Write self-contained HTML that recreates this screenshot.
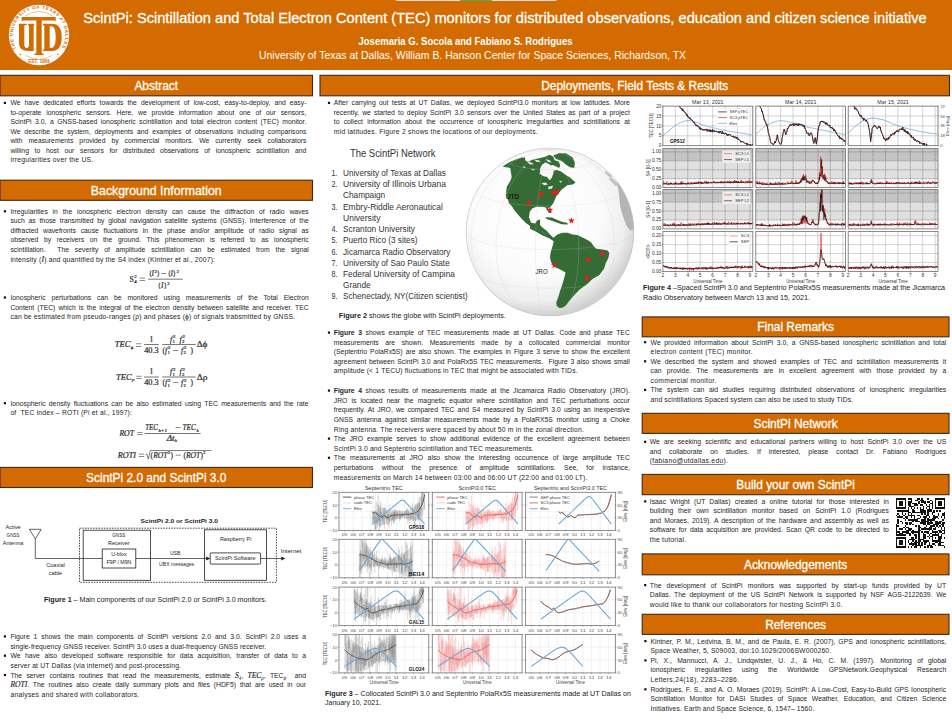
<!DOCTYPE html>
<html><head><meta charset="utf-8"><title>ScintPi poster</title>
<style>
html,body{margin:0;padding:0;background:#fff;width:952px;height:720px;overflow:hidden}
svg{display:block;font-family:"Liberation Sans",sans-serif}
text{fill:#222}
</style></head><body>
<svg width="952" height="720" viewBox="0 0 952 720">
<rect x="0" y="0" width="952" height="70" fill="#D46B00"/>
<rect x="396" y="0" width="160.5" height="1" fill="#d9d9d9"/>
<rect x="460" y="0" width="32" height="1" fill="#4caf50"/>
<g>
<circle cx="39" cy="35" r="30.2" fill="#fff"/>
<path id="arcTop" d="M 16.6 48.6 A 26.2 26.2 0 1 1 61.4 48.6" fill="none"/>
<text font-size="4.6" font-weight="bold" style="fill:#D46B00"><textPath href="#arcTop" textLength="109" lengthAdjust="spacing">THE UNIVERSITY OF TEXAS AT DALLAS</textPath></text>
<text x="39" y="62.6" font-size="5.0" font-weight="bold" text-anchor="middle" textLength="21.5" lengthAdjust="spacingAndGlyphs" style="fill:#D46B00">EST. 1969</text>
<circle cx="20.3" cy="54.6" r="0.75" fill="#D46B00"/><circle cx="57.7" cy="54.2" r="0.75" fill="#D46B00"/>
<path d="M 25.5 15.8 A 23.5 23.5 0 0 1 52.5 15.8" fill="none" stroke="#D46B00" stroke-width="0.45"/>
<path d="M 25.8 55.4 A 23.5 23.5 0 0 0 52.2 55.4" fill="none" stroke="#D46B00" stroke-width="0.45"/>
<path d="M18.7 23.7 H26.7 V25.3 H24.3 V44 Q24.3 48 26.8 48 Q29 48 29 44 V25.3 H28 V23.7 H34.3 V25.3 H33.7 V51 H28.5 Q19 51 19 43 V25.3 H18.7 Z" fill="#D46B00"/>
<path d="M43 23.7 H52 Q61.7 23.7 61.7 37.3 Q61.7 51 52 51 H43 V49.4 H44.3 V25.3 H43 Z M49.7 26.3 V48 H51.5 Q55.7 48 55.7 37.3 Q55.7 26.3 51.5 26.3 Z" fill="#D46B00" fill-rule="evenodd"/>
<path d="M21.7 17 H55.7 V21.5 Q54.8 20.6 53.6 20.6 H41.7 V52.8 Q41.7 53.8 43.6 53.8 V55 H34.4 V53.8 Q36.3 53.8 36.3 52.8 V20.6 H23.8 Q22.6 20.6 21.7 21.5 Z" fill="#D46B00"/>
</g>
<text x="83.20" y="22.70" font-size="15.2" textLength="843.50" lengthAdjust="spacingAndGlyphs" style="fill:#fff" stroke="#fff" stroke-width="0.3" xml:space="preserve">ScintPi: Scintillation and Total Electron Content (TEC) monitors for distributed observations, education and citizen science initiative</text>
<text x="358.50" y="44.60" font-size="10.2" textLength="214.00" lengthAdjust="spacingAndGlyphs" style="fill:#fff" xml:space="preserve"><tspan font-weight="bold">Josemaria G. Socola and Fabiano S. Rodrigues</tspan></text>
<text x="259.00" y="59.00" font-size="10.4" textLength="427.00" lengthAdjust="spacingAndGlyphs" style="fill:#fff" xml:space="preserve">University of Texas at Dallas, William B. Hanson Center for Space Sciences, Richardson, TX</text>
<rect x="0.0" y="75.3" width="312.50" height="20.50" fill="#D46B00" stroke="#3b2a1c" stroke-width="1.1"/>
<text x="156.25" y="90.15" font-size="12.8" textLength="43.67" lengthAdjust="spacingAndGlyphs" style="fill:#fff" text-anchor="middle" stroke="#fff" stroke-width="0.32" xml:space="preserve">Abstract</text>
<rect x="320" y="75.3" width="629.50" height="20.50" fill="#D46B00" stroke="#3b2a1c" stroke-width="1.1"/>
<text x="634.75" y="90.15" font-size="12.8" textLength="187.05" lengthAdjust="spacingAndGlyphs" style="fill:#fff" text-anchor="middle" stroke="#fff" stroke-width="0.32" xml:space="preserve">Deployments, Field Tests &amp; Results</text>
<rect x="0.0" y="180.2" width="312.50" height="20.10" fill="#D46B00" stroke="#3b2a1c" stroke-width="1.1"/>
<text x="156.25" y="194.85" font-size="12.8" textLength="130.83" lengthAdjust="spacingAndGlyphs" style="fill:#fff" text-anchor="middle" stroke="#fff" stroke-width="0.32" xml:space="preserve">Background Information</text>
<rect x="0.0" y="467.4" width="312.50" height="20.10" fill="#D46B00" stroke="#3b2a1c" stroke-width="1.1"/>
<text x="156.25" y="482.05" font-size="12.8" textLength="140.31" lengthAdjust="spacingAndGlyphs" style="fill:#fff" text-anchor="middle" stroke="#fff" stroke-width="0.32" xml:space="preserve">ScintPi 2.0 and ScintPi 3.0</text>
<rect x="642.2" y="316.9" width="306.80" height="19.90" fill="#D46B00" stroke="#3b2a1c" stroke-width="1.1"/>
<text x="795.60" y="331.45" font-size="12.8" textLength="76.75" lengthAdjust="spacingAndGlyphs" style="fill:#fff" text-anchor="middle" stroke="#fff" stroke-width="0.32" xml:space="preserve">Final Remarks</text>
<rect x="642.2" y="413.3" width="306.80" height="20.10" fill="#D46B00" stroke="#3b2a1c" stroke-width="1.1"/>
<text x="795.60" y="427.95" font-size="12.8" textLength="84.03" lengthAdjust="spacingAndGlyphs" style="fill:#fff" text-anchor="middle" stroke="#fff" stroke-width="0.32" xml:space="preserve">ScintPi Network</text>
<rect x="642.2" y="474.4" width="306.80" height="20.30" fill="#D46B00" stroke="#3b2a1c" stroke-width="1.1"/>
<text x="795.60" y="489.15" font-size="12.8" textLength="118.46" lengthAdjust="spacingAndGlyphs" style="fill:#fff" text-anchor="middle" stroke="#fff" stroke-width="0.32" xml:space="preserve">Build your own ScintPi</text>
<rect x="642.2" y="553.9" width="306.80" height="20.90" fill="#D46B00" stroke="#3b2a1c" stroke-width="1.1"/>
<text x="795.60" y="568.95" font-size="12.8" textLength="103.24" lengthAdjust="spacingAndGlyphs" style="fill:#fff" text-anchor="middle" stroke="#fff" stroke-width="0.32" xml:space="preserve">Acknowledgements</text>
<rect x="642.2" y="614.3" width="306.80" height="20.10" fill="#D46B00" stroke="#3b2a1c" stroke-width="1.1"/>
<text x="795.60" y="628.95" font-size="12.8" textLength="60.89" lengthAdjust="spacingAndGlyphs" style="fill:#fff" text-anchor="middle" stroke="#fff" stroke-width="0.32" xml:space="preserve">References</text>
<text x="10.40" y="105.40" font-size="6.8" textLength="296.00" lengthAdjust="spacing" style="fill:#262626" word-spacing="2.136" xml:space="preserve">We have dedicated efforts towards the development of low-cost, easy-to-deploy, and easy-</text>
<text x="10.40" y="114.87" font-size="6.8" textLength="296.00" lengthAdjust="spacing" style="fill:#262626" word-spacing="2.995" xml:space="preserve">to-operate ionospheric sensors. Here, we provide information about one of our sensors,</text>
<text x="10.40" y="124.34" font-size="6.8" textLength="296.00" lengthAdjust="spacing" style="fill:#262626" word-spacing="1.621" xml:space="preserve">ScintPi 3.0, a GNSS-based ionospheric scintillation and total electron content (TEC) monitor.</text>
<text x="10.40" y="133.81" font-size="6.8" textLength="296.00" lengthAdjust="spacing" style="fill:#262626" word-spacing="1.985" xml:space="preserve">We describe the system, deployments and examples of observations including comparisons</text>
<text x="10.40" y="143.28" font-size="6.8" textLength="296.00" lengthAdjust="spacing" style="fill:#262626" word-spacing="4.057" xml:space="preserve">with measurements provided by commercial monitors. We currently seek collaborators</text>
<text x="10.40" y="152.75" font-size="6.8" textLength="296.00" lengthAdjust="spacing" style="fill:#262626" word-spacing="3.785" xml:space="preserve">willing to host our sensors for distributed observations of ionospheric scintillation and</text>
<text x="10.40" y="162.22" font-size="6.8" textLength="82.85" lengthAdjust="spacing" style="fill:#262626" xml:space="preserve">irregularities over the US.</text>
<rect x="3.80" y="101.80" width="2.2" height="2.2" fill="#111"/>
<text x="10.40" y="213.80" font-size="6.8" textLength="298.30" lengthAdjust="spacing" style="fill:#262626" word-spacing="2.916" xml:space="preserve">Irregularities in the ionospheric electron density can cause the diffraction of radio waves</text>
<text x="10.40" y="223.34" font-size="6.8" textLength="298.30" lengthAdjust="spacing" style="fill:#262626" word-spacing="1.867" xml:space="preserve">such as those transmitted by global navigation satellite systems (GNSS). Interference of the</text>
<text x="10.40" y="232.88" font-size="6.8" textLength="298.30" lengthAdjust="spacing" style="fill:#262626" word-spacing="2.883" xml:space="preserve">diffracted wavefronts cause fluctuations in the phase and/or amplitude of radio signal as</text>
<text x="10.40" y="242.42" font-size="6.8" textLength="298.30" lengthAdjust="spacing" style="fill:#262626" word-spacing="3.671" xml:space="preserve">observed by receivers on the ground. This phenomenon is referred to as ionospheric</text>
<text x="10.40" y="251.96" font-size="6.8" textLength="298.30" lengthAdjust="spacing" style="fill:#262626" word-spacing="4.019" xml:space="preserve">scintillation.  The severity of amplitude scintillation can be estimated from the signal</text>
<text x="10.40" y="261.50" font-size="6.8" textLength="204.60" lengthAdjust="spacing" style="fill:#262626" xml:space="preserve">intensity (<tspan font-family="Liberation Serif" font-style="italic" font-size="7.62" stroke="currentColor" stroke-width="0.12">I</tspan>) and quantified by the S4 index (Kintner et al., 2007):</text>
<rect x="3.80" y="210.20" width="2.2" height="2.2" fill="#111"/>
<text x="10.40" y="300.00" font-size="6.8" textLength="298.30" lengthAdjust="spacing" style="fill:#262626" word-spacing="4.028" xml:space="preserve">Ionospheric perturbations can be monitored using measurements of the Total Electron</text>
<text x="10.40" y="309.60" font-size="6.8" textLength="298.30" lengthAdjust="spacing" style="fill:#262626" word-spacing="1.123" xml:space="preserve">Content (TEC) which is the integral of the electron density between satellite and receiver. TEC</text>
<text x="10.40" y="319.20" font-size="6.8" textLength="284.60" lengthAdjust="spacing" style="fill:#262626" xml:space="preserve">can be estimated from pseudo-ranges (ρ) and phases (ϕ) of signals trabsmitted by GNSS.</text>
<rect x="3.80" y="296.40" width="2.2" height="2.2" fill="#111"/>
<text x="10.40" y="405.70" font-size="6.8" textLength="298.10" lengthAdjust="spacing" style="fill:#262626" word-spacing="1.387" xml:space="preserve">Ionospheric density fluctuations can be also estimated using TEC measurements and the rate</text>
<text x="10.40" y="415.10" font-size="6.8" textLength="121.55" lengthAdjust="spacing" style="fill:#262626" xml:space="preserve">of  TEC index – ROTI (Pi et al., 1997):</text>
<rect x="3.80" y="402.10" width="2.2" height="2.2" fill="#111"/>
<text x="10.40" y="638.90" font-size="6.8" textLength="295.70" lengthAdjust="spacing" style="fill:#262626" word-spacing="2.050" xml:space="preserve">Figure 1 shows the main components of ScintPi versions 2.0 and 3.0. ScintPi 2.0 uses a</text>
<text x="10.40" y="648.50" font-size="6.8" textLength="255.80" lengthAdjust="spacing" style="fill:#262626" xml:space="preserve">single-frequency GNSS receiver. ScintPi 3.0 uses a dual-frequency GNSS receiver.</text>
<text x="10.40" y="658.20" font-size="6.8" textLength="295.70" lengthAdjust="spacing" style="fill:#262626" word-spacing="2.723" xml:space="preserve">We have also developed software responsible for data acquisition, transfer of data to a</text>
<text x="10.40" y="667.80" font-size="6.8" textLength="170.60" lengthAdjust="spacing" style="fill:#262626" xml:space="preserve">server at UT Dallas (via internet) and post-processing.</text>
<text x="10.40" y="677.50" font-size="6.8" textLength="295.70" lengthAdjust="spacing" style="fill:#262626" word-spacing="2.497" xml:space="preserve">The server contains routines that read the measurements, estimate <tspan font-family="Liberation Serif" font-style="italic" font-size="7.62" stroke="currentColor" stroke-width="0.12">S</tspan><tspan font-family="Liberation Serif" font-style="italic" font-size="5.10" baseline-shift="-1.6">4</tspan>, <tspan font-family="Liberation Serif" font-style="italic" font-size="7.62" stroke="currentColor" stroke-width="0.12">TEC</tspan><tspan font-family="Liberation Serif" font-style="italic" font-size="5.10" baseline-shift="-1.6">ρ</tspan>, TEC<tspan font-family="Liberation Serif" font-style="italic" font-size="5.10" baseline-shift="-1.6">ϕ</tspan>  and</text>
<text x="10.40" y="687.10" font-size="6.8" textLength="295.70" lengthAdjust="spacing" style="fill:#262626" word-spacing="2.010" xml:space="preserve"><tspan font-family="Liberation Serif" font-style="italic" font-size="7.62" stroke="currentColor" stroke-width="0.12">ROTI</tspan>. The routines also create daily summary plots and files (HDF5) that are used in our</text>
<text x="10.40" y="696.80" font-size="6.8" textLength="128.99" lengthAdjust="spacing" style="fill:#262626" xml:space="preserve">analyses and shared with collaborators.</text>
<rect x="3.80" y="635.30" width="2.2" height="2.2" fill="#111"/>
<rect x="3.80" y="654.60" width="2.2" height="2.2" fill="#111"/>
<rect x="3.80" y="673.90" width="2.2" height="2.2" fill="#111"/>
<text x="44.00" y="602.40" font-size="7.4" textLength="222.80" lengthAdjust="spacingAndGlyphs" style="fill:#222" xml:space="preserve"><tspan font-weight="bold">Figure 1</tspan> – Main components of our ScintPi 2.0 or ScintPi 3.0 monitors.</text>
<text x="333.80" y="105.40" font-size="6.8" textLength="296.00" lengthAdjust="spacing" style="fill:#262626" word-spacing="1.446" xml:space="preserve">After carrying out tests at UT Dallas, we deployed ScintPi3.0 monitors at low latitudes. More</text>
<text x="333.80" y="114.80" font-size="6.8" textLength="296.00" lengthAdjust="spacing" style="fill:#262626" word-spacing="1.288" xml:space="preserve">recently, we started to deploy ScintPi 3.0 sensors over the United States as part of a project</text>
<text x="333.80" y="124.30" font-size="6.8" textLength="296.00" lengthAdjust="spacing" style="fill:#262626" word-spacing="2.308" xml:space="preserve">to collect information about the occurrence of ionospheric irregularities and scintillations at</text>
<text x="333.80" y="133.70" font-size="6.8" textLength="203.92" lengthAdjust="spacing" style="fill:#262626" xml:space="preserve">mid latitudes. Figure 2 shows the locations of our deployments.</text>
<rect x="327.90" y="101.80" width="2.2" height="2.2" fill="#111"/>
<text x="338.80" y="318.20" font-size="6.9" textLength="167.00" lengthAdjust="spacingAndGlyphs" style="fill:#222" xml:space="preserve"><tspan font-weight="bold">Figure 2</tspan> shows the globe with ScintPi deployments.</text>
<text x="333.80" y="335.10" font-size="6.8" textLength="296.00" lengthAdjust="spacing" style="fill:#262626" word-spacing="1.707" xml:space="preserve"><tspan font-weight="bold">Figure 3</tspan> shows example of TEC measurements made at UT Dallas. Code and phase TEC</text>
<text x="333.80" y="344.67" font-size="6.8" textLength="296.00" lengthAdjust="spacing" style="fill:#262626" word-spacing="4.629" xml:space="preserve">measurements are shown. Measurements made by a collocated commercial monitor</text>
<text x="333.80" y="354.24" font-size="6.8" textLength="296.00" lengthAdjust="spacing" style="fill:#262626" word-spacing="1.175" xml:space="preserve">(Septentrio PolaRx5S) are also shown. The examples in Figure 3 serve to show the excellent</text>
<text x="333.80" y="363.81" font-size="6.8" textLength="296.00" lengthAdjust="spacing" style="fill:#262626" word-spacing="0.771" xml:space="preserve">agreement between ScintPi 3.0 and PolaRx5S TEC measurements.  Figure 3 also shows small</text>
<text x="333.80" y="373.38" font-size="6.8" textLength="243.80" lengthAdjust="spacing" style="fill:#262626" xml:space="preserve">amplitude (&lt; 1 TECU) fluctuations in TEC that might be associated with TIDs.</text>
<rect x="327.90" y="331.50" width="2.2" height="2.2" fill="#111"/>
<text x="333.80" y="393.10" font-size="6.8" textLength="296.00" lengthAdjust="spacing" style="fill:#262626" word-spacing="1.742" xml:space="preserve"><tspan font-weight="bold">Figure 4</tspan> shows results of measurements made at the Jicamarca Radio Observatory (JRO).</text>
<text x="333.80" y="402.70" font-size="6.8" textLength="296.00" lengthAdjust="spacing" style="fill:#262626" word-spacing="2.189" xml:space="preserve">JRO is located near the magnetic equator where scintillation and TEC perturbations occur</text>
<text x="333.80" y="412.30" font-size="6.8" textLength="296.00" lengthAdjust="spacing" style="fill:#262626" word-spacing="1.210" xml:space="preserve">frequently. At JRO, we compared TEC and S4 measured by ScintPi 3.0 using an inexpensive</text>
<text x="333.80" y="421.90" font-size="6.8" textLength="296.00" lengthAdjust="spacing" style="fill:#262626" word-spacing="1.769" xml:space="preserve">GNSS antenna against similar measurements made by a PolaRX5S monitor using a Choke</text>
<text x="333.80" y="431.50" font-size="6.8" textLength="250.00" lengthAdjust="spacing" style="fill:#262626" xml:space="preserve">Ring antenna. The receivers were spaced by about 50 m in the zonal direction.</text>
<text x="333.80" y="441.10" font-size="6.8" textLength="296.00" lengthAdjust="spacing" style="fill:#262626" word-spacing="2.020" xml:space="preserve">The JRO example serves to show additional evidence of the excellent agreement between</text>
<text x="333.80" y="450.70" font-size="6.8" textLength="199.80" lengthAdjust="spacing" style="fill:#262626" xml:space="preserve">ScintPi 3.0 and Septentrio scintillation and TEC measurements.</text>
<text x="333.80" y="460.30" font-size="6.8" textLength="296.00" lengthAdjust="spacing" style="fill:#262626" word-spacing="2.568" xml:space="preserve">The measurements at JRO also show the interesting occurrence of large amplitude TEC</text>
<text x="333.80" y="469.90" font-size="6.8" textLength="296.00" lengthAdjust="spacing" style="fill:#262626" word-spacing="6.389" xml:space="preserve">perturbations without the presence of amplitude scintillations. See, for instance,</text>
<rect x="327.90" y="389.50" width="2.2" height="2.2" fill="#111"/>
<rect x="327.90" y="437.50" width="2.2" height="2.2" fill="#111"/>
<rect x="327.90" y="456.70" width="2.2" height="2.2" fill="#111"/>
<text x="333.80" y="479.50" font-size="6.8" textLength="253.50" lengthAdjust="spacing" style="fill:#262626" xml:space="preserve">measurements on March 14 between 03:00 and 06:00 UT (22:00 and 01:00 LT).</text>
<text x="325.00" y="695.60" font-size="7.6" textLength="306.00" lengthAdjust="spacingAndGlyphs" style="fill:#222" xml:space="preserve"><tspan font-weight="bold">Figure 3</tspan> – Collocated ScintPi 3.0 and Septentrio PolaRx5S measurements made at UT Dallas on</text>
<text x="325.00" y="704.80" font-size="7.6" textLength="56.00" lengthAdjust="spacingAndGlyphs" style="fill:#222" xml:space="preserve">January 10, 2021.</text>
<text x="643.00" y="290.40" font-size="7.4" textLength="302.00" lengthAdjust="spacingAndGlyphs" style="fill:#222" xml:space="preserve"><tspan font-weight="bold">Figure 4</tspan> –Spaced ScintPi 3.0 and Septentrio PolaRx5S measurements made at the Jicamarca</text>
<text x="643.00" y="299.80" font-size="7.4" textLength="167.00" lengthAdjust="spacingAndGlyphs" style="fill:#222" xml:space="preserve">Radio Observatory between March 13 and 15, 2021.</text>
<text x="650.60" y="344.70" font-size="6.8" textLength="295.60" lengthAdjust="spacing" style="fill:#262626" word-spacing="1.767" xml:space="preserve">We provided information about ScintPi 3.0, a GNSS-based ionospheric scintillation and total</text>
<text x="650.60" y="354.20" font-size="6.8" textLength="102.03" lengthAdjust="spacing" style="fill:#262626" xml:space="preserve">electron content (TEC) monitor.</text>
<text x="650.60" y="363.80" font-size="6.8" textLength="295.60" lengthAdjust="spacing" style="fill:#262626" word-spacing="2.199" xml:space="preserve">We described the system and showed examples of TEC and scintillation measurements it</text>
<text x="650.60" y="373.30" font-size="6.8" textLength="295.60" lengthAdjust="spacing" style="fill:#262626" word-spacing="3.415" xml:space="preserve">can provide. The measurements are in excellent agreement with those provided by a</text>
<text x="650.60" y="382.90" font-size="6.8" textLength="65.70" lengthAdjust="spacing" style="fill:#262626" xml:space="preserve">commercial monitor.</text>
<text x="650.60" y="392.40" font-size="6.8" textLength="295.60" lengthAdjust="spacing" style="fill:#262626" word-spacing="2.802" xml:space="preserve">The system can aid studies requiring distributed observations of ionospheric irregularities</text>
<text x="650.60" y="401.60" font-size="6.8" textLength="202.60" lengthAdjust="spacing" style="fill:#262626" xml:space="preserve">and scintillations Spaced system can also be used to study TIDs.</text>
<rect x="644.00" y="341.10" width="2.2" height="2.2" fill="#111"/>
<rect x="644.00" y="360.20" width="2.2" height="2.2" fill="#111"/>
<rect x="644.00" y="388.80" width="2.2" height="2.2" fill="#111"/>
<text x="649.80" y="444.30" font-size="6.8" textLength="296.40" lengthAdjust="spacing" style="fill:#262626" word-spacing="2.121" xml:space="preserve">We are seeking scientific and educational partners willing to host ScintPi 3.0 over the US</text>
<text x="649.80" y="453.90" font-size="6.8" textLength="296.40" lengthAdjust="spacing" style="fill:#262626" word-spacing="6.016" xml:space="preserve">and collaborate on studies. If interested, please contact Dr. Fabiano Rodrigues</text>
<text x="649.80" y="463.30" font-size="6.8" textLength="78.08" lengthAdjust="spacing" style="fill:#262626" xml:space="preserve">(fabiano@utdallas.edu).</text>
<rect x="644.10" y="440.70" width="2.2" height="2.2" fill="#111"/>
<rect x="652.5" y="464.3" width="71" height="0.6" fill="#444"/>
<text x="649.80" y="503.90" font-size="6.8" textLength="239.00" lengthAdjust="spacing" style="fill:#262626" word-spacing="2.304" xml:space="preserve">Isaac Wright (UT Dallas) created a online tutorial for those interested in</text>
<text x="649.80" y="513.30" font-size="6.8" textLength="239.00" lengthAdjust="spacing" style="fill:#262626" word-spacing="2.996" xml:space="preserve">building their own scintillation monitor based on ScintPi 1.0 (Rodrigues</text>
<text x="649.80" y="522.80" font-size="6.8" textLength="239.00" lengthAdjust="spacing" style="fill:#262626" word-spacing="1.239" xml:space="preserve">and Moraes, 2019). A description of the hardware and assembly as well as</text>
<text x="649.80" y="532.20" font-size="6.8" textLength="239.00" lengthAdjust="spacing" style="fill:#262626" word-spacing="1.333" xml:space="preserve">software for data acquisition are provided. Scan QR code to be directed to</text>
<text x="649.80" y="542.00" font-size="6.8" textLength="36.33" lengthAdjust="spacing" style="fill:#262626" xml:space="preserve">the tutorial.</text>
<rect x="644.10" y="500.30" width="2.2" height="2.2" fill="#111"/>
<text x="649.80" y="587.60" font-size="6.8" textLength="296.40" lengthAdjust="spacing" style="fill:#262626" word-spacing="3.220" xml:space="preserve">The development of ScintPi monitors was supported by start-up funds provided by UT</text>
<text x="649.80" y="597.20" font-size="6.8" textLength="296.40" lengthAdjust="spacing" style="fill:#262626" word-spacing="1.771" xml:space="preserve">Dallas. The deployment of the US ScintPi Network is supported by NSF AGS-2122639. We</text>
<text x="649.80" y="606.80" font-size="6.8" textLength="192.67" lengthAdjust="spacing" style="fill:#262626" xml:space="preserve">would like to thank our collaborators for hosting ScintPi 3.0.</text>
<rect x="644.10" y="584.00" width="2.2" height="2.2" fill="#111"/>
<text x="650.40" y="643.60" font-size="6.8" textLength="295.80" lengthAdjust="spacing" style="fill:#262626" word-spacing="1.057" xml:space="preserve">Kintner, P. M., Ledvina, B. M., and de Paula, E. R. (2007), GPS and ionospheric scintillations,</text>
<text x="650.40" y="653.10" font-size="6.8" textLength="180.80" lengthAdjust="spacing" style="fill:#262626" xml:space="preserve">Space Weather, 5, S09003, doi:10.1029/2006SW000260.</text>
<text x="650.40" y="662.90" font-size="6.8" textLength="295.80" lengthAdjust="spacing" style="fill:#262626" word-spacing="3.369" xml:space="preserve">Pi, X., Mannucci, A. J., Lindqwister, U. J., &amp; Ho, C. M. (1997). Monitoring of global</text>
<text x="650.40" y="672.40" font-size="6.8" textLength="295.80" lengthAdjust="spacing" style="fill:#262626" word-spacing="7.938" xml:space="preserve">ionospheric irregularities using the Worldwide GPSNetwork.Geophysical Research</text>
<text x="650.40" y="682.20" font-size="6.8" textLength="88.59" lengthAdjust="spacing" style="fill:#262626" xml:space="preserve">Letters,24(18), 2283–2286.</text>
<text x="650.40" y="691.80" font-size="6.8" textLength="295.80" lengthAdjust="spacing" style="fill:#262626" word-spacing="0.659" xml:space="preserve">Rodrigues, F. S., and A. O. Moraes (2019). ScintPi: A Low-Cost, Easy-to-Build GPS Ionospheric</text>
<text x="650.40" y="701.40" font-size="6.8" textLength="295.80" lengthAdjust="spacing" style="fill:#262626" word-spacing="2.816" xml:space="preserve">Scintillation Monitor for DASI Studies of Space Weather, Education, and Citizen Science</text>
<text x="650.40" y="710.90" font-size="6.8" textLength="163.90" lengthAdjust="spacing" style="fill:#262626" xml:space="preserve">Initiatives. Earth and Space Science, 6, 1547– 1560.</text>
<rect x="644.30" y="640.00" width="2.2" height="2.2" fill="#111"/>
<rect x="644.30" y="659.30" width="2.2" height="2.2" fill="#111"/>
<rect x="644.30" y="688.20" width="2.2" height="2.2" fill="#111"/>
<text x="129.60" y="281.80" font-size="7.8" font-family="Liberation Serif" style="fill:#2a2a2a" stroke="#2a2a2a" stroke-width="0.2" xml:space="preserve">S</text>
<text x="134.20" y="283.30" font-size="5.0" font-family="Liberation Serif" style="fill:#2a2a2a" stroke="#2a2a2a" stroke-width="0.2" xml:space="preserve">4</text>
<text x="134.20" y="277.90" font-size="5.0" font-family="Liberation Serif" style="fill:#2a2a2a" stroke="#2a2a2a" stroke-width="0.2" xml:space="preserve">2</text>
<rect x="139.60" y="277.78" width="5.40" height="0.55" fill="#2a2a2a"/><rect x="139.60" y="280.28" width="5.40" height="0.55" fill="#2a2a2a"/>
<rect x="148.00" y="278.78" width="34.80" height="0.65" fill="#2a2a2a"/>
<text x="148.60" y="275.90" font-size="7.4" font-family="Liberation Serif" style="fill:#2a2a2a" stroke="#2a2a2a" stroke-width="0.2" xml:space="preserve">⟨</text>
<text x="151.40" y="275.90" font-size="7.4" font-family="Liberation Serif" font-style="italic" style="fill:#2a2a2a" stroke="#2a2a2a" stroke-width="0.2" xml:space="preserve">I</text>
<text x="154.40" y="272.90" font-size="5.0" font-family="Liberation Serif" style="fill:#2a2a2a" stroke="#2a2a2a" stroke-width="0.2" xml:space="preserve">2</text>
<text x="156.60" y="275.90" font-size="7.4" font-family="Liberation Serif" style="fill:#2a2a2a" stroke="#2a2a2a" stroke-width="0.2" xml:space="preserve">⟩</text>
<rect x="161.20" y="273.23" width="4.80" height="0.55" fill="#2a2a2a"/>
<text x="167.60" y="275.90" font-size="7.4" font-family="Liberation Serif" style="fill:#2a2a2a" stroke="#2a2a2a" stroke-width="0.2" xml:space="preserve">⟨</text>
<text x="170.40" y="275.90" font-size="7.4" font-family="Liberation Serif" font-style="italic" style="fill:#2a2a2a" stroke="#2a2a2a" stroke-width="0.2" xml:space="preserve">I</text>
<text x="173.20" y="275.90" font-size="7.4" font-family="Liberation Serif" style="fill:#2a2a2a" stroke="#2a2a2a" stroke-width="0.2" xml:space="preserve">⟩</text>
<text x="176.60" y="272.90" font-size="5.0" font-family="Liberation Serif" style="fill:#2a2a2a" stroke="#2a2a2a" stroke-width="0.2" xml:space="preserve">2</text>
<text x="158.20" y="287.60" font-size="7.4" font-family="Liberation Serif" style="fill:#2a2a2a" stroke="#2a2a2a" stroke-width="0.2" xml:space="preserve">⟨</text>
<text x="161.00" y="287.60" font-size="7.4" font-family="Liberation Serif" font-style="italic" style="fill:#2a2a2a" stroke="#2a2a2a" stroke-width="0.2" xml:space="preserve">I</text>
<text x="163.80" y="287.60" font-size="7.4" font-family="Liberation Serif" style="fill:#2a2a2a" stroke="#2a2a2a" stroke-width="0.2" xml:space="preserve">⟩</text>
<text x="167.20" y="284.60" font-size="5.0" font-family="Liberation Serif" style="fill:#2a2a2a" stroke="#2a2a2a" stroke-width="0.2" xml:space="preserve">2</text>
<text x="114.70" y="347.30" font-size="7.6" font-family="Liberation Serif" font-style="italic" textLength="15.80" lengthAdjust="spacingAndGlyphs" style="fill:#2a2a2a" stroke="#2a2a2a" stroke-width="0.2" xml:space="preserve">TEC</text>
<text x="130.70" y="349.10" font-size="5.0" font-family="Liberation Serif" font-style="italic" style="fill:#2a2a2a" stroke="#2a2a2a" stroke-width="0.2" xml:space="preserve">ϕ</text>
<rect x="135.90" y="343.58" width="5.40" height="0.55" fill="#2a2a2a"/><rect x="135.90" y="346.08" width="5.40" height="0.55" fill="#2a2a2a"/>
<rect x="144.10" y="344.38" width="14.70" height="0.65" fill="#2a2a2a"/>
<text x="151.50" y="341.70" font-size="7.6" font-family="Liberation Serif" text-anchor="middle" style="fill:#2a2a2a" stroke="#2a2a2a" stroke-width="0.2" xml:space="preserve">1</text>
<text x="151.50" y="353.00" font-size="7.6" font-family="Liberation Serif" text-anchor="middle" textLength="14.60" lengthAdjust="spacingAndGlyphs" style="fill:#2a2a2a" stroke="#2a2a2a" stroke-width="0.2" xml:space="preserve">40.3</text>
<rect x="162.20" y="344.38" width="33.40" height="0.65" fill="#2a2a2a"/>
<text x="170.00" y="341.60" font-size="8.0" font-family="Liberation Serif" font-style="italic" style="fill:#2a2a2a" stroke="#2a2a2a" stroke-width="0.2" xml:space="preserve">f</text><text x="172.90" y="338.20" font-size="4.8" font-family="Liberation Serif" style="fill:#2a2a2a" stroke="#2a2a2a" stroke-width="0.2" xml:space="preserve">2</text><text x="172.50" y="343.30" font-size="4.8" font-family="Liberation Serif" style="fill:#2a2a2a" stroke="#2a2a2a" stroke-width="0.2" xml:space="preserve">1</text>
<text x="179.50" y="341.60" font-size="8.0" font-family="Liberation Serif" font-style="italic" style="fill:#2a2a2a" stroke="#2a2a2a" stroke-width="0.2" xml:space="preserve">f</text><text x="182.40" y="338.20" font-size="4.8" font-family="Liberation Serif" style="fill:#2a2a2a" stroke="#2a2a2a" stroke-width="0.2" xml:space="preserve">2</text><text x="182.00" y="343.30" font-size="4.8" font-family="Liberation Serif" style="fill:#2a2a2a" stroke="#2a2a2a" stroke-width="0.2" xml:space="preserve">2</text>
<text x="162.40" y="352.70" font-size="7.4" font-family="Liberation Serif" style="fill:#2a2a2a" stroke="#2a2a2a" stroke-width="0.2" xml:space="preserve">(</text>
<text x="165.00" y="352.70" font-size="8.0" font-family="Liberation Serif" font-style="italic" style="fill:#2a2a2a" stroke="#2a2a2a" stroke-width="0.2" xml:space="preserve">f</text><text x="167.90" y="349.30" font-size="4.8" font-family="Liberation Serif" style="fill:#2a2a2a" stroke="#2a2a2a" stroke-width="0.2" xml:space="preserve">2</text><text x="167.50" y="354.40" font-size="4.8" font-family="Liberation Serif" style="fill:#2a2a2a" stroke="#2a2a2a" stroke-width="0.2" xml:space="preserve">1</text>
<rect x="173.20" y="350.03" width="5.20" height="0.55" fill="#2a2a2a"/>
<text x="181.00" y="352.70" font-size="8.0" font-family="Liberation Serif" font-style="italic" style="fill:#2a2a2a" stroke="#2a2a2a" stroke-width="0.2" xml:space="preserve">f</text><text x="183.90" y="349.30" font-size="4.8" font-family="Liberation Serif" style="fill:#2a2a2a" stroke="#2a2a2a" stroke-width="0.2" xml:space="preserve">2</text><text x="183.50" y="354.40" font-size="4.8" font-family="Liberation Serif" style="fill:#2a2a2a" stroke="#2a2a2a" stroke-width="0.2" xml:space="preserve">2</text>
<text x="190.40" y="352.70" font-size="7.4" font-family="Liberation Serif" style="fill:#2a2a2a" stroke="#2a2a2a" stroke-width="0.2" xml:space="preserve">)</text>
<text x="196.70" y="347.30" font-size="7.6" font-family="Liberation Serif" textLength="10.80" lengthAdjust="spacingAndGlyphs" style="fill:#2a2a2a" stroke="#2a2a2a" stroke-width="0.2" xml:space="preserve">Δϕ</text>
<text x="116.00" y="379.60" font-size="7.6" font-family="Liberation Serif" font-style="italic" textLength="15.80" lengthAdjust="spacingAndGlyphs" style="fill:#2a2a2a" stroke="#2a2a2a" stroke-width="0.2" xml:space="preserve">TEC</text>
<text x="132.00" y="381.40" font-size="5.0" font-family="Liberation Serif" font-style="italic" style="fill:#2a2a2a" stroke="#2a2a2a" stroke-width="0.2" xml:space="preserve">ρ</text>
<rect x="136.16" y="375.88" width="5.40" height="0.55" fill="#2a2a2a"/><rect x="136.16" y="378.38" width="5.40" height="0.55" fill="#2a2a2a"/>
<rect x="144.10" y="376.68" width="14.70" height="0.65" fill="#2a2a2a"/>
<text x="151.50" y="374.00" font-size="7.6" font-family="Liberation Serif" text-anchor="middle" style="fill:#2a2a2a" stroke="#2a2a2a" stroke-width="0.2" xml:space="preserve">1</text>
<text x="151.50" y="385.30" font-size="7.6" font-family="Liberation Serif" text-anchor="middle" textLength="14.60" lengthAdjust="spacingAndGlyphs" style="fill:#2a2a2a" stroke="#2a2a2a" stroke-width="0.2" xml:space="preserve">40.3</text>
<rect x="162.20" y="376.68" width="33.40" height="0.65" fill="#2a2a2a"/>
<text x="170.00" y="373.90" font-size="8.0" font-family="Liberation Serif" font-style="italic" style="fill:#2a2a2a" stroke="#2a2a2a" stroke-width="0.2" xml:space="preserve">f</text><text x="172.90" y="370.50" font-size="4.8" font-family="Liberation Serif" style="fill:#2a2a2a" stroke="#2a2a2a" stroke-width="0.2" xml:space="preserve">2</text><text x="172.50" y="375.60" font-size="4.8" font-family="Liberation Serif" style="fill:#2a2a2a" stroke="#2a2a2a" stroke-width="0.2" xml:space="preserve">1</text>
<text x="179.50" y="373.90" font-size="8.0" font-family="Liberation Serif" font-style="italic" style="fill:#2a2a2a" stroke="#2a2a2a" stroke-width="0.2" xml:space="preserve">f</text><text x="182.40" y="370.50" font-size="4.8" font-family="Liberation Serif" style="fill:#2a2a2a" stroke="#2a2a2a" stroke-width="0.2" xml:space="preserve">2</text><text x="182.00" y="375.60" font-size="4.8" font-family="Liberation Serif" style="fill:#2a2a2a" stroke="#2a2a2a" stroke-width="0.2" xml:space="preserve">2</text>
<text x="162.40" y="385.00" font-size="7.4" font-family="Liberation Serif" style="fill:#2a2a2a" stroke="#2a2a2a" stroke-width="0.2" xml:space="preserve">(</text>
<text x="165.00" y="385.00" font-size="8.0" font-family="Liberation Serif" font-style="italic" style="fill:#2a2a2a" stroke="#2a2a2a" stroke-width="0.2" xml:space="preserve">f</text><text x="167.90" y="381.60" font-size="4.8" font-family="Liberation Serif" style="fill:#2a2a2a" stroke="#2a2a2a" stroke-width="0.2" xml:space="preserve">2</text><text x="167.50" y="386.70" font-size="4.8" font-family="Liberation Serif" style="fill:#2a2a2a" stroke="#2a2a2a" stroke-width="0.2" xml:space="preserve">1</text>
<rect x="173.20" y="382.33" width="5.20" height="0.55" fill="#2a2a2a"/>
<text x="181.00" y="385.00" font-size="8.0" font-family="Liberation Serif" font-style="italic" style="fill:#2a2a2a" stroke="#2a2a2a" stroke-width="0.2" xml:space="preserve">f</text><text x="183.90" y="381.60" font-size="4.8" font-family="Liberation Serif" style="fill:#2a2a2a" stroke="#2a2a2a" stroke-width="0.2" xml:space="preserve">2</text><text x="183.50" y="386.70" font-size="4.8" font-family="Liberation Serif" style="fill:#2a2a2a" stroke="#2a2a2a" stroke-width="0.2" xml:space="preserve">2</text>
<text x="190.40" y="385.00" font-size="7.4" font-family="Liberation Serif" style="fill:#2a2a2a" stroke="#2a2a2a" stroke-width="0.2" xml:space="preserve">)</text>
<text x="196.70" y="379.60" font-size="7.6" font-family="Liberation Serif" textLength="10.80" lengthAdjust="spacingAndGlyphs" style="fill:#2a2a2a" stroke="#2a2a2a" stroke-width="0.2" xml:space="preserve">Δρ</text>
<text x="119.40" y="435.70" font-size="7.8" font-family="Liberation Serif" font-style="italic" textLength="14.60" lengthAdjust="spacingAndGlyphs" style="fill:#2a2a2a" stroke="#2a2a2a" stroke-width="0.2" xml:space="preserve">ROT</text>
<rect x="137.20" y="431.98" width="5.40" height="0.55" fill="#2a2a2a"/><rect x="137.20" y="434.48" width="5.40" height="0.55" fill="#2a2a2a"/>
<rect x="144.70" y="433.28" width="55.90" height="0.65" fill="#2a2a2a"/>
<text x="145.30" y="429.80" font-size="7.6" font-family="Liberation Serif" font-style="italic" textLength="12.60" lengthAdjust="spacingAndGlyphs" style="fill:#2a2a2a" stroke="#2a2a2a" stroke-width="0.2" xml:space="preserve">TEC</text>
<text x="158.40" y="431.60" font-size="5.0" font-family="Liberation Serif" font-style="italic" textLength="8.80" lengthAdjust="spacingAndGlyphs" style="fill:#2a2a2a" stroke="#2a2a2a" stroke-width="0.2" xml:space="preserve">k+1</text>
<rect x="175.60" y="427.03" width="5.00" height="0.55" fill="#2a2a2a"/>
<text x="182.50" y="429.80" font-size="7.6" font-family="Liberation Serif" font-style="italic" textLength="13.20" lengthAdjust="spacingAndGlyphs" style="fill:#2a2a2a" stroke="#2a2a2a" stroke-width="0.2" xml:space="preserve">TEC</text>
<text x="196.40" y="431.60" font-size="5.0" font-family="Liberation Serif" font-style="italic" style="fill:#2a2a2a" stroke="#2a2a2a" stroke-width="0.2" xml:space="preserve">k</text>
<text x="166.70" y="440.60" font-size="7.4" font-family="Liberation Serif" font-style="italic" textLength="8.00" lengthAdjust="spacingAndGlyphs" style="fill:#2a2a2a" stroke="#2a2a2a" stroke-width="0.2" xml:space="preserve">Δt</text>
<text x="174.80" y="442.20" font-size="5.0" font-family="Liberation Serif" font-style="italic" style="fill:#2a2a2a" stroke="#2a2a2a" stroke-width="0.2" xml:space="preserve">k</text>
<text x="117.80" y="457.50" font-size="7.8" font-family="Liberation Serif" font-style="italic" textLength="18.10" lengthAdjust="spacingAndGlyphs" style="fill:#2a2a2a" stroke="#2a2a2a" stroke-width="0.2" xml:space="preserve">ROTI</text>
<rect x="138.80" y="453.78" width="5.40" height="0.55" fill="#2a2a2a"/><rect x="138.80" y="456.28" width="5.40" height="0.55" fill="#2a2a2a"/>
<path d="M145.6 454.6 L146.8 454.1 L148.3 459.0 L150.4 450.5 L211.5 450.5" fill="none" stroke="#2a2a2a" stroke-width="0.6"/>
<text x="150.60" y="457.50" font-size="7.4" font-family="Liberation Serif" style="fill:#2a2a2a" stroke="#2a2a2a" stroke-width="0.2" xml:space="preserve">(</text>
<text x="153.20" y="457.50" font-size="7.6" font-family="Liberation Serif" font-style="italic" textLength="14.20" lengthAdjust="spacingAndGlyphs" style="fill:#2a2a2a" stroke="#2a2a2a" stroke-width="0.2" xml:space="preserve">ROT</text>
<text x="167.80" y="454.40" font-size="5.0" font-family="Liberation Serif" style="fill:#2a2a2a" stroke="#2a2a2a" stroke-width="0.2" xml:space="preserve">2</text>
<text x="170.60" y="457.50" font-size="7.4" font-family="Liberation Serif" style="fill:#2a2a2a" stroke="#2a2a2a" stroke-width="0.2" xml:space="preserve">)</text>
<rect x="175.60" y="454.83" width="5.20" height="0.55" fill="#2a2a2a"/>
<text x="183.40" y="457.50" font-size="7.4" font-family="Liberation Serif" style="fill:#2a2a2a" stroke="#2a2a2a" stroke-width="0.2" xml:space="preserve">(</text>
<text x="186.00" y="457.50" font-size="7.6" font-family="Liberation Serif" font-style="italic" textLength="14.20" lengthAdjust="spacingAndGlyphs" style="fill:#2a2a2a" stroke="#2a2a2a" stroke-width="0.2" xml:space="preserve">ROT</text>
<text x="200.40" y="457.50" font-size="7.4" font-family="Liberation Serif" style="fill:#2a2a2a" stroke="#2a2a2a" stroke-width="0.2" xml:space="preserve">)</text>
<text x="203.00" y="454.20" font-size="5.0" font-family="Liberation Serif" style="fill:#2a2a2a" stroke="#2a2a2a" stroke-width="0.2" xml:space="preserve">2</text>
<rect x="79.5" y="528.2" width="196.9" height="54.1" stroke="#222" fill="none" stroke-width="0.8" stroke-dasharray="1.6,1.1"/>
<rect x="83.2" y="530.2" width="67.2" height="50.1" stroke="#222" fill="none" stroke-width="0.8"/>
<rect x="102.2" y="549" width="33.6" height="19" stroke="#222" fill="none" stroke-width="0.8"/>
<rect x="204.6" y="529.8" width="61.9" height="50.5" stroke="#222" fill="none" stroke-width="0.8"/>
<rect x="210.2" y="552.9" width="50.4" height="11.2" rx="0.5" stroke="#222" fill="none" stroke-width="0.8"/>
<path d="M29.4 529.3 H41.2 L35.3 538.9 Z" stroke="#222" fill="none" stroke-width="0.7"/>
<path d="M35.3 538.9 V558.5 H102.2" stroke="#222" fill="none" stroke-width="0.7"/>
<path d="M135.8 558.5 H207.5" stroke="#222" fill="none" stroke-width="0.7"/>
<path d="M210.2 558.5 L206.2 556.6 L206.2 560.4 Z" fill="#222"/>
<path d="M260.6 558.5 H282" stroke="#222" fill="none" stroke-width="0.7"/>
<path d="M285.3 558.5 L281.3 556.6 L281.3 560.4 Z" fill="#222"/>
<text x="179.30" y="522.80" font-size="6.0" textLength="77.50" lengthAdjust="spacingAndGlyphs" style="fill:#1e1e1e" text-anchor="middle" xml:space="preserve"><tspan font-weight="bold">ScintPi 2.0 or ScintPi 3.0</tspan></text>
<text x="13.10" y="528.80" font-size="5.6" textLength="15.00" lengthAdjust="spacingAndGlyphs" style="fill:#1e1e1e" text-anchor="middle" xml:space="preserve">Active</text>
<text x="13.10" y="536.60" font-size="5.6" textLength="13.00" lengthAdjust="spacingAndGlyphs" style="fill:#1e1e1e" text-anchor="middle" xml:space="preserve">GNSS</text>
<text x="13.10" y="544.50" font-size="5.6" textLength="20.50" lengthAdjust="spacingAndGlyphs" style="fill:#1e1e1e" text-anchor="middle" xml:space="preserve">Antenna</text>
<text x="55.50" y="566.80" font-size="5.6" textLength="18.50" lengthAdjust="spacingAndGlyphs" style="fill:#1e1e1e" text-anchor="middle" xml:space="preserve">Coaxial</text>
<text x="55.50" y="574.70" font-size="5.6" textLength="13.50" lengthAdjust="spacingAndGlyphs" style="fill:#1e1e1e" text-anchor="middle" xml:space="preserve">cable</text>
<text x="118.80" y="536.60" font-size="5.6" textLength="13.00" lengthAdjust="spacingAndGlyphs" style="fill:#1e1e1e" text-anchor="middle" xml:space="preserve">GNSS</text>
<text x="118.80" y="544.50" font-size="5.6" textLength="21.50" lengthAdjust="spacingAndGlyphs" style="fill:#1e1e1e" text-anchor="middle" xml:space="preserve">Receiver</text>
<text x="118.90" y="556.20" font-size="5.6" textLength="15.50" lengthAdjust="spacingAndGlyphs" style="fill:#1e1e1e" text-anchor="middle" xml:space="preserve">U-blox</text>
<text x="118.90" y="564.10" font-size="5.6" textLength="25.00" lengthAdjust="spacingAndGlyphs" style="fill:#1e1e1e" text-anchor="middle" xml:space="preserve">F9P / M9N</text>
<text x="175.20" y="555.40" font-size="5.6" textLength="10.50" lengthAdjust="spacingAndGlyphs" style="fill:#1e1e1e" text-anchor="middle" xml:space="preserve">USB</text>
<text x="176.60" y="565.50" font-size="5.6" textLength="35.00" lengthAdjust="spacingAndGlyphs" style="fill:#1e1e1e" text-anchor="middle" xml:space="preserve">UBX messages</text>
<text x="235.70" y="540.60" font-size="5.6" textLength="31.50" lengthAdjust="spacingAndGlyphs" style="fill:#1e1e1e" text-anchor="middle" xml:space="preserve">Raspberry Pi</text>
<text x="235.30" y="560.40" font-size="5.6" textLength="40.50" lengthAdjust="spacingAndGlyphs" style="fill:#1e1e1e" text-anchor="middle" xml:space="preserve">ScintPi Software</text>
<text x="280.80" y="552.90" font-size="5.6" textLength="20.50" lengthAdjust="spacingAndGlyphs" style="fill:#1e1e1e" text-anchor="start" xml:space="preserve">Internet</text>
<defs><radialGradient id="gl" cx="0.42" cy="0.38" r="0.62"><stop offset="0" stop-color="#ffffff"/><stop offset="0.62" stop-color="#fbfbfb"/><stop offset="0.86" stop-color="#eeeeee"/><stop offset="1" stop-color="#d2d2d2"/></radialGradient><clipPath id="gclip"><circle cx="550" cy="232" r="84"/></clipPath></defs>
<circle cx="550" cy="232" r="84" fill="url(#gl)"/>
<g clip-path="url(#gclip)">
<polygon points="616.2,183.7 618.1,187.5 619.4,197.5 620,206 622.5,215 626.2,225 630,230.5 640,228 640,180 622,178" fill="#b4b4b4"/>
<polygon points="596,167 600,170 602,172 598,168" fill="#c0c0c0"/>
<polygon points="604.5,172.5 610,177.5 612,176 606,171" fill="#c0c0c0"/>
<polygon points="608.8,178.7 615.6,186 618,184 611,177" fill="#c0c0c0"/>
<polygon points="502.6,166.5 506.8,163.8 510.3,161.7 515.8,159.6 521.4,157.5 524.9,157.5 525.6,161.0 528.3,161.7 531.8,160.0 535.3,158.9 539.4,158.2 545.0,156.8 549.9,154.7 553.3,156.8 554.7,160.3 558.9,161.7 560.3,165.8 558.9,167.9 554.7,165.8 551.9,165.1 549.2,167.2 545.7,167.9 540.8,170.7 539.4,173.5 543.6,176.2 547.8,176.9 550.6,179.0 551.9,174.9 553.3,170.7 556.8,170.0 561.0,171.4 565.8,174.9 570.0,177.6 575.6,182.5 572.8,184.6 567.2,185.3 564.4,187.4 561.7,189.4 558.9,192.9 556.1,196.4 554.7,199.9 553.3,203.3 550.6,206.8 547.8,208.2 549.9,210.3 551.2,213.1 549.2,213.1 547.1,210.3 545.7,207.5 542.2,206.8 536.7,206.8 532.5,208.2 529.7,211.7 529.0,217.2 531.1,222.8 535.3,223.5 536.7,220.7 540.1,219.3 540.1,225.3 543.3,228.3 546.7,230.8 549.7,234.2 553.3,237.8 557.2,241.5 555.3,242.8 551.4,239.4 547.8,236.1 543.9,232.5 539.4,230.0 534.2,227.8 529.7,225.8 525.6,222.8 521.4,218.6 517.9,214.4 514.4,210.3 511.7,206.1 508.9,203.3 507.5,197.8 506.1,192.2 506.8,186.7 510.3,181.1 511.7,176.9 511.0,172.8 510.3,167.9 506.1,167.2" fill="#356b35"/>
<polygon points="540.1,168.6 542.2,164.4 545.7,162.4 548.5,163.8 551.2,165.8 553.3,169.3 553.6,172.8 551.9,177.6 549.9,180.3 547.8,178.3 546.4,174.9 542.9,173.5 540.1,172.1" fill="#f6f6f6"/>
<polygon points="526.9,161.4 531.1,162.5 533.9,164.2 530.0,164.4" fill="#f4f4f4"/>
<polygon points="534.2,159.4 539.2,160.6 540.6,162.2 536.4,161.7" fill="#f4f4f4"/>
<polygon points="546.1,158.9 549.9,160.6 551.7,162.5 547.8,161.7" fill="#f4f4f4"/>
<polygon points="554.0,166.1 557.2,167.5 558.9,168.6 555.8,168.3" fill="#f4f4f4"/>
<polygon points="522.8,165.8 525.6,167.2 524.4,168.3" fill="#f4f4f4"/>
<polygon points="531.1,168.6 535.3,169.7 532.8,170.6" fill="#f4f4f4"/>
<polygon points="541.5,183.2 545.7,182.5 547.8,184.6 544.3,185.3" fill="#f4f4f4"/>
<polygon points="548.1,186.7 553.1,185.8 551.9,188.6 548.6,189.2" fill="#f4f4f4"/>
<polygon points="558.9,181.4 561.9,180.8 561.0,182.8" fill="#f4f4f4"/>
<polygon points="553.3,155.4 558.9,153.3 565.8,153.3 572.8,157.5 574.9,163.1 574.2,167.9 570.0,167.2 565.8,164.4 561.7,161.0 556.1,158.9" fill="#356b35"/>
<polygon points="545.0,217.2 551.9,217.5 557.5,220.0 562.4,222.1 567.2,222.8 567.9,224.4 561.7,224.2 557.5,222.8 552.6,221.1 547.1,219.3" fill="#356b35"/>
<polygon points="553.8,237.5 557.5,234.4 562.5,232.8 567.5,232.8 572.5,234.4 577.5,235.0 582.5,237.5 587.5,240.0 591.2,242.5 593.8,246.2 596.2,248.8 602.5,249.4 607.5,250.6 609.4,253.1 608.1,258.8 606.0,262.5 604.0,268.8 599.4,275.0 592.5,279.0 587.5,283.8 582.5,287.5 579.4,289.8 574.6,294.8 570.0,300.0 565.8,305.4 562.5,307.8 559.4,308.1 556.9,306.2 556.2,302.5 558.1,297.5 560.0,291.2 562.5,283.8 564.4,277.5 565.6,272.5 561.2,270.0 556.9,268.1 553.8,266.2 551.2,262.5 550.0,257.5 550.6,252.5 552.5,246.2 553.8,241.2" fill="#356b35"/>
<polygon points="530.0,225.6 535.0,227.5 540.0,230.0 543.8,232.5 547.5,235.0 551.9,236.9 553.8,238.1 551.9,239.8 547.5,237.5 542.5,235.6 537.5,232.5 532.5,230.0 530.0,228.8" fill="#356b35"/>
</g>
<path d="M487.7,175.6 L490.7,172.5 L493.9,169.6 L497.2,166.8 L500.7,164.2 L504.3,161.9 L508.0,159.7 L511.9,157.7 L515.8,155.9 L519.9,154.4 L524.0,153.0 L528.2,151.9 L532.5,151.1 L536.8,150.4 L541.2,150.0 L545.6,149.8 L550.0,149.8M506.4,303.8 L502.9,301.5 L499.6,299.1 L496.5,296.4 L493.4,293.6 L490.6,290.6 L487.9,287.4 L485.4,284.1 L483.1,280.6 L481.0,277.0 L479.0,273.3 L477.3,269.5 L475.7,265.5 L474.4,261.4 L473.3,257.3 L472.4,253.1 L471.8,248.8 L471.3,244.5 L471.1,240.2 L471.1,235.8 L471.3,231.4 L471.8,227.0 L472.4,222.6 L473.3,218.3 L474.4,214.0 L475.7,209.7 L477.3,205.6 L479.0,201.4 L481.0,197.4 L483.1,193.5 L485.4,189.7 L487.9,186.0 L490.6,182.4 L493.4,179.0 L496.5,175.7 L499.6,172.6 L502.9,169.6 L506.4,166.8 L509.9,164.2 L513.6,161.8 L517.4,159.6 L521.3,157.7 L525.2,155.9 L529.2,154.3 L533.3,153.0 L537.4,151.8 L541.6,150.9 L545.8,150.3 L550.0,149.8M533.0,314.2 L530.3,313.4 L527.7,312.3 L525.1,311.1 L522.6,309.6 L520.2,307.9 L517.8,305.9 L515.5,303.8 L513.4,301.4 L511.3,298.9 L509.4,296.2 L507.5,293.3 L505.8,290.2 L504.2,286.9 L502.8,283.5 L501.4,280.0 L500.3,276.3 L499.2,272.5 L498.3,268.5 L497.5,264.5 L496.9,260.4 L496.5,256.2 L496.2,251.9 L496.0,247.6 L496.0,243.2 L496.2,238.8 L496.5,234.4 L496.9,229.9 L497.5,225.5 L498.3,221.1 L499.2,216.7 L500.3,212.4 L501.4,208.1 L502.8,203.9 L504.2,199.8 L505.8,195.7 L507.5,191.8 L509.4,188.0 L511.3,184.3 L513.4,180.7 L515.5,177.3 L517.8,174.0 L520.2,170.9 L522.6,168.0 L525.1,165.3 L527.7,162.7 L530.3,160.3 L533.0,158.2 L535.8,156.3 L538.6,154.5 L541.4,153.0 L544.3,151.7 L547.1,150.7 L550.0,149.8M546.9,315.9 L546.2,315.8 L545.4,315.4 L544.7,314.8 L544.0,313.9 L543.3,312.8 L542.6,311.5 L541.9,310.0 L541.3,308.2 L540.7,306.2 L540.1,304.0 L539.5,301.6 L539.0,299.0 L538.5,296.3 L538.1,293.3 L537.6,290.2 L537.2,286.9 L536.9,283.4 L536.6,279.8 L536.3,276.1 L536.0,272.2 L535.8,268.2 L535.7,264.1 L535.5,260.0 L535.5,255.7 L535.4,251.4 L535.4,247.0 L535.5,242.6 L535.5,238.1 L535.7,233.7 L535.8,229.2 L536.0,224.7 L536.3,220.3 L536.6,215.9 L536.9,211.5 L537.2,207.2 L537.6,203.0 L538.1,198.8 L538.5,194.8 L539.0,190.8 L539.5,187.0 L540.1,183.3 L540.7,179.7 L541.3,176.3 L541.9,173.0 L542.6,169.9 L543.3,167.0 L544.0,164.3 L544.7,161.7 L545.4,159.4 L546.2,157.3 L546.9,155.3 L547.7,153.6 L548.4,152.1 L549.2,150.9 L550.0,149.8M557.6,315.6 L559.0,315.2 L560.5,314.5 L561.9,313.6 L563.2,312.5 L564.6,311.1 L565.9,309.5 L567.1,307.7 L568.3,305.7 L569.5,303.5 L570.6,301.1 L571.6,298.5 L572.6,295.6 L573.5,292.7 L574.4,289.5 L575.1,286.2 L575.8,282.7 L576.5,279.1 L577.0,275.3 L577.5,271.4 L577.9,267.4 L578.2,263.4 L578.5,259.2 L578.6,254.9 L578.7,250.6 L578.7,246.2 L578.6,241.8 L578.5,237.4 L578.2,232.9 L577.9,228.4 L577.5,224.0 L577.0,219.6 L576.5,215.2 L575.8,210.8 L575.1,206.5 L574.4,202.3 L573.5,198.2 L572.6,194.2 L571.6,190.2 L570.6,186.4 L569.5,182.8 L568.3,179.2 L567.1,175.8 L565.9,172.6 L564.6,169.5 L563.2,166.7 L561.9,164.0 L560.5,161.5 L559.0,159.1 L557.6,157.0 L556.1,155.2 L554.6,153.5 L553.1,152.0 L551.5,150.8 L550.0,149.8M570.2,313.5 L573.4,312.6 L576.6,311.5 L579.7,310.1 L582.7,308.5 L585.6,306.7 L588.4,304.6 L591.1,302.4 L593.6,300.0 L596.1,297.4 L598.4,294.6 L600.6,291.6 L602.7,288.4 L604.5,285.1 L606.3,281.6 L607.9,278.0 L609.3,274.3 L610.5,270.4 L611.6,266.5 L612.5,262.4 L613.2,258.3 L613.8,254.0 L614.1,249.7 L614.3,245.4 L614.3,241.0 L614.1,236.6 L613.8,232.2 L613.2,227.8 L612.5,223.4 L611.6,219.0 L610.5,214.7 L609.3,210.4 L607.9,206.2 L606.3,202.0 L604.5,197.9 L602.7,194.0 L600.6,190.1 L598.4,186.3 L596.1,182.7 L593.6,179.2 L591.1,175.9 L588.4,172.7 L585.6,169.7 L582.7,166.9 L579.7,164.3 L576.6,161.8 L573.4,159.6 L570.2,157.5 L566.9,155.7 L563.6,154.1 L560.2,152.7 L556.8,151.5 L553.4,150.5 L550.0,149.8M615.1,285.1 L617.7,281.7 L620.1,278.2 L622.4,274.5 L624.4,270.7 L626.2,266.7 L627.8,262.7 L629.2,258.6 L630.4,254.4 L631.3,250.2 L632.0,245.9 L632.5,241.6 L632.7,237.2 L632.7,232.8 L632.5,228.5 L632.0,224.1 L631.3,219.8 L630.4,215.4 L629.2,211.2 L627.8,207.0 L626.2,202.8 L624.4,198.8 L622.4,194.8 L620.1,191.0 L617.7,187.3 L615.1,183.6 L612.3,180.2 L609.3,176.9 L606.1,173.7 L602.8,170.7 L599.3,167.9 L595.7,165.2 L592.0,162.8 L588.1,160.5 L584.2,158.4 L580.1,156.6 L576.0,154.9 L571.8,153.5 L567.5,152.3 L563.2,151.4 L558.8,150.6 L554.4,150.1 L550.0,149.8M590.1,158.2 L586.4,156.3 L582.6,154.7 L578.7,153.3 L574.8,152.1 L570.8,151.2 L566.7,150.4 L562.6,149.9 L558.4,149.7 L554.2,149.6 L550.0,149.8M564.2,149.2 L561.4,148.9 L558.6,148.8 L555.7,148.9 L552.9,149.2 L550.0,149.8M552.3,148.1 L551.6,148.5 L550.8,149.0 L550.0,149.8M543.9,148.2 L545.4,148.3 L546.9,148.6 L548.5,149.1 L550.0,149.8M533.1,149.8 L536.4,149.3 L539.8,149.1 L543.2,149.1 L546.6,149.4 L550.0,149.8M511.4,306.6 L512.3,307.0 L513.4,307.4 L514.5,307.8 L515.8,308.2 L517.1,308.6 L518.5,308.9 L520.0,309.3 L521.6,309.6 L523.3,309.9 L525.0,310.2 L526.9,310.4 L528.7,310.7 L530.7,310.9 L532.7,311.1 L534.7,311.3 L536.8,311.4 L538.9,311.6 L541.1,311.7 L543.3,311.8 L545.5,311.8 L547.7,311.9 L549.9,311.9 L552.1,311.9 L554.3,311.8 L556.5,311.8 L558.7,311.7 L560.8,311.6 L563.0,311.5 L565.1,311.3 L567.1,311.1 L569.1,310.9 L571.1,310.7 L572.9,310.5 L574.8,310.2 L576.5,309.9 L578.2,309.6 L579.8,309.3 L581.3,309.0 L582.8,308.6 L584.1,308.3 L585.3,307.9 L586.5,307.5 L587.5,307.1 L588.5,306.7M478.0,275.2 L478.6,276.0 L479.5,276.8 L480.5,277.6 L481.8,278.3 L483.2,279.1 L484.8,279.8 L486.6,280.5 L488.5,281.2 L490.7,281.8 L493.0,282.5 L495.5,283.1 L498.1,283.7 L500.8,284.2 L503.7,284.8 L506.8,285.2 L509.9,285.7 L513.2,286.1 L516.5,286.5 L520.0,286.9 L523.5,287.2 L527.1,287.4 L530.8,287.7 L534.5,287.9 L538.3,288.0 L542.1,288.1 L545.9,288.2 L549.8,288.2 L553.6,288.2 L557.5,288.1 L561.3,288.0 L565.0,287.9 L568.8,287.7 L572.5,287.5 L576.1,287.2 L579.6,286.9 L583.1,286.6 L586.5,286.2 L589.7,285.8 L592.9,285.3 L595.9,284.8 L598.9,284.3 L601.6,283.7 L604.3,283.2 L606.7,282.5 L609.1,281.9 L611.2,281.3 L613.2,280.6 L615.0,279.9 L616.7,279.1 L618.1,278.4 L619.4,277.6 L620.4,276.9 L621.3,276.1 L621.9,275.3M466.1,232.6 L466.3,233.6 L466.8,234.5 L467.6,235.4 L468.6,236.3 L469.8,237.2 L471.2,238.0 L472.8,238.9 L474.7,239.7 L476.8,240.6 L479.0,241.3 L481.5,242.1 L484.2,242.8 L487.0,243.6 L490.0,244.2 L493.2,244.9 L496.6,245.5 L500.1,246.0 L503.7,246.6 L507.5,247.1 L511.3,247.5 L515.3,247.9 L519.4,248.3 L523.6,248.6 L527.8,248.8 L532.1,249.1 L536.5,249.2 L540.9,249.4 L545.3,249.4 L549.8,249.5 L554.2,249.4 L558.6,249.4 L563.0,249.3 L567.4,249.1 L571.7,248.9 L575.9,248.6 L580.1,248.3 L584.2,248.0 L588.2,247.6 L592.1,247.1 L595.9,246.6 L599.5,246.1 L603.0,245.5 L606.4,244.9 L609.6,244.3 L612.7,243.6 L615.5,242.9 L618.2,242.2 L620.7,241.4 L623.0,240.6 L625.1,239.8 L627.0,239.0 L628.6,238.1 L630.1,237.3 L631.3,236.4 L632.3,235.5 L633.1,234.6 L633.6,233.7 L633.9,232.7M477.8,189.1 L477.4,189.9 L477.3,190.7 L477.3,191.5 L477.5,192.3 L478.0,193.1 L478.6,193.8 L479.5,194.6 L480.5,195.4 L481.8,196.2 L483.2,196.9 L484.8,197.6 L486.6,198.3 L488.5,199.0 L490.7,199.7 L493.0,200.3 L495.5,200.9 L498.1,201.5 L500.8,202.1 L503.7,202.6 L506.8,203.1 L509.9,203.5 L513.2,204.0 L516.5,204.3 L520.0,204.7 L523.5,205.0 L527.1,205.3 L530.8,205.5 L534.5,205.7 L538.3,205.8 L542.1,206.0 L545.9,206.0 L549.8,206.0 L553.6,206.0 L557.5,206.0 L561.3,205.9 L565.0,205.7 L568.8,205.5 L572.5,205.3 L576.1,205.0 L579.6,204.7 L583.1,204.4 L586.5,204.0 L589.7,203.6 L592.9,203.1 L595.9,202.6 L598.9,202.1 L601.6,201.6 L604.3,201.0 L606.7,200.4 L609.1,199.7 L611.2,199.1 L613.2,198.4 L615.0,197.7 L616.7,197.0 L618.1,196.2 L619.4,195.5 L620.4,194.7 L621.3,193.9 L621.9,193.2 L622.4,192.4 L622.7,191.6 L622.7,190.8 L622.6,190.0 L622.3,189.2M508.6,159.3 L508.3,159.8 L508.1,160.2 L508.0,160.7 L508.0,161.2 L508.2,161.6 L508.4,162.1 L508.8,162.5 L509.3,163.0 L509.9,163.4 L510.6,163.9 L511.4,164.3 L512.3,164.7 L513.4,165.1 L514.5,165.5 L515.8,165.9 L517.1,166.3 L518.5,166.6 L520.0,167.0 L521.6,167.3 L523.3,167.6 L525.0,167.9 L526.9,168.1 L528.7,168.4 L530.7,168.6 L532.7,168.8 L534.7,169.0 L536.8,169.1 L538.9,169.3 L541.1,169.4 L543.3,169.5 L545.5,169.5 L547.7,169.6 L549.9,169.6 L552.1,169.6 L554.3,169.5 L556.5,169.5 L558.7,169.4 L560.8,169.3 L563.0,169.1 L565.1,169.0 L567.1,168.8 L569.1,168.6 L571.1,168.4 L572.9,168.2 L574.8,167.9 L576.5,167.6 L578.2,167.3 L579.8,167.0 L581.3,166.7 L582.8,166.3 L584.1,165.9 L585.3,165.6 L586.5,165.2 L587.5,164.8 L588.5,164.3 L589.3,163.9 L590.0,163.5 L590.7,163.0 L591.2,162.6 L591.5,162.1 L591.8,161.7 L592.0,161.2 L592.0,160.8 L591.9,160.3 L591.7,159.8 L591.4,159.4 L591.0,158.9 L590.4,158.5 L589.8,158.0M510.3,158.0 L509.6,158.4 L509.1,158.9 L508.6,159.3" fill="none" stroke="#cccccc" stroke-opacity="0.55" stroke-width="0.4" clip-path="url(#gclip)"/>
<circle cx="550" cy="232" r="83.8" fill="none" stroke="#bdbdbd" stroke-width="0.6"/>
<polygon points="529.00,199.10 529.86,201.41 532.33,201.52 530.40,203.05 531.06,205.43 529.00,204.07 526.94,205.43 527.60,203.05 525.67,201.52 528.14,201.41" fill="#f21b1b"/>
<polygon points="540.80,190.80 541.66,193.11 544.13,193.22 542.20,194.75 542.86,197.13 540.80,195.77 538.74,197.13 539.40,194.75 537.47,193.22 539.94,193.11" fill="#f21b1b"/>
<polygon points="553.30,189.40 554.16,191.71 556.63,191.82 554.70,193.35 555.36,195.73 553.30,194.37 551.24,195.73 551.90,193.35 549.97,191.82 552.44,191.71" fill="#f21b1b"/>
<polygon points="556.80,188.40 557.66,190.71 560.13,190.82 558.20,192.35 558.86,194.73 556.80,193.37 554.74,194.73 555.40,192.35 553.47,190.82 555.94,190.71" fill="#f21b1b"/>
<polygon points="549.90,206.50 550.76,208.81 553.23,208.92 551.30,210.45 551.96,212.83 549.90,211.47 547.84,212.83 548.50,210.45 546.57,208.92 549.04,208.81" fill="#f21b1b"/>
<polygon points="571.40,217.20 572.26,219.51 574.73,219.62 572.80,221.15 573.46,223.53 571.40,222.17 569.34,223.53 570.00,221.15 568.07,219.62 570.54,219.51" fill="#f21b1b"/>
<polygon points="554.40,261.75 555.26,264.06 557.73,264.17 555.80,265.70 556.46,268.08 554.40,266.72 552.34,268.08 553.00,265.70 551.07,264.17 553.54,264.06" fill="#f21b1b"/>
<polygon points="602.50,250.00 603.36,252.31 605.83,252.42 603.90,253.95 604.56,256.33 602.50,254.97 600.44,256.33 601.10,253.95 599.17,252.42 601.64,252.31" fill="#f21b1b"/>
<polygon points="588.50,255.90 589.36,258.21 591.83,258.32 589.90,259.85 590.56,262.23 588.50,260.87 586.44,262.23 587.10,259.85 585.17,258.32 587.64,258.21" fill="#f21b1b"/>
<polygon points="587.25,274.60 588.11,276.91 590.58,277.02 588.65,278.55 589.31,280.93 587.25,279.57 585.19,280.93 585.85,278.55 583.92,277.02 586.39,276.91" fill="#f21b1b"/>
<text x="505.80" y="199.20" font-size="6.4" textLength="13.50" lengthAdjust="spacingAndGlyphs" style="fill:#1a1a1a" xml:space="preserve"><tspan font-weight="bold">UTD</tspan></text>
<text x="535.60" y="273.70" font-size="6.8" textLength="12.00" lengthAdjust="spacingAndGlyphs" style="fill:#222" xml:space="preserve">JRO</text>
<text x="349.90" y="157.20" font-size="10.6" textLength="85.70" lengthAdjust="spacingAndGlyphs" style="fill:#333333" xml:space="preserve">The ScintPi Network</text>
<text x="331.60" y="176.00" font-size="8.4" textLength="6.00" lengthAdjust="spacingAndGlyphs" style="fill:#333333" xml:space="preserve">1.</text>
<text x="343.00" y="176.00" font-size="8.4" textLength="102.90" lengthAdjust="spacingAndGlyphs" style="fill:#333333" xml:space="preserve">University of Texas at Dallas</text>
<text x="331.60" y="187.20" font-size="8.4" textLength="6.00" lengthAdjust="spacingAndGlyphs" style="fill:#333333" xml:space="preserve">2.</text>
<text x="343.00" y="187.20" font-size="8.4" textLength="102.90" lengthAdjust="spacingAndGlyphs" style="fill:#333333" xml:space="preserve">University of Illinois Urbana</text>
<text x="343.00" y="198.40" font-size="8.4" textLength="42.20" lengthAdjust="spacingAndGlyphs" style="fill:#333333" xml:space="preserve">Champaign</text>
<text x="331.60" y="209.60" font-size="8.4" textLength="6.00" lengthAdjust="spacingAndGlyphs" style="fill:#333333" xml:space="preserve">3.</text>
<text x="343.00" y="209.60" font-size="8.4" textLength="99.80" lengthAdjust="spacingAndGlyphs" style="fill:#333333" xml:space="preserve">Embry-Riddle Aeronautical</text>
<text x="343.00" y="220.80" font-size="8.4" textLength="37.40" lengthAdjust="spacingAndGlyphs" style="fill:#333333" xml:space="preserve">University</text>
<text x="331.60" y="232.10" font-size="8.4" textLength="6.00" lengthAdjust="spacingAndGlyphs" style="fill:#333333" xml:space="preserve">4.</text>
<text x="343.00" y="232.10" font-size="8.4" textLength="72.00" lengthAdjust="spacingAndGlyphs" style="fill:#333333" xml:space="preserve">Scranton University</text>
<text x="331.60" y="243.30" font-size="8.4" textLength="6.00" lengthAdjust="spacingAndGlyphs" style="fill:#333333" xml:space="preserve">5.</text>
<text x="343.00" y="243.30" font-size="8.4" textLength="74.50" lengthAdjust="spacingAndGlyphs" style="fill:#333333" xml:space="preserve">Puerto Rico (3 sites)</text>
<text x="331.60" y="254.50" font-size="8.4" textLength="6.00" lengthAdjust="spacingAndGlyphs" style="fill:#333333" xml:space="preserve">6.</text>
<text x="343.00" y="254.50" font-size="8.4" textLength="107.40" lengthAdjust="spacingAndGlyphs" style="fill:#333333" xml:space="preserve">Jicamarca Radio Observatory</text>
<text x="331.60" y="265.70" font-size="8.4" textLength="6.00" lengthAdjust="spacingAndGlyphs" style="fill:#333333" xml:space="preserve">7.</text>
<text x="343.00" y="265.70" font-size="8.4" textLength="106.70" lengthAdjust="spacingAndGlyphs" style="fill:#333333" xml:space="preserve">University of Sao Paulo State</text>
<text x="331.60" y="276.90" font-size="8.4" textLength="6.00" lengthAdjust="spacingAndGlyphs" style="fill:#333333" xml:space="preserve">8.</text>
<text x="343.00" y="276.90" font-size="8.4" textLength="111.90" lengthAdjust="spacingAndGlyphs" style="fill:#333333" xml:space="preserve">Federal University of Campina</text>
<text x="343.00" y="288.10" font-size="8.4" textLength="27.70" lengthAdjust="spacingAndGlyphs" style="fill:#333333" xml:space="preserve">Grande</text>
<text x="331.60" y="299.30" font-size="8.4" textLength="6.00" lengthAdjust="spacingAndGlyphs" style="fill:#333333" xml:space="preserve">9.</text>
<text x="343.00" y="299.30" font-size="8.4" textLength="124.70" lengthAdjust="spacingAndGlyphs" style="fill:#333333" xml:space="preserve">Schenectady, NY(Citizen scientist)</text>
<text x="383.88" y="489.70" font-size="5.6" textLength="38.00" lengthAdjust="spacingAndGlyphs" style="fill:#333" text-anchor="middle" xml:space="preserve">Septentrio TEC</text>
<text x="383.88" y="684.00" font-size="4.8" textLength="29.00" lengthAdjust="spacingAndGlyphs" style="fill:#444" text-anchor="middle" xml:space="preserve">Universal Time</text>
<text x="477.17" y="489.70" font-size="5.6" textLength="37.50" lengthAdjust="spacingAndGlyphs" style="fill:#333" text-anchor="middle" xml:space="preserve">ScintPi3.0 TEC</text>
<text x="477.17" y="684.00" font-size="4.8" textLength="29.00" lengthAdjust="spacingAndGlyphs" style="fill:#444" text-anchor="middle" xml:space="preserve">Universal Time</text>
<text x="570.48" y="489.70" font-size="5.6" textLength="73.00" lengthAdjust="spacingAndGlyphs" style="fill:#333" text-anchor="middle" xml:space="preserve">Septentrio and ScintPi3.0 TEC</text>
<text x="570.48" y="684.00" font-size="4.8" textLength="29.00" lengthAdjust="spacingAndGlyphs" style="fill:#444" text-anchor="middle" xml:space="preserve">Universal Time</text>
<text x="327.40" y="511.35" font-size="4.5" textLength="23.00" lengthAdjust="spacingAndGlyphs" style="fill:#444" text-anchor="middle" transform="rotate(-90 327.40 511.35)" xml:space="preserve">TEC [TECU]</text>
<text x="626.80" y="511.35" font-size="4.5" textLength="21.00" lengthAdjust="spacingAndGlyphs" style="fill:#444" text-anchor="middle" transform="rotate(-90 626.80 511.35)" xml:space="preserve">Elev [deg]</text>
<clipPath id="c1"><rect x="339.00" y="492.30" width="89.75" height="38.10"/></clipPath>
<rect x="339.0" y="492.3" width="89.75" height="38.10" fill="#fff"/>
<path d="M344.60 492.30V530.40M353.21 492.30V530.40M361.83 492.30V530.40M370.44 492.30V530.40M379.05 492.30V530.40M387.66 492.30V530.40M396.28 492.30V530.40M404.89 492.30V530.40M413.50 492.30V530.40M422.12 492.30V530.40M339.00 517.70H428.75M339.00 505.00H428.75" stroke="#c8c8c8" stroke-width="0.4" stroke-dasharray="1.2,0.9" fill="none"/>
<path d="M372.2 498.3 373.0 500.0 373.9 500.9 374.7 501.0 375.6 500.5 376.5 502.0 377.3 503.6 378.2 504.7 379.1 505.7 379.9 506.6 380.8 507.4 381.6 508.0 382.5 508.0 383.4 507.7 384.2 507.7 385.1 508.3 385.9 509.3 386.8 510.0 387.7 510.7 388.5 510.9 389.4 510.5 390.2 509.8 391.1 509.6 392.0 509.7 392.8 509.8 393.7 509.9 394.6 510.1 395.4 510.3 396.3 510.4 397.1 510.6 398.0 510.7 398.9 510.8 399.7 511.0 400.6 511.1 401.4 511.1 402.3 511.1 403.2 511.1 404.0 510.9 404.9 510.7 405.8 510.5 406.6 510.1 407.5 509.8 408.3 509.4 409.2 509.0 410.1 508.6 410.9 508.2 411.8 507.7 412.6 507.2 413.5 506.6 414.4 506.0 415.2 505.2 416.1 504.4 416.9 503.4 417.8 502.3 418.7 501.0 419.5 499.4 420.4 497.5 421.3 495.3 422.1 492.7 423.0 489.4 423.8 485.9 424.7 481.8 424.7 507.9 423.8 510.8 423.0 513.3 422.1 515.6 421.3 517.2 420.4 518.4 419.5 519.3 418.7 520.0 417.8 520.4 416.9 520.6 416.1 520.6 415.2 520.7 414.4 520.6 413.5 520.4 412.6 520.2 411.8 520.0 410.9 519.7 410.1 519.5 409.2 519.3 408.3 519.1 407.5 518.9 406.6 518.7 405.8 518.5 404.9 518.3 404.0 518.2 403.2 518.2 402.3 518.2 401.4 518.2 400.6 518.4 399.7 518.5 398.9 518.7 398.0 518.9 397.1 519.1 396.3 519.4 395.4 519.7 394.6 519.9 393.7 520.2 392.8 520.5 392.0 520.9 391.1 521.3 390.2 522.1 389.4 523.2 388.5 524.2 387.7 524.6 386.8 524.5 385.9 524.3 385.1 524.0 384.2 523.9 383.4 524.6 382.5 525.5 381.6 526.1 380.8 526.3 379.9 526.1 379.1 525.9 378.2 525.6 377.3 525.1 376.5 524.3 375.6 523.5 374.7 524.8 373.9 525.5 373.0 525.3 372.2 524.4Z" fill="#777" fill-opacity="0.22" clip-path="url(#c1)"/>
<path d="M372.2 511.3 372.3 508.6 372.5 514.8 372.7 521.3 372.9 517.1 373.0 522.7 373.2 512.2 373.4 499.6 373.5 517.9 373.7 519.3 373.9 508.4 374.1 509.8 374.2 512.2 374.4 522.2 374.6 513.4 374.7 506.3 374.9 540.6 375.1 516.7 375.3 529.9 375.4 524.0 375.6 528.9 375.8 514.2 376.0 523.8 376.1 510.1 376.3 511.4 376.5 514.8 376.6 535.8 376.8 524.2 377.0 514.4 377.2 512.0 377.3 527.6 377.5 518.6 377.7 523.0 377.8 521.7 378.0 495.4 378.2 521.9 378.4 515.6 378.5 508.2 378.7 520.3 378.9 516.6 379.1 514.9 379.2 515.4 379.4 537.5 379.6 515.5 379.7 505.6 379.9 528.4 380.1 509.8 380.3 515.7 380.4 521.6 380.6 501.6 380.8 511.1 380.9 525.9 381.1 516.4 381.3 512.8 381.5 518.4 381.6 512.1 381.8 517.5 382.0 512.2 382.2 506.7 382.3 521.6 382.5 515.3 382.7 519.8 382.8 515.6 383.0 524.5 383.2 520.2 383.4 517.4 383.5 510.0 383.7 508.3 383.9 524.6 384.0 521.0 384.2 506.5 384.4 528.7 384.6 518.8 384.7 517.3 384.9 508.1 385.1 511.8 385.3 518.3 385.4 518.7 385.6 518.1 385.8 507.4 385.9 519.4 386.1 518.7 386.3 514.9 386.5 517.8 386.6 518.3 386.8 523.7 387.0 517.4 387.1 520.0 387.3 510.9 387.5 513.9 387.7 517.8 387.8 514.0 388.0 519.6 388.2 512.0 388.4 517.7 388.5 514.5 388.7 524.3 388.9 515.5 389.0 526.0 389.2 527.5 389.4 518.4 389.6 521.2 389.7 515.7 389.9 505.1 390.1 520.2 390.2 519.0 390.4 514.8 390.6 513.3 390.8 516.4 390.9 516.4 391.1 512.1 391.3 513.0 391.5 525.8 391.6 515.7 391.8 514.9 392.0 520.0 392.1 514.1 392.3 519.0 392.5 511.0 392.7 514.3 392.8 514.8 393.0 520.7 393.2 515.6 393.3 523.5 393.5 519.8 393.7 511.8 393.9 523.7 394.0 511.6 394.2 522.0 394.4 508.4 394.6 518.3 394.7 512.0 394.9 514.5 395.1 520.9 395.2 510.2 395.4 509.5 395.6 515.2 395.8 515.9 395.9 515.5 396.1 518.5 396.3 511.0 396.5 516.8 396.6 515.1 396.8 517.6 397.0 517.0 397.1 519.2 397.3 510.6 397.5 515.4 397.7 511.6 397.8 514.8 398.0 517.1 398.2 515.9 398.3 516.6 398.5 514.8 398.7 516.0 398.9 515.7 399.0 519.1 399.2 517.3 399.4 509.7 399.6 516.8 399.7 521.8 399.9 513.7 400.1 510.5 400.2 519.0 400.4 515.3 400.6 516.6 400.8 519.8 400.9 512.6 401.1 514.8 401.3 514.5 401.4 516.8 401.6 513.4 401.8 516.2 402.0 515.1 402.1 517.8 402.3 518.1 402.5 510.9 402.7 516.1 402.8 513.8 403.0 514.7 403.2 515.9 403.3 516.1 403.5 512.8 403.7 515.5 403.9 515.0 404.0 514.4 404.2 511.1 404.4 512.5 404.5 513.4 404.7 516.2 404.9 518.7 405.1 511.6 405.2 511.5 405.4 514.9 405.6 512.8 405.8 512.0 405.9 511.8 406.1 511.4 406.3 515.9 406.4 509.3 406.6 518.6 406.8 511.4 407.0 510.6 407.1 511.3 407.3 507.6 407.5 509.0 407.6 523.6 407.8 520.6 408.0 511.2 408.2 518.1 408.3 514.3 408.5 511.0 408.7 520.7 408.9 522.6 409.0 513.1 409.2 514.0 409.4 515.2 409.5 514.0 409.7 517.8 409.9 520.6 410.1 514.8 410.2 523.5 410.4 521.4 410.6 511.7 410.7 514.3 410.9 512.1 411.1 518.6 411.3 517.0 411.4 518.7 411.6 518.2 411.8 512.9 412.0 517.7 412.1 512.0 412.3 512.0 412.5 503.3 412.6 520.9 412.8 509.0 413.0 514.1 413.2 513.7 413.3 521.5 413.5 516.1 413.7 509.3 413.8 513.9 414.0 512.9 414.2 515.0 414.4 506.5 414.5 513.3 414.7 542.1 414.9 517.3 415.1 525.0 415.2 533.0 415.4 520.1 415.6 504.4 415.7 512.4 415.9 520.2 416.1 518.6 416.3 505.0 416.4 511.2 416.6 511.9 416.8 512.4 416.9 511.7 417.1 506.3 417.3 507.9 417.5 510.1 417.6 518.9 417.8 503.2 418.0 516.2 418.2 503.0 418.3 520.4 418.5 511.7 418.7 510.6 418.8 520.5 419.0 496.7 419.2 498.4 419.4 517.7 419.5 503.2 419.7 506.0 419.9 530.0 420.1 506.5 420.2 508.7 420.4 507.2 420.6 516.7 420.7 509.6 420.9 508.5 421.1 496.3 421.3 503.3 421.4 506.0 421.6 491.9 421.8 510.1 421.9 508.1 422.1 520.8 422.3 489.1 422.5 494.1 422.6 483.6 422.8 495.6 423.0 500.3 423.2 498.7 423.3 502.7 423.5 501.6 423.7 498.5 423.8 483.3 424.0 492.1 424.2 497.6 424.4 502.2 424.5 510.0 424.7 478.1" stroke="#4a4a4a" stroke-width="0.35" stroke-opacity="0.35" fill="none" stroke-linejoin="round" clip-path="url(#c1)"/>
<path d="M372.2 511.5 372.6 512.1 373.0 512.7 373.5 513.1 373.9 513.4 374.3 513.3 374.7 512.9 375.2 512.3 375.6 512.0 376.0 512.4 376.5 513.1 376.9 514.1 377.3 514.4 377.8 514.7 378.2 515.1 378.6 515.4 379.1 515.7 379.5 516.1 379.9 516.3 380.3 516.6 380.8 516.9 381.2 517.0 381.6 517.0 382.1 516.8 382.5 516.7 382.9 516.4 383.4 516.1 383.8 515.8 384.2 515.8 384.7 515.8 385.1 516.2 385.5 516.5 385.9 516.8 386.4 517.0 386.8 517.2 387.2 517.6 387.7 517.7 388.1 517.7 388.5 517.6 389.0 517.4 389.4 516.8 389.8 516.4 390.2 515.9 390.7 515.6 391.1 515.3 391.5 515.4 392.0 515.2 392.4 515.3 392.8 515.2 393.3 515.1 393.7 515.1 394.1 515.0 394.6 515.0 395.0 515.1 395.4 515.0 395.8 515.0 396.3 514.8 396.7 514.9 397.1 514.9 397.6 514.7 398.0 514.6 398.4 514.6 398.9 514.8 399.3 514.7 399.7 514.6 400.2 514.7 400.6 514.8 401.0 514.7 401.4 514.7 401.9 514.7 402.3 514.8 402.7 514.7 403.2 514.6 403.6 514.7 404.0 514.6 404.5 514.5 404.9 514.5 405.3 514.5 405.8 514.4 406.2 514.5 406.6 514.4 407.0 514.4 407.5 514.2 407.9 514.3 408.3 514.3 408.8 514.2 409.2 514.2 409.6 514.1 410.1 514.2 410.5 514.1 410.9 514.0 411.4 513.7 411.8 513.8 412.2 513.8 412.6 513.6 413.1 513.4 413.5 513.5 413.9 513.4 414.4 513.2 414.8 513.1 415.2 512.9 415.7 512.8 416.1 512.4 416.5 512.1 416.9 511.9 417.4 511.6 417.8 511.5 418.2 510.9 418.7 510.5 419.1 509.9 419.5 509.3 420.0 508.7 420.4 508.0 420.8 507.1 421.3 506.3 421.7 505.3 422.1 504.2 422.5 502.8 423.0 501.6 423.4 499.8 423.8 498.3 424.3 496.6 424.7 494.7" stroke="#333" stroke-width="0.75" fill="none" stroke-linejoin="round" clip-path="url(#c1)"/>
<path d="M372.2 524.1 373.0 523.3 373.9 522.6 374.7 521.9 375.6 521.2 376.5 520.5 377.3 519.8 378.2 519.1 379.1 518.4 379.9 517.7 380.8 516.9 381.6 516.2 382.5 515.5 383.4 514.8 384.2 514.1 385.1 513.4 385.9 512.7 386.8 512.0 387.7 511.3 388.5 510.5 389.4 509.8 390.2 509.1 391.1 508.4 392.0 507.7 392.8 507.0 393.7 506.3 394.6 505.6 395.4 504.9 396.3 504.1 397.1 503.4 398.0 502.7 398.9 502.1 399.7 501.4 400.6 500.8 401.4 500.4 402.3 500.2 403.2 500.3 404.0 500.8 404.9 501.5 405.8 502.4 406.6 503.3 407.5 504.3 408.3 505.2 409.2 506.2 410.1 507.2 410.9 508.2 411.8 509.2 412.6 510.2 413.5 511.2 414.4 512.2 415.2 513.2 416.1 514.2 416.9 515.1 417.8 516.1 418.7 517.1 419.5 518.1 420.4 519.1 421.3 520.1 422.1 521.1 423.0 522.1 423.8 523.1 424.7 524.1" stroke="#6aaad9" stroke-width="1.1" fill="none" stroke-linejoin="round" clip-path="url(#c1)"/>
<rect x="339.0" y="492.3" width="89.75" height="38.10" fill="none" stroke="#7a7a7a" stroke-width="0.85"/>
<path d="M344.60 530.40v1.2M353.21 530.40v1.2M361.83 530.40v1.2M370.44 530.40v1.2M379.05 530.40v1.2M387.66 530.40v1.2M396.28 530.40v1.2M404.89 530.40v1.2M413.50 530.40v1.2M422.12 530.40v1.2M339.00 530.40h-1.2M428.75 530.40h1.2M339.00 517.70h-1.2M428.75 517.70h1.2M339.00 505.00h-1.2M428.75 505.00h1.2M339.00 492.30h-1.2M428.75 492.30h1.2" stroke="#555" stroke-width="0.45" fill="none"/>
<text x="344.60" y="536.40" font-size="4.4" textLength="5.60" lengthAdjust="spacingAndGlyphs" style="fill:#555" text-anchor="middle" xml:space="preserve">05</text>
<text x="353.21" y="536.40" font-size="4.4" textLength="5.60" lengthAdjust="spacingAndGlyphs" style="fill:#555" text-anchor="middle" xml:space="preserve">06</text>
<text x="361.83" y="536.40" font-size="4.4" textLength="5.60" lengthAdjust="spacingAndGlyphs" style="fill:#555" text-anchor="middle" xml:space="preserve">07</text>
<text x="370.44" y="536.40" font-size="4.4" textLength="5.60" lengthAdjust="spacingAndGlyphs" style="fill:#555" text-anchor="middle" xml:space="preserve">08</text>
<text x="379.05" y="536.40" font-size="4.4" textLength="5.60" lengthAdjust="spacingAndGlyphs" style="fill:#555" text-anchor="middle" xml:space="preserve">09</text>
<text x="387.66" y="536.40" font-size="4.4" textLength="5.60" lengthAdjust="spacingAndGlyphs" style="fill:#555" text-anchor="middle" xml:space="preserve">10</text>
<text x="396.28" y="536.40" font-size="4.4" textLength="5.60" lengthAdjust="spacingAndGlyphs" style="fill:#555" text-anchor="middle" xml:space="preserve">11</text>
<text x="404.89" y="536.40" font-size="4.4" textLength="5.60" lengthAdjust="spacingAndGlyphs" style="fill:#555" text-anchor="middle" xml:space="preserve">12</text>
<text x="413.50" y="536.40" font-size="4.4" textLength="5.60" lengthAdjust="spacingAndGlyphs" style="fill:#555" text-anchor="middle" xml:space="preserve">13</text>
<text x="422.12" y="536.40" font-size="4.4" textLength="5.60" lengthAdjust="spacingAndGlyphs" style="fill:#555" text-anchor="middle" xml:space="preserve">14</text>
<text x="337.20" y="493.80" font-size="4.4" style="fill:#555" text-anchor="end" xml:space="preserve">20</text>
<text x="337.20" y="506.50" font-size="4.4" style="fill:#555" text-anchor="end" xml:space="preserve">10</text>
<text x="337.20" y="519.20" font-size="4.4" style="fill:#555" text-anchor="end" xml:space="preserve">0</text>
<text x="337.20" y="531.90" font-size="4.4" style="fill:#555" text-anchor="end" xml:space="preserve">−10</text>
<text x="424.30" y="528.80" font-size="4.8" textLength="15.50" lengthAdjust="spacingAndGlyphs" style="fill:#111" text-anchor="end" xml:space="preserve"><tspan font-weight="bold">GPS18</tspan></text>
<rect x="340.80" y="493.30" width="34.70" height="18" rx="0.8" fill="#fff" fill-opacity="0.85" stroke="#e0e0e0" stroke-width="0.4"/>
<path d="M342.90 497.10h8.4" stroke="#333" stroke-width="0.8"/>
<text x="354.00" y="498.60" font-size="4.4" textLength="20.18" lengthAdjust="spacingAndGlyphs" style="fill:#333" text-anchor="start" xml:space="preserve">phase TEC</text>
<path d="M342.90 502.90h8.4" stroke="#ddd" stroke-width="0.8"/>
<text x="354.00" y="504.40" font-size="4.4" textLength="17.92" lengthAdjust="spacingAndGlyphs" style="fill:#333" text-anchor="start" xml:space="preserve">code TEC</text>
<path d="M342.90 508.70h8.4" stroke="#6aaad9" stroke-width="0.9"/>
<text x="354.00" y="510.20" font-size="4.4" textLength="7.87" lengthAdjust="spacingAndGlyphs" style="fill:#333" text-anchor="start" xml:space="preserve">Elev</text>
<clipPath id="c2"><rect x="432.30" y="492.30" width="89.75" height="38.10"/></clipPath>
<rect x="432.3" y="492.3" width="89.75" height="38.10" fill="#fff"/>
<path d="M437.90 492.30V530.40M446.51 492.30V530.40M455.13 492.30V530.40M463.74 492.30V530.40M472.35 492.30V530.40M480.96 492.30V530.40M489.58 492.30V530.40M498.19 492.30V530.40M506.80 492.30V530.40M515.42 492.30V530.40M432.30 517.70H522.05M432.30 505.00H522.05" stroke="#c8c8c8" stroke-width="0.4" stroke-dasharray="1.2,0.9" fill="none"/>
<path d="M465.5 498.3 466.3 500.0 467.2 500.9 468.0 501.0 468.9 500.5 469.8 502.0 470.6 503.6 471.5 504.7 472.4 505.7 473.2 506.6 474.1 507.4 474.9 508.0 475.8 508.0 476.7 507.7 477.5 507.7 478.4 508.3 479.2 509.3 480.1 510.0 481.0 510.7 481.8 510.9 482.7 510.5 483.5 509.8 484.4 509.6 485.3 509.7 486.1 509.8 487.0 509.9 487.9 510.1 488.7 510.3 489.6 510.4 490.4 510.6 491.3 510.7 492.2 510.8 493.0 511.0 493.9 511.1 494.7 511.1 495.6 511.1 496.5 511.1 497.3 510.9 498.2 510.7 499.1 510.5 499.9 510.1 500.8 509.8 501.6 509.4 502.5 509.0 503.4 508.6 504.2 508.2 505.1 507.7 505.9 507.2 506.8 506.6 507.7 506.0 508.5 505.2 509.4 504.4 510.2 503.4 511.1 502.3 512.0 501.0 512.8 499.4 513.7 497.5 514.6 495.3 515.4 492.7 516.3 489.4 517.1 485.9 518.0 481.8 518.0 507.9 517.1 510.8 516.3 513.3 515.4 515.6 514.6 517.2 513.7 518.4 512.8 519.3 512.0 520.0 511.1 520.4 510.2 520.6 509.4 520.6 508.5 520.7 507.7 520.6 506.8 520.4 505.9 520.2 505.1 520.0 504.2 519.7 503.4 519.5 502.5 519.3 501.6 519.1 500.8 518.9 499.9 518.7 499.1 518.5 498.2 518.3 497.3 518.2 496.5 518.2 495.6 518.2 494.7 518.2 493.9 518.4 493.0 518.5 492.2 518.7 491.3 518.9 490.4 519.1 489.6 519.4 488.7 519.7 487.9 519.9 487.0 520.2 486.1 520.5 485.3 520.9 484.4 521.3 483.5 522.1 482.7 523.2 481.8 524.2 481.0 524.6 480.1 524.5 479.2 524.3 478.4 524.0 477.5 523.9 476.7 524.6 475.8 525.5 474.9 526.1 474.1 526.3 473.2 526.1 472.4 525.9 471.5 525.6 470.6 525.1 469.8 524.3 468.9 523.5 468.0 524.8 467.2 525.5 466.3 525.3 465.5 524.4Z" fill="#f08080" fill-opacity="0.18" clip-path="url(#c2)"/>
<path d="M465.5 511.3 465.6 508.6 465.8 514.8 466.0 521.3 466.2 517.1 466.3 522.7 466.5 512.2 466.7 499.6 466.8 517.9 467.0 519.3 467.2 508.4 467.4 509.8 467.5 512.2 467.7 522.2 467.9 513.4 468.0 506.3 468.2 540.6 468.4 516.7 468.6 529.9 468.7 524.0 468.9 528.9 469.1 514.2 469.3 523.8 469.4 510.1 469.6 511.4 469.8 514.8 469.9 535.8 470.1 524.2 470.3 514.4 470.5 512.0 470.6 527.6 470.8 518.6 471.0 523.0 471.1 521.7 471.3 495.4 471.5 521.9 471.7 515.6 471.8 508.2 472.0 520.3 472.2 516.6 472.4 514.9 472.5 515.4 472.7 537.5 472.9 515.5 473.0 505.6 473.2 528.4 473.4 509.8 473.6 515.7 473.7 521.6 473.9 501.6 474.1 511.1 474.2 525.9 474.4 516.4 474.6 512.8 474.8 518.4 474.9 512.1 475.1 517.5 475.3 512.2 475.5 506.7 475.6 521.6 475.8 515.3 476.0 519.8 476.1 515.6 476.3 524.5 476.5 520.2 476.7 517.4 476.8 510.0 477.0 508.3 477.2 524.6 477.3 521.0 477.5 506.5 477.7 528.7 477.9 518.8 478.0 517.3 478.2 508.1 478.4 511.8 478.6 518.3 478.7 518.7 478.9 518.1 479.1 507.4 479.2 519.4 479.4 518.7 479.6 514.9 479.8 517.8 479.9 518.3 480.1 523.7 480.3 517.4 480.4 520.0 480.6 510.9 480.8 513.9 481.0 517.8 481.1 514.0 481.3 519.6 481.5 512.0 481.7 517.7 481.8 514.5 482.0 524.3 482.2 515.5 482.3 526.0 482.5 527.5 482.7 518.4 482.9 521.2 483.0 515.7 483.2 505.1 483.4 520.2 483.5 519.0 483.7 514.8 483.9 513.3 484.1 516.4 484.2 516.4 484.4 512.1 484.6 513.0 484.8 525.8 484.9 515.7 485.1 514.9 485.3 520.0 485.4 514.1 485.6 519.0 485.8 511.0 486.0 514.3 486.1 514.8 486.3 520.7 486.5 515.6 486.6 523.5 486.8 519.8 487.0 511.8 487.2 523.7 487.3 511.6 487.5 522.0 487.7 508.4 487.9 518.3 488.0 512.0 488.2 514.5 488.4 520.9 488.5 510.2 488.7 509.5 488.9 515.2 489.1 515.9 489.2 515.5 489.4 518.5 489.6 511.0 489.8 516.8 489.9 515.1 490.1 517.6 490.3 517.0 490.4 519.2 490.6 510.6 490.8 515.4 491.0 511.6 491.1 514.8 491.3 517.1 491.5 515.9 491.6 516.6 491.8 514.8 492.0 516.0 492.2 515.7 492.3 519.1 492.5 517.3 492.7 509.7 492.9 516.8 493.0 521.8 493.2 513.7 493.4 510.5 493.5 519.0 493.7 515.3 493.9 516.6 494.1 519.8 494.2 512.6 494.4 514.8 494.6 514.5 494.7 516.8 494.9 513.4 495.1 516.2 495.3 515.1 495.4 517.8 495.6 518.1 495.8 510.9 496.0 516.1 496.1 513.8 496.3 514.7 496.5 515.9 496.6 516.1 496.8 512.8 497.0 515.5 497.2 515.0 497.3 514.4 497.5 511.1 497.7 512.5 497.8 513.4 498.0 516.2 498.2 518.7 498.4 511.6 498.5 511.5 498.7 514.9 498.9 512.8 499.1 512.0 499.2 511.8 499.4 511.4 499.6 515.9 499.7 509.3 499.9 518.6 500.1 511.4 500.3 510.6 500.4 511.3 500.6 507.6 500.8 509.0 500.9 523.6 501.1 520.6 501.3 511.2 501.5 518.1 501.6 514.3 501.8 511.0 502.0 520.7 502.2 522.6 502.3 513.1 502.5 514.0 502.7 515.2 502.8 514.0 503.0 517.8 503.2 520.6 503.4 514.8 503.5 523.5 503.7 521.4 503.9 511.7 504.0 514.3 504.2 512.1 504.4 518.6 504.6 517.0 504.7 518.7 504.9 518.2 505.1 512.9 505.3 517.7 505.4 512.0 505.6 512.0 505.8 503.3 505.9 520.9 506.1 509.0 506.3 514.1 506.5 513.7 506.6 521.5 506.8 516.1 507.0 509.3 507.1 513.9 507.3 512.9 507.5 515.0 507.7 506.5 507.8 513.3 508.0 542.1 508.2 517.3 508.4 525.0 508.5 533.0 508.7 520.1 508.9 504.4 509.0 512.4 509.2 520.2 509.4 518.6 509.6 505.0 509.7 511.2 509.9 511.9 510.1 512.4 510.2 511.7 510.4 506.3 510.6 507.9 510.8 510.1 510.9 518.9 511.1 503.2 511.3 516.2 511.5 503.0 511.6 520.4 511.8 511.7 512.0 510.6 512.1 520.5 512.3 496.7 512.5 498.4 512.7 517.7 512.8 503.2 513.0 506.0 513.2 530.0 513.4 506.5 513.5 508.7 513.7 507.2 513.9 516.7 514.0 509.6 514.2 508.5 514.4 496.3 514.6 503.3 514.7 506.0 514.9 491.9 515.1 510.1 515.2 508.1 515.4 520.8 515.6 489.1 515.8 494.1 515.9 483.6 516.1 495.6 516.3 500.3 516.5 498.7 516.6 502.7 516.8 501.6 517.0 498.5 517.1 483.3 517.3 492.1 517.5 497.6 517.7 502.2 517.8 510.0 518.0 478.1" stroke="#f06060" stroke-width="0.35" stroke-opacity="0.35" fill="none" stroke-linejoin="round" clip-path="url(#c2)"/>
<path d="M465.5 511.5 465.9 512.1 466.3 512.7 466.8 513.1 467.2 513.4 467.6 513.3 468.0 512.9 468.5 512.3 468.9 512.0 469.3 512.4 469.8 513.1 470.2 514.1 470.6 514.4 471.1 514.7 471.5 515.1 471.9 515.4 472.4 515.7 472.8 516.1 473.2 516.3 473.6 516.6 474.1 516.9 474.5 517.0 474.9 517.0 475.4 516.8 475.8 516.7 476.2 516.4 476.7 516.1 477.1 515.8 477.5 515.8 478.0 515.8 478.4 516.2 478.8 516.5 479.2 516.8 479.7 517.0 480.1 517.2 480.5 517.6 481.0 517.7 481.4 517.7 481.8 517.6 482.3 517.4 482.7 516.8 483.1 516.4 483.5 515.9 484.0 515.6 484.4 515.3 484.8 515.4 485.3 515.2 485.7 515.3 486.1 515.2 486.6 515.1 487.0 515.1 487.4 515.0 487.9 515.0 488.3 515.1 488.7 515.0 489.1 515.0 489.6 514.8 490.0 514.9 490.4 514.9 490.9 514.7 491.3 514.6 491.7 514.6 492.2 514.8 492.6 514.7 493.0 514.6 493.5 514.7 493.9 514.8 494.3 514.7 494.7 514.7 495.2 514.7 495.6 514.8 496.0 514.7 496.5 514.6 496.9 514.7 497.3 514.6 497.8 514.5 498.2 514.5 498.6 514.5 499.1 514.4 499.5 514.5 499.9 514.4 500.3 514.4 500.8 514.2 501.2 514.3 501.6 514.3 502.1 514.2 502.5 514.2 502.9 514.1 503.4 514.2 503.8 514.1 504.2 514.0 504.7 513.7 505.1 513.8 505.5 513.8 505.9 513.6 506.4 513.4 506.8 513.5 507.2 513.4 507.7 513.2 508.1 513.1 508.5 512.9 509.0 512.8 509.4 512.4 509.8 512.1 510.2 511.9 510.7 511.6 511.1 511.5 511.5 510.9 512.0 510.5 512.4 509.9 512.8 509.3 513.3 508.7 513.7 508.0 514.1 507.1 514.6 506.3 515.0 505.3 515.4 504.2 515.8 502.8 516.3 501.6 516.7 499.8 517.1 498.3 517.6 496.6 518.0 494.7" stroke="#e04545" stroke-width="0.75" fill="none" stroke-linejoin="round" clip-path="url(#c2)"/>
<path d="M465.5 524.1 466.3 523.3 467.2 522.6 468.0 521.9 468.9 521.2 469.8 520.5 470.6 519.8 471.5 519.1 472.4 518.4 473.2 517.7 474.1 516.9 474.9 516.2 475.8 515.5 476.7 514.8 477.5 514.1 478.4 513.4 479.2 512.7 480.1 512.0 481.0 511.3 481.8 510.5 482.7 509.8 483.5 509.1 484.4 508.4 485.3 507.7 486.1 507.0 487.0 506.3 487.9 505.6 488.7 504.9 489.6 504.1 490.4 503.4 491.3 502.7 492.2 502.1 493.0 501.4 493.9 500.8 494.7 500.4 495.6 500.2 496.5 500.3 497.3 500.8 498.2 501.5 499.1 502.4 499.9 503.3 500.8 504.3 501.6 505.2 502.5 506.2 503.4 507.2 504.2 508.2 505.1 509.2 505.9 510.2 506.8 511.2 507.7 512.2 508.5 513.2 509.4 514.2 510.2 515.1 511.1 516.1 512.0 517.1 512.8 518.1 513.7 519.1 514.6 520.1 515.4 521.1 516.3 522.1 517.1 523.1 518.0 524.1" stroke="#6aaad9" stroke-width="1.1" fill="none" stroke-linejoin="round" clip-path="url(#c2)"/>
<rect x="432.3" y="492.3" width="89.75" height="38.10" fill="none" stroke="#7a7a7a" stroke-width="0.85"/>
<path d="M437.90 530.40v1.2M446.51 530.40v1.2M455.13 530.40v1.2M463.74 530.40v1.2M472.35 530.40v1.2M480.96 530.40v1.2M489.58 530.40v1.2M498.19 530.40v1.2M506.80 530.40v1.2M515.42 530.40v1.2M432.30 530.40h-1.2M522.05 530.40h1.2M432.30 517.70h-1.2M522.05 517.70h1.2M432.30 505.00h-1.2M522.05 505.00h1.2M432.30 492.30h-1.2M522.05 492.30h1.2" stroke="#555" stroke-width="0.45" fill="none"/>
<text x="437.90" y="536.40" font-size="4.4" textLength="5.60" lengthAdjust="spacingAndGlyphs" style="fill:#555" text-anchor="middle" xml:space="preserve">05</text>
<text x="446.51" y="536.40" font-size="4.4" textLength="5.60" lengthAdjust="spacingAndGlyphs" style="fill:#555" text-anchor="middle" xml:space="preserve">06</text>
<text x="455.13" y="536.40" font-size="4.4" textLength="5.60" lengthAdjust="spacingAndGlyphs" style="fill:#555" text-anchor="middle" xml:space="preserve">07</text>
<text x="463.74" y="536.40" font-size="4.4" textLength="5.60" lengthAdjust="spacingAndGlyphs" style="fill:#555" text-anchor="middle" xml:space="preserve">08</text>
<text x="472.35" y="536.40" font-size="4.4" textLength="5.60" lengthAdjust="spacingAndGlyphs" style="fill:#555" text-anchor="middle" xml:space="preserve">09</text>
<text x="480.96" y="536.40" font-size="4.4" textLength="5.60" lengthAdjust="spacingAndGlyphs" style="fill:#555" text-anchor="middle" xml:space="preserve">10</text>
<text x="489.58" y="536.40" font-size="4.4" textLength="5.60" lengthAdjust="spacingAndGlyphs" style="fill:#555" text-anchor="middle" xml:space="preserve">11</text>
<text x="498.19" y="536.40" font-size="4.4" textLength="5.60" lengthAdjust="spacingAndGlyphs" style="fill:#555" text-anchor="middle" xml:space="preserve">12</text>
<text x="506.80" y="536.40" font-size="4.4" textLength="5.60" lengthAdjust="spacingAndGlyphs" style="fill:#555" text-anchor="middle" xml:space="preserve">13</text>
<text x="515.42" y="536.40" font-size="4.4" textLength="5.60" lengthAdjust="spacingAndGlyphs" style="fill:#555" text-anchor="middle" xml:space="preserve">14</text>
<rect x="434.10" y="493.30" width="34.70" height="18" rx="0.8" fill="#fff" fill-opacity="0.85" stroke="#e0e0e0" stroke-width="0.4"/>
<path d="M436.20 497.10h8.4" stroke="#e04545" stroke-width="0.8"/>
<text x="447.30" y="498.60" font-size="4.4" textLength="20.18" lengthAdjust="spacingAndGlyphs" style="fill:#333" text-anchor="start" xml:space="preserve">phase TEC</text>
<path d="M436.20 502.90h8.4" stroke="#f7c0c0" stroke-width="0.8"/>
<text x="447.30" y="504.40" font-size="4.4" textLength="17.92" lengthAdjust="spacingAndGlyphs" style="fill:#333" text-anchor="start" xml:space="preserve">code TEC</text>
<path d="M436.20 508.70h8.4" stroke="#6aaad9" stroke-width="0.9"/>
<text x="447.30" y="510.20" font-size="4.4" textLength="7.87" lengthAdjust="spacingAndGlyphs" style="fill:#333" text-anchor="start" xml:space="preserve">Elev</text>
<clipPath id="c3"><rect x="525.60" y="492.30" width="89.75" height="38.10"/></clipPath>
<rect x="525.6" y="492.3" width="89.75" height="38.10" fill="#fff"/>
<path d="M531.20 492.30V530.40M539.81 492.30V530.40M548.43 492.30V530.40M557.04 492.30V530.40M565.65 492.30V530.40M574.26 492.30V530.40M582.88 492.30V530.40M591.49 492.30V530.40M600.10 492.30V530.40M608.72 492.30V530.40M525.60 517.70H615.35M525.60 505.00H615.35" stroke="#c8c8c8" stroke-width="0.4" stroke-dasharray="1.2,0.9" fill="none"/>
<path d="M558.8 511.5 559.2 512.1 559.6 512.7 560.1 513.1 560.5 513.4 560.9 513.3 561.3 512.9 561.8 512.3 562.2 512.0 562.6 512.4 563.1 513.1 563.5 514.1 563.9 514.4 564.4 514.7 564.8 515.1 565.2 515.4 565.7 515.7 566.1 516.1 566.5 516.3 566.9 516.6 567.4 516.9 567.8 517.0 568.2 517.0 568.7 516.8 569.1 516.7 569.5 516.4 570.0 516.1 570.4 515.8 570.8 515.8 571.3 515.8 571.7 516.2 572.1 516.5 572.5 516.8 573.0 517.0 573.4 517.2 573.8 517.6 574.3 517.7 574.7 517.7 575.1 517.6 575.6 517.4 576.0 516.8 576.4 516.4 576.8 515.9 577.3 515.6 577.7 515.3 578.1 515.4 578.6 515.2 579.0 515.3 579.4 515.2 579.9 515.1 580.3 515.1 580.7 515.0 581.2 515.0 581.6 515.1 582.0 515.0 582.4 515.0 582.9 514.8 583.3 514.9 583.7 514.9 584.2 514.7 584.6 514.6 585.0 514.6 585.5 514.8 585.9 514.7 586.3 514.6 586.8 514.7 587.2 514.8 587.6 514.7 588.0 514.7 588.5 514.7 588.9 514.8 589.3 514.7 589.8 514.6 590.2 514.7 590.6 514.6 591.1 514.5 591.5 514.5 591.9 514.5 592.4 514.4 592.8 514.5 593.2 514.4 593.6 514.4 594.1 514.2 594.5 514.3 594.9 514.3 595.4 514.2 595.8 514.2 596.2 514.1 596.7 514.2 597.1 514.1 597.5 514.0 598.0 513.7 598.4 513.8 598.8 513.8 599.2 513.6 599.7 513.4 600.1 513.5 600.5 513.4 601.0 513.2 601.4 513.1 601.8 512.9 602.3 512.8 602.7 512.4 603.1 512.1 603.5 511.9 604.0 511.6 604.4 511.5 604.8 510.9 605.3 510.5 605.7 509.9 606.1 509.3 606.6 508.7 607.0 508.0 607.4 507.1 607.9 506.3 608.3 505.3 608.7 504.2 609.1 502.8 609.6 501.6 610.0 499.8 610.4 498.3 610.9 496.6 611.3 494.7" stroke="#555" stroke-width="0.8" fill="none" stroke-linejoin="round" clip-path="url(#c3)"/>
<path d="M558.8 511.3 559.2 512.0 559.6 512.5 560.1 512.9 560.5 513.2 560.9 513.1 561.3 512.7 561.8 512.1 562.2 511.8 562.6 512.2 563.1 512.9 563.5 513.9 563.9 514.2 564.4 514.5 564.8 514.9 565.2 515.2 565.7 515.5 566.1 515.9 566.5 516.2 566.9 516.4 567.4 516.7 567.8 516.8 568.2 516.8 568.7 516.6 569.1 516.6 569.5 516.2 570.0 515.9 570.4 515.6 570.8 515.6 571.3 515.6 571.7 516.0 572.1 516.3 572.5 516.6 573.0 516.8 573.4 517.0 573.8 517.4 574.3 517.5 574.7 517.5 575.1 517.4 575.6 517.2 576.0 516.6 576.4 516.2 576.8 515.7 577.3 515.4 577.7 515.1 578.1 515.2 578.6 515.0 579.0 515.1 579.4 515.0 579.9 514.9 580.3 514.9 580.7 514.8 581.2 514.8 581.6 514.9 582.0 514.8 582.4 514.8 582.9 514.6 583.3 514.7 583.7 514.7 584.2 514.6 584.6 514.5 585.0 514.5 585.5 514.6 585.9 514.6 586.3 514.4 586.8 514.6 587.2 514.6 587.6 514.5 588.0 514.5 588.5 514.5 588.9 514.6 589.3 514.6 589.8 514.4 590.2 514.5 590.6 514.4 591.1 514.3 591.5 514.3 591.9 514.3 592.4 514.2 592.8 514.3 593.2 514.2 593.6 514.3 594.1 514.1 594.5 514.1 594.9 514.1 595.4 514.1 595.8 514.0 596.2 513.9 596.7 514.0 597.1 513.9 597.5 513.8 598.0 513.5 598.4 513.6 598.8 513.6 599.2 513.4 599.7 513.2 600.1 513.3 600.5 513.2 601.0 513.0 601.4 512.9 601.8 512.7 602.3 512.6 602.7 512.2 603.1 511.9 603.5 511.7 604.0 511.4 604.4 511.3 604.8 510.7 605.3 510.3 605.7 509.7 606.1 509.1 606.6 508.5 607.0 507.9 607.4 506.9 607.9 506.1 608.3 505.1 608.7 504.0 609.1 502.6 609.6 501.4 610.0 499.6 610.4 498.2 610.9 496.4 611.3 494.5" stroke="#9e3b3b" stroke-width="0.65" stroke-opacity="0.9" fill="none" stroke-linejoin="round" clip-path="url(#c3)"/>
<path d="M558.8 524.1 559.6 523.2 560.5 522.4 561.3 521.6 562.2 520.8 563.1 519.9 563.9 519.1 564.8 518.3 565.7 517.5 566.5 516.6 567.4 515.8 568.2 515.0 569.1 514.2 570.0 513.4 570.8 512.5 571.7 511.7 572.5 510.9 573.4 510.1 574.3 509.2 575.1 508.4 576.0 507.6 576.8 506.8 577.7 505.9 578.6 505.1 579.4 504.3 580.3 503.5 581.2 502.7 582.0 501.8 582.9 501.0 583.7 500.2 584.6 499.4 585.5 498.6 586.3 497.8 587.2 497.2 588.0 496.7 588.9 496.4 589.8 496.6 590.6 497.1 591.5 498.0 592.4 499.0 593.2 500.0 594.1 501.2 594.9 502.3 595.8 503.4 596.7 504.6 597.5 505.7 598.4 506.9 599.2 508.0 600.1 509.2 601.0 510.3 601.8 511.4 602.7 512.6 603.5 513.7 604.4 514.9 605.3 516.0 606.1 517.2 607.0 518.3 607.9 519.5 608.7 520.6 609.6 521.8 610.4 522.9 611.3 524.1" stroke="#6aaad9" stroke-width="1.1" fill="none" stroke-linejoin="round" clip-path="url(#c3)"/>
<rect x="525.6" y="492.3" width="89.75" height="38.10" fill="none" stroke="#7a7a7a" stroke-width="0.85"/>
<path d="M531.20 530.40v1.2M539.81 530.40v1.2M548.43 530.40v1.2M557.04 530.40v1.2M565.65 530.40v1.2M574.26 530.40v1.2M582.88 530.40v1.2M591.49 530.40v1.2M600.10 530.40v1.2M608.72 530.40v1.2M525.60 530.40h-1.2M615.35 530.40h1.2M525.60 517.70h-1.2M615.35 517.70h1.2M525.60 505.00h-1.2M615.35 505.00h1.2M525.60 492.30h-1.2M615.35 492.30h1.2" stroke="#555" stroke-width="0.45" fill="none"/>
<text x="531.20" y="536.40" font-size="4.4" textLength="5.60" lengthAdjust="spacingAndGlyphs" style="fill:#555" text-anchor="middle" xml:space="preserve">05</text>
<text x="539.81" y="536.40" font-size="4.4" textLength="5.60" lengthAdjust="spacingAndGlyphs" style="fill:#555" text-anchor="middle" xml:space="preserve">06</text>
<text x="548.43" y="536.40" font-size="4.4" textLength="5.60" lengthAdjust="spacingAndGlyphs" style="fill:#555" text-anchor="middle" xml:space="preserve">07</text>
<text x="557.04" y="536.40" font-size="4.4" textLength="5.60" lengthAdjust="spacingAndGlyphs" style="fill:#555" text-anchor="middle" xml:space="preserve">08</text>
<text x="565.65" y="536.40" font-size="4.4" textLength="5.60" lengthAdjust="spacingAndGlyphs" style="fill:#555" text-anchor="middle" xml:space="preserve">09</text>
<text x="574.26" y="536.40" font-size="4.4" textLength="5.60" lengthAdjust="spacingAndGlyphs" style="fill:#555" text-anchor="middle" xml:space="preserve">10</text>
<text x="582.88" y="536.40" font-size="4.4" textLength="5.60" lengthAdjust="spacingAndGlyphs" style="fill:#555" text-anchor="middle" xml:space="preserve">11</text>
<text x="591.49" y="536.40" font-size="4.4" textLength="5.60" lengthAdjust="spacingAndGlyphs" style="fill:#555" text-anchor="middle" xml:space="preserve">12</text>
<text x="600.10" y="536.40" font-size="4.4" textLength="5.60" lengthAdjust="spacingAndGlyphs" style="fill:#555" text-anchor="middle" xml:space="preserve">13</text>
<text x="608.72" y="536.40" font-size="4.4" textLength="5.60" lengthAdjust="spacingAndGlyphs" style="fill:#555" text-anchor="middle" xml:space="preserve">14</text>
<text x="617.55" y="493.80" font-size="4.4" style="fill:#555" text-anchor="start" xml:space="preserve">90</text>
<text x="617.55" y="506.50" font-size="4.4" style="fill:#555" text-anchor="start" xml:space="preserve">60</text>
<text x="617.55" y="519.20" font-size="4.4" style="fill:#555" text-anchor="start" xml:space="preserve">30</text>
<text x="617.55" y="531.90" font-size="4.4" style="fill:#555" text-anchor="start" xml:space="preserve">0</text>
<rect x="527.40" y="493.30" width="45.20" height="18" rx="0.8" fill="#fff" fill-opacity="0.85" stroke="#e0e0e0" stroke-width="0.4"/>
<path d="M529.50 497.10h8.4" stroke="#666" stroke-width="0.8"/>
<text x="540.60" y="498.60" font-size="4.4" textLength="29.33" lengthAdjust="spacingAndGlyphs" style="fill:#333" text-anchor="start" xml:space="preserve">SEP phase TEC</text>
<path d="M529.50 502.90h8.4" stroke="#d05050" stroke-width="0.8"/>
<text x="540.60" y="504.40" font-size="4.4" textLength="29.17" lengthAdjust="spacingAndGlyphs" style="fill:#333" text-anchor="start" xml:space="preserve">SC3 phase TEC</text>
<path d="M529.50 508.70h8.4" stroke="#6aaad9" stroke-width="0.9"/>
<text x="540.60" y="510.20" font-size="4.4" textLength="7.87" lengthAdjust="spacingAndGlyphs" style="fill:#333" text-anchor="start" xml:space="preserve">Elev</text>
<text x="327.40" y="558.55" font-size="4.5" textLength="23.00" lengthAdjust="spacingAndGlyphs" style="fill:#444" text-anchor="middle" transform="rotate(-90 327.40 558.55)" xml:space="preserve">TEC [TECU]</text>
<text x="626.80" y="558.55" font-size="4.5" textLength="21.00" lengthAdjust="spacingAndGlyphs" style="fill:#444" text-anchor="middle" transform="rotate(-90 626.80 558.55)" xml:space="preserve">Elev [deg]</text>
<clipPath id="c4"><rect x="339.00" y="539.30" width="89.75" height="38.50"/></clipPath>
<rect x="339.0" y="539.3" width="89.75" height="38.50" fill="#fff"/>
<path d="M344.60 539.30V577.80M353.21 539.30V577.80M361.83 539.30V577.80M370.44 539.30V577.80M379.05 539.30V577.80M387.66 539.30V577.80M396.28 539.30V577.80M404.89 539.30V577.80M413.50 539.30V577.80M422.12 539.30V577.80M339.00 564.97H428.75M339.00 552.13H428.75" stroke="#c8c8c8" stroke-width="0.4" stroke-dasharray="1.2,0.9" fill="none"/>
<path d="M359.2 538.3 360.1 539.1 361.0 539.8 361.8 540.5 362.7 541.3 363.5 542.2 364.4 543.1 365.3 544.1 366.1 545.0 367.0 546.0 367.9 547.0 368.7 548.0 369.6 549.0 370.4 550.1 371.3 551.1 372.2 552.0 373.0 552.9 373.9 553.9 374.7 554.7 375.6 555.5 376.5 556.3 377.3 557.0 378.2 557.5 379.1 558.1 379.9 558.5 380.8 558.9 381.6 559.1 382.5 559.3 383.4 559.4 384.2 559.5 385.1 559.5 385.9 559.5 386.8 559.5 387.7 559.4 388.5 559.2 389.4 559.0 390.2 558.7 391.1 558.4 392.0 558.0 392.8 557.7 393.7 557.3 394.6 556.9 395.4 556.5 396.3 556.0 397.1 555.6 398.0 555.1 398.9 554.7 399.7 554.2 400.6 553.8 401.4 553.4 402.3 553.1 403.2 552.7 404.0 552.4 404.9 551.9 405.8 551.4 406.6 550.7 407.5 550.0 408.3 549.2 409.2 548.4 410.1 547.6 410.9 546.6 411.8 545.5 412.6 544.4 412.6 577.9 411.8 577.9 410.9 577.9 410.1 577.8 409.2 577.7 408.3 577.4 407.5 577.2 406.6 577.0 405.8 576.6 404.9 576.2 404.0 575.7 403.2 575.1 402.3 574.6 401.4 574.0 400.6 573.6 399.7 573.2 398.9 572.8 398.0 572.5 397.1 572.2 396.3 571.8 395.4 571.5 394.6 571.2 393.7 571.0 392.8 570.7 392.0 570.4 391.1 570.2 390.2 569.9 389.4 569.7 388.5 569.4 387.7 569.1 386.8 568.7 385.9 568.4 385.1 568.0 384.2 567.7 383.4 567.4 382.5 567.2 381.6 567.0 380.8 566.8 379.9 566.7 379.1 566.6 378.2 566.6 377.3 566.6 376.5 566.5 375.6 566.5 374.7 566.4 373.9 566.4 373.0 566.4 372.2 566.4 371.3 566.4 370.4 566.4 369.6 566.4 368.7 566.5 367.9 566.6 367.0 566.8 366.1 567.0 365.3 567.2 364.4 567.6 363.5 567.9 362.7 568.4 361.8 568.9 361.0 569.6 360.1 570.3 359.2 571.1Z" fill="#777" fill-opacity="0.22" clip-path="url(#c4)"/>
<path d="M359.2 554.4 359.4 578.1 359.6 566.2 359.8 570.1 359.9 561.0 360.1 553.7 360.3 579.5 360.4 550.5 360.6 573.1 360.8 551.1 361.0 556.0 361.1 558.4 361.3 555.6 361.5 561.0 361.7 561.7 361.8 573.9 362.0 555.0 362.2 534.1 362.3 532.9 362.5 540.3 362.7 547.2 362.9 562.1 363.0 539.6 363.2 556.2 363.4 555.7 363.5 558.1 363.7 553.1 363.9 559.6 364.1 557.1 364.2 566.0 364.4 559.0 364.6 533.3 364.8 556.1 364.9 557.8 365.1 550.6 365.3 549.1 365.4 565.9 365.6 557.7 365.8 537.7 366.0 553.5 366.1 554.9 366.3 542.6 366.5 562.0 366.6 555.5 366.8 560.7 367.0 544.0 367.2 572.5 367.3 562.0 367.5 566.0 367.7 551.5 367.9 552.1 368.0 546.1 368.2 569.0 368.4 551.4 368.5 559.4 368.7 562.2 368.9 553.4 369.1 564.1 369.2 590.0 369.4 560.2 369.6 568.1 369.7 562.3 369.9 555.4 370.1 553.4 370.3 547.6 370.4 559.5 370.6 568.2 370.8 563.2 371.0 564.3 371.1 575.2 371.3 556.1 371.5 562.7 371.6 570.7 371.8 554.9 372.0 559.7 372.2 557.1 372.3 558.7 372.5 551.6 372.7 559.3 372.9 552.8 373.0 557.4 373.2 557.7 373.4 557.7 373.5 567.4 373.7 560.9 373.9 561.4 374.1 558.0 374.2 566.9 374.4 552.5 374.6 560.0 374.7 573.1 374.9 568.6 375.1 562.0 375.3 561.3 375.4 564.1 375.6 560.6 375.8 563.9 376.0 558.8 376.1 564.3 376.3 561.5 376.5 557.4 376.6 551.1 376.8 565.6 377.0 563.5 377.2 565.0 377.3 558.7 377.5 566.2 377.7 563.7 377.8 562.0 378.0 565.6 378.2 565.5 378.4 563.8 378.5 578.5 378.7 567.3 378.9 565.4 379.1 561.8 379.2 563.0 379.4 568.4 379.6 564.0 379.7 559.9 379.9 560.8 380.1 562.9 380.3 565.5 380.4 560.7 380.6 564.6 380.8 566.5 380.9 565.4 381.1 558.4 381.3 562.3 381.5 559.4 381.6 564.6 381.8 560.1 382.0 567.3 382.2 563.7 382.3 555.4 382.5 560.8 382.7 564.9 382.8 563.6 383.0 562.3 383.2 559.5 383.4 566.9 383.5 569.1 383.7 565.5 383.9 563.5 384.0 563.2 384.2 559.3 384.4 562.6 384.6 561.0 384.7 567.4 384.9 557.3 385.1 556.6 385.3 561.2 385.4 563.0 385.6 562.7 385.8 557.6 385.9 567.2 386.1 564.4 386.3 562.3 386.5 561.3 386.6 565.7 386.8 563.0 387.0 566.4 387.1 563.7 387.3 564.7 387.5 568.6 387.7 564.3 387.8 560.8 388.0 568.1 388.2 565.2 388.4 561.6 388.5 568.7 388.7 563.6 388.9 568.7 389.0 559.6 389.2 554.5 389.4 555.7 389.6 565.3 389.7 557.2 389.9 563.8 390.1 563.9 390.2 557.4 390.4 570.3 390.6 553.7 390.8 564.8 390.9 557.7 391.1 562.3 391.3 567.5 391.5 562.9 391.6 560.7 391.8 564.1 392.0 558.9 392.1 566.8 392.3 575.0 392.5 559.6 392.7 560.6 392.8 562.5 393.0 563.8 393.2 558.6 393.3 566.6 393.5 568.0 393.7 565.2 393.9 557.5 394.0 571.8 394.2 557.4 394.4 572.1 394.6 570.4 394.7 556.7 394.9 565.3 395.1 571.7 395.2 566.1 395.4 558.4 395.6 556.7 395.8 566.6 395.9 561.4 396.1 559.5 396.3 568.0 396.5 561.7 396.6 564.1 396.8 567.4 397.0 567.1 397.1 563.4 397.3 563.7 397.5 567.7 397.7 566.7 397.8 556.2 398.0 562.3 398.2 557.6 398.3 555.3 398.5 559.6 398.7 547.4 398.9 569.7 399.0 557.8 399.2 566.1 399.4 549.9 399.6 550.9 399.7 578.5 399.9 571.1 400.1 558.6 400.2 557.5 400.4 557.9 400.6 564.2 400.8 560.1 400.9 558.4 401.1 564.3 401.3 555.3 401.4 582.4 401.6 558.5 401.8 572.4 402.0 545.9 402.1 565.8 402.3 571.5 402.5 560.6 402.7 571.8 402.8 571.9 403.0 594.6 403.2 564.2 403.3 559.5 403.5 554.6 403.7 565.3 403.9 554.3 404.0 563.9 404.2 564.9 404.4 558.6 404.5 553.9 404.7 571.3 404.9 566.4 405.1 565.6 405.2 563.2 405.4 573.0 405.6 541.4 405.8 568.1 405.9 559.3 406.1 572.4 406.3 560.2 406.4 559.8 406.6 568.3 406.8 542.5 407.0 559.8 407.1 544.7 407.3 553.3 407.5 570.8 407.6 567.7 407.8 558.7 408.0 562.8 408.2 562.8 408.3 566.6 408.5 608.5 408.7 565.8 408.9 588.7 409.0 558.8 409.2 581.7 409.4 571.4 409.5 565.5 409.7 559.6 409.9 580.0 410.1 583.9 410.2 575.6 410.4 587.6 410.6 574.4 410.7 542.5 410.9 575.5 411.1 553.9 411.3 579.5 411.4 558.1 411.6 565.9 411.8 562.5 412.0 554.2 412.1 538.4 412.3 558.8 412.5 559.6 412.6 574.2" stroke="#4a4a4a" stroke-width="0.35" stroke-opacity="0.35" fill="none" stroke-linejoin="round" clip-path="url(#c4)"/>
<path d="M359.2 554.7 359.7 554.8 360.1 554.8 360.5 554.7 361.0 554.8 361.4 554.8 361.8 554.8 362.3 554.8 362.7 554.9 363.1 555.0 363.5 555.2 364.0 555.2 364.4 555.3 364.8 555.3 365.3 555.8 365.7 555.9 366.1 555.9 366.6 556.2 367.0 556.4 367.4 556.5 367.9 556.9 368.3 557.1 368.7 557.4 369.1 557.5 369.6 557.7 370.0 558.1 370.4 558.3 370.9 558.4 371.3 558.7 371.7 559.0 372.2 559.1 372.6 559.4 373.0 559.8 373.5 559.9 373.9 560.1 374.3 560.4 374.7 560.7 375.2 560.8 375.6 561.0 376.0 561.1 376.5 561.6 376.9 561.4 377.3 561.8 377.8 561.8 378.2 562.0 378.6 562.1 379.1 562.3 379.5 562.6 379.9 562.5 380.3 562.8 380.8 563.0 381.2 562.7 381.6 563.0 382.1 563.0 382.5 563.3 382.9 563.2 383.4 563.3 383.8 563.4 384.2 563.6 384.7 563.8 385.1 563.8 385.5 564.0 385.9 564.1 386.4 564.0 386.8 564.2 387.2 564.2 387.7 564.2 388.1 564.1 388.5 564.2 389.0 564.3 389.4 564.2 389.8 564.4 390.2 564.3 390.7 564.2 391.1 564.4 391.5 564.3 392.0 564.3 392.4 564.2 392.8 564.1 393.3 564.2 393.7 564.1 394.1 564.2 394.6 564.1 395.0 564.1 395.4 563.9 395.8 563.8 396.3 563.9 396.7 564.0 397.1 563.8 397.6 563.9 398.0 563.8 398.4 563.8 398.9 563.7 399.3 563.7 399.7 563.7 400.2 563.7 400.6 563.8 401.0 563.7 401.4 563.8 401.9 563.8 402.3 563.9 402.7 563.9 403.2 563.9 403.6 564.1 404.0 564.1 404.5 564.1 404.9 564.0 405.3 563.9 405.8 563.9 406.2 564.0 406.6 563.7 407.0 563.9 407.5 563.5 407.9 563.5 408.3 563.5 408.8 563.0 409.2 562.9 409.6 563.0 410.1 562.7 410.5 562.5 410.9 562.2 411.4 562.1 411.8 561.8 412.2 561.4 412.6 561.1" stroke="#333" stroke-width="0.75" fill="none" stroke-linejoin="round" clip-path="url(#c4)"/>
<path d="M359.2 570.8 360.1 569.5 361.0 568.3 361.8 567.0 362.7 565.8 363.5 564.5 364.4 563.3 365.3 562.1 366.1 560.8 367.0 559.6 367.9 558.3 368.7 557.1 369.6 555.8 370.4 554.6 371.3 553.3 372.2 552.1 373.0 550.9 373.9 549.6 374.7 548.4 375.6 547.1 376.5 545.9 377.3 544.6 378.2 543.4 379.1 542.2 379.9 541.0 380.8 539.9 381.6 539.3 382.5 539.6 383.4 540.3 384.2 541.2 385.1 542.1 385.9 543.0 386.8 543.9 387.7 544.8 388.5 545.7 389.4 546.7 390.2 547.6 391.1 548.5 392.0 549.4 392.8 550.3 393.7 551.2 394.6 552.2 395.4 553.1 396.3 554.0 397.1 554.9 398.0 555.8 398.9 556.7 399.7 557.6 400.6 558.6 401.4 559.5 402.3 560.4 403.2 561.3 404.0 562.2 404.9 563.1 405.8 564.1 406.6 565.0 407.5 565.9 408.3 566.8 409.2 567.7 410.1 568.6 410.9 569.6 411.8 570.5 412.6 571.4" stroke="#6aaad9" stroke-width="1.1" fill="none" stroke-linejoin="round" clip-path="url(#c4)"/>
<rect x="339.0" y="539.3" width="89.75" height="38.50" fill="none" stroke="#7a7a7a" stroke-width="0.85"/>
<path d="M344.60 577.80v1.2M353.21 577.80v1.2M361.83 577.80v1.2M370.44 577.80v1.2M379.05 577.80v1.2M387.66 577.80v1.2M396.28 577.80v1.2M404.89 577.80v1.2M413.50 577.80v1.2M422.12 577.80v1.2M339.00 577.80h-1.2M428.75 577.80h1.2M339.00 564.97h-1.2M428.75 564.97h1.2M339.00 552.13h-1.2M428.75 552.13h1.2M339.00 539.30h-1.2M428.75 539.30h1.2" stroke="#555" stroke-width="0.45" fill="none"/>
<text x="344.60" y="583.80" font-size="4.4" textLength="5.60" lengthAdjust="spacingAndGlyphs" style="fill:#555" text-anchor="middle" xml:space="preserve">05</text>
<text x="353.21" y="583.80" font-size="4.4" textLength="5.60" lengthAdjust="spacingAndGlyphs" style="fill:#555" text-anchor="middle" xml:space="preserve">06</text>
<text x="361.83" y="583.80" font-size="4.4" textLength="5.60" lengthAdjust="spacingAndGlyphs" style="fill:#555" text-anchor="middle" xml:space="preserve">07</text>
<text x="370.44" y="583.80" font-size="4.4" textLength="5.60" lengthAdjust="spacingAndGlyphs" style="fill:#555" text-anchor="middle" xml:space="preserve">08</text>
<text x="379.05" y="583.80" font-size="4.4" textLength="5.60" lengthAdjust="spacingAndGlyphs" style="fill:#555" text-anchor="middle" xml:space="preserve">09</text>
<text x="387.66" y="583.80" font-size="4.4" textLength="5.60" lengthAdjust="spacingAndGlyphs" style="fill:#555" text-anchor="middle" xml:space="preserve">10</text>
<text x="396.28" y="583.80" font-size="4.4" textLength="5.60" lengthAdjust="spacingAndGlyphs" style="fill:#555" text-anchor="middle" xml:space="preserve">11</text>
<text x="404.89" y="583.80" font-size="4.4" textLength="5.60" lengthAdjust="spacingAndGlyphs" style="fill:#555" text-anchor="middle" xml:space="preserve">12</text>
<text x="413.50" y="583.80" font-size="4.4" textLength="5.60" lengthAdjust="spacingAndGlyphs" style="fill:#555" text-anchor="middle" xml:space="preserve">13</text>
<text x="422.12" y="583.80" font-size="4.4" textLength="5.60" lengthAdjust="spacingAndGlyphs" style="fill:#555" text-anchor="middle" xml:space="preserve">14</text>
<text x="337.20" y="540.80" font-size="4.4" style="fill:#555" text-anchor="end" xml:space="preserve">20</text>
<text x="337.20" y="553.63" font-size="4.4" style="fill:#555" text-anchor="end" xml:space="preserve">10</text>
<text x="337.20" y="566.47" font-size="4.4" style="fill:#555" text-anchor="end" xml:space="preserve">0</text>
<text x="337.20" y="579.30" font-size="4.4" style="fill:#555" text-anchor="end" xml:space="preserve">−10</text>
<text x="424.30" y="576.20" font-size="4.8" textLength="15.50" lengthAdjust="spacingAndGlyphs" style="fill:#111" text-anchor="end" xml:space="preserve"><tspan font-weight="bold">BEI14</tspan></text>
<clipPath id="c5"><rect x="432.30" y="539.30" width="89.75" height="38.50"/></clipPath>
<rect x="432.3" y="539.3" width="89.75" height="38.50" fill="#fff"/>
<path d="M437.90 539.30V577.80M446.51 539.30V577.80M455.13 539.30V577.80M463.74 539.30V577.80M472.35 539.30V577.80M480.96 539.30V577.80M489.58 539.30V577.80M498.19 539.30V577.80M506.80 539.30V577.80M515.42 539.30V577.80M432.30 564.97H522.05M432.30 552.13H522.05" stroke="#c8c8c8" stroke-width="0.4" stroke-dasharray="1.2,0.9" fill="none"/>
<path d="M452.5 538.3 453.4 539.1 454.3 539.8 455.1 540.5 456.0 541.3 456.8 542.2 457.7 543.1 458.6 544.1 459.4 545.0 460.3 546.0 461.2 547.0 462.0 548.0 462.9 549.0 463.7 550.1 464.6 551.1 465.5 552.0 466.3 552.9 467.2 553.9 468.0 554.7 468.9 555.5 469.8 556.3 470.6 557.0 471.5 557.5 472.4 558.1 473.2 558.5 474.1 558.9 474.9 559.1 475.8 559.3 476.7 559.4 477.5 559.5 478.4 559.5 479.2 559.5 480.1 559.5 481.0 559.4 481.8 559.2 482.7 559.0 483.5 558.7 484.4 558.4 485.3 558.0 486.1 557.7 487.0 557.3 487.9 556.9 488.7 556.5 489.6 556.0 490.4 555.6 491.3 555.1 492.2 554.7 493.0 554.2 493.9 553.8 494.7 553.4 495.6 553.1 496.5 552.7 497.3 552.4 498.2 551.9 499.1 551.4 499.9 550.7 500.8 550.0 501.6 549.2 502.5 548.4 503.4 547.6 504.2 546.6 505.1 545.5 505.9 544.4 505.9 577.9 505.1 577.9 504.2 577.9 503.4 577.8 502.5 577.7 501.6 577.4 500.8 577.2 499.9 577.0 499.1 576.6 498.2 576.2 497.3 575.7 496.5 575.1 495.6 574.6 494.7 574.0 493.9 573.6 493.0 573.2 492.2 572.8 491.3 572.5 490.4 572.2 489.6 571.8 488.7 571.5 487.9 571.2 487.0 571.0 486.1 570.7 485.3 570.4 484.4 570.2 483.5 569.9 482.7 569.7 481.8 569.4 481.0 569.1 480.1 568.7 479.2 568.4 478.4 568.0 477.5 567.7 476.7 567.4 475.8 567.2 474.9 567.0 474.1 566.8 473.2 566.7 472.4 566.6 471.5 566.6 470.6 566.6 469.8 566.5 468.9 566.5 468.0 566.4 467.2 566.4 466.3 566.4 465.5 566.4 464.6 566.4 463.7 566.4 462.9 566.4 462.0 566.5 461.2 566.6 460.3 566.8 459.4 567.0 458.6 567.2 457.7 567.6 456.8 567.9 456.0 568.4 455.1 568.9 454.3 569.6 453.4 570.3 452.5 571.1Z" fill="#f08080" fill-opacity="0.18" clip-path="url(#c5)"/>
<path d="M452.5 554.4 452.7 578.1 452.9 566.2 453.1 570.1 453.2 561.0 453.4 553.7 453.6 579.5 453.7 550.5 453.9 573.1 454.1 551.1 454.3 556.0 454.4 558.4 454.6 555.6 454.8 561.0 455.0 561.7 455.1 573.9 455.3 555.0 455.5 534.1 455.6 532.9 455.8 540.3 456.0 547.2 456.2 562.1 456.3 539.6 456.5 556.2 456.7 555.7 456.8 558.1 457.0 553.1 457.2 559.6 457.4 557.1 457.5 566.0 457.7 559.0 457.9 533.3 458.1 556.1 458.2 557.8 458.4 550.6 458.6 549.1 458.7 565.9 458.9 557.7 459.1 537.7 459.3 553.5 459.4 554.9 459.6 542.6 459.8 562.0 459.9 555.5 460.1 560.7 460.3 544.0 460.5 572.5 460.6 562.0 460.8 566.0 461.0 551.5 461.2 552.1 461.3 546.1 461.5 569.0 461.7 551.4 461.8 559.4 462.0 562.2 462.2 553.4 462.4 564.1 462.5 590.0 462.7 560.2 462.9 568.1 463.0 562.3 463.2 555.4 463.4 553.4 463.6 547.6 463.7 559.5 463.9 568.2 464.1 563.2 464.3 564.3 464.4 575.2 464.6 556.1 464.8 562.7 464.9 570.7 465.1 554.9 465.3 559.7 465.5 557.1 465.6 558.7 465.8 551.6 466.0 559.3 466.2 552.8 466.3 557.4 466.5 557.7 466.7 557.7 466.8 567.4 467.0 560.9 467.2 561.4 467.4 558.0 467.5 566.9 467.7 552.5 467.9 560.0 468.0 573.1 468.2 568.6 468.4 562.0 468.6 561.3 468.7 564.1 468.9 560.6 469.1 563.9 469.3 558.8 469.4 564.3 469.6 561.5 469.8 557.4 469.9 551.1 470.1 565.6 470.3 563.5 470.5 565.0 470.6 558.7 470.8 566.2 471.0 563.7 471.1 562.0 471.3 565.6 471.5 565.5 471.7 563.8 471.8 578.5 472.0 567.3 472.2 565.4 472.4 561.8 472.5 563.0 472.7 568.4 472.9 564.0 473.0 559.9 473.2 560.8 473.4 562.9 473.6 565.5 473.7 560.7 473.9 564.6 474.1 566.5 474.2 565.4 474.4 558.4 474.6 562.3 474.8 559.4 474.9 564.6 475.1 560.1 475.3 567.3 475.5 563.7 475.6 555.4 475.8 560.8 476.0 564.9 476.1 563.6 476.3 562.3 476.5 559.5 476.7 566.9 476.8 569.1 477.0 565.5 477.2 563.5 477.3 563.2 477.5 559.3 477.7 562.6 477.9 561.0 478.0 567.4 478.2 557.3 478.4 556.6 478.6 561.2 478.7 563.0 478.9 562.7 479.1 557.6 479.2 567.2 479.4 564.4 479.6 562.3 479.8 561.3 479.9 565.7 480.1 563.0 480.3 566.4 480.4 563.7 480.6 564.7 480.8 568.6 481.0 564.3 481.1 560.8 481.3 568.1 481.5 565.2 481.7 561.6 481.8 568.7 482.0 563.6 482.2 568.7 482.3 559.6 482.5 554.5 482.7 555.7 482.9 565.3 483.0 557.2 483.2 563.8 483.4 563.9 483.5 557.4 483.7 570.3 483.9 553.7 484.1 564.8 484.2 557.7 484.4 562.3 484.6 567.5 484.8 562.9 484.9 560.7 485.1 564.1 485.3 558.9 485.4 566.8 485.6 575.0 485.8 559.6 486.0 560.6 486.1 562.5 486.3 563.8 486.5 558.6 486.6 566.6 486.8 568.0 487.0 565.2 487.2 557.5 487.3 571.8 487.5 557.4 487.7 572.1 487.9 570.4 488.0 556.7 488.2 565.3 488.4 571.7 488.5 566.1 488.7 558.4 488.9 556.7 489.1 566.6 489.2 561.4 489.4 559.5 489.6 568.0 489.8 561.7 489.9 564.1 490.1 567.4 490.3 567.1 490.4 563.4 490.6 563.7 490.8 567.7 491.0 566.7 491.1 556.2 491.3 562.3 491.5 557.6 491.6 555.3 491.8 559.6 492.0 547.4 492.2 569.7 492.3 557.8 492.5 566.1 492.7 549.9 492.9 550.9 493.0 578.5 493.2 571.1 493.4 558.6 493.5 557.5 493.7 557.9 493.9 564.2 494.1 560.1 494.2 558.4 494.4 564.3 494.6 555.3 494.7 582.4 494.9 558.5 495.1 572.4 495.3 545.9 495.4 565.8 495.6 571.5 495.8 560.6 496.0 571.8 496.1 571.9 496.3 594.6 496.5 564.2 496.6 559.5 496.8 554.6 497.0 565.3 497.2 554.3 497.3 563.9 497.5 564.9 497.7 558.6 497.8 553.9 498.0 571.3 498.2 566.4 498.4 565.6 498.5 563.2 498.7 573.0 498.9 541.4 499.1 568.1 499.2 559.3 499.4 572.4 499.6 560.2 499.7 559.8 499.9 568.3 500.1 542.5 500.3 559.8 500.4 544.7 500.6 553.3 500.8 570.8 500.9 567.7 501.1 558.7 501.3 562.8 501.5 562.8 501.6 566.6 501.8 608.5 502.0 565.8 502.2 588.7 502.3 558.8 502.5 581.7 502.7 571.4 502.8 565.5 503.0 559.6 503.2 580.0 503.4 583.9 503.5 575.6 503.7 587.6 503.9 574.4 504.0 542.5 504.2 575.5 504.4 553.9 504.6 579.5 504.7 558.1 504.9 565.9 505.1 562.5 505.3 554.2 505.4 538.4 505.6 558.8 505.8 559.6 505.9 574.2" stroke="#f06060" stroke-width="0.35" stroke-opacity="0.35" fill="none" stroke-linejoin="round" clip-path="url(#c5)"/>
<path d="M452.5 554.7 453.0 554.8 453.4 554.8 453.8 554.7 454.3 554.8 454.7 554.8 455.1 554.8 455.6 554.8 456.0 554.9 456.4 555.0 456.8 555.2 457.3 555.2 457.7 555.3 458.1 555.3 458.6 555.8 459.0 555.9 459.4 555.9 459.9 556.2 460.3 556.4 460.7 556.5 461.2 556.9 461.6 557.1 462.0 557.4 462.4 557.5 462.9 557.7 463.3 558.1 463.7 558.3 464.2 558.4 464.6 558.7 465.0 559.0 465.5 559.1 465.9 559.4 466.3 559.8 466.8 559.9 467.2 560.1 467.6 560.4 468.0 560.7 468.5 560.8 468.9 561.0 469.3 561.1 469.8 561.6 470.2 561.4 470.6 561.8 471.1 561.8 471.5 562.0 471.9 562.1 472.4 562.3 472.8 562.6 473.2 562.5 473.6 562.8 474.1 563.0 474.5 562.7 474.9 563.0 475.4 563.0 475.8 563.3 476.2 563.2 476.7 563.3 477.1 563.4 477.5 563.6 478.0 563.8 478.4 563.8 478.8 564.0 479.2 564.1 479.7 564.0 480.1 564.2 480.5 564.2 481.0 564.2 481.4 564.1 481.8 564.2 482.3 564.3 482.7 564.2 483.1 564.4 483.5 564.3 484.0 564.2 484.4 564.4 484.8 564.3 485.3 564.3 485.7 564.2 486.1 564.1 486.6 564.2 487.0 564.1 487.4 564.2 487.9 564.1 488.3 564.1 488.7 563.9 489.1 563.8 489.6 563.9 490.0 564.0 490.4 563.8 490.9 563.9 491.3 563.8 491.7 563.8 492.2 563.7 492.6 563.7 493.0 563.7 493.5 563.7 493.9 563.8 494.3 563.7 494.7 563.8 495.2 563.8 495.6 563.9 496.0 563.9 496.5 563.9 496.9 564.1 497.3 564.1 497.8 564.1 498.2 564.0 498.6 563.9 499.1 563.9 499.5 564.0 499.9 563.7 500.3 563.9 500.8 563.5 501.2 563.5 501.6 563.5 502.1 563.0 502.5 562.9 502.9 563.0 503.4 562.7 503.8 562.5 504.2 562.2 504.7 562.1 505.1 561.8 505.5 561.4 505.9 561.1" stroke="#e04545" stroke-width="0.75" fill="none" stroke-linejoin="round" clip-path="url(#c5)"/>
<path d="M452.5 570.8 453.4 569.5 454.3 568.3 455.1 567.0 456.0 565.8 456.8 564.5 457.7 563.3 458.6 562.1 459.4 560.8 460.3 559.6 461.2 558.3 462.0 557.1 462.9 555.8 463.7 554.6 464.6 553.3 465.5 552.1 466.3 550.9 467.2 549.6 468.0 548.4 468.9 547.1 469.8 545.9 470.6 544.6 471.5 543.4 472.4 542.2 473.2 541.0 474.1 539.9 474.9 539.3 475.8 539.6 476.7 540.3 477.5 541.2 478.4 542.1 479.2 543.0 480.1 543.9 481.0 544.8 481.8 545.7 482.7 546.7 483.5 547.6 484.4 548.5 485.3 549.4 486.1 550.3 487.0 551.2 487.9 552.2 488.7 553.1 489.6 554.0 490.4 554.9 491.3 555.8 492.2 556.7 493.0 557.6 493.9 558.6 494.7 559.5 495.6 560.4 496.5 561.3 497.3 562.2 498.2 563.1 499.1 564.1 499.9 565.0 500.8 565.9 501.6 566.8 502.5 567.7 503.4 568.6 504.2 569.6 505.1 570.5 505.9 571.4" stroke="#6aaad9" stroke-width="1.1" fill="none" stroke-linejoin="round" clip-path="url(#c5)"/>
<rect x="432.3" y="539.3" width="89.75" height="38.50" fill="none" stroke="#7a7a7a" stroke-width="0.85"/>
<path d="M437.90 577.80v1.2M446.51 577.80v1.2M455.13 577.80v1.2M463.74 577.80v1.2M472.35 577.80v1.2M480.96 577.80v1.2M489.58 577.80v1.2M498.19 577.80v1.2M506.80 577.80v1.2M515.42 577.80v1.2M432.30 577.80h-1.2M522.05 577.80h1.2M432.30 564.97h-1.2M522.05 564.97h1.2M432.30 552.13h-1.2M522.05 552.13h1.2M432.30 539.30h-1.2M522.05 539.30h1.2" stroke="#555" stroke-width="0.45" fill="none"/>
<text x="437.90" y="583.80" font-size="4.4" textLength="5.60" lengthAdjust="spacingAndGlyphs" style="fill:#555" text-anchor="middle" xml:space="preserve">05</text>
<text x="446.51" y="583.80" font-size="4.4" textLength="5.60" lengthAdjust="spacingAndGlyphs" style="fill:#555" text-anchor="middle" xml:space="preserve">06</text>
<text x="455.13" y="583.80" font-size="4.4" textLength="5.60" lengthAdjust="spacingAndGlyphs" style="fill:#555" text-anchor="middle" xml:space="preserve">07</text>
<text x="463.74" y="583.80" font-size="4.4" textLength="5.60" lengthAdjust="spacingAndGlyphs" style="fill:#555" text-anchor="middle" xml:space="preserve">08</text>
<text x="472.35" y="583.80" font-size="4.4" textLength="5.60" lengthAdjust="spacingAndGlyphs" style="fill:#555" text-anchor="middle" xml:space="preserve">09</text>
<text x="480.96" y="583.80" font-size="4.4" textLength="5.60" lengthAdjust="spacingAndGlyphs" style="fill:#555" text-anchor="middle" xml:space="preserve">10</text>
<text x="489.58" y="583.80" font-size="4.4" textLength="5.60" lengthAdjust="spacingAndGlyphs" style="fill:#555" text-anchor="middle" xml:space="preserve">11</text>
<text x="498.19" y="583.80" font-size="4.4" textLength="5.60" lengthAdjust="spacingAndGlyphs" style="fill:#555" text-anchor="middle" xml:space="preserve">12</text>
<text x="506.80" y="583.80" font-size="4.4" textLength="5.60" lengthAdjust="spacingAndGlyphs" style="fill:#555" text-anchor="middle" xml:space="preserve">13</text>
<text x="515.42" y="583.80" font-size="4.4" textLength="5.60" lengthAdjust="spacingAndGlyphs" style="fill:#555" text-anchor="middle" xml:space="preserve">14</text>
<clipPath id="c6"><rect x="525.60" y="539.30" width="89.75" height="38.50"/></clipPath>
<rect x="525.6" y="539.3" width="89.75" height="38.50" fill="#fff"/>
<path d="M531.20 539.30V577.80M539.81 539.30V577.80M548.43 539.30V577.80M557.04 539.30V577.80M565.65 539.30V577.80M574.26 539.30V577.80M582.88 539.30V577.80M591.49 539.30V577.80M600.10 539.30V577.80M608.72 539.30V577.80M525.60 564.97H615.35M525.60 552.13H615.35" stroke="#c8c8c8" stroke-width="0.4" stroke-dasharray="1.2,0.9" fill="none"/>
<path d="M545.8 554.7 546.3 554.8 546.7 554.8 547.1 554.7 547.6 554.8 548.0 554.8 548.4 554.8 548.9 554.8 549.3 554.9 549.7 555.0 550.1 555.2 550.6 555.2 551.0 555.3 551.4 555.3 551.9 555.8 552.3 555.9 552.7 555.9 553.2 556.2 553.6 556.4 554.0 556.5 554.5 556.9 554.9 557.1 555.3 557.4 555.7 557.5 556.2 557.7 556.6 558.1 557.0 558.3 557.5 558.4 557.9 558.7 558.3 559.0 558.8 559.1 559.2 559.4 559.6 559.8 560.1 559.9 560.5 560.1 560.9 560.4 561.3 560.7 561.8 560.8 562.2 561.0 562.6 561.1 563.1 561.6 563.5 561.4 563.9 561.8 564.4 561.8 564.8 562.0 565.2 562.1 565.7 562.3 566.1 562.6 566.5 562.5 566.9 562.8 567.4 563.0 567.8 562.7 568.2 563.0 568.7 563.0 569.1 563.3 569.5 563.2 570.0 563.3 570.4 563.4 570.8 563.6 571.3 563.8 571.7 563.8 572.1 564.0 572.5 564.1 573.0 564.0 573.4 564.2 573.8 564.2 574.3 564.2 574.7 564.1 575.1 564.2 575.6 564.3 576.0 564.2 576.4 564.4 576.8 564.3 577.3 564.2 577.7 564.4 578.1 564.3 578.6 564.3 579.0 564.2 579.4 564.1 579.9 564.2 580.3 564.1 580.7 564.2 581.2 564.1 581.6 564.1 582.0 563.9 582.4 563.8 582.9 563.9 583.3 564.0 583.7 563.8 584.2 563.9 584.6 563.8 585.0 563.8 585.5 563.7 585.9 563.7 586.3 563.7 586.8 563.7 587.2 563.8 587.6 563.7 588.0 563.8 588.5 563.8 588.9 563.9 589.3 563.9 589.8 563.9 590.2 564.1 590.6 564.1 591.1 564.1 591.5 564.0 591.9 563.9 592.4 563.9 592.8 564.0 593.2 563.7 593.6 563.9 594.1 563.5 594.5 563.5 594.9 563.5 595.4 563.0 595.8 562.9 596.2 563.0 596.7 562.7 597.1 562.5 597.5 562.2 598.0 562.1 598.4 561.8 598.8 561.4 599.2 561.1" stroke="#555" stroke-width="0.8" fill="none" stroke-linejoin="round" clip-path="url(#c6)"/>
<path d="M545.8 554.5 546.3 554.6 546.7 554.6 547.1 554.5 547.6 554.6 548.0 554.6 548.4 554.6 548.9 554.6 549.3 554.8 549.7 554.8 550.1 555.0 550.6 555.0 551.0 555.1 551.4 555.1 551.9 555.6 552.3 555.7 552.7 555.7 553.2 556.0 553.6 556.2 554.0 556.3 554.5 556.7 554.9 556.9 555.3 557.2 555.7 557.3 556.2 557.5 556.6 557.9 557.0 558.1 557.5 558.2 557.9 558.5 558.3 558.8 558.8 559.0 559.2 559.2 559.6 559.6 560.1 559.7 560.5 559.9 560.9 560.2 561.3 560.6 561.8 560.6 562.2 560.8 562.6 560.9 563.1 561.4 563.5 561.2 563.9 561.7 564.4 561.6 564.8 561.8 565.2 561.9 565.7 562.1 566.1 562.4 566.5 562.4 566.9 562.6 567.4 562.8 567.8 562.5 568.2 562.8 568.7 562.8 569.1 563.1 569.5 563.0 570.0 563.1 570.4 563.2 570.8 563.4 571.3 563.6 571.7 563.6 572.1 563.8 572.5 563.9 573.0 563.8 573.4 564.0 573.8 564.0 574.3 564.0 574.7 563.9 575.1 564.0 575.6 564.1 576.0 564.0 576.4 564.2 576.8 564.1 577.3 564.0 577.7 564.2 578.1 564.1 578.6 564.1 579.0 564.0 579.4 563.9 579.9 564.0 580.3 563.9 580.7 564.0 581.2 564.0 581.6 563.9 582.0 563.7 582.4 563.6 582.9 563.7 583.3 563.8 583.7 563.6 584.2 563.7 584.6 563.6 585.0 563.6 585.5 563.5 585.9 563.5 586.3 563.6 586.8 563.5 587.2 563.6 587.6 563.5 588.0 563.6 588.5 563.6 588.9 563.7 589.3 563.7 589.8 563.7 590.2 563.9 590.6 563.9 591.1 563.9 591.5 563.8 591.9 563.7 592.4 563.8 592.8 563.8 593.2 563.5 593.6 563.7 594.1 563.3 594.5 563.3 594.9 563.4 595.4 562.8 595.8 562.7 596.2 562.8 596.7 562.5 597.1 562.3 597.5 562.0 598.0 561.9 598.4 561.6 598.8 561.2 599.2 560.9" stroke="#9e3b3b" stroke-width="0.65" stroke-opacity="0.9" fill="none" stroke-linejoin="round" clip-path="url(#c6)"/>
<path d="M545.8 570.8 546.7 569.5 547.6 568.3 548.4 567.0 549.3 565.8 550.1 564.5 551.0 563.3 551.9 562.1 552.7 560.8 553.6 559.6 554.5 558.3 555.3 557.1 556.2 555.8 557.0 554.6 557.9 553.4 558.8 552.1 559.6 550.9 560.5 549.6 561.3 548.4 562.2 547.1 563.1 545.9 563.9 544.7 564.8 543.4 565.7 542.2 566.5 541.0 567.4 539.9 568.2 539.3 569.1 539.6 570.0 540.3 570.8 541.2 571.7 542.1 572.5 543.0 573.4 543.9 574.3 544.8 575.1 545.8 576.0 546.7 576.8 547.6 577.7 548.5 578.6 549.4 579.4 550.3 580.3 551.3 581.2 552.2 582.0 553.1 582.9 554.0 583.7 554.9 584.6 555.8 585.5 556.7 586.3 557.7 587.2 558.6 588.0 559.5 588.9 560.4 589.8 561.3 590.6 562.2 591.5 563.1 592.4 564.1 593.2 565.0 594.1 565.9 594.9 566.8 595.8 567.7 596.7 568.6 597.5 569.6 598.4 570.5 599.2 571.4" stroke="#6aaad9" stroke-width="1.1" fill="none" stroke-linejoin="round" clip-path="url(#c6)"/>
<rect x="525.6" y="539.3" width="89.75" height="38.50" fill="none" stroke="#7a7a7a" stroke-width="0.85"/>
<path d="M531.20 577.80v1.2M539.81 577.80v1.2M548.43 577.80v1.2M557.04 577.80v1.2M565.65 577.80v1.2M574.26 577.80v1.2M582.88 577.80v1.2M591.49 577.80v1.2M600.10 577.80v1.2M608.72 577.80v1.2M525.60 577.80h-1.2M615.35 577.80h1.2M525.60 564.97h-1.2M615.35 564.97h1.2M525.60 552.13h-1.2M615.35 552.13h1.2M525.60 539.30h-1.2M615.35 539.30h1.2" stroke="#555" stroke-width="0.45" fill="none"/>
<text x="531.20" y="583.80" font-size="4.4" textLength="5.60" lengthAdjust="spacingAndGlyphs" style="fill:#555" text-anchor="middle" xml:space="preserve">05</text>
<text x="539.81" y="583.80" font-size="4.4" textLength="5.60" lengthAdjust="spacingAndGlyphs" style="fill:#555" text-anchor="middle" xml:space="preserve">06</text>
<text x="548.43" y="583.80" font-size="4.4" textLength="5.60" lengthAdjust="spacingAndGlyphs" style="fill:#555" text-anchor="middle" xml:space="preserve">07</text>
<text x="557.04" y="583.80" font-size="4.4" textLength="5.60" lengthAdjust="spacingAndGlyphs" style="fill:#555" text-anchor="middle" xml:space="preserve">08</text>
<text x="565.65" y="583.80" font-size="4.4" textLength="5.60" lengthAdjust="spacingAndGlyphs" style="fill:#555" text-anchor="middle" xml:space="preserve">09</text>
<text x="574.26" y="583.80" font-size="4.4" textLength="5.60" lengthAdjust="spacingAndGlyphs" style="fill:#555" text-anchor="middle" xml:space="preserve">10</text>
<text x="582.88" y="583.80" font-size="4.4" textLength="5.60" lengthAdjust="spacingAndGlyphs" style="fill:#555" text-anchor="middle" xml:space="preserve">11</text>
<text x="591.49" y="583.80" font-size="4.4" textLength="5.60" lengthAdjust="spacingAndGlyphs" style="fill:#555" text-anchor="middle" xml:space="preserve">12</text>
<text x="600.10" y="583.80" font-size="4.4" textLength="5.60" lengthAdjust="spacingAndGlyphs" style="fill:#555" text-anchor="middle" xml:space="preserve">13</text>
<text x="608.72" y="583.80" font-size="4.4" textLength="5.60" lengthAdjust="spacingAndGlyphs" style="fill:#555" text-anchor="middle" xml:space="preserve">14</text>
<text x="617.55" y="540.80" font-size="4.4" style="fill:#555" text-anchor="start" xml:space="preserve">90</text>
<text x="617.55" y="553.63" font-size="4.4" style="fill:#555" text-anchor="start" xml:space="preserve">60</text>
<text x="617.55" y="566.47" font-size="4.4" style="fill:#555" text-anchor="start" xml:space="preserve">30</text>
<text x="617.55" y="579.30" font-size="4.4" style="fill:#555" text-anchor="start" xml:space="preserve">0</text>
<text x="327.40" y="606.35" font-size="4.5" textLength="23.00" lengthAdjust="spacingAndGlyphs" style="fill:#444" text-anchor="middle" transform="rotate(-90 327.40 606.35)" xml:space="preserve">TEC [TECU]</text>
<text x="626.80" y="606.35" font-size="4.5" textLength="21.00" lengthAdjust="spacingAndGlyphs" style="fill:#444" text-anchor="middle" transform="rotate(-90 626.80 606.35)" xml:space="preserve">Elev [deg]</text>
<clipPath id="c7"><rect x="339.00" y="587.10" width="89.75" height="38.50"/></clipPath>
<rect x="339.0" y="587.1" width="89.75" height="38.50" fill="#fff"/>
<path d="M344.60 587.10V625.60M353.21 587.10V625.60M361.83 587.10V625.60M370.44 587.10V625.60M379.05 587.10V625.60M387.66 587.10V625.60M396.28 587.10V625.60M404.89 587.10V625.60M413.50 587.10V625.60M422.12 587.10V625.60M339.00 612.77H428.75M339.00 599.93H428.75" stroke="#c8c8c8" stroke-width="0.4" stroke-dasharray="1.2,0.9" fill="none"/>
<path d="M354.1 589.3 354.9 590.4 355.8 591.6 356.7 592.6 357.5 593.6 358.4 594.5 359.2 595.4 360.1 596.2 361.0 596.9 361.8 597.5 362.7 598.2 363.5 599.1 364.4 600.2 365.3 600.8 366.1 600.4 367.0 600.0 367.9 600.9 368.7 602.5 369.6 603.8 370.4 604.6 371.3 605.3 372.2 605.7 373.0 605.9 373.9 605.9 374.7 605.9 375.6 605.9 376.5 605.8 377.3 605.7 378.2 605.5 379.1 605.3 379.9 605.1 380.8 605.0 381.6 605.0 382.5 605.0 383.4 605.0 384.2 605.0 385.1 605.0 385.9 605.0 386.8 605.0 387.7 604.9 388.5 604.9 389.4 604.8 390.2 604.7 391.1 604.6 392.0 604.5 392.8 604.4 393.7 604.2 394.6 604.1 395.4 603.9 396.3 603.8 397.1 603.6 398.0 603.4 398.9 603.2 399.7 603.0 400.6 602.7 401.4 602.4 402.3 602.1 403.2 601.8 404.0 601.5 404.9 601.1 405.8 600.7 406.6 600.3 407.5 599.9 408.3 599.4 409.2 599.0 410.1 598.5 410.9 598.0 411.8 597.6 412.6 597.1 413.5 596.7 414.4 596.3 415.2 595.8 416.1 595.3 416.9 594.4 417.8 593.1 418.7 591.6 419.5 590.0 420.4 588.1 421.3 586.0 422.1 583.7 423.0 580.9 423.8 577.7 423.8 601.6 423.0 604.0 422.1 605.9 421.3 607.5 420.4 608.9 419.5 609.9 418.7 610.8 417.8 611.6 416.9 612.2 416.1 612.3 415.2 612.1 414.4 611.9 413.5 611.7 412.6 611.5 411.8 611.3 410.9 611.1 410.1 611.0 409.2 610.8 408.3 610.7 407.5 610.6 406.6 610.5 405.8 610.4 404.9 610.3 404.0 610.2 403.2 610.2 402.3 610.1 401.4 610.0 400.6 610.0 399.7 609.9 398.9 610.0 398.0 610.0 397.1 610.1 396.3 610.2 395.4 610.4 394.6 610.6 393.7 610.8 392.8 611.1 392.0 611.4 391.1 611.7 390.2 612.0 389.4 612.3 388.5 612.6 387.7 612.9 386.8 613.2 385.9 613.5 385.1 613.8 384.2 614.1 383.4 614.4 382.5 614.7 381.6 615.0 380.8 615.4 379.9 615.8 379.1 616.3 378.2 616.9 377.3 617.4 376.5 617.9 375.6 618.4 374.7 618.8 373.9 619.2 373.0 619.5 372.2 619.8 371.3 619.8 370.4 619.5 369.6 619.2 368.7 618.3 367.9 617.1 367.0 616.6 366.1 617.5 365.3 618.3 364.4 618.2 363.5 617.6 362.7 617.1 361.8 616.9 361.0 616.7 360.1 616.5 359.2 616.2 358.4 615.9 357.5 615.4 356.7 615.0 355.8 614.4 354.9 613.8 354.1 613.2Z" fill="#777" fill-opacity="0.22" clip-path="url(#c7)"/>
<path d="M354.1 589.7 354.2 600.6 354.4 579.3 354.6 608.5 354.8 599.5 354.9 620.1 355.1 614.0 355.3 590.2 355.5 621.8 355.6 598.0 355.8 603.6 356.0 612.7 356.1 606.5 356.3 608.1 356.5 608.0 356.7 589.0 356.8 598.1 357.0 609.2 357.2 612.2 357.3 601.9 357.5 605.4 357.7 595.7 357.9 581.8 358.0 597.6 358.2 605.3 358.4 606.7 358.6 612.6 358.7 613.1 358.9 614.0 359.1 609.0 359.2 609.4 359.4 599.7 359.6 609.3 359.8 607.8 359.9 616.2 360.1 593.0 360.3 602.3 360.4 592.1 360.6 600.2 360.8 594.8 361.0 608.8 361.1 601.2 361.3 585.6 361.5 616.6 361.7 597.9 361.8 594.0 362.0 604.0 362.2 601.5 362.3 597.7 362.5 612.6 362.7 604.5 362.9 614.4 363.0 613.1 363.2 612.7 363.4 609.3 363.5 607.3 363.7 605.1 363.9 632.0 364.1 594.1 364.2 600.5 364.4 603.8 364.6 611.9 364.8 610.1 364.9 605.5 365.1 606.6 365.3 621.6 365.4 604.2 365.6 588.7 365.8 622.4 366.0 602.1 366.1 606.3 366.3 609.5 366.5 599.0 366.6 616.6 366.8 607.2 367.0 586.3 367.2 609.6 367.3 611.2 367.5 607.8 367.7 611.7 367.9 586.3 368.0 615.2 368.2 603.8 368.4 618.0 368.5 605.7 368.7 611.1 368.9 627.3 369.1 611.0 369.2 617.9 369.4 617.5 369.6 601.8 369.7 618.6 369.9 618.3 370.1 602.9 370.3 611.3 370.4 602.6 370.6 610.2 370.8 617.7 371.0 612.8 371.1 596.3 371.3 607.0 371.5 612.6 371.6 612.4 371.8 613.4 372.0 620.2 372.2 601.6 372.3 612.7 372.5 619.2 372.7 615.5 372.9 608.6 373.0 609.1 373.2 613.4 373.4 616.4 373.5 612.5 373.7 621.8 373.9 619.7 374.1 603.0 374.2 615.1 374.4 610.4 374.6 605.9 374.7 608.9 374.9 612.2 375.1 587.7 375.3 608.7 375.4 614.0 375.6 608.4 375.8 610.0 376.0 616.4 376.1 611.6 376.3 612.8 376.5 633.5 376.6 612.7 376.8 613.1 377.0 613.8 377.2 619.6 377.3 613.3 377.5 611.7 377.7 610.9 377.8 616.7 378.0 604.7 378.2 616.9 378.4 612.1 378.5 597.7 378.7 618.0 378.9 613.2 379.1 605.9 379.2 612.5 379.4 612.0 379.6 609.6 379.7 605.9 379.9 620.2 380.1 614.0 380.3 620.0 380.4 615.0 380.6 613.9 380.8 613.8 380.9 608.9 381.1 613.9 381.3 609.6 381.5 608.4 381.6 613.0 381.8 609.4 382.0 603.3 382.2 608.6 382.3 612.4 382.5 610.1 382.7 613.4 382.8 608.7 383.0 606.4 383.2 612.9 383.4 610.5 383.5 605.4 383.7 611.5 383.9 608.9 384.0 618.0 384.2 612.6 384.4 611.4 384.6 601.6 384.7 610.9 384.9 611.3 385.1 611.4 385.3 609.9 385.4 607.0 385.6 608.6 385.8 602.2 385.9 608.5 386.1 598.4 386.3 608.2 386.5 607.1 386.6 619.6 386.8 609.5 387.0 609.3 387.1 609.8 387.3 615.9 387.5 606.1 387.7 610.2 387.8 610.3 388.0 609.6 388.2 609.5 388.4 607.5 388.5 617.4 388.7 611.6 388.9 607.8 389.0 608.2 389.2 609.7 389.4 610.3 389.6 611.0 389.7 608.6 389.9 605.0 390.1 611.5 390.2 603.9 390.4 605.9 390.6 609.6 390.8 606.0 390.9 617.3 391.1 618.9 391.3 611.7 391.5 609.2 391.6 608.9 391.8 609.4 392.0 607.7 392.1 613.7 392.3 606.5 392.5 611.6 392.7 609.5 392.8 608.8 393.0 610.8 393.2 611.3 393.3 610.3 393.5 607.6 393.7 606.0 393.9 606.0 394.0 610.0 394.2 609.5 394.4 609.8 394.6 606.2 394.7 612.6 394.9 604.1 395.1 608.5 395.2 609.2 395.4 606.3 395.6 604.5 395.8 606.2 395.9 604.4 396.1 606.7 396.3 603.8 396.5 603.8 396.6 607.2 396.8 603.2 397.0 606.4 397.1 606.6 397.3 609.2 397.5 607.5 397.7 604.7 397.8 610.2 398.0 605.0 398.2 605.8 398.3 605.9 398.5 612.5 398.7 606.9 398.9 604.8 399.0 608.6 399.2 606.3 399.4 613.1 399.6 604.6 399.7 610.5 399.9 601.0 400.1 611.6 400.2 604.4 400.4 607.0 400.6 604.0 400.8 609.0 400.9 608.1 401.1 599.6 401.3 608.7 401.4 608.4 401.6 607.0 401.8 609.3 402.0 602.4 402.1 600.7 402.3 608.3 402.5 611.6 402.7 602.2 402.8 602.4 403.0 603.3 403.2 602.1 403.3 608.9 403.5 606.5 403.7 610.7 403.9 610.8 404.0 602.4 404.2 608.2 404.4 597.6 404.5 605.2 404.7 608.1 404.9 602.8 405.1 590.9 405.2 603.8 405.4 610.3 405.6 602.4 405.8 600.2 405.9 607.5 406.1 608.6 406.3 601.4 406.4 604.9 406.6 609.9 406.8 606.9 407.0 608.5 407.1 604.1 407.3 604.8 407.5 600.3 407.6 602.1 407.8 620.3 408.0 603.3 408.2 601.1 408.3 603.0 408.5 600.3 408.7 607.5 408.9 609.4 409.0 600.6 409.2 610.0 409.4 615.2 409.5 599.9 409.7 612.6 409.9 606.3 410.1 611.7 410.2 619.4 410.4 610.5 410.6 606.5 410.7 602.7 410.9 616.6 411.1 600.6 411.3 610.8 411.4 610.2 411.6 600.8 411.8 604.8 412.0 612.9 412.1 594.1 412.3 609.2 412.5 602.9 412.6 603.2 412.8 596.1 413.0 606.9 413.2 598.3 413.3 608.6 413.5 597.5 413.7 608.8 413.8 606.4 414.0 592.5 414.2 602.2 414.4 603.4 414.5 573.0 414.7 601.8 414.9 609.3 415.1 599.3 415.2 621.0 415.4 596.5 415.6 595.9 415.7 607.7 415.9 608.1 416.1 602.6 416.3 603.5 416.4 610.4 416.6 599.6 416.8 617.8 416.9 606.4 417.1 609.5 417.3 607.3 417.5 600.5 417.6 611.6 417.8 598.0 418.0 605.1 418.2 606.8 418.3 624.4 418.5 610.5 418.7 598.4 418.8 608.4 419.0 599.6 419.2 592.1 419.4 582.2 419.5 587.5 419.7 602.1 419.9 608.2 420.1 590.8 420.2 596.3 420.4 589.2 420.6 598.1 420.7 587.8 420.9 590.3 421.1 591.0 421.3 592.4 421.4 588.8 421.6 594.0 421.8 593.6 421.9 586.4 422.1 599.4 422.3 560.1 422.5 594.9 422.6 584.5 422.8 593.8 423.0 594.7 423.2 573.0 423.3 594.3 423.5 602.9 423.7 597.0 423.8 592.7" stroke="#4a4a4a" stroke-width="0.35" stroke-opacity="0.35" fill="none" stroke-linejoin="round" clip-path="url(#c7)"/>
<path d="M354.1 601.2 354.5 601.8 354.9 602.2 355.4 602.6 355.8 603.0 356.2 603.5 356.7 603.8 357.1 604.2 357.5 604.4 357.9 604.8 358.4 605.2 358.8 605.5 359.2 605.8 359.7 606.1 360.1 606.4 360.5 606.5 361.0 606.7 361.4 606.9 361.8 607.3 362.3 607.4 362.7 607.7 363.1 607.9 363.5 608.4 364.0 608.8 364.4 609.1 364.8 609.4 365.3 609.6 365.7 609.3 366.1 608.8 366.6 608.5 367.0 608.2 367.4 608.5 367.9 608.9 368.3 609.7 368.7 610.4 369.1 611.1 369.6 611.5 370.0 611.8 370.4 612.1 370.9 612.4 371.3 612.6 371.7 613.0 372.2 612.8 372.6 612.9 373.0 612.7 373.5 612.6 373.9 612.5 374.3 612.5 374.7 612.4 375.2 612.2 375.6 612.2 376.0 612.1 376.5 611.9 376.9 611.6 377.3 611.5 377.8 611.3 378.2 611.2 378.6 611.0 379.1 610.8 379.5 610.6 379.9 610.4 380.3 610.3 380.8 610.3 381.2 610.2 381.6 609.9 382.1 609.9 382.5 609.8 382.9 609.6 383.4 609.6 383.8 609.5 384.2 609.5 384.7 609.3 385.1 609.3 385.5 609.3 385.9 609.2 386.4 609.3 386.8 609.2 387.2 609.0 387.7 608.9 388.1 608.8 388.5 608.8 389.0 608.8 389.4 608.6 389.8 608.6 390.2 608.3 390.7 608.2 391.1 607.9 391.5 608.0 392.0 608.0 392.4 607.9 392.8 608.0 393.3 607.7 393.7 607.5 394.1 607.4 394.6 607.3 395.0 607.2 395.4 607.1 395.8 607.0 396.3 606.9 396.7 607.0 397.1 606.9 397.6 606.9 398.0 606.6 398.4 606.5 398.9 606.5 399.3 606.6 399.7 606.4 400.2 606.4 400.6 606.3 401.0 606.3 401.4 606.2 401.9 606.2 402.3 606.0 402.7 606.0 403.2 606.0 403.6 605.9 404.0 605.9 404.5 605.7 404.9 605.7 405.3 605.6 405.8 605.6 406.2 605.6 406.6 605.3 407.0 605.4 407.5 605.2 407.9 605.1 408.3 605.2 408.8 605.1 409.2 604.9 409.6 604.9 410.1 604.8 410.5 604.6 410.9 604.6 411.4 604.5 411.8 604.5 412.2 604.3 412.6 604.4 413.1 604.3 413.5 604.2 413.9 604.2 414.4 604.1 414.8 604.1 415.2 604.0 415.7 603.9 416.1 603.8 416.5 603.7 416.9 603.2 417.4 602.7 417.8 602.4 418.2 601.8 418.7 601.2 419.1 600.8 419.5 599.9 420.0 599.3 420.4 598.4 420.8 597.7 421.3 596.8 421.7 595.8 422.1 594.8 422.5 593.7 423.0 592.4 423.4 591.2 423.8 589.7" stroke="#333" stroke-width="0.75" fill="none" stroke-linejoin="round" clip-path="url(#c7)"/>
<path d="M354.1 619.2 354.9 618.6 355.8 617.9 356.7 617.3 357.5 616.7 358.4 616.1 359.2 615.5 360.1 614.9 361.0 614.2 361.8 613.6 362.7 613.0 363.5 612.4 364.4 611.8 365.3 611.2 366.1 610.5 367.0 609.9 367.9 609.3 368.7 608.7 369.6 608.1 370.4 607.5 371.3 606.8 372.2 606.2 373.0 605.6 373.9 605.0 374.7 604.4 375.6 603.8 376.5 603.1 377.3 602.5 378.2 601.9 379.1 601.3 379.9 600.7 380.8 600.1 381.6 599.4 382.5 598.8 383.4 598.2 384.2 597.6 385.1 597.0 385.9 596.4 386.8 595.8 387.7 595.2 388.5 594.6 389.4 594.0 390.2 593.4 391.1 592.8 392.0 592.3 392.8 591.8 393.7 591.4 394.6 591.1 395.4 591.0 396.3 591.0 397.1 591.1 398.0 591.5 398.9 592.0 399.7 592.7 400.6 593.4 401.4 594.2 402.3 595.1 403.2 596.0 404.0 597.0 404.9 597.9 405.8 598.9 406.6 599.8 407.5 600.8 408.3 601.7 409.2 602.7 410.1 603.7 410.9 604.6 411.8 605.6 412.6 606.6 413.5 607.6 414.4 608.5 415.2 609.5 416.1 610.5 416.9 611.4 417.8 612.4 418.7 613.4 419.5 614.3 420.4 615.3 421.3 616.3 422.1 617.2 423.0 618.2 423.8 619.2" stroke="#6aaad9" stroke-width="1.1" fill="none" stroke-linejoin="round" clip-path="url(#c7)"/>
<rect x="339.0" y="587.1" width="89.75" height="38.50" fill="none" stroke="#7a7a7a" stroke-width="0.85"/>
<path d="M344.60 625.60v1.2M353.21 625.60v1.2M361.83 625.60v1.2M370.44 625.60v1.2M379.05 625.60v1.2M387.66 625.60v1.2M396.28 625.60v1.2M404.89 625.60v1.2M413.50 625.60v1.2M422.12 625.60v1.2M339.00 625.60h-1.2M428.75 625.60h1.2M339.00 612.77h-1.2M428.75 612.77h1.2M339.00 599.93h-1.2M428.75 599.93h1.2M339.00 587.10h-1.2M428.75 587.10h1.2" stroke="#555" stroke-width="0.45" fill="none"/>
<text x="344.60" y="631.60" font-size="4.4" textLength="5.60" lengthAdjust="spacingAndGlyphs" style="fill:#555" text-anchor="middle" xml:space="preserve">05</text>
<text x="353.21" y="631.60" font-size="4.4" textLength="5.60" lengthAdjust="spacingAndGlyphs" style="fill:#555" text-anchor="middle" xml:space="preserve">06</text>
<text x="361.83" y="631.60" font-size="4.4" textLength="5.60" lengthAdjust="spacingAndGlyphs" style="fill:#555" text-anchor="middle" xml:space="preserve">07</text>
<text x="370.44" y="631.60" font-size="4.4" textLength="5.60" lengthAdjust="spacingAndGlyphs" style="fill:#555" text-anchor="middle" xml:space="preserve">08</text>
<text x="379.05" y="631.60" font-size="4.4" textLength="5.60" lengthAdjust="spacingAndGlyphs" style="fill:#555" text-anchor="middle" xml:space="preserve">09</text>
<text x="387.66" y="631.60" font-size="4.4" textLength="5.60" lengthAdjust="spacingAndGlyphs" style="fill:#555" text-anchor="middle" xml:space="preserve">10</text>
<text x="396.28" y="631.60" font-size="4.4" textLength="5.60" lengthAdjust="spacingAndGlyphs" style="fill:#555" text-anchor="middle" xml:space="preserve">11</text>
<text x="404.89" y="631.60" font-size="4.4" textLength="5.60" lengthAdjust="spacingAndGlyphs" style="fill:#555" text-anchor="middle" xml:space="preserve">12</text>
<text x="413.50" y="631.60" font-size="4.4" textLength="5.60" lengthAdjust="spacingAndGlyphs" style="fill:#555" text-anchor="middle" xml:space="preserve">13</text>
<text x="422.12" y="631.60" font-size="4.4" textLength="5.60" lengthAdjust="spacingAndGlyphs" style="fill:#555" text-anchor="middle" xml:space="preserve">14</text>
<text x="337.20" y="588.60" font-size="4.4" style="fill:#555" text-anchor="end" xml:space="preserve">20</text>
<text x="337.20" y="601.43" font-size="4.4" style="fill:#555" text-anchor="end" xml:space="preserve">10</text>
<text x="337.20" y="614.27" font-size="4.4" style="fill:#555" text-anchor="end" xml:space="preserve">0</text>
<text x="337.20" y="627.10" font-size="4.4" style="fill:#555" text-anchor="end" xml:space="preserve">−10</text>
<text x="424.30" y="624.00" font-size="4.8" textLength="15.50" lengthAdjust="spacingAndGlyphs" style="fill:#111" text-anchor="end" xml:space="preserve"><tspan font-weight="bold">GAL15</tspan></text>
<clipPath id="c8"><rect x="432.30" y="587.10" width="89.75" height="38.50"/></clipPath>
<rect x="432.3" y="587.1" width="89.75" height="38.50" fill="#fff"/>
<path d="M437.90 587.10V625.60M446.51 587.10V625.60M455.13 587.10V625.60M463.74 587.10V625.60M472.35 587.10V625.60M480.96 587.10V625.60M489.58 587.10V625.60M498.19 587.10V625.60M506.80 587.10V625.60M515.42 587.10V625.60M432.30 612.77H522.05M432.30 599.93H522.05" stroke="#c8c8c8" stroke-width="0.4" stroke-dasharray="1.2,0.9" fill="none"/>
<path d="M447.4 589.3 448.2 590.4 449.1 591.6 450.0 592.6 450.8 593.6 451.7 594.5 452.5 595.4 453.4 596.2 454.3 596.9 455.1 597.5 456.0 598.2 456.8 599.1 457.7 600.2 458.6 600.8 459.4 600.4 460.3 600.0 461.2 600.9 462.0 602.5 462.9 603.8 463.7 604.6 464.6 605.3 465.5 605.7 466.3 605.9 467.2 605.9 468.0 605.9 468.9 605.9 469.8 605.8 470.6 605.7 471.5 605.5 472.4 605.3 473.2 605.1 474.1 605.0 474.9 605.0 475.8 605.0 476.7 605.0 477.5 605.0 478.4 605.0 479.2 605.0 480.1 605.0 481.0 604.9 481.8 604.9 482.7 604.8 483.5 604.7 484.4 604.6 485.3 604.5 486.1 604.4 487.0 604.2 487.9 604.1 488.7 603.9 489.6 603.8 490.4 603.6 491.3 603.4 492.2 603.2 493.0 603.0 493.9 602.7 494.7 602.4 495.6 602.1 496.5 601.8 497.3 601.5 498.2 601.1 499.1 600.7 499.9 600.3 500.8 599.9 501.6 599.4 502.5 599.0 503.4 598.5 504.2 598.0 505.1 597.6 505.9 597.1 506.8 596.7 507.7 596.3 508.5 595.8 509.4 595.3 510.2 594.4 511.1 593.1 512.0 591.6 512.8 590.0 513.7 588.1 514.6 586.0 515.4 583.7 516.3 580.9 517.1 577.7 517.1 601.6 516.3 604.0 515.4 605.9 514.6 607.5 513.7 608.9 512.8 609.9 512.0 610.8 511.1 611.6 510.2 612.2 509.4 612.3 508.5 612.1 507.7 611.9 506.8 611.7 505.9 611.5 505.1 611.3 504.2 611.1 503.4 611.0 502.5 610.8 501.6 610.7 500.8 610.6 499.9 610.5 499.1 610.4 498.2 610.3 497.3 610.2 496.5 610.2 495.6 610.1 494.7 610.0 493.9 610.0 493.0 609.9 492.2 610.0 491.3 610.0 490.4 610.1 489.6 610.2 488.7 610.4 487.9 610.6 487.0 610.8 486.1 611.1 485.3 611.4 484.4 611.7 483.5 612.0 482.7 612.3 481.8 612.6 481.0 612.9 480.1 613.2 479.2 613.5 478.4 613.8 477.5 614.1 476.7 614.4 475.8 614.7 474.9 615.0 474.1 615.4 473.2 615.8 472.4 616.3 471.5 616.9 470.6 617.4 469.8 617.9 468.9 618.4 468.0 618.8 467.2 619.2 466.3 619.5 465.5 619.8 464.6 619.8 463.7 619.5 462.9 619.2 462.0 618.3 461.2 617.1 460.3 616.6 459.4 617.5 458.6 618.3 457.7 618.2 456.8 617.6 456.0 617.1 455.1 616.9 454.3 616.7 453.4 616.5 452.5 616.2 451.7 615.9 450.8 615.4 450.0 615.0 449.1 614.4 448.2 613.8 447.4 613.2Z" fill="#f08080" fill-opacity="0.18" clip-path="url(#c8)"/>
<path d="M447.4 589.7 447.5 600.6 447.7 579.3 447.9 608.5 448.1 599.5 448.2 620.1 448.4 614.0 448.6 590.2 448.8 621.8 448.9 598.0 449.1 603.6 449.3 612.7 449.4 606.5 449.6 608.1 449.8 608.0 450.0 589.0 450.1 598.1 450.3 609.2 450.5 612.2 450.6 601.9 450.8 605.4 451.0 595.7 451.2 581.8 451.3 597.6 451.5 605.3 451.7 606.7 451.9 612.6 452.0 613.1 452.2 614.0 452.4 609.0 452.5 609.4 452.7 599.7 452.9 609.3 453.1 607.8 453.2 616.2 453.4 593.0 453.6 602.3 453.7 592.1 453.9 600.2 454.1 594.8 454.3 608.8 454.4 601.2 454.6 585.6 454.8 616.6 455.0 597.9 455.1 594.0 455.3 604.0 455.5 601.5 455.6 597.7 455.8 612.6 456.0 604.5 456.2 614.4 456.3 613.1 456.5 612.7 456.7 609.3 456.8 607.3 457.0 605.1 457.2 632.0 457.4 594.1 457.5 600.5 457.7 603.8 457.9 611.9 458.1 610.1 458.2 605.5 458.4 606.6 458.6 621.6 458.7 604.2 458.9 588.7 459.1 622.4 459.3 602.1 459.4 606.3 459.6 609.5 459.8 599.0 459.9 616.6 460.1 607.2 460.3 586.3 460.5 609.6 460.6 611.2 460.8 607.8 461.0 611.7 461.2 586.3 461.3 615.2 461.5 603.8 461.7 618.0 461.8 605.7 462.0 611.1 462.2 627.3 462.4 611.0 462.5 617.9 462.7 617.5 462.9 601.8 463.0 618.6 463.2 618.3 463.4 602.9 463.6 611.3 463.7 602.6 463.9 610.2 464.1 617.7 464.3 612.8 464.4 596.3 464.6 607.0 464.8 612.6 464.9 612.4 465.1 613.4 465.3 620.2 465.5 601.6 465.6 612.7 465.8 619.2 466.0 615.5 466.2 608.6 466.3 609.1 466.5 613.4 466.7 616.4 466.8 612.5 467.0 621.8 467.2 619.7 467.4 603.0 467.5 615.1 467.7 610.4 467.9 605.9 468.0 608.9 468.2 612.2 468.4 587.7 468.6 608.7 468.7 614.0 468.9 608.4 469.1 610.0 469.3 616.4 469.4 611.6 469.6 612.8 469.8 633.5 469.9 612.7 470.1 613.1 470.3 613.8 470.5 619.6 470.6 613.3 470.8 611.7 471.0 610.9 471.1 616.7 471.3 604.7 471.5 616.9 471.7 612.1 471.8 597.7 472.0 618.0 472.2 613.2 472.4 605.9 472.5 612.5 472.7 612.0 472.9 609.6 473.0 605.9 473.2 620.2 473.4 614.0 473.6 620.0 473.7 615.0 473.9 613.9 474.1 613.8 474.2 608.9 474.4 613.9 474.6 609.6 474.8 608.4 474.9 613.0 475.1 609.4 475.3 603.3 475.5 608.6 475.6 612.4 475.8 610.1 476.0 613.4 476.1 608.7 476.3 606.4 476.5 612.9 476.7 610.5 476.8 605.4 477.0 611.5 477.2 608.9 477.3 618.0 477.5 612.6 477.7 611.4 477.9 601.6 478.0 610.9 478.2 611.3 478.4 611.4 478.6 609.9 478.7 607.0 478.9 608.6 479.1 602.2 479.2 608.5 479.4 598.4 479.6 608.2 479.8 607.1 479.9 619.6 480.1 609.5 480.3 609.3 480.4 609.8 480.6 615.9 480.8 606.1 481.0 610.2 481.1 610.3 481.3 609.6 481.5 609.5 481.7 607.5 481.8 617.4 482.0 611.6 482.2 607.8 482.3 608.2 482.5 609.7 482.7 610.3 482.9 611.0 483.0 608.6 483.2 605.0 483.4 611.5 483.5 603.9 483.7 605.9 483.9 609.6 484.1 606.0 484.2 617.3 484.4 618.9 484.6 611.7 484.8 609.2 484.9 608.9 485.1 609.4 485.3 607.7 485.4 613.7 485.6 606.5 485.8 611.6 486.0 609.5 486.1 608.8 486.3 610.8 486.5 611.3 486.6 610.3 486.8 607.6 487.0 606.0 487.2 606.0 487.3 610.0 487.5 609.5 487.7 609.8 487.9 606.2 488.0 612.6 488.2 604.1 488.4 608.5 488.5 609.2 488.7 606.3 488.9 604.5 489.1 606.2 489.2 604.4 489.4 606.7 489.6 603.8 489.8 603.8 489.9 607.2 490.1 603.2 490.3 606.4 490.4 606.6 490.6 609.2 490.8 607.5 491.0 604.7 491.1 610.2 491.3 605.0 491.5 605.8 491.6 605.9 491.8 612.5 492.0 606.9 492.2 604.8 492.3 608.6 492.5 606.3 492.7 613.1 492.9 604.6 493.0 610.5 493.2 601.0 493.4 611.6 493.5 604.4 493.7 607.0 493.9 604.0 494.1 609.0 494.2 608.1 494.4 599.6 494.6 608.7 494.7 608.4 494.9 607.0 495.1 609.3 495.3 602.4 495.4 600.7 495.6 608.3 495.8 611.6 496.0 602.2 496.1 602.4 496.3 603.3 496.5 602.1 496.6 608.9 496.8 606.5 497.0 610.7 497.2 610.8 497.3 602.4 497.5 608.2 497.7 597.6 497.8 605.2 498.0 608.1 498.2 602.8 498.4 590.9 498.5 603.8 498.7 610.3 498.9 602.4 499.1 600.2 499.2 607.5 499.4 608.6 499.6 601.4 499.7 604.9 499.9 609.9 500.1 606.9 500.3 608.5 500.4 604.1 500.6 604.8 500.8 600.3 500.9 602.1 501.1 620.3 501.3 603.3 501.5 601.1 501.6 603.0 501.8 600.3 502.0 607.5 502.2 609.4 502.3 600.6 502.5 610.0 502.7 615.2 502.8 599.9 503.0 612.6 503.2 606.3 503.4 611.7 503.5 619.4 503.7 610.5 503.9 606.5 504.0 602.7 504.2 616.6 504.4 600.6 504.6 610.8 504.7 610.2 504.9 600.8 505.1 604.8 505.3 612.9 505.4 594.1 505.6 609.2 505.8 602.9 505.9 603.2 506.1 596.1 506.3 606.9 506.5 598.3 506.6 608.6 506.8 597.5 507.0 608.8 507.1 606.4 507.3 592.5 507.5 602.2 507.7 603.4 507.8 573.0 508.0 601.8 508.2 609.3 508.4 599.3 508.5 621.0 508.7 596.5 508.9 595.9 509.0 607.7 509.2 608.1 509.4 602.6 509.6 603.5 509.7 610.4 509.9 599.6 510.1 617.8 510.2 606.4 510.4 609.5 510.6 607.3 510.8 600.5 510.9 611.6 511.1 598.0 511.3 605.1 511.5 606.8 511.6 624.4 511.8 610.5 512.0 598.4 512.1 608.4 512.3 599.6 512.5 592.1 512.7 582.2 512.8 587.5 513.0 602.1 513.2 608.2 513.4 590.8 513.5 596.3 513.7 589.2 513.9 598.1 514.0 587.8 514.2 590.3 514.4 591.0 514.6 592.4 514.7 588.8 514.9 594.0 515.1 593.6 515.2 586.4 515.4 599.4 515.6 560.1 515.8 594.9 515.9 584.5 516.1 593.8 516.3 594.7 516.5 573.0 516.6 594.3 516.8 602.9 517.0 597.0 517.1 592.7" stroke="#f06060" stroke-width="0.35" stroke-opacity="0.35" fill="none" stroke-linejoin="round" clip-path="url(#c8)"/>
<path d="M447.4 601.2 447.8 601.8 448.2 602.2 448.7 602.6 449.1 603.0 449.5 603.5 450.0 603.8 450.4 604.2 450.8 604.4 451.2 604.8 451.7 605.2 452.1 605.5 452.5 605.8 453.0 606.1 453.4 606.4 453.8 606.5 454.3 606.7 454.7 606.9 455.1 607.3 455.6 607.4 456.0 607.7 456.4 607.9 456.8 608.4 457.3 608.8 457.7 609.1 458.1 609.4 458.6 609.6 459.0 609.3 459.4 608.8 459.9 608.5 460.3 608.2 460.7 608.5 461.2 608.9 461.6 609.7 462.0 610.4 462.4 611.1 462.9 611.5 463.3 611.8 463.7 612.1 464.2 612.4 464.6 612.6 465.0 613.0 465.5 612.8 465.9 612.9 466.3 612.7 466.8 612.6 467.2 612.5 467.6 612.5 468.0 612.4 468.5 612.2 468.9 612.2 469.3 612.1 469.8 611.9 470.2 611.6 470.6 611.5 471.1 611.3 471.5 611.2 471.9 611.0 472.4 610.8 472.8 610.6 473.2 610.4 473.6 610.3 474.1 610.3 474.5 610.2 474.9 609.9 475.4 609.9 475.8 609.8 476.2 609.6 476.7 609.6 477.1 609.5 477.5 609.5 478.0 609.3 478.4 609.3 478.8 609.3 479.2 609.2 479.7 609.3 480.1 609.2 480.5 609.0 481.0 608.9 481.4 608.8 481.8 608.8 482.3 608.8 482.7 608.6 483.1 608.6 483.5 608.3 484.0 608.2 484.4 607.9 484.8 608.0 485.3 608.0 485.7 607.9 486.1 608.0 486.6 607.7 487.0 607.5 487.4 607.4 487.9 607.3 488.3 607.2 488.7 607.1 489.1 607.0 489.6 606.9 490.0 607.0 490.4 606.9 490.9 606.9 491.3 606.6 491.7 606.5 492.2 606.5 492.6 606.6 493.0 606.4 493.5 606.4 493.9 606.3 494.3 606.3 494.7 606.2 495.2 606.2 495.6 606.0 496.0 606.0 496.5 606.0 496.9 605.9 497.3 605.9 497.8 605.7 498.2 605.7 498.6 605.6 499.1 605.6 499.5 605.6 499.9 605.3 500.3 605.4 500.8 605.2 501.2 605.1 501.6 605.2 502.1 605.1 502.5 604.9 502.9 604.9 503.4 604.8 503.8 604.6 504.2 604.6 504.7 604.5 505.1 604.5 505.5 604.3 505.9 604.4 506.4 604.3 506.8 604.2 507.2 604.2 507.7 604.1 508.1 604.1 508.5 604.0 509.0 603.9 509.4 603.8 509.8 603.7 510.2 603.2 510.7 602.7 511.1 602.4 511.5 601.8 512.0 601.2 512.4 600.8 512.8 599.9 513.3 599.3 513.7 598.4 514.1 597.7 514.6 596.8 515.0 595.8 515.4 594.8 515.8 593.7 516.3 592.4 516.7 591.2 517.1 589.7" stroke="#e04545" stroke-width="0.75" fill="none" stroke-linejoin="round" clip-path="url(#c8)"/>
<path d="M447.4 619.2 448.2 618.6 449.1 617.9 450.0 617.3 450.8 616.7 451.7 616.1 452.5 615.5 453.4 614.9 454.3 614.2 455.1 613.6 456.0 613.0 456.8 612.4 457.7 611.8 458.6 611.2 459.4 610.5 460.3 609.9 461.2 609.3 462.0 608.7 462.9 608.1 463.7 607.5 464.6 606.8 465.5 606.2 466.3 605.6 467.2 605.0 468.0 604.4 468.9 603.8 469.8 603.1 470.6 602.5 471.5 601.9 472.4 601.3 473.2 600.7 474.1 600.1 474.9 599.4 475.8 598.8 476.7 598.2 477.5 597.6 478.4 597.0 479.2 596.4 480.1 595.8 481.0 595.2 481.8 594.6 482.7 594.0 483.5 593.4 484.4 592.8 485.3 592.3 486.1 591.8 487.0 591.4 487.9 591.1 488.7 591.0 489.6 591.0 490.4 591.1 491.3 591.5 492.2 592.0 493.0 592.7 493.9 593.4 494.7 594.2 495.6 595.1 496.5 596.0 497.3 597.0 498.2 597.9 499.1 598.9 499.9 599.8 500.8 600.8 501.6 601.7 502.5 602.7 503.4 603.7 504.2 604.6 505.1 605.6 505.9 606.6 506.8 607.6 507.7 608.5 508.5 609.5 509.4 610.5 510.2 611.4 511.1 612.4 512.0 613.4 512.8 614.3 513.7 615.3 514.6 616.3 515.4 617.2 516.3 618.2 517.1 619.2" stroke="#6aaad9" stroke-width="1.1" fill="none" stroke-linejoin="round" clip-path="url(#c8)"/>
<rect x="432.3" y="587.1" width="89.75" height="38.50" fill="none" stroke="#7a7a7a" stroke-width="0.85"/>
<path d="M437.90 625.60v1.2M446.51 625.60v1.2M455.13 625.60v1.2M463.74 625.60v1.2M472.35 625.60v1.2M480.96 625.60v1.2M489.58 625.60v1.2M498.19 625.60v1.2M506.80 625.60v1.2M515.42 625.60v1.2M432.30 625.60h-1.2M522.05 625.60h1.2M432.30 612.77h-1.2M522.05 612.77h1.2M432.30 599.93h-1.2M522.05 599.93h1.2M432.30 587.10h-1.2M522.05 587.10h1.2" stroke="#555" stroke-width="0.45" fill="none"/>
<text x="437.90" y="631.60" font-size="4.4" textLength="5.60" lengthAdjust="spacingAndGlyphs" style="fill:#555" text-anchor="middle" xml:space="preserve">05</text>
<text x="446.51" y="631.60" font-size="4.4" textLength="5.60" lengthAdjust="spacingAndGlyphs" style="fill:#555" text-anchor="middle" xml:space="preserve">06</text>
<text x="455.13" y="631.60" font-size="4.4" textLength="5.60" lengthAdjust="spacingAndGlyphs" style="fill:#555" text-anchor="middle" xml:space="preserve">07</text>
<text x="463.74" y="631.60" font-size="4.4" textLength="5.60" lengthAdjust="spacingAndGlyphs" style="fill:#555" text-anchor="middle" xml:space="preserve">08</text>
<text x="472.35" y="631.60" font-size="4.4" textLength="5.60" lengthAdjust="spacingAndGlyphs" style="fill:#555" text-anchor="middle" xml:space="preserve">09</text>
<text x="480.96" y="631.60" font-size="4.4" textLength="5.60" lengthAdjust="spacingAndGlyphs" style="fill:#555" text-anchor="middle" xml:space="preserve">10</text>
<text x="489.58" y="631.60" font-size="4.4" textLength="5.60" lengthAdjust="spacingAndGlyphs" style="fill:#555" text-anchor="middle" xml:space="preserve">11</text>
<text x="498.19" y="631.60" font-size="4.4" textLength="5.60" lengthAdjust="spacingAndGlyphs" style="fill:#555" text-anchor="middle" xml:space="preserve">12</text>
<text x="506.80" y="631.60" font-size="4.4" textLength="5.60" lengthAdjust="spacingAndGlyphs" style="fill:#555" text-anchor="middle" xml:space="preserve">13</text>
<text x="515.42" y="631.60" font-size="4.4" textLength="5.60" lengthAdjust="spacingAndGlyphs" style="fill:#555" text-anchor="middle" xml:space="preserve">14</text>
<clipPath id="c9"><rect x="525.60" y="587.10" width="89.75" height="38.50"/></clipPath>
<rect x="525.6" y="587.1" width="89.75" height="38.50" fill="#fff"/>
<path d="M531.20 587.10V625.60M539.81 587.10V625.60M548.43 587.10V625.60M557.04 587.10V625.60M565.65 587.10V625.60M574.26 587.10V625.60M582.88 587.10V625.60M591.49 587.10V625.60M600.10 587.10V625.60M608.72 587.10V625.60M525.60 612.77H615.35M525.60 599.93H615.35" stroke="#c8c8c8" stroke-width="0.4" stroke-dasharray="1.2,0.9" fill="none"/>
<path d="M540.7 601.2 541.1 601.8 541.5 602.2 542.0 602.6 542.4 603.0 542.8 603.5 543.3 603.8 543.7 604.2 544.1 604.4 544.5 604.8 545.0 605.2 545.4 605.5 545.8 605.8 546.3 606.1 546.7 606.4 547.1 606.5 547.6 606.7 548.0 606.9 548.4 607.3 548.9 607.4 549.3 607.7 549.7 607.9 550.1 608.4 550.6 608.8 551.0 609.1 551.4 609.4 551.9 609.6 552.3 609.3 552.7 608.8 553.2 608.5 553.6 608.2 554.0 608.5 554.5 608.9 554.9 609.7 555.3 610.4 555.7 611.1 556.2 611.5 556.6 611.8 557.0 612.1 557.5 612.4 557.9 612.6 558.3 613.0 558.8 612.8 559.2 612.9 559.6 612.7 560.1 612.6 560.5 612.5 560.9 612.5 561.3 612.4 561.8 612.2 562.2 612.2 562.6 612.1 563.1 611.9 563.5 611.6 563.9 611.5 564.4 611.3 564.8 611.2 565.2 611.0 565.7 610.8 566.1 610.6 566.5 610.4 566.9 610.3 567.4 610.3 567.8 610.2 568.2 609.9 568.7 609.9 569.1 609.8 569.5 609.6 570.0 609.6 570.4 609.5 570.8 609.5 571.3 609.3 571.7 609.3 572.1 609.3 572.5 609.2 573.0 609.3 573.4 609.2 573.8 609.0 574.3 608.9 574.7 608.8 575.1 608.8 575.6 608.8 576.0 608.6 576.4 608.6 576.8 608.3 577.3 608.2 577.7 607.9 578.1 608.0 578.6 608.0 579.0 607.9 579.4 608.0 579.9 607.7 580.3 607.5 580.7 607.4 581.2 607.3 581.6 607.2 582.0 607.1 582.4 607.0 582.9 606.9 583.3 607.0 583.7 606.9 584.2 606.9 584.6 606.6 585.0 606.5 585.5 606.5 585.9 606.6 586.3 606.4 586.8 606.4 587.2 606.3 587.6 606.3 588.0 606.2 588.5 606.2 588.9 606.0 589.3 606.0 589.8 606.0 590.2 605.9 590.6 605.9 591.1 605.7 591.5 605.7 591.9 605.6 592.4 605.6 592.8 605.6 593.2 605.3 593.6 605.4 594.1 605.2 594.5 605.1 594.9 605.2 595.4 605.1 595.8 604.9 596.2 604.9 596.7 604.8 597.1 604.6 597.5 604.6 598.0 604.5 598.4 604.5 598.8 604.3 599.2 604.4 599.7 604.3 600.1 604.2 600.5 604.2 601.0 604.1 601.4 604.1 601.8 604.0 602.3 603.9 602.7 603.8 603.1 603.7 603.5 603.2 604.0 602.7 604.4 602.4 604.8 601.8 605.3 601.2 605.7 600.8 606.1 599.9 606.6 599.3 607.0 598.4 607.4 597.7 607.9 596.8 608.3 595.8 608.7 594.8 609.1 593.7 609.6 592.4 610.0 591.2 610.4 589.7" stroke="#555" stroke-width="0.8" fill="none" stroke-linejoin="round" clip-path="url(#c9)"/>
<path d="M540.7 601.0 541.1 601.6 541.5 602.0 542.0 602.4 542.4 602.8 542.8 603.3 543.3 603.6 543.7 604.0 544.1 604.2 544.5 604.7 545.0 605.0 545.4 605.3 545.8 605.6 546.3 605.9 546.7 606.2 547.1 606.3 547.6 606.6 548.0 606.7 548.4 607.1 548.9 607.2 549.3 607.5 549.7 607.7 550.1 608.2 550.6 608.6 551.0 608.9 551.4 609.2 551.9 609.5 552.3 609.1 552.7 608.6 553.2 608.3 553.6 608.0 554.0 608.3 554.5 608.7 554.9 609.5 555.3 610.2 555.7 610.9 556.2 611.3 556.6 611.6 557.0 611.9 557.5 612.2 557.9 612.4 558.3 612.8 558.8 612.6 559.2 612.7 559.6 612.5 560.1 612.4 560.5 612.3 560.9 612.3 561.3 612.2 561.8 612.1 562.2 612.0 562.6 611.9 563.1 611.7 563.5 611.4 563.9 611.3 564.4 611.1 564.8 611.0 565.2 610.8 565.7 610.6 566.1 610.4 566.5 610.2 566.9 610.1 567.4 610.1 567.8 610.0 568.2 609.7 568.7 609.7 569.1 609.7 569.5 609.4 570.0 609.4 570.4 609.4 570.8 609.4 571.3 609.1 571.7 609.2 572.1 609.1 572.5 609.1 573.0 609.1 573.4 609.0 573.8 608.8 574.3 608.7 574.7 608.7 575.1 608.6 575.6 608.6 576.0 608.4 576.4 608.4 576.8 608.1 577.3 608.0 577.7 607.7 578.1 607.8 578.6 607.8 579.0 607.7 579.4 607.8 579.9 607.5 580.3 607.3 580.7 607.2 581.2 607.1 581.6 607.0 582.0 606.9 582.4 606.8 582.9 606.7 583.3 606.8 583.7 606.7 584.2 606.7 584.6 606.4 585.0 606.3 585.5 606.3 585.9 606.4 586.3 606.2 586.8 606.2 587.2 606.1 587.6 606.1 588.0 606.0 588.5 606.0 588.9 605.8 589.3 605.8 589.8 605.8 590.2 605.7 590.6 605.7 591.1 605.5 591.5 605.5 591.9 605.4 592.4 605.4 592.8 605.4 593.2 605.1 593.6 605.2 594.1 605.0 594.5 604.9 594.9 605.0 595.4 604.9 595.8 604.7 596.2 604.7 596.7 604.6 597.1 604.4 597.5 604.4 598.0 604.3 598.4 604.3 598.8 604.1 599.2 604.2 599.7 604.1 600.1 604.0 600.5 604.0 601.0 604.0 601.4 603.9 601.8 603.8 602.3 603.7 602.7 603.6 603.1 603.5 603.5 603.1 604.0 602.5 604.4 602.2 604.8 601.6 605.3 601.0 605.7 600.6 606.1 599.7 606.6 599.1 607.0 598.2 607.4 597.5 607.9 596.6 608.3 595.6 608.7 594.6 609.1 593.5 609.6 592.3 610.0 591.0 610.4 589.5" stroke="#9e3b3b" stroke-width="0.65" stroke-opacity="0.9" fill="none" stroke-linejoin="round" clip-path="url(#c9)"/>
<path d="M540.7 619.2 541.5 618.6 542.4 618.0 543.3 617.3 544.1 616.7 545.0 616.1 545.8 615.5 546.7 614.9 547.6 614.3 548.4 613.7 549.3 613.0 550.1 612.4 551.0 611.8 551.9 611.2 552.7 610.6 553.6 610.0 554.5 609.4 555.3 608.8 556.2 608.1 557.0 607.5 557.9 606.9 558.8 606.3 559.6 605.7 560.5 605.1 561.3 604.5 562.2 603.8 563.1 603.2 563.9 602.6 564.8 602.0 565.7 601.4 566.5 600.8 567.4 600.2 568.2 599.5 569.1 598.9 570.0 598.3 570.8 597.7 571.7 597.1 572.5 596.5 573.4 595.9 574.3 595.3 575.1 594.7 576.0 594.1 576.8 593.5 577.7 593.0 578.6 592.4 579.4 592.0 580.3 591.6 581.2 591.3 582.0 591.1 582.9 591.1 583.7 591.3 584.6 591.6 585.5 592.2 586.3 592.8 587.2 593.6 588.0 594.4 588.9 595.2 589.8 596.1 590.6 597.1 591.5 598.0 592.4 599.0 593.2 599.9 594.1 600.9 594.9 601.8 595.8 602.8 596.7 603.8 597.5 604.7 598.4 605.7 599.2 606.6 600.1 607.6 601.0 608.6 601.8 609.5 602.7 610.5 603.5 611.5 604.4 612.4 605.3 613.4 606.1 614.4 607.0 615.3 607.9 616.3 608.7 617.3 609.6 618.2 610.4 619.2" stroke="#6aaad9" stroke-width="1.1" fill="none" stroke-linejoin="round" clip-path="url(#c9)"/>
<rect x="525.6" y="587.1" width="89.75" height="38.50" fill="none" stroke="#7a7a7a" stroke-width="0.85"/>
<path d="M531.20 625.60v1.2M539.81 625.60v1.2M548.43 625.60v1.2M557.04 625.60v1.2M565.65 625.60v1.2M574.26 625.60v1.2M582.88 625.60v1.2M591.49 625.60v1.2M600.10 625.60v1.2M608.72 625.60v1.2M525.60 625.60h-1.2M615.35 625.60h1.2M525.60 612.77h-1.2M615.35 612.77h1.2M525.60 599.93h-1.2M615.35 599.93h1.2M525.60 587.10h-1.2M615.35 587.10h1.2" stroke="#555" stroke-width="0.45" fill="none"/>
<text x="531.20" y="631.60" font-size="4.4" textLength="5.60" lengthAdjust="spacingAndGlyphs" style="fill:#555" text-anchor="middle" xml:space="preserve">05</text>
<text x="539.81" y="631.60" font-size="4.4" textLength="5.60" lengthAdjust="spacingAndGlyphs" style="fill:#555" text-anchor="middle" xml:space="preserve">06</text>
<text x="548.43" y="631.60" font-size="4.4" textLength="5.60" lengthAdjust="spacingAndGlyphs" style="fill:#555" text-anchor="middle" xml:space="preserve">07</text>
<text x="557.04" y="631.60" font-size="4.4" textLength="5.60" lengthAdjust="spacingAndGlyphs" style="fill:#555" text-anchor="middle" xml:space="preserve">08</text>
<text x="565.65" y="631.60" font-size="4.4" textLength="5.60" lengthAdjust="spacingAndGlyphs" style="fill:#555" text-anchor="middle" xml:space="preserve">09</text>
<text x="574.26" y="631.60" font-size="4.4" textLength="5.60" lengthAdjust="spacingAndGlyphs" style="fill:#555" text-anchor="middle" xml:space="preserve">10</text>
<text x="582.88" y="631.60" font-size="4.4" textLength="5.60" lengthAdjust="spacingAndGlyphs" style="fill:#555" text-anchor="middle" xml:space="preserve">11</text>
<text x="591.49" y="631.60" font-size="4.4" textLength="5.60" lengthAdjust="spacingAndGlyphs" style="fill:#555" text-anchor="middle" xml:space="preserve">12</text>
<text x="600.10" y="631.60" font-size="4.4" textLength="5.60" lengthAdjust="spacingAndGlyphs" style="fill:#555" text-anchor="middle" xml:space="preserve">13</text>
<text x="608.72" y="631.60" font-size="4.4" textLength="5.60" lengthAdjust="spacingAndGlyphs" style="fill:#555" text-anchor="middle" xml:space="preserve">14</text>
<text x="617.55" y="588.60" font-size="4.4" style="fill:#555" text-anchor="start" xml:space="preserve">90</text>
<text x="617.55" y="601.43" font-size="4.4" style="fill:#555" text-anchor="start" xml:space="preserve">60</text>
<text x="617.55" y="614.27" font-size="4.4" style="fill:#555" text-anchor="start" xml:space="preserve">30</text>
<text x="617.55" y="627.10" font-size="4.4" style="fill:#555" text-anchor="start" xml:space="preserve">0</text>
<text x="327.40" y="653.65" font-size="4.5" textLength="23.00" lengthAdjust="spacingAndGlyphs" style="fill:#444" text-anchor="middle" transform="rotate(-90 327.40 653.65)" xml:space="preserve">TEC [TECU]</text>
<text x="626.80" y="653.65" font-size="4.5" textLength="21.00" lengthAdjust="spacingAndGlyphs" style="fill:#444" text-anchor="middle" transform="rotate(-90 626.80 653.65)" xml:space="preserve">Elev [deg]</text>
<clipPath id="c10"><rect x="339.00" y="634.40" width="89.75" height="38.50"/></clipPath>
<rect x="339.0" y="634.4" width="89.75" height="38.50" fill="#fff"/>
<path d="M344.60 634.40V672.90M353.21 634.40V672.90M361.83 634.40V672.90M370.44 634.40V672.90M379.05 634.40V672.90M387.66 634.40V672.90M396.28 634.40V672.90M404.89 634.40V672.90M413.50 634.40V672.90M422.12 634.40V672.90M339.00 660.07H428.75M339.00 647.23H428.75" stroke="#c8c8c8" stroke-width="0.4" stroke-dasharray="1.2,0.9" fill="none"/>
<path d="M344.6 630.7 345.5 632.0 346.3 633.2 347.2 634.4 348.0 635.5 348.9 636.6 349.8 637.5 350.6 638.5 351.5 639.4 352.4 640.2 353.2 641.1 354.1 641.9 354.9 642.7 355.8 643.5 356.7 644.2 357.5 644.8 358.4 645.3 359.2 645.8 360.1 646.3 361.0 646.7 361.8 647.2 362.7 647.7 363.5 648.3 364.4 648.9 365.3 649.4 366.1 649.7 367.0 649.9 367.9 649.9 368.7 649.8 369.6 649.6 370.4 649.3 371.3 649.0 372.2 648.5 373.0 647.9 373.9 647.3 374.7 646.7 375.6 646.2 376.5 645.5 377.3 644.9 378.2 644.2 379.1 643.6 379.9 643.0 380.8 642.5 381.6 641.9 382.5 641.3 383.4 640.6 384.2 639.9 385.1 639.2 385.9 638.4 386.8 637.7 387.7 636.8 388.5 635.9 389.4 634.8 390.2 633.6 391.1 632.5 392.0 631.3 392.8 630.2 393.7 629.0 394.6 627.9 395.4 626.7 396.3 625.5 396.3 663.8 395.4 663.6 394.6 663.5 393.7 663.4 392.8 663.2 392.0 663.1 391.1 663.1 390.2 663.0 389.4 663.0 388.5 662.9 387.7 662.8 386.8 662.6 385.9 662.3 385.1 662.0 384.2 661.8 383.4 661.6 382.5 661.4 381.6 661.2 380.8 661.1 379.9 661.1 379.1 661.1 378.2 661.3 377.3 661.6 376.5 662.0 375.6 662.6 374.7 663.1 373.9 663.8 373.0 664.6 372.2 665.4 371.3 666.3 370.4 667.0 369.6 667.6 368.7 668.3 367.9 669.0 367.0 669.5 366.1 669.9 365.3 670.1 364.4 670.2 363.5 670.2 362.7 670.3 361.8 670.4 361.0 670.6 360.1 670.8 359.2 671.1 358.4 671.3 357.5 671.5 356.7 671.6 355.8 671.6 354.9 671.5 354.1 671.4 353.2 671.4 352.4 671.3 351.5 671.2 350.6 671.1 349.8 670.9 348.9 670.7 348.0 670.5 347.2 670.2 346.3 669.8 345.5 669.4 344.6 668.9Z" fill="#777" fill-opacity="0.22" clip-path="url(#c10)"/>
<path d="M344.6 623.7 344.8 584.0 344.9 639.4 345.1 646.2 345.3 632.7 345.5 635.4 345.6 626.0 345.8 634.9 346.0 652.9 346.1 643.0 346.3 648.9 346.5 647.3 346.7 648.9 346.8 676.8 347.0 682.4 347.2 661.9 347.4 681.3 347.5 651.6 347.7 652.7 347.9 676.4 348.0 643.4 348.2 641.1 348.4 651.9 348.6 630.4 348.7 627.8 348.9 670.1 349.1 639.7 349.2 647.9 349.4 648.4 349.6 641.6 349.8 663.8 349.9 662.2 350.1 665.4 350.3 664.5 350.5 656.0 350.6 673.7 350.8 684.7 351.0 647.5 351.1 656.0 351.3 650.3 351.5 679.3 351.7 665.3 351.8 662.5 352.0 655.2 352.2 663.0 352.4 644.2 352.5 656.6 352.7 655.7 352.9 655.9 353.0 647.5 353.2 661.9 353.4 642.8 353.6 650.9 353.7 654.6 353.9 656.1 354.1 650.5 354.2 644.8 354.4 645.8 354.6 652.6 354.8 646.9 354.9 655.8 355.1 625.6 355.3 657.6 355.5 680.9 355.6 624.2 355.8 656.3 356.0 670.7 356.1 659.9 356.3 667.5 356.5 634.7 356.7 652.4 356.8 675.0 357.0 645.0 357.2 662.3 357.3 637.6 357.5 669.4 357.7 682.0 357.9 657.5 358.0 661.9 358.2 662.6 358.4 680.5 358.6 653.9 358.7 620.6 358.9 677.9 359.1 646.5 359.2 664.2 359.4 606.5 359.6 654.1 359.8 660.4 359.9 647.6 360.1 653.4 360.3 671.3 360.4 651.7 360.6 663.5 360.8 675.8 361.0 639.2 361.1 662.0 361.3 664.5 361.5 651.7 361.7 673.3 361.8 671.4 362.0 663.4 362.2 663.6 362.3 658.2 362.5 636.5 362.7 663.3 362.9 654.6 363.0 653.7 363.2 668.8 363.4 657.2 363.5 667.5 363.7 650.0 363.9 650.7 364.1 659.3 364.2 671.0 364.4 658.5 364.6 666.1 364.8 653.7 364.9 660.7 365.1 666.5 365.3 642.8 365.4 646.7 365.6 664.6 365.8 650.3 366.0 662.2 366.1 662.3 366.3 658.8 366.5 665.8 366.6 663.3 366.8 661.0 367.0 647.7 367.2 648.0 367.3 661.6 367.5 647.1 367.7 659.8 367.9 656.5 368.0 644.6 368.2 657.1 368.4 641.1 368.5 657.3 368.7 667.9 368.9 649.3 369.1 665.5 369.2 661.0 369.4 680.4 369.6 651.4 369.7 652.6 369.9 652.7 370.1 643.0 370.3 631.8 370.4 658.5 370.6 651.5 370.8 663.2 371.0 660.3 371.1 641.6 371.3 654.9 371.5 666.7 371.6 651.9 371.8 658.5 372.0 662.7 372.2 654.0 372.3 659.6 372.5 667.3 372.7 664.0 372.9 644.6 373.0 666.4 373.2 654.6 373.4 651.9 373.5 651.6 373.7 663.8 373.9 657.7 374.1 653.4 374.2 650.0 374.4 659.4 374.6 662.7 374.7 640.5 374.9 647.6 375.1 652.3 375.3 663.4 375.4 651.8 375.6 653.6 375.8 648.7 376.0 672.2 376.1 653.2 376.3 654.9 376.5 661.1 376.6 652.2 376.8 653.3 377.0 656.2 377.2 650.7 377.3 674.1 377.5 653.5 377.7 650.1 377.8 651.0 378.0 645.5 378.2 661.0 378.4 663.0 378.5 650.9 378.7 649.4 378.9 637.7 379.1 648.1 379.2 665.8 379.4 646.5 379.6 658.2 379.7 662.8 379.9 633.2 380.1 649.6 380.3 646.7 380.4 647.7 380.6 638.4 380.8 649.7 380.9 642.6 381.1 659.5 381.3 662.3 381.5 640.6 381.6 640.1 381.8 647.5 382.0 649.7 382.2 648.5 382.3 656.9 382.5 638.9 382.7 645.9 382.8 647.1 383.0 648.1 383.2 642.4 383.4 646.8 383.5 644.7 383.7 661.0 383.9 646.5 384.0 631.9 384.2 655.4 384.4 651.9 384.6 642.8 384.7 642.1 384.9 645.0 385.1 665.4 385.3 645.9 385.4 661.5 385.6 658.2 385.8 645.2 385.9 653.2 386.1 633.2 386.3 619.7 386.5 642.6 386.6 643.0 386.8 659.0 387.0 656.5 387.1 660.8 387.3 655.4 387.5 661.1 387.7 656.7 387.8 654.5 388.0 660.2 388.2 664.7 388.4 664.1 388.5 644.5 388.7 648.6 388.9 637.9 389.0 637.5 389.2 652.8 389.4 641.3 389.6 684.9 389.7 622.5 389.9 634.7 390.1 651.0 390.2 662.0 390.4 643.7 390.6 670.5 390.8 657.4 390.9 638.8 391.1 646.9 391.3 653.7 391.5 635.7 391.6 660.5 391.8 643.7 392.0 653.6 392.1 658.0 392.3 641.0 392.5 659.9 392.7 621.9 392.8 654.5 393.0 620.1 393.2 661.2 393.3 638.2 393.5 662.7 393.7 664.6 393.9 643.9 394.0 636.6 394.2 663.8 394.4 629.0 394.6 657.1 394.7 643.7 394.9 640.0 395.1 636.7 395.2 671.7 395.4 621.3 395.6 636.7 395.8 651.4 395.9 660.3 396.1 670.5 396.3 665.5" stroke="#4a4a4a" stroke-width="0.35" stroke-opacity="0.35" fill="none" stroke-linejoin="round" clip-path="url(#c10)"/>
<path d="M344.6 649.8 345.0 650.2 345.5 650.7 345.9 651.0 346.3 651.5 346.8 651.9 347.2 652.3 347.6 652.7 348.0 653.0 348.5 653.3 348.9 653.7 349.3 653.8 349.8 654.3 350.2 654.6 350.6 654.7 351.1 655.1 351.5 655.3 351.9 655.5 352.4 655.7 352.8 656.0 353.2 656.3 353.6 656.4 354.1 656.5 354.5 657.1 354.9 657.1 355.4 657.3 355.8 657.6 356.2 657.8 356.7 657.7 357.1 658.1 357.5 658.0 357.9 658.2 358.4 658.3 358.8 658.3 359.2 658.4 359.7 658.4 360.1 658.5 360.5 658.6 361.0 658.6 361.4 658.6 361.8 658.7 362.3 659.0 362.7 659.0 363.1 659.1 363.5 659.3 364.0 659.4 364.4 659.6 364.8 659.7 365.3 659.7 365.7 659.7 366.1 659.8 366.6 659.6 367.0 659.7 367.4 659.3 367.9 659.4 368.3 659.2 368.7 659.1 369.1 659.0 369.6 658.6 370.0 658.4 370.4 658.0 370.9 658.0 371.3 657.5 371.7 657.3 372.2 656.9 372.6 656.8 373.0 656.3 373.5 655.9 373.9 655.5 374.3 655.2 374.7 655.0 375.2 654.6 375.6 654.3 376.0 654.0 376.5 653.7 376.9 653.4 377.3 653.2 377.8 653.1 378.2 652.9 378.6 652.4 379.1 652.3 379.5 652.2 379.9 652.1 380.3 651.9 380.8 651.8 381.2 651.7 381.6 651.6 382.1 651.3 382.5 651.3 382.9 651.3 383.4 651.2 383.8 651.0 384.2 650.8 384.7 650.7 385.1 650.6 385.5 650.5 385.9 650.4 386.4 650.3 386.8 650.0 387.2 649.9 387.7 649.6 388.1 649.7 388.5 649.4 389.0 649.1 389.4 648.9 389.8 648.7 390.2 648.4 390.7 648.0 391.1 647.7 391.5 647.5 392.0 647.2 392.4 646.9 392.8 646.7 393.3 646.5 393.7 646.2 394.1 645.9 394.6 645.6 395.0 645.4 395.4 645.1 395.8 644.9 396.3 644.8" stroke="#333" stroke-width="0.75" fill="none" stroke-linejoin="round" clip-path="url(#c10)"/>
<path d="M344.6 666.5 345.5 665.9 346.3 665.3 347.2 664.8 348.0 664.2 348.9 663.6 349.8 663.1 350.6 662.5 351.5 661.9 352.4 661.3 353.2 660.8 354.1 660.2 354.9 659.6 355.8 659.1 356.7 658.5 357.5 657.9 358.4 657.3 359.2 656.8 360.1 656.2 361.0 655.6 361.8 655.1 362.7 654.5 363.5 653.9 364.4 653.4 365.3 652.8 366.1 652.3 367.0 651.8 367.9 651.3 368.7 650.8 369.6 650.3 370.4 649.8 371.3 649.4 372.2 649.1 373.0 648.8 373.9 648.6 374.7 648.5 375.6 648.5 376.5 648.6 377.3 648.9 378.2 649.2 379.1 649.7 379.9 650.2 380.8 650.8 381.6 651.5 382.5 652.3 383.4 653.1 384.2 653.9 385.1 654.7 385.9 655.6 386.8 656.5 387.7 657.4 388.5 658.3 389.4 659.2 390.2 660.1 391.1 661.0 392.0 661.9 392.8 662.8 393.7 663.7 394.6 664.7 395.4 665.6 396.3 666.5" stroke="#6aaad9" stroke-width="1.1" fill="none" stroke-linejoin="round" clip-path="url(#c10)"/>
<rect x="339.0" y="634.4" width="89.75" height="38.50" fill="none" stroke="#7a7a7a" stroke-width="0.85"/>
<path d="M344.60 672.90v1.2M353.21 672.90v1.2M361.83 672.90v1.2M370.44 672.90v1.2M379.05 672.90v1.2M387.66 672.90v1.2M396.28 672.90v1.2M404.89 672.90v1.2M413.50 672.90v1.2M422.12 672.90v1.2M339.00 672.90h-1.2M428.75 672.90h1.2M339.00 660.07h-1.2M428.75 660.07h1.2M339.00 647.23h-1.2M428.75 647.23h1.2M339.00 634.40h-1.2M428.75 634.40h1.2" stroke="#555" stroke-width="0.45" fill="none"/>
<text x="344.60" y="678.90" font-size="4.4" textLength="5.60" lengthAdjust="spacingAndGlyphs" style="fill:#555" text-anchor="middle" xml:space="preserve">05</text>
<text x="353.21" y="678.90" font-size="4.4" textLength="5.60" lengthAdjust="spacingAndGlyphs" style="fill:#555" text-anchor="middle" xml:space="preserve">06</text>
<text x="361.83" y="678.90" font-size="4.4" textLength="5.60" lengthAdjust="spacingAndGlyphs" style="fill:#555" text-anchor="middle" xml:space="preserve">07</text>
<text x="370.44" y="678.90" font-size="4.4" textLength="5.60" lengthAdjust="spacingAndGlyphs" style="fill:#555" text-anchor="middle" xml:space="preserve">08</text>
<text x="379.05" y="678.90" font-size="4.4" textLength="5.60" lengthAdjust="spacingAndGlyphs" style="fill:#555" text-anchor="middle" xml:space="preserve">09</text>
<text x="387.66" y="678.90" font-size="4.4" textLength="5.60" lengthAdjust="spacingAndGlyphs" style="fill:#555" text-anchor="middle" xml:space="preserve">10</text>
<text x="396.28" y="678.90" font-size="4.4" textLength="5.60" lengthAdjust="spacingAndGlyphs" style="fill:#555" text-anchor="middle" xml:space="preserve">11</text>
<text x="404.89" y="678.90" font-size="4.4" textLength="5.60" lengthAdjust="spacingAndGlyphs" style="fill:#555" text-anchor="middle" xml:space="preserve">12</text>
<text x="413.50" y="678.90" font-size="4.4" textLength="5.60" lengthAdjust="spacingAndGlyphs" style="fill:#555" text-anchor="middle" xml:space="preserve">13</text>
<text x="422.12" y="678.90" font-size="4.4" textLength="5.60" lengthAdjust="spacingAndGlyphs" style="fill:#555" text-anchor="middle" xml:space="preserve">14</text>
<text x="337.20" y="635.90" font-size="4.4" style="fill:#555" text-anchor="end" xml:space="preserve">20</text>
<text x="337.20" y="648.73" font-size="4.4" style="fill:#555" text-anchor="end" xml:space="preserve">10</text>
<text x="337.20" y="661.57" font-size="4.4" style="fill:#555" text-anchor="end" xml:space="preserve">0</text>
<text x="337.20" y="674.40" font-size="4.4" style="fill:#555" text-anchor="end" xml:space="preserve">−10</text>
<text x="424.30" y="671.30" font-size="4.8" textLength="15.50" lengthAdjust="spacingAndGlyphs" style="fill:#111" text-anchor="end" xml:space="preserve"><tspan font-weight="bold">GLO24</tspan></text>
<clipPath id="c11"><rect x="432.30" y="634.40" width="89.75" height="38.50"/></clipPath>
<rect x="432.3" y="634.4" width="89.75" height="38.50" fill="#fff"/>
<path d="M437.90 634.40V672.90M446.51 634.40V672.90M455.13 634.40V672.90M463.74 634.40V672.90M472.35 634.40V672.90M480.96 634.40V672.90M489.58 634.40V672.90M498.19 634.40V672.90M506.80 634.40V672.90M515.42 634.40V672.90M432.30 660.07H522.05M432.30 647.23H522.05" stroke="#c8c8c8" stroke-width="0.4" stroke-dasharray="1.2,0.9" fill="none"/>
<path d="M437.9 630.7 438.8 632.0 439.6 633.2 440.5 634.4 441.3 635.5 442.2 636.6 443.1 637.5 443.9 638.5 444.8 639.4 445.7 640.2 446.5 641.1 447.4 641.9 448.2 642.7 449.1 643.5 450.0 644.2 450.8 644.8 451.7 645.3 452.5 645.8 453.4 646.3 454.3 646.7 455.1 647.2 456.0 647.7 456.8 648.3 457.7 648.9 458.6 649.4 459.4 649.7 460.3 649.9 461.2 649.9 462.0 649.8 462.9 649.6 463.7 649.3 464.6 649.0 465.5 648.5 466.3 647.9 467.2 647.3 468.0 646.7 468.9 646.2 469.8 645.5 470.6 644.9 471.5 644.2 472.4 643.6 473.2 643.0 474.1 642.5 474.9 641.9 475.8 641.3 476.7 640.6 477.5 639.9 478.4 639.2 479.2 638.4 480.1 637.7 481.0 636.8 481.8 635.9 482.7 634.8 483.5 633.6 484.4 632.5 485.3 631.3 486.1 630.2 487.0 629.0 487.9 627.9 488.7 626.7 489.6 625.5 489.6 663.8 488.7 663.6 487.9 663.5 487.0 663.4 486.1 663.2 485.3 663.1 484.4 663.1 483.5 663.0 482.7 663.0 481.8 662.9 481.0 662.8 480.1 662.6 479.2 662.3 478.4 662.0 477.5 661.8 476.7 661.6 475.8 661.4 474.9 661.2 474.1 661.1 473.2 661.1 472.4 661.1 471.5 661.3 470.6 661.6 469.8 662.0 468.9 662.6 468.0 663.1 467.2 663.8 466.3 664.6 465.5 665.4 464.6 666.3 463.7 667.0 462.9 667.6 462.0 668.3 461.2 669.0 460.3 669.5 459.4 669.9 458.6 670.1 457.7 670.2 456.8 670.2 456.0 670.3 455.1 670.4 454.3 670.6 453.4 670.8 452.5 671.1 451.7 671.3 450.8 671.5 450.0 671.6 449.1 671.6 448.2 671.5 447.4 671.4 446.5 671.4 445.7 671.3 444.8 671.2 443.9 671.1 443.1 670.9 442.2 670.7 441.3 670.5 440.5 670.2 439.6 669.8 438.8 669.4 437.9 668.9Z" fill="#f08080" fill-opacity="0.18" clip-path="url(#c11)"/>
<path d="M437.9 623.7 438.1 584.0 438.2 639.4 438.4 646.2 438.6 632.7 438.8 635.4 438.9 626.0 439.1 634.9 439.3 652.9 439.4 643.0 439.6 648.9 439.8 647.3 440.0 648.9 440.1 676.8 440.3 682.4 440.5 661.9 440.7 681.3 440.8 651.6 441.0 652.7 441.2 676.4 441.3 643.4 441.5 641.1 441.7 651.9 441.9 630.4 442.0 627.8 442.2 670.1 442.4 639.7 442.5 647.9 442.7 648.4 442.9 641.6 443.1 663.8 443.2 662.2 443.4 665.4 443.6 664.5 443.8 656.0 443.9 673.7 444.1 684.7 444.3 647.5 444.4 656.0 444.6 650.3 444.8 679.3 445.0 665.3 445.1 662.5 445.3 655.2 445.5 663.0 445.7 644.2 445.8 656.6 446.0 655.7 446.2 655.9 446.3 647.5 446.5 661.9 446.7 642.8 446.9 650.9 447.0 654.6 447.2 656.1 447.4 650.5 447.5 644.8 447.7 645.8 447.9 652.6 448.1 646.9 448.2 655.8 448.4 625.6 448.6 657.6 448.8 680.9 448.9 624.2 449.1 656.3 449.3 670.7 449.4 659.9 449.6 667.5 449.8 634.7 450.0 652.4 450.1 675.0 450.3 645.0 450.5 662.3 450.6 637.6 450.8 669.4 451.0 682.0 451.2 657.5 451.3 661.9 451.5 662.6 451.7 680.5 451.9 653.9 452.0 620.6 452.2 677.9 452.4 646.5 452.5 664.2 452.7 606.5 452.9 654.1 453.1 660.4 453.2 647.6 453.4 653.4 453.6 671.3 453.7 651.7 453.9 663.5 454.1 675.8 454.3 639.2 454.4 662.0 454.6 664.5 454.8 651.7 455.0 673.3 455.1 671.4 455.3 663.4 455.5 663.6 455.6 658.2 455.8 636.5 456.0 663.3 456.2 654.6 456.3 653.7 456.5 668.8 456.7 657.2 456.8 667.5 457.0 650.0 457.2 650.7 457.4 659.3 457.5 671.0 457.7 658.5 457.9 666.1 458.1 653.7 458.2 660.7 458.4 666.5 458.6 642.8 458.7 646.7 458.9 664.6 459.1 650.3 459.3 662.2 459.4 662.3 459.6 658.8 459.8 665.8 459.9 663.3 460.1 661.0 460.3 647.7 460.5 648.0 460.6 661.6 460.8 647.1 461.0 659.8 461.2 656.5 461.3 644.6 461.5 657.1 461.7 641.1 461.8 657.3 462.0 667.9 462.2 649.3 462.4 665.5 462.5 661.0 462.7 680.4 462.9 651.4 463.0 652.6 463.2 652.7 463.4 643.0 463.6 631.8 463.7 658.5 463.9 651.5 464.1 663.2 464.3 660.3 464.4 641.6 464.6 654.9 464.8 666.7 464.9 651.9 465.1 658.5 465.3 662.7 465.5 654.0 465.6 659.6 465.8 667.3 466.0 664.0 466.2 644.6 466.3 666.4 466.5 654.6 466.7 651.9 466.8 651.6 467.0 663.8 467.2 657.7 467.4 653.4 467.5 650.0 467.7 659.4 467.9 662.7 468.0 640.5 468.2 647.6 468.4 652.3 468.6 663.4 468.7 651.8 468.9 653.6 469.1 648.7 469.3 672.2 469.4 653.2 469.6 654.9 469.8 661.1 469.9 652.2 470.1 653.3 470.3 656.2 470.5 650.7 470.6 674.1 470.8 653.5 471.0 650.1 471.1 651.0 471.3 645.5 471.5 661.0 471.7 663.0 471.8 650.9 472.0 649.4 472.2 637.7 472.4 648.1 472.5 665.8 472.7 646.5 472.9 658.2 473.0 662.8 473.2 633.2 473.4 649.6 473.6 646.7 473.7 647.7 473.9 638.4 474.1 649.7 474.2 642.6 474.4 659.5 474.6 662.3 474.8 640.6 474.9 640.1 475.1 647.5 475.3 649.7 475.5 648.5 475.6 656.9 475.8 638.9 476.0 645.9 476.1 647.1 476.3 648.1 476.5 642.4 476.7 646.8 476.8 644.7 477.0 661.0 477.2 646.5 477.3 631.9 477.5 655.4 477.7 651.9 477.9 642.8 478.0 642.1 478.2 645.0 478.4 665.4 478.6 645.9 478.7 661.5 478.9 658.2 479.1 645.2 479.2 653.2 479.4 633.2 479.6 619.7 479.8 642.6 479.9 643.0 480.1 659.0 480.3 656.5 480.4 660.8 480.6 655.4 480.8 661.1 481.0 656.7 481.1 654.5 481.3 660.2 481.5 664.7 481.7 664.1 481.8 644.5 482.0 648.6 482.2 637.9 482.3 637.5 482.5 652.8 482.7 641.3 482.9 684.9 483.0 622.5 483.2 634.7 483.4 651.0 483.5 662.0 483.7 643.7 483.9 670.5 484.1 657.4 484.2 638.8 484.4 646.9 484.6 653.7 484.8 635.7 484.9 660.5 485.1 643.7 485.3 653.6 485.4 658.0 485.6 641.0 485.8 659.9 486.0 621.9 486.1 654.5 486.3 620.1 486.5 661.2 486.6 638.2 486.8 662.7 487.0 664.6 487.2 643.9 487.3 636.6 487.5 663.8 487.7 629.0 487.9 657.1 488.0 643.7 488.2 640.0 488.4 636.7 488.5 671.7 488.7 621.3 488.9 636.7 489.1 651.4 489.2 660.3 489.4 670.5 489.6 665.5" stroke="#f06060" stroke-width="0.35" stroke-opacity="0.35" fill="none" stroke-linejoin="round" clip-path="url(#c11)"/>
<path d="M437.9 649.8 438.3 650.2 438.8 650.7 439.2 651.0 439.6 651.5 440.1 651.9 440.5 652.3 440.9 652.7 441.3 653.0 441.8 653.3 442.2 653.7 442.6 653.8 443.1 654.3 443.5 654.6 443.9 654.7 444.4 655.1 444.8 655.3 445.2 655.5 445.7 655.7 446.1 656.0 446.5 656.3 446.9 656.4 447.4 656.5 447.8 657.1 448.2 657.1 448.7 657.3 449.1 657.6 449.5 657.8 450.0 657.7 450.4 658.1 450.8 658.0 451.2 658.2 451.7 658.3 452.1 658.3 452.5 658.4 453.0 658.4 453.4 658.5 453.8 658.6 454.3 658.6 454.7 658.6 455.1 658.7 455.6 659.0 456.0 659.0 456.4 659.1 456.8 659.3 457.3 659.4 457.7 659.6 458.1 659.7 458.6 659.7 459.0 659.7 459.4 659.8 459.9 659.6 460.3 659.7 460.7 659.3 461.2 659.4 461.6 659.2 462.0 659.1 462.4 659.0 462.9 658.6 463.3 658.4 463.7 658.0 464.2 658.0 464.6 657.5 465.0 657.3 465.5 656.9 465.9 656.8 466.3 656.3 466.8 655.9 467.2 655.5 467.6 655.2 468.0 655.0 468.5 654.6 468.9 654.3 469.3 654.0 469.8 653.7 470.2 653.4 470.6 653.2 471.1 653.1 471.5 652.9 471.9 652.4 472.4 652.3 472.8 652.2 473.2 652.1 473.6 651.9 474.1 651.8 474.5 651.7 474.9 651.6 475.4 651.3 475.8 651.3 476.2 651.3 476.7 651.2 477.1 651.0 477.5 650.8 478.0 650.7 478.4 650.6 478.8 650.5 479.2 650.4 479.7 650.3 480.1 650.0 480.5 649.9 481.0 649.6 481.4 649.7 481.8 649.4 482.3 649.1 482.7 648.9 483.1 648.7 483.5 648.4 484.0 648.0 484.4 647.7 484.8 647.5 485.3 647.2 485.7 646.9 486.1 646.7 486.6 646.5 487.0 646.2 487.4 645.9 487.9 645.6 488.3 645.4 488.7 645.1 489.1 644.9 489.6 644.8" stroke="#e04545" stroke-width="0.75" fill="none" stroke-linejoin="round" clip-path="url(#c11)"/>
<path d="M437.9 666.5 438.8 665.9 439.6 665.3 440.5 664.8 441.3 664.2 442.2 663.6 443.1 663.1 443.9 662.5 444.8 661.9 445.7 661.3 446.5 660.8 447.4 660.2 448.2 659.6 449.1 659.1 450.0 658.5 450.8 657.9 451.7 657.3 452.5 656.8 453.4 656.2 454.3 655.6 455.1 655.1 456.0 654.5 456.8 653.9 457.7 653.4 458.6 652.8 459.4 652.3 460.3 651.8 461.2 651.3 462.0 650.8 462.9 650.3 463.7 649.8 464.6 649.4 465.5 649.1 466.3 648.8 467.2 648.6 468.0 648.5 468.9 648.5 469.8 648.6 470.6 648.9 471.5 649.2 472.4 649.7 473.2 650.2 474.1 650.8 474.9 651.5 475.8 652.3 476.7 653.1 477.5 653.9 478.4 654.7 479.2 655.6 480.1 656.5 481.0 657.4 481.8 658.3 482.7 659.2 483.5 660.1 484.4 661.0 485.3 661.9 486.1 662.8 487.0 663.7 487.9 664.7 488.7 665.6 489.6 666.5" stroke="#6aaad9" stroke-width="1.1" fill="none" stroke-linejoin="round" clip-path="url(#c11)"/>
<rect x="432.3" y="634.4" width="89.75" height="38.50" fill="none" stroke="#7a7a7a" stroke-width="0.85"/>
<path d="M437.90 672.90v1.2M446.51 672.90v1.2M455.13 672.90v1.2M463.74 672.90v1.2M472.35 672.90v1.2M480.96 672.90v1.2M489.58 672.90v1.2M498.19 672.90v1.2M506.80 672.90v1.2M515.42 672.90v1.2M432.30 672.90h-1.2M522.05 672.90h1.2M432.30 660.07h-1.2M522.05 660.07h1.2M432.30 647.23h-1.2M522.05 647.23h1.2M432.30 634.40h-1.2M522.05 634.40h1.2" stroke="#555" stroke-width="0.45" fill="none"/>
<text x="437.90" y="678.90" font-size="4.4" textLength="5.60" lengthAdjust="spacingAndGlyphs" style="fill:#555" text-anchor="middle" xml:space="preserve">05</text>
<text x="446.51" y="678.90" font-size="4.4" textLength="5.60" lengthAdjust="spacingAndGlyphs" style="fill:#555" text-anchor="middle" xml:space="preserve">06</text>
<text x="455.13" y="678.90" font-size="4.4" textLength="5.60" lengthAdjust="spacingAndGlyphs" style="fill:#555" text-anchor="middle" xml:space="preserve">07</text>
<text x="463.74" y="678.90" font-size="4.4" textLength="5.60" lengthAdjust="spacingAndGlyphs" style="fill:#555" text-anchor="middle" xml:space="preserve">08</text>
<text x="472.35" y="678.90" font-size="4.4" textLength="5.60" lengthAdjust="spacingAndGlyphs" style="fill:#555" text-anchor="middle" xml:space="preserve">09</text>
<text x="480.96" y="678.90" font-size="4.4" textLength="5.60" lengthAdjust="spacingAndGlyphs" style="fill:#555" text-anchor="middle" xml:space="preserve">10</text>
<text x="489.58" y="678.90" font-size="4.4" textLength="5.60" lengthAdjust="spacingAndGlyphs" style="fill:#555" text-anchor="middle" xml:space="preserve">11</text>
<text x="498.19" y="678.90" font-size="4.4" textLength="5.60" lengthAdjust="spacingAndGlyphs" style="fill:#555" text-anchor="middle" xml:space="preserve">12</text>
<text x="506.80" y="678.90" font-size="4.4" textLength="5.60" lengthAdjust="spacingAndGlyphs" style="fill:#555" text-anchor="middle" xml:space="preserve">13</text>
<text x="515.42" y="678.90" font-size="4.4" textLength="5.60" lengthAdjust="spacingAndGlyphs" style="fill:#555" text-anchor="middle" xml:space="preserve">14</text>
<clipPath id="c12"><rect x="525.60" y="634.40" width="89.75" height="38.50"/></clipPath>
<rect x="525.6" y="634.4" width="89.75" height="38.50" fill="#fff"/>
<path d="M531.20 634.40V672.90M539.81 634.40V672.90M548.43 634.40V672.90M557.04 634.40V672.90M565.65 634.40V672.90M574.26 634.40V672.90M582.88 634.40V672.90M591.49 634.40V672.90M600.10 634.40V672.90M608.72 634.40V672.90M525.60 660.07H615.35M525.60 647.23H615.35" stroke="#c8c8c8" stroke-width="0.4" stroke-dasharray="1.2,0.9" fill="none"/>
<path d="M531.2 649.8 531.6 650.2 532.1 650.7 532.5 651.0 532.9 651.5 533.4 651.9 533.8 652.3 534.2 652.7 534.6 653.0 535.1 653.3 535.5 653.7 535.9 653.8 536.4 654.3 536.8 654.6 537.2 654.7 537.7 655.1 538.1 655.3 538.5 655.5 539.0 655.7 539.4 656.0 539.8 656.3 540.2 656.4 540.7 656.5 541.1 657.1 541.5 657.1 542.0 657.3 542.4 657.6 542.8 657.8 543.3 657.7 543.7 658.1 544.1 658.0 544.5 658.2 545.0 658.3 545.4 658.3 545.8 658.4 546.3 658.4 546.7 658.5 547.1 658.6 547.6 658.6 548.0 658.6 548.4 658.7 548.9 659.0 549.3 659.0 549.7 659.1 550.1 659.3 550.6 659.4 551.0 659.6 551.4 659.7 551.9 659.7 552.3 659.7 552.7 659.8 553.2 659.6 553.6 659.7 554.0 659.3 554.5 659.4 554.9 659.2 555.3 659.1 555.7 659.0 556.2 658.6 556.6 658.4 557.0 658.0 557.5 658.0 557.9 657.5 558.3 657.3 558.8 656.9 559.2 656.8 559.6 656.3 560.1 655.9 560.5 655.5 560.9 655.2 561.3 655.0 561.8 654.6 562.2 654.3 562.6 654.0 563.1 653.7 563.5 653.4 563.9 653.2 564.4 653.1 564.8 652.9 565.2 652.4 565.7 652.3 566.1 652.2 566.5 652.1 566.9 651.9 567.4 651.8 567.8 651.7 568.2 651.6 568.7 651.3 569.1 651.3 569.5 651.3 570.0 651.2 570.4 651.0 570.8 650.8 571.3 650.7 571.7 650.6 572.1 650.5 572.5 650.4 573.0 650.3 573.4 650.0 573.8 649.9 574.3 649.6 574.7 649.7 575.1 649.4 575.6 649.1 576.0 648.9 576.4 648.7 576.8 648.4 577.3 648.0 577.7 647.7 578.1 647.5 578.6 647.2 579.0 646.9 579.4 646.7 579.9 646.5 580.3 646.2 580.7 645.9 581.2 645.6 581.6 645.4 582.0 645.1 582.4 644.9 582.9 644.8" stroke="#555" stroke-width="0.8" fill="none" stroke-linejoin="round" clip-path="url(#c12)"/>
<path d="M531.2 649.6 531.6 650.0 532.1 650.5 532.5 650.9 532.9 651.3 533.4 651.7 533.8 652.1 534.2 652.5 534.6 652.8 535.1 653.2 535.5 653.5 535.9 653.6 536.4 654.1 536.8 654.4 537.2 654.5 537.7 654.9 538.1 655.1 538.5 655.3 539.0 655.6 539.4 655.8 539.8 656.1 540.2 656.2 540.7 656.3 541.1 656.9 541.5 656.9 542.0 657.1 542.4 657.4 542.8 657.6 543.3 657.5 543.7 657.9 544.1 657.8 544.5 658.0 545.0 658.1 545.4 658.1 545.8 658.2 546.3 658.2 546.7 658.3 547.1 658.4 547.6 658.4 548.0 658.4 548.4 658.5 548.9 658.8 549.3 658.8 549.7 658.9 550.1 659.1 550.6 659.2 551.0 659.4 551.4 659.5 551.9 659.5 552.3 659.5 552.7 659.6 553.2 659.4 553.6 659.5 554.0 659.1 554.5 659.2 554.9 659.0 555.3 658.9 555.7 658.8 556.2 658.4 556.6 658.2 557.0 657.8 557.5 657.8 557.9 657.3 558.3 657.1 558.8 656.7 559.2 656.6 559.6 656.1 560.1 655.7 560.5 655.3 560.9 655.0 561.3 654.8 561.8 654.4 562.2 654.1 562.6 653.8 563.1 653.5 563.5 653.2 563.9 653.1 564.4 652.9 564.8 652.7 565.2 652.3 565.7 652.1 566.1 652.0 566.5 651.9 566.9 651.7 567.4 651.6 567.8 651.5 568.2 651.4 568.7 651.1 569.1 651.1 569.5 651.1 570.0 651.0 570.4 650.8 570.8 650.6 571.3 650.5 571.7 650.4 572.1 650.3 572.5 650.2 573.0 650.1 573.4 649.8 573.8 649.7 574.3 649.4 574.7 649.5 575.1 649.2 575.6 648.9 576.0 648.7 576.4 648.5 576.8 648.2 577.3 647.9 577.7 647.6 578.1 647.3 578.6 647.0 579.0 646.7 579.4 646.5 579.9 646.3 580.3 646.0 580.7 645.7 581.2 645.4 581.6 645.2 582.0 645.0 582.4 644.8 582.9 644.6" stroke="#9e3b3b" stroke-width="0.65" stroke-opacity="0.9" fill="none" stroke-linejoin="round" clip-path="url(#c12)"/>
<path d="M531.2 666.5 532.1 665.9 532.9 665.3 533.8 664.6 534.6 664.0 535.5 663.4 536.4 662.8 537.2 662.2 538.1 661.6 539.0 661.0 539.8 660.4 540.7 659.7 541.5 659.1 542.4 658.5 543.3 657.9 544.1 657.3 545.0 656.7 545.8 656.1 546.7 655.5 547.6 654.9 548.4 654.3 549.3 653.7 550.1 653.1 551.0 652.5 551.9 651.9 552.7 651.3 553.6 650.7 554.5 650.2 555.3 649.6 556.2 649.1 557.0 648.7 557.9 648.2 558.8 647.9 559.6 647.6 560.5 647.4 561.3 647.2 562.2 647.2 563.1 647.4 563.9 647.6 564.8 648.0 565.7 648.5 566.5 649.1 567.4 649.7 568.2 650.5 569.1 651.3 570.0 652.1 570.8 653.0 571.7 653.9 572.5 654.8 573.4 655.8 574.3 656.7 575.1 657.7 576.0 658.6 576.8 659.6 577.7 660.6 578.6 661.6 579.4 662.6 580.3 663.5 581.2 664.5 582.0 665.5 582.9 666.5" stroke="#6aaad9" stroke-width="1.1" fill="none" stroke-linejoin="round" clip-path="url(#c12)"/>
<rect x="525.6" y="634.4" width="89.75" height="38.50" fill="none" stroke="#7a7a7a" stroke-width="0.85"/>
<path d="M531.20 672.90v1.2M539.81 672.90v1.2M548.43 672.90v1.2M557.04 672.90v1.2M565.65 672.90v1.2M574.26 672.90v1.2M582.88 672.90v1.2M591.49 672.90v1.2M600.10 672.90v1.2M608.72 672.90v1.2M525.60 672.90h-1.2M615.35 672.90h1.2M525.60 660.07h-1.2M615.35 660.07h1.2M525.60 647.23h-1.2M615.35 647.23h1.2M525.60 634.40h-1.2M615.35 634.40h1.2" stroke="#555" stroke-width="0.45" fill="none"/>
<text x="531.20" y="678.90" font-size="4.4" textLength="5.60" lengthAdjust="spacingAndGlyphs" style="fill:#555" text-anchor="middle" xml:space="preserve">05</text>
<text x="539.81" y="678.90" font-size="4.4" textLength="5.60" lengthAdjust="spacingAndGlyphs" style="fill:#555" text-anchor="middle" xml:space="preserve">06</text>
<text x="548.43" y="678.90" font-size="4.4" textLength="5.60" lengthAdjust="spacingAndGlyphs" style="fill:#555" text-anchor="middle" xml:space="preserve">07</text>
<text x="557.04" y="678.90" font-size="4.4" textLength="5.60" lengthAdjust="spacingAndGlyphs" style="fill:#555" text-anchor="middle" xml:space="preserve">08</text>
<text x="565.65" y="678.90" font-size="4.4" textLength="5.60" lengthAdjust="spacingAndGlyphs" style="fill:#555" text-anchor="middle" xml:space="preserve">09</text>
<text x="574.26" y="678.90" font-size="4.4" textLength="5.60" lengthAdjust="spacingAndGlyphs" style="fill:#555" text-anchor="middle" xml:space="preserve">10</text>
<text x="582.88" y="678.90" font-size="4.4" textLength="5.60" lengthAdjust="spacingAndGlyphs" style="fill:#555" text-anchor="middle" xml:space="preserve">11</text>
<text x="591.49" y="678.90" font-size="4.4" textLength="5.60" lengthAdjust="spacingAndGlyphs" style="fill:#555" text-anchor="middle" xml:space="preserve">12</text>
<text x="600.10" y="678.90" font-size="4.4" textLength="5.60" lengthAdjust="spacingAndGlyphs" style="fill:#555" text-anchor="middle" xml:space="preserve">13</text>
<text x="608.72" y="678.90" font-size="4.4" textLength="5.60" lengthAdjust="spacingAndGlyphs" style="fill:#555" text-anchor="middle" xml:space="preserve">14</text>
<text x="617.55" y="635.90" font-size="4.4" style="fill:#555" text-anchor="start" xml:space="preserve">90</text>
<text x="617.55" y="648.73" font-size="4.4" style="fill:#555" text-anchor="start" xml:space="preserve">60</text>
<text x="617.55" y="661.57" font-size="4.4" style="fill:#555" text-anchor="start" xml:space="preserve">30</text>
<text x="617.55" y="674.40" font-size="4.4" style="fill:#555" text-anchor="start" xml:space="preserve">0</text>
<g>
<text x="707.85" y="103.60" font-size="5.6" textLength="31.50" lengthAdjust="spacingAndGlyphs" style="fill:#333" text-anchor="middle" xml:space="preserve">Mar 13, 2021</text>
<text x="707.85" y="282.60" font-size="4.6" textLength="29.00" lengthAdjust="spacingAndGlyphs" style="fill:#333" text-anchor="middle" xml:space="preserve">Universal Time</text>
<text x="800.70" y="103.60" font-size="5.6" textLength="31.50" lengthAdjust="spacingAndGlyphs" style="fill:#333" text-anchor="middle" xml:space="preserve">Mar 14, 2021</text>
<text x="800.70" y="282.60" font-size="4.6" textLength="29.00" lengthAdjust="spacingAndGlyphs" style="fill:#333" text-anchor="middle" xml:space="preserve">Universal Time</text>
<text x="893.10" y="103.60" font-size="5.6" textLength="31.50" lengthAdjust="spacingAndGlyphs" style="fill:#333" text-anchor="middle" xml:space="preserve">Mar 15, 2021</text>
<text x="893.10" y="282.60" font-size="4.6" textLength="29.00" lengthAdjust="spacingAndGlyphs" style="fill:#333" text-anchor="middle" xml:space="preserve">Universal Time</text>
<text x="653.40" y="125.90" font-size="4.6" textLength="24.84" lengthAdjust="spacingAndGlyphs" style="fill:#333" text-anchor="middle" transform="rotate(-90 653.40 125.90)" xml:space="preserve">TEC [TECU]</text>
<text x="649.60" y="167.95" font-size="4.6" textLength="17.28" lengthAdjust="spacingAndGlyphs" style="fill:#333" text-anchor="middle" transform="rotate(-90 649.60 167.95)" xml:space="preserve">S4 [0-1]</text>
<text x="649.60" y="209.25" font-size="4.6" textLength="17.28" lengthAdjust="spacingAndGlyphs" style="fill:#333" text-anchor="middle" transform="rotate(-90 649.60 209.25)" xml:space="preserve">S4 [0-1]</text>
<text x="649.60" y="251.45" font-size="4.6" textLength="15.12" lengthAdjust="spacingAndGlyphs" style="fill:#333" text-anchor="middle" transform="rotate(-90 649.60 251.45)" xml:space="preserve">&lt;ROTI&gt;</text>
<text x="949.20" y="125.90" font-size="4.0" textLength="20.00" lengthAdjust="spacingAndGlyphs" style="fill:#444" text-anchor="middle" transform="rotate(-90 949.20 125.90)" xml:space="preserve">Elev [deg]</text>
<clipPath id="c13"><rect x="662.90" y="106.10" width="89.90" height="39.60"/></clipPath>
<rect x="662.9" y="106.1" width="89.90" height="39.60" fill="#fff"/>
<path d="M675.33 106.10V145.70M687.77 106.10V145.70M700.20 106.10V145.70M712.64 106.10V145.70M725.07 106.10V145.70M737.51 106.10V145.70M749.94 106.10V145.70M662.90 135.80H752.80M662.90 125.90H752.80M662.90 116.00H752.80" stroke="#666" stroke-width="0.42" stroke-dasharray="0.9,0.45" fill="none"/>
<path d="M662.9 135.6 663.9 134.8 664.9 133.9 665.9 133.1 666.9 132.3 667.9 131.5 668.9 130.7 669.9 129.8 670.9 129.0 671.9 128.1 672.8 127.2 673.8 126.4 674.8 125.8 675.8 125.1 676.8 124.5 677.8 124.0 678.8 123.5 679.8 123.0 680.8 122.6 681.8 122.2 682.8 121.8 683.8 121.4 684.8 121.0 685.8 120.7 686.8 120.5 687.8 120.4 688.8 120.4 689.8 120.6 690.8 120.7 691.7 121.0 692.7 121.3 693.7 121.5 694.7 121.8 695.7 122.1 696.7 122.5 697.7 122.9 698.7 123.3 699.7 123.7 700.7 124.2 701.7 124.6 702.7 124.9 703.7 125.2 704.7 125.5 705.7 125.8 706.7 126.1 707.7 126.4 708.7 126.7 709.7 127.0 710.6 127.2 711.6 127.5 712.6 127.7 713.6 128.0 714.6 128.2 715.6 128.4 716.6 128.7 717.6 128.9 718.6 129.1 719.6 129.3 720.6 129.5 721.6 129.8 722.6 130.0 723.6 130.2 724.6 130.4 725.6 130.5 726.6 130.7 727.6 130.9 728.6 131.1 729.5 131.3 730.5 131.4 731.5 131.6 732.5 131.7 733.5 131.9 734.5 132.0 735.5 132.1 736.5 132.3 737.5 132.4 738.5 132.5 739.5 132.7 740.5 132.9 741.5 133.0 742.5 133.2 743.5 133.4 744.5 133.6 745.5 133.7 746.5 133.9 747.5 134.1 748.4 134.3 749.4 134.5 750.4 134.8 751.4 135.0 752.4 135.2" stroke="#6aaad9" stroke-width="0.8" fill="none" stroke-linejoin="round" clip-path="url(#c13)"/>
<path d="M678.9 106.1 679.3 105.5 679.6 106.0 680.0 107.6 680.4 107.8 680.8 108.3 681.1 108.0 681.5 108.8 681.9 108.6 682.3 110.8 682.6 108.9 683.0 110.4 683.4 110.3 683.7 111.3 684.1 111.9 684.5 111.7 684.9 111.9 685.2 113.0 685.6 113.4 686.0 113.2 686.4 114.7 686.7 115.6 687.1 114.6 687.5 115.8 687.8 117.1 688.2 116.7 688.6 116.9 689.0 117.8 689.3 118.5 689.7 117.8 690.1 117.7 690.5 118.9 690.8 119.7 691.2 119.3 691.6 119.5 692.0 120.6 692.3 120.5 692.7 120.6 693.1 121.8 693.4 122.6 693.8 122.2 694.2 122.6 694.6 122.4 694.9 124.4 695.3 124.4 695.7 124.9 696.1 125.9 696.4 124.9 696.8 125.0 697.2 126.3 697.5 125.2 697.9 125.9 698.3 126.5 698.7 126.9 699.0 126.7 699.4 128.6 699.8 127.5 700.2 127.7 700.5 129.6 700.9 128.4 701.3 129.1 701.6 128.6 702.0 129.7 702.4 129.7 702.8 129.5 703.1 130.4 703.5 129.4 703.9 130.0 704.3 129.6 704.6 130.3 705.0 129.3 705.4 129.6 705.8 130.2 706.1 129.7 706.5 129.3 706.9 129.0 707.2 131.4 707.6 129.7 708.0 130.1 708.4 130.5 708.7 131.2 709.1 129.6 709.5 131.4 709.9 130.2 710.2 129.7 710.6 131.8 711.0 130.9 711.3 131.7 711.7 130.7 712.1 129.8 712.5 129.5 712.8 132.2 713.2 131.4 713.6 130.6 714.0 130.0 714.3 130.8 714.7 131.7 715.1 131.0 715.5 131.3 715.8 131.5 716.2 131.9 716.6 131.2 716.9 131.3 717.3 131.7 717.7 131.9 718.1 132.7 718.4 132.3 718.8 131.2 719.2 132.2 719.6 133.2 719.9 131.4 720.3 132.0 720.7 131.0 721.0 132.6 721.4 133.0 721.8 133.8 722.2 132.0 722.5 131.2 722.9 133.6 723.3 133.6 723.7 132.9 724.0 134.0 724.4 133.7 724.8 133.9 725.2 133.6 725.5 133.1 725.9 134.0 726.3 133.5 726.6 134.6 727.0 134.2 727.4 136.0 727.8 135.6 728.1 134.2 728.5 135.3 728.9 134.6 729.3 134.7 729.6 134.3 730.0 134.8 730.4 134.7 730.7 135.6 731.1 136.1 731.5 136.3 731.9 136.2 732.2 136.8 732.6 136.5 733.0 136.3 733.4 136.2 733.7 136.7 734.1 137.9 734.5 136.7 734.8 136.8 735.2 136.5 735.6 137.1 736.0 138.2 736.3 138.6 736.7 137.0 737.1 138.1 737.5 137.6 737.8 137.7 738.2 140.0 738.6 139.4 739.0 139.6 739.3 139.7 739.7 140.0 740.1 140.5 740.4 140.8 740.8 142.2 741.2 141.5 741.6 142.1 741.9 141.7 742.3 142.2 742.7 141.6 743.1 141.7 743.4 142.2 743.8 142.3 744.2 142.7 744.5 143.2 744.9 143.2 745.3 143.6 745.7 143.1 746.0 143.5 746.4 143.2 746.8 144.7 747.2 143.2 747.5 144.5 747.9 144.6 748.3 144.4 748.7 144.7 749.0 144.3 749.4 145.0 749.8 145.5 750.1 145.4 750.5 144.1 750.9 145.1 751.3 146.0 751.6 145.3 752.0 146.5 752.4 144.3 752.8 146.7" stroke="#111" stroke-width="1.0" fill="none" stroke-linejoin="round" clip-path="url(#c13)"/>
<path d="M678.9 105.9 679.3 105.3 679.6 105.8 680.0 107.4 680.4 107.6 680.8 108.1 681.1 107.8 681.5 108.6 681.9 108.4 682.3 110.6 682.6 108.7 683.0 110.2 683.4 110.1 683.7 111.1 684.1 111.7 684.5 111.5 684.9 111.7 685.2 112.8 685.6 113.2 686.0 113.0 686.4 114.5 686.7 115.4 687.1 114.4 687.5 115.6 687.8 116.9 688.2 116.5 688.6 116.7 689.0 117.7 689.3 118.3 689.7 117.7 690.1 117.5 690.5 118.7 690.8 119.5 691.2 119.1 691.6 119.3 692.0 120.4 692.3 120.3 692.7 120.4 693.1 121.6 693.4 122.4 693.8 122.0 694.2 122.4 694.6 122.2 694.9 124.2 695.3 124.2 695.7 124.7 696.1 125.7 696.4 124.7 696.8 124.8 697.2 126.1 697.5 125.0 697.9 125.8 698.3 126.3 698.7 126.7 699.0 126.5 699.4 128.4 699.8 127.3 700.2 127.5 700.5 129.4 700.9 128.2 701.3 128.9 701.6 128.4 702.0 129.5 702.4 129.5 702.8 129.3 703.1 130.2 703.5 129.2 703.9 129.8 704.3 129.4 704.6 130.1 705.0 129.1 705.4 129.4 705.8 130.0 706.1 129.5 706.5 129.1 706.9 128.8 707.2 131.2 707.6 129.5 708.0 129.9 708.4 130.3 708.7 131.0 709.1 129.4 709.5 131.2 709.9 130.0 710.2 129.5 710.6 131.6 711.0 130.7 711.3 131.5 711.7 130.5 712.1 129.6 712.5 129.3 712.8 132.0 713.2 131.2 713.6 130.4 714.0 129.8 714.3 130.7 714.7 131.5 715.1 130.8 715.5 131.1 715.8 131.3 716.2 131.7 716.6 131.0 716.9 131.1 717.3 131.5 717.7 131.7 718.1 132.5 718.4 132.1 718.8 131.0 719.2 132.0 719.6 133.0 719.9 131.2 720.3 131.8 720.7 130.8 721.0 132.4 721.4 132.8 721.8 133.6 722.2 131.8 722.5 131.0 722.9 133.5 723.3 133.4 723.7 132.7 724.0 133.8 724.4 133.5 724.8 133.7 725.2 133.4 725.5 132.9 725.9 133.8 726.3 133.3 726.6 134.4 727.0 134.0 727.4 135.8 727.8 135.4 728.1 134.0 728.5 135.1 728.9 134.4 729.3 134.5 729.6 134.1 730.0 134.6 730.4 134.5 730.7 135.4 731.1 135.9 731.5 136.1 731.9 136.0 732.2 136.6 732.6 136.3 733.0 136.1 733.4 136.0 733.7 136.5 734.1 137.7 734.5 136.5 734.8 136.6 735.2 136.3 735.6 136.9 736.0 138.0 736.3 138.4 736.7 136.8 737.1 137.9 737.5 137.4 737.8 137.5 738.2 139.8 738.6 139.2 739.0 139.4 739.3 139.5 739.7 139.8 740.1 140.3 740.4 140.6 740.8 142.0 741.2 141.3 741.6 141.9 741.9 141.5 742.3 142.0 742.7 141.4 743.1 141.5 743.4 142.0 743.8 142.1 744.2 142.5 744.5 143.0 744.9 143.0 745.3 143.4 745.7 142.9 746.0 143.3 746.4 143.0 746.8 144.5 747.2 143.0 747.5 144.3 747.9 144.4 748.3 144.2 748.7 144.5 749.0 144.1 749.4 144.8 749.8 145.3 750.1 145.2 750.5 143.9 750.9 144.9 751.3 145.8 751.6 145.1 752.0 146.3 752.4 144.1 752.8 146.5" stroke="#c62828" stroke-width="0.4" stroke-opacity="0.55" fill="none" stroke-linejoin="round" clip-path="url(#c13)"/>
<rect x="662.9" y="106.1" width="89.90" height="39.60" fill="none" stroke="#666" stroke-width="0.8"/>
<text x="661.30" y="107.70" font-size="4.6" style="fill:#333" text-anchor="end" xml:space="preserve">20</text>
<text x="661.30" y="117.60" font-size="4.6" style="fill:#333" text-anchor="end" xml:space="preserve">15</text>
<text x="661.30" y="127.50" font-size="4.6" style="fill:#333" text-anchor="end" xml:space="preserve">10</text>
<text x="661.30" y="137.40" font-size="4.6" style="fill:#333" text-anchor="end" xml:space="preserve">5</text>
<text x="661.30" y="147.30" font-size="4.6" style="fill:#333" text-anchor="end" xml:space="preserve">0</text>
<path d="M662.90 145.70h-1.2M662.90 135.80h-1.2M662.90 125.90h-1.2M662.90 116.00h-1.2M662.90 106.10h-1.2" stroke="#555" stroke-width="0.45" fill="none"/>
<rect x="716.9" y="108.6" width="33.2" height="17.6" rx="0.8" fill="#fff" fill-opacity="0.85" stroke="#e0e0e0" stroke-width="0.4"/>
<path d="M718.2 111.90h8.6" stroke="#111" stroke-width="0.7"/>
<text x="729.60" y="113.40" font-size="4.3" textLength="18.64" lengthAdjust="spacingAndGlyphs" style="fill:#333" text-anchor="start" xml:space="preserve">SEP pTEC</text>
<path d="M718.2 117.60h8.6" stroke="#d32f2f" stroke-width="0.7"/>
<text x="729.60" y="119.10" font-size="4.3" textLength="18.50" lengthAdjust="spacingAndGlyphs" style="fill:#333" text-anchor="start" xml:space="preserve">SC3 pTEC</text>
<path d="M718.2 123.30h8.6" stroke="#6aaad9" stroke-width="0.7"/>
<text x="729.60" y="124.80" font-size="4.3" textLength="7.53" lengthAdjust="spacingAndGlyphs" style="fill:#333" text-anchor="start" xml:space="preserve">Elev</text>
<text x="669.90" y="143.40" font-size="4.6" textLength="15.00" lengthAdjust="spacingAndGlyphs" style="fill:#111" text-anchor="start" xml:space="preserve"><tspan font-weight="bold">GPS12</tspan></text>
<clipPath id="c14"><rect x="662.90" y="148.40" width="89.90" height="39.10"/></clipPath>
<rect x="662.9" y="148.4" width="89.90" height="39.10" fill="#f7f7f7"/>
<rect x="662.9" y="160.84" width="89.90" height="17.77" fill="#e0e0e0"/>
<rect x="662.9" y="148.4" width="89.90" height="12.44" fill="#c4c4c4"/>
<path d="M675.33 148.40V187.50M687.77 148.40V187.50M700.20 148.40V187.50M712.64 148.40V187.50M725.07 148.40V187.50M737.51 148.40V187.50M749.94 148.40V187.50M662.90 178.61H752.80M662.90 169.73H752.80M662.90 160.84H752.80M662.90 151.95H752.80" stroke="#555" stroke-width="0.45" stroke-dasharray="0.9,0.45" fill="none"/>
<path d="M662.9 183.3 663.2 184.3 663.5 181.5 663.8 183.6 664.1 184.4 664.5 184.2 664.8 184.0 665.1 184.3 665.4 183.1 665.7 183.9 666.0 183.9 666.3 183.8 666.6 184.0 666.9 181.5 667.3 183.5 667.6 184.3 667.9 184.2 668.2 184.4 668.5 184.4 668.8 183.1 669.1 184.6 669.4 184.4 669.7 184.3 670.0 184.1 670.4 182.7 670.7 183.8 671.0 182.6 671.3 183.9 671.6 183.4 671.9 184.2 672.2 184.3 672.5 184.2 672.8 184.3 673.2 183.5 673.5 184.2 673.8 183.5 674.1 184.0 674.4 183.8 674.7 184.3 675.0 183.2 675.3 184.3 675.6 182.8 676.0 182.3 676.3 183.5 676.6 183.8 676.9 184.3 677.2 183.9 677.5 183.6 677.8 184.3 678.1 183.0 678.4 182.9 678.8 184.1 679.1 184.0 679.4 184.1 679.7 183.3 680.0 184.1 680.3 184.1 680.6 183.3 680.9 184.3 681.2 181.1 681.6 184.1 681.9 184.0 682.2 183.0 682.5 183.6 682.8 181.7 683.1 182.8 683.4 182.9 683.7 183.4 684.0 182.9 684.3 183.4 684.7 183.7 685.0 183.8 685.3 183.7 685.6 183.9 685.9 183.8 686.2 184.2 686.5 184.0 686.8 184.1 687.1 183.9 687.5 183.7 687.8 182.3 688.1 184.0 688.4 182.5 688.7 183.7 689.0 183.7 689.3 184.2 689.6 184.0 689.9 184.1 690.3 182.5 690.6 183.0 690.9 183.2 691.2 182.5 691.5 183.6 691.8 184.0 692.1 183.2 692.4 183.9 692.7 183.3 693.1 182.8 693.4 184.0 693.7 183.6 694.0 182.0 694.3 183.8 694.6 183.2 694.9 182.6 695.2 183.0 695.5 182.2 695.9 183.4 696.2 181.9 696.5 183.4 696.8 183.4 697.1 183.0 697.4 182.9 697.7 182.4 698.0 182.0 698.3 183.5 698.6 182.5 699.0 181.0 699.3 183.4 699.6 183.0 699.9 183.4 700.2 183.6 700.5 183.4 700.8 183.1 701.1 183.4 701.4 183.3 701.8 181.8 702.1 182.9 702.4 182.1 702.7 183.5 703.0 183.0 703.3 183.2 703.6 182.5 703.9 182.4 704.2 183.3 704.6 182.4 704.9 180.9 705.2 183.1 705.5 182.8 705.8 182.9 706.1 182.4 706.4 180.9 706.7 183.2 707.0 183.2 707.4 181.9 707.7 183.4 708.0 182.1 708.3 183.4 708.6 181.8 708.9 182.9 709.2 182.9 709.5 182.6 709.8 182.4 710.2 182.9 710.5 183.0 710.8 182.6 711.1 183.0 711.4 181.9 711.7 182.6 712.0 182.1 712.3 182.3 712.6 182.0 712.9 182.3 713.3 183.0 713.6 180.8 713.9 182.4 714.2 181.0 714.5 181.3 714.8 182.6 715.1 183.1 715.4 182.7 715.7 182.3 716.1 183.2 716.4 182.0 716.7 182.4 717.0 182.6 717.3 181.8 717.6 182.8 717.9 182.9 718.2 183.2 718.5 182.6 718.9 182.3 719.2 182.6 719.5 183.0 719.8 181.7 720.1 182.5 720.4 181.7 720.7 181.1 721.0 183.1 721.3 183.1 721.7 181.6 722.0 181.6 722.3 182.8 722.6 182.4 722.9 182.3 723.2 182.5 723.5 182.2 723.8 183.0 724.1 181.2 724.4 182.6 724.8 180.9 725.1 182.2 725.4 182.8 725.7 183.0 726.0 182.7 726.3 182.7 726.6 182.4 726.9 182.2 727.2 181.5 727.6 183.1 727.9 182.7 728.2 182.1 728.5 181.5 728.8 183.0 729.1 182.1 729.4 180.8 729.7 183.0 730.0 182.8 730.4 182.6 730.7 181.1 731.0 182.1 731.3 182.9 731.6 182.2 731.9 182.9 732.2 183.0 732.5 181.9 732.8 181.5 733.2 183.0 733.5 181.3 733.8 182.5 734.1 182.8 734.4 182.1 734.7 180.2 735.0 182.9 735.3 181.8 735.6 182.5 736.0 181.0 736.3 182.8 736.6 183.0 736.9 182.0 737.2 182.1 737.5 182.7 737.8 182.6 738.1 181.1 738.4 181.8 738.7 182.8 739.1 181.9 739.4 181.9 739.7 182.7 740.0 182.8 740.3 182.0 740.6 180.8 740.9 182.8 741.2 182.8 741.5 180.1 741.9 182.2 742.2 182.9 742.5 182.5 742.8 182.1 743.1 181.1 743.4 182.2 743.7 182.3 744.0 182.8 744.3 182.5 744.7 182.6 745.0 182.8 745.3 182.4 745.6 180.8 745.9 182.1 746.2 181.3 746.5 182.6 746.8 182.6 747.1 182.7 747.5 181.2 747.8 181.7 748.1 182.2 748.4 182.1 748.7 181.6 749.0 182.0 749.3 179.6 749.6 182.6 749.9 181.5 750.3 181.7 750.6 182.3 750.9 182.8 751.2 182.6 751.5 181.0 751.8 182.2 752.1 182.2 752.4 181.2 752.7 182.2" stroke="#e53935" stroke-width="0.8" fill="none" stroke-linejoin="round" clip-path="url(#c14)"/>
<path d="M662.9 183.9 663.2 183.6 663.5 184.4 663.8 184.2 664.1 183.2 664.5 182.9 664.8 184.0 665.1 183.7 665.4 183.7 665.7 183.8 666.0 183.8 666.3 183.6 666.6 183.9 666.9 183.8 667.3 184.4 667.6 184.0 667.9 184.6 668.2 183.7 668.5 183.6 668.8 184.3 669.1 183.6 669.4 183.0 669.7 183.3 670.0 183.9 670.4 184.5 670.7 184.1 671.0 183.0 671.3 184.3 671.6 183.6 671.9 183.6 672.2 184.0 672.5 184.3 672.8 184.1 673.2 184.0 673.5 184.3 673.8 183.8 674.1 184.0 674.4 184.4 674.7 183.6 675.0 183.8 675.3 182.5 675.6 184.1 676.0 182.9 676.3 184.1 676.6 184.3 676.9 183.8 677.2 184.1 677.5 184.1 677.8 184.1 678.1 184.4 678.4 184.3 678.8 184.0 679.1 183.6 679.4 184.3 679.7 183.7 680.0 184.0 680.3 184.1 680.6 184.0 680.9 182.6 681.2 184.2 681.6 183.6 681.9 183.0 682.2 184.3 682.5 184.2 682.8 183.6 683.1 183.2 683.4 184.1 683.7 184.1 684.0 184.3 684.3 183.5 684.7 183.6 685.0 184.2 685.3 183.1 685.6 184.2 685.9 183.1 686.2 183.6 686.5 184.3 686.8 183.7 687.1 183.5 687.5 183.3 687.8 184.1 688.1 183.9 688.4 183.2 688.7 183.6 689.0 184.1 689.3 184.2 689.6 184.2 689.9 183.4 690.3 183.7 690.6 183.8 690.9 184.1 691.2 184.0 691.5 184.0 691.8 182.6 692.1 183.7 692.4 183.9 692.7 183.9 693.1 183.6 693.4 183.7 693.7 183.7 694.0 183.3 694.3 183.0 694.6 184.0 694.9 183.1 695.2 183.8 695.5 183.1 695.9 183.3 696.2 183.9 696.5 182.9 696.8 183.5 697.1 183.7 697.4 182.9 697.7 183.2 698.0 182.4 698.3 183.6 698.6 183.6 699.0 182.9 699.3 182.3 699.6 182.9 699.9 182.0 700.2 182.6 700.5 183.1 700.8 183.5 701.1 182.0 701.4 183.6 701.8 183.4 702.1 183.6 702.4 182.7 702.7 183.3 703.0 183.6 703.3 183.4 703.6 183.4 703.9 182.9 704.2 182.6 704.6 182.9 704.9 182.9 705.2 182.4 705.5 183.3 705.8 183.0 706.1 183.5 706.4 183.0 706.7 181.9 707.0 182.7 707.4 183.4 707.7 183.0 708.0 182.4 708.3 181.9 708.6 182.8 708.9 183.3 709.2 182.9 709.5 182.8 709.8 182.7 710.2 182.6 710.5 182.8 710.8 182.7 711.1 183.2 711.4 183.2 711.7 182.3 712.0 182.6 712.3 183.2 712.6 182.9 712.9 182.2 713.3 182.7 713.6 182.6 713.9 182.4 714.2 182.7 714.5 182.3 714.8 182.9 715.1 182.5 715.4 182.7 715.7 183.2 716.1 182.9 716.4 182.2 716.7 182.3 717.0 182.5 717.3 183.1 717.6 182.5 717.9 182.8 718.2 183.1 718.5 182.2 718.9 182.8 719.2 182.6 719.5 182.3 719.8 183.0 720.1 182.7 720.4 182.1 720.7 183.2 721.0 182.5 721.3 182.5 721.7 181.8 722.0 181.6 722.3 183.1 722.6 183.0 722.9 182.3 723.2 183.1 723.5 182.8 723.8 182.2 724.1 183.0 724.4 182.8 724.8 182.8 725.1 183.0 725.4 182.1 725.7 181.8 726.0 182.4 726.3 182.6 726.6 182.8 726.9 182.8 727.2 181.7 727.6 181.2 727.9 182.7 728.2 182.9 728.5 182.7 728.8 182.8 729.1 183.0 729.4 182.2 729.7 182.5 730.0 183.0 730.4 183.0 730.7 183.0 731.0 181.5 731.3 182.9 731.6 183.0 731.9 182.4 732.2 182.8 732.5 182.7 732.8 182.7 733.2 182.9 733.5 182.8 733.8 183.0 734.1 181.7 734.4 180.7 734.7 181.4 735.0 182.4 735.3 183.0 735.6 181.8 736.0 182.1 736.3 182.1 736.6 181.0 736.9 182.8 737.2 182.4 737.5 182.9 737.8 182.5 738.1 182.9 738.4 181.3 738.7 182.3 739.1 182.0 739.4 182.8 739.7 182.0 740.0 183.0 740.3 182.2 740.6 182.6 740.9 182.1 741.2 182.0 741.5 181.9 741.9 181.9 742.2 182.7 742.5 182.1 742.8 182.1 743.1 182.8 743.4 182.5 743.7 182.6 744.0 181.9 744.3 182.8 744.7 182.9 745.0 182.9 745.3 182.9 745.6 182.8 745.9 182.5 746.2 182.8 746.5 182.8 746.8 182.4 747.1 182.6 747.5 182.8 747.8 181.4 748.1 182.6 748.4 182.7 748.7 182.3 749.0 182.8 749.3 182.8 749.6 182.8 749.9 182.9 750.3 182.6 750.6 181.6 750.9 181.6 751.2 181.8 751.5 182.6 751.8 182.4 752.1 182.6 752.4 182.5 752.7 182.3" stroke="#111" stroke-width="0.6" fill="none" stroke-linejoin="round" clip-path="url(#c14)"/>
<rect x="662.9" y="148.4" width="89.90" height="39.10" fill="none" stroke="#707070" stroke-width="0.8"/>
<text x="661.30" y="153.45" font-size="4.5" textLength="9.40" lengthAdjust="spacingAndGlyphs" style="fill:#333" text-anchor="end" xml:space="preserve">1.00</text>
<text x="661.30" y="162.34" font-size="4.5" textLength="9.40" lengthAdjust="spacingAndGlyphs" style="fill:#333" text-anchor="end" xml:space="preserve">0.75</text>
<text x="661.30" y="171.23" font-size="4.5" textLength="9.40" lengthAdjust="spacingAndGlyphs" style="fill:#333" text-anchor="end" xml:space="preserve">0.50</text>
<text x="661.30" y="180.11" font-size="4.5" textLength="9.40" lengthAdjust="spacingAndGlyphs" style="fill:#333" text-anchor="end" xml:space="preserve">0.25</text>
<text x="661.30" y="189.00" font-size="4.5" textLength="9.40" lengthAdjust="spacingAndGlyphs" style="fill:#333" text-anchor="end" xml:space="preserve">0.00</text>
<path d="M662.90 187.50h-1.2M662.90 178.61h-1.2M662.90 169.73h-1.2M662.90 160.84h-1.2M662.90 151.95h-1.2" stroke="#555" stroke-width="0.45" fill="none"/>
<rect x="722.3" y="150.40" width="28" height="12.6" rx="0.8" fill="#f2f2f2" fill-opacity="0.9" stroke="#e0e0e0" stroke-width="0.4"/>
<path d="M724.0 153.70h8" stroke="#e53935" stroke-width="0.6"/>
<text x="735.20" y="155.20" font-size="4.3" textLength="14.00" lengthAdjust="spacingAndGlyphs" style="fill:#333" text-anchor="start" xml:space="preserve">SC3 L1</text>
<path d="M724.0 159.60h8" stroke="#111" stroke-width="0.6"/>
<text x="735.20" y="161.10" font-size="4.3" textLength="14.00" lengthAdjust="spacingAndGlyphs" style="fill:#333" text-anchor="start" xml:space="preserve">SEP L1</text>
<clipPath id="c15"><rect x="662.90" y="189.60" width="89.90" height="39.30"/></clipPath>
<rect x="662.9" y="189.6" width="89.90" height="39.30" fill="#f7f7f7"/>
<rect x="662.9" y="202.10" width="89.90" height="17.86" fill="#e0e0e0"/>
<rect x="662.9" y="189.6" width="89.90" height="12.50" fill="#c4c4c4"/>
<path d="M675.33 189.60V228.90M687.77 189.60V228.90M700.20 189.60V228.90M712.64 189.60V228.90M725.07 189.60V228.90M737.51 189.60V228.90M749.94 189.60V228.90M662.90 219.97H752.80M662.90 211.04H752.80M662.90 202.10H752.80M662.90 193.17H752.80" stroke="#555" stroke-width="0.45" stroke-dasharray="0.9,0.45" fill="none"/>
<path d="M662.9 224.9 663.2 225.2 663.5 225.8 663.8 223.5 664.1 225.3 664.5 225.5 664.8 223.4 665.1 224.6 665.4 224.3 665.7 225.8 666.0 224.6 666.3 224.3 666.6 224.0 666.9 224.8 667.3 224.2 667.6 225.9 667.9 225.4 668.2 224.7 668.5 225.5 668.8 225.8 669.1 225.1 669.4 225.5 669.7 225.9 670.0 224.9 670.4 223.9 670.7 224.6 671.0 225.1 671.3 225.1 671.6 225.5 671.9 225.3 672.2 224.9 672.5 224.3 672.8 225.0 673.2 222.7 673.5 225.4 673.8 225.1 674.1 224.5 674.4 223.2 674.7 224.0 675.0 225.8 675.3 225.0 675.6 224.3 676.0 225.7 676.3 224.6 676.6 225.8 676.9 224.8 677.2 225.7 677.5 224.6 677.8 224.9 678.1 224.0 678.4 225.1 678.8 224.4 679.1 225.5 679.4 225.5 679.7 225.6 680.0 224.6 680.3 225.8 680.6 223.7 680.9 225.4 681.2 222.5 681.6 223.6 681.9 224.0 682.2 224.5 682.5 225.3 682.8 225.8 683.1 225.6 683.4 224.6 683.7 225.0 684.0 224.9 684.3 225.1 684.7 225.5 685.0 225.4 685.3 225.4 685.6 224.8 685.9 224.7 686.2 225.7 686.5 225.0 686.8 224.7 687.1 224.3 687.5 225.4 687.8 224.7 688.1 225.6 688.4 224.6 688.7 223.5 689.0 224.6 689.3 224.4 689.6 224.5 689.9 223.5 690.3 223.5 690.6 225.4 690.9 224.1 691.2 223.8 691.5 224.1 691.8 224.1 692.1 224.6 692.4 224.4 692.7 223.5 693.1 224.9 693.4 225.3 693.7 224.7 694.0 225.1 694.3 224.8 694.6 223.3 694.9 223.4 695.2 224.9 695.5 224.7 695.9 224.9 696.2 225.1 696.5 225.1 696.8 225.1 697.1 223.6 697.4 224.8 697.7 223.9 698.0 224.2 698.3 224.2 698.6 222.8 699.0 223.8 699.3 223.4 699.6 225.1 699.9 224.8 700.2 224.2 700.5 224.4 700.8 225.1 701.1 223.6 701.4 224.4 701.8 223.5 702.1 223.3 702.4 224.7 702.7 224.9 703.0 224.7 703.3 224.9 703.6 224.4 703.9 224.4 704.2 223.4 704.6 223.0 704.9 224.2 705.2 224.5 705.5 224.1 705.8 224.4 706.1 224.8 706.4 224.0 706.7 223.8 707.0 224.5 707.4 224.2 707.7 223.5 708.0 223.5 708.3 224.6 708.6 224.0 708.9 223.3 709.2 224.6 709.5 224.6 709.8 223.9 710.2 224.5 710.5 223.6 710.8 224.4 711.1 224.3 711.4 224.5 711.7 224.1 712.0 223.2 712.3 223.7 712.6 223.8 712.9 222.9 713.3 223.0 713.6 223.1 713.9 222.2 714.2 223.7 714.5 222.1 714.8 224.6 715.1 223.8 715.4 223.1 715.7 223.9 716.1 224.3 716.4 223.8 716.7 222.9 717.0 224.2 717.3 223.8 717.6 224.4 717.9 224.4 718.2 223.2 718.5 224.2 718.9 224.5 719.2 224.2 719.5 223.8 719.8 224.2 720.1 223.8 720.4 224.4 720.7 223.3 721.0 223.7 721.3 224.4 721.7 224.2 722.0 224.1 722.3 223.3 722.6 224.1 722.9 223.5 723.2 222.4 723.5 223.6 723.8 223.4 724.1 223.0 724.4 223.8 724.8 224.1 725.1 224.2 725.4 224.3 725.7 223.1 726.0 223.2 726.3 223.3 726.6 224.2 726.9 224.2 727.2 223.1 727.6 223.8 727.9 224.3 728.2 224.0 728.5 221.8 728.8 223.0 729.1 223.3 729.4 224.0 729.7 223.2 730.0 223.1 730.4 224.1 730.7 224.4 731.0 224.0 731.3 224.3 731.6 221.9 731.9 224.1 732.2 224.1 732.5 224.2 732.8 224.1 733.2 223.1 733.5 222.5 733.8 223.8 734.1 224.2 734.4 223.6 734.7 223.3 735.0 223.4 735.3 224.0 735.6 224.3 736.0 222.6 736.3 223.8 736.6 224.0 736.9 224.2 737.2 222.9 737.5 224.0 737.8 224.3 738.1 223.6 738.4 222.6 738.7 223.7 739.1 223.9 739.4 224.2 739.7 223.7 740.0 223.4 740.3 223.5 740.6 224.2 740.9 223.6 741.2 223.7 741.5 222.8 741.9 223.6 742.2 224.0 742.5 223.1 742.8 223.8 743.1 224.0 743.4 224.1 743.7 224.1 744.0 223.3 744.3 223.8 744.7 222.1 745.0 224.3 745.3 223.0 745.6 223.2 745.9 223.7 746.2 223.5 746.5 223.2 746.8 222.8 747.1 224.0 747.5 222.6 747.8 222.5 748.1 223.9 748.4 222.9 748.7 224.1 749.0 223.8 749.3 224.2 749.6 223.8 749.9 223.1 750.3 223.0 750.6 224.2 750.9 223.6 751.2 224.3 751.5 223.6 751.8 224.0 752.1 223.9 752.4 222.5 752.7 223.2" stroke="#e53935" stroke-width="0.8" fill="none" stroke-linejoin="round" clip-path="url(#c15)"/>
<path d="M662.9 225.5 663.2 225.8 663.5 225.6 663.8 226.0 664.1 225.8 664.5 225.6 664.8 225.0 665.1 225.4 665.4 225.3 665.7 224.8 666.0 225.8 666.3 225.7 666.6 225.9 666.9 225.6 667.3 225.4 667.6 225.4 667.9 225.7 668.2 224.8 668.5 225.8 668.8 225.9 669.1 225.8 669.4 225.9 669.7 225.9 670.0 224.8 670.4 224.3 670.7 225.1 671.0 225.7 671.3 225.4 671.6 225.3 671.9 225.5 672.2 225.6 672.5 224.2 672.8 225.4 673.2 225.9 673.5 225.8 673.8 225.8 674.1 225.7 674.4 224.2 674.7 225.7 675.0 225.3 675.3 225.5 675.6 225.6 676.0 225.6 676.3 225.7 676.6 225.2 676.9 225.3 677.2 225.5 677.5 225.3 677.8 225.5 678.1 225.3 678.4 225.6 678.8 224.0 679.1 225.1 679.4 225.8 679.7 225.6 680.0 225.0 680.3 225.5 680.6 225.1 680.9 225.5 681.2 225.4 681.6 225.5 681.9 225.5 682.2 224.7 682.5 225.3 682.8 225.3 683.1 225.5 683.4 225.5 683.7 223.8 684.0 225.3 684.3 224.3 684.7 225.3 685.0 224.6 685.3 225.3 685.6 225.7 685.9 225.0 686.2 225.2 686.5 224.4 686.8 225.5 687.1 225.2 687.5 224.9 687.8 224.9 688.1 225.1 688.4 225.4 688.7 225.6 689.0 225.1 689.3 224.4 689.6 225.6 689.9 224.2 690.3 225.5 690.6 225.4 690.9 225.5 691.2 224.7 691.5 224.8 691.8 225.3 692.1 225.4 692.4 224.9 692.7 224.9 693.1 224.1 693.4 225.1 693.7 225.0 694.0 225.3 694.3 224.9 694.6 224.8 694.9 224.7 695.2 225.3 695.5 225.2 695.9 225.2 696.2 225.2 696.5 225.3 696.8 223.6 697.1 224.7 697.4 225.1 697.7 224.7 698.0 224.2 698.3 224.6 698.6 223.8 699.0 225.1 699.3 224.8 699.6 224.8 699.9 224.8 700.2 224.1 700.5 225.0 700.8 225.1 701.1 224.2 701.4 223.8 701.8 224.1 702.1 225.0 702.4 225.0 702.7 223.7 703.0 223.2 703.3 225.0 703.6 224.7 703.9 224.3 704.2 224.1 704.6 224.8 704.9 224.3 705.2 224.5 705.5 223.1 705.8 224.0 706.1 224.7 706.4 224.2 706.7 223.3 707.0 223.6 707.4 224.8 707.7 222.5 708.0 224.3 708.3 224.0 708.6 222.7 708.9 224.1 709.2 224.7 709.5 223.6 709.8 224.4 710.2 224.6 710.5 224.5 710.8 223.9 711.1 224.5 711.4 224.5 711.7 223.7 712.0 224.2 712.3 224.5 712.6 223.2 712.9 224.5 713.3 224.6 713.6 224.3 713.9 224.0 714.2 224.6 714.5 224.2 714.8 223.3 715.1 223.2 715.4 224.4 715.7 224.0 716.1 223.7 716.4 224.1 716.7 222.4 717.0 224.6 717.3 223.8 717.6 223.7 717.9 224.5 718.2 223.7 718.5 224.1 718.9 224.3 719.2 222.7 719.5 223.9 719.8 224.5 720.1 224.2 720.4 224.5 720.7 223.5 721.0 224.1 721.3 224.4 721.7 224.1 722.0 223.5 722.3 224.5 722.6 223.8 722.9 224.0 723.2 224.2 723.5 223.9 723.8 223.7 724.1 223.8 724.4 223.9 724.8 221.8 725.1 224.4 725.4 223.9 725.7 223.6 726.0 224.1 726.3 224.2 726.6 223.8 726.9 224.4 727.2 223.7 727.6 223.6 727.9 224.4 728.2 223.9 728.5 224.3 728.8 223.9 729.1 224.1 729.4 224.4 729.7 224.3 730.0 223.9 730.4 223.6 730.7 223.6 731.0 223.1 731.3 223.2 731.6 224.2 731.9 224.4 732.2 224.0 732.5 223.9 732.8 224.4 733.2 224.4 733.5 223.6 733.8 224.2 734.1 224.4 734.4 224.0 734.7 223.5 735.0 224.4 735.3 224.2 735.6 224.3 736.0 223.8 736.3 223.2 736.6 223.8 736.9 224.4 737.2 224.3 737.5 223.9 737.8 223.2 738.1 224.3 738.4 224.1 738.7 223.5 739.1 223.6 739.4 223.9 739.7 224.2 740.0 224.3 740.3 224.1 740.6 224.1 740.9 223.0 741.2 224.0 741.5 224.3 741.9 223.5 742.2 223.7 742.5 224.2 742.8 224.0 743.1 223.6 743.4 224.2 743.7 223.8 744.0 223.8 744.3 224.2 744.7 223.2 745.0 223.8 745.3 223.6 745.6 223.3 745.9 224.1 746.2 224.0 746.5 223.7 746.8 224.3 747.1 224.2 747.5 223.8 747.8 223.6 748.1 223.2 748.4 223.7 748.7 222.3 749.0 223.8 749.3 224.2 749.6 223.2 749.9 224.2 750.3 223.1 750.6 223.7 750.9 224.0 751.2 223.0 751.5 223.4 751.8 223.2 752.1 224.1 752.4 223.6 752.7 224.0" stroke="#111" stroke-width="0.6" fill="none" stroke-linejoin="round" clip-path="url(#c15)"/>
<rect x="662.9" y="189.6" width="89.90" height="39.30" fill="none" stroke="#707070" stroke-width="0.8"/>
<text x="661.30" y="194.67" font-size="4.5" textLength="9.40" lengthAdjust="spacingAndGlyphs" style="fill:#333" text-anchor="end" xml:space="preserve">1.00</text>
<text x="661.30" y="203.60" font-size="4.5" textLength="9.40" lengthAdjust="spacingAndGlyphs" style="fill:#333" text-anchor="end" xml:space="preserve">0.75</text>
<text x="661.30" y="212.54" font-size="4.5" textLength="9.40" lengthAdjust="spacingAndGlyphs" style="fill:#333" text-anchor="end" xml:space="preserve">0.50</text>
<text x="661.30" y="221.47" font-size="4.5" textLength="9.40" lengthAdjust="spacingAndGlyphs" style="fill:#333" text-anchor="end" xml:space="preserve">0.25</text>
<text x="661.30" y="230.40" font-size="4.5" textLength="9.40" lengthAdjust="spacingAndGlyphs" style="fill:#333" text-anchor="end" xml:space="preserve">0.00</text>
<path d="M662.90 228.90h-1.2M662.90 219.97h-1.2M662.90 211.04h-1.2M662.90 202.10h-1.2M662.90 193.17h-1.2" stroke="#555" stroke-width="0.45" fill="none"/>
<rect x="722.3" y="191.60" width="28" height="12.6" rx="0.8" fill="#f2f2f2" fill-opacity="0.9" stroke="#e0e0e0" stroke-width="0.4"/>
<path d="M724.0 194.90h8" stroke="#e53935" stroke-width="0.6"/>
<text x="735.20" y="196.40" font-size="4.3" textLength="14.00" lengthAdjust="spacingAndGlyphs" style="fill:#333" text-anchor="start" xml:space="preserve">SC3 L2</text>
<path d="M724.0 200.80h8" stroke="#111" stroke-width="0.6"/>
<text x="735.20" y="202.30" font-size="4.3" textLength="14.00" lengthAdjust="spacingAndGlyphs" style="fill:#333" text-anchor="start" xml:space="preserve">SEP L2</text>
<clipPath id="c16"><rect x="662.90" y="231.50" width="89.90" height="39.90"/></clipPath>
<rect x="662.9" y="231.5" width="89.90" height="39.90" fill="#fff"/>
<path d="M675.33 231.50V271.40M687.77 231.50V271.40M700.20 231.50V271.40M712.64 231.50V271.40M725.07 231.50V271.40M737.51 231.50V271.40M749.94 231.50V271.40M662.90 262.45H752.80M662.90 253.51H752.80M662.90 244.56H752.80M662.90 235.62H752.80" stroke="#666" stroke-width="0.42" stroke-dasharray="0.9,0.45" fill="none"/>
<path d="M662.9 267.0 663.2 265.2 663.5 265.7 663.8 266.5 664.1 266.6 664.5 265.8 664.8 266.3 665.1 266.9 665.4 266.5 665.7 266.8 666.0 267.2 666.3 267.5 666.6 266.4 666.9 267.5 667.3 268.1 667.6 266.1 667.9 266.5 668.2 267.1 668.5 267.6 668.8 267.6 669.1 268.8 669.4 267.8 669.7 267.6 670.0 268.0 670.4 267.5 670.7 268.4 671.0 267.7 671.3 269.0 671.6 267.9 671.9 268.4 672.2 268.9 672.5 268.2 672.8 268.0 673.2 268.4 673.5 267.3 673.8 268.5 674.1 267.4 674.4 267.5 674.7 268.5 675.0 267.1 675.3 269.0 675.6 267.7 676.0 268.1 676.3 267.6 676.6 269.3 676.9 269.0 677.2 268.8 677.5 268.2 677.8 268.2 678.1 268.2 678.4 268.4 678.8 268.8 679.1 269.2 679.4 268.6 679.7 267.9 680.0 267.6 680.3 268.7 680.6 267.6 680.9 269.3 681.2 267.8 681.6 269.2 681.9 268.3 682.2 269.1 682.5 269.1 682.8 268.9 683.1 267.5 683.4 269.0 683.7 268.1 684.0 268.4 684.3 268.3 684.7 268.3 685.0 268.1 685.3 269.4 685.6 268.6 685.9 268.4 686.2 269.0 686.5 268.4 686.8 269.4 687.1 268.2 687.5 269.2 687.8 268.9 688.1 268.1 688.4 267.9 688.7 269.1 689.0 269.1 689.3 268.0 689.6 270.7 689.9 267.7 690.3 267.7 690.6 269.4 690.9 267.8 691.2 268.4 691.5 268.3 691.8 270.2 692.1 268.9 692.4 268.7 692.7 268.9 693.1 268.8 693.4 268.8 693.7 270.6 694.0 268.7 694.3 269.0 694.6 268.6 694.9 268.9 695.2 268.5 695.5 268.3 695.9 267.2 696.2 269.1 696.5 267.3 696.8 268.6 697.1 269.1 697.4 269.5 697.7 267.8 698.0 269.5 698.3 267.8 698.6 268.2 699.0 268.8 699.3 268.9 699.6 268.0 699.9 268.3 700.2 267.9 700.5 268.4 700.8 268.7 701.1 268.0 701.4 269.2 701.8 267.7 702.1 268.3 702.4 269.1 702.7 269.0 703.0 268.5 703.3 269.6 703.6 267.3 703.9 267.6 704.2 269.0 704.6 268.3 704.9 267.1 705.2 268.0 705.5 268.9 705.8 269.7 706.1 269.4 706.4 267.4 706.7 268.0 707.0 269.1 707.4 267.7 707.7 268.4 708.0 268.6 708.3 268.5 708.6 268.5 708.9 267.0 709.2 268.8 709.5 268.4 709.8 267.2 710.2 267.0 710.5 268.8 710.8 266.6 711.1 267.3 711.4 269.1 711.7 266.8 712.0 269.1 712.3 267.6 712.6 268.8 712.9 269.3 713.3 267.4 713.6 267.7 713.9 268.1 714.2 267.9 714.5 268.1 714.8 268.2 715.1 268.7 715.4 267.5 715.7 267.9 716.1 268.1 716.4 268.3 716.7 268.1 717.0 269.0 717.3 268.1 717.6 268.6 717.9 267.0 718.2 268.6 718.5 268.2 718.9 267.8 719.2 267.3 719.5 267.5 719.8 267.8 720.1 266.3 720.4 267.8 720.7 267.6 721.0 265.9 721.3 268.4 721.7 267.1 722.0 267.5 722.3 268.7 722.6 268.2 722.9 267.2 723.2 268.8 723.5 267.9 723.8 267.1 724.1 267.9 724.4 267.5 724.8 268.2 725.1 268.1 725.4 268.1 725.7 267.9 726.0 267.2 726.3 267.6 726.6 266.2 726.9 267.2 727.2 267.4 727.6 266.0 727.9 267.7 728.2 268.2 728.5 267.5 728.8 268.4 729.1 267.2 729.4 266.6 729.7 267.1 730.0 267.8 730.4 267.6 730.7 267.2 731.0 266.7 731.3 267.8 731.6 267.8 731.9 266.7 732.2 267.3 732.5 267.2 732.8 267.1 733.2 268.0 733.5 267.6 733.8 266.7 734.1 267.6 734.4 267.6 734.7 267.2 735.0 267.1 735.3 265.6 735.6 268.0 736.0 267.3 736.3 265.9 736.6 267.3 736.9 267.1 737.2 268.4 737.5 266.7 737.8 266.7 738.1 266.7 738.4 267.4 738.7 267.0 739.1 267.3 739.4 266.7 739.7 267.3 740.0 266.7 740.3 268.2 740.6 267.5 740.9 269.3 741.2 267.3 741.5 266.7 741.9 267.4 742.2 265.5 742.5 267.9 742.8 267.4 743.1 267.8 743.4 267.5 743.7 267.5 744.0 268.2 744.3 267.9 744.7 265.7 745.0 267.3 745.3 266.5 745.6 268.0 745.9 267.2 746.2 266.7 746.5 267.2 746.8 267.5 747.1 267.2 747.5 267.1 747.8 266.5 748.1 266.2 748.4 268.0 748.7 268.5 749.0 267.2 749.3 267.0 749.6 266.5 749.9 266.2 750.3 267.5 750.6 265.5 750.9 266.8 751.2 268.2 751.5 266.3 751.8 266.8 752.1 266.7 752.4 268.1 752.7 267.1" stroke="#e53935" stroke-width="0.75" fill="none" stroke-linejoin="round" clip-path="url(#c16)"/>
<path d="M662.9 265.4 663.2 265.9 663.5 265.8 663.8 265.4 664.1 266.5 664.5 267.2 664.8 267.1 665.1 266.3 665.4 266.6 665.7 267.6 666.0 266.2 666.3 266.9 666.6 266.2 666.9 266.6 667.3 267.5 667.6 267.3 667.9 267.9 668.2 268.0 668.5 267.8 668.8 267.5 669.1 267.1 669.4 268.3 669.7 267.5 670.0 267.8 670.4 268.0 670.7 267.3 671.0 268.1 671.3 267.2 671.6 268.1 671.9 268.4 672.2 267.6 672.5 268.7 672.8 268.6 673.2 268.1 673.5 268.0 673.8 268.2 674.1 269.1 674.4 268.8 674.7 267.8 675.0 267.8 675.3 268.6 675.6 268.0 676.0 268.0 676.3 267.6 676.6 268.6 676.9 267.4 677.2 268.4 677.5 267.4 677.8 267.7 678.1 268.8 678.4 268.4 678.8 268.1 679.1 267.7 679.4 269.0 679.7 268.6 680.0 268.0 680.3 268.1 680.6 268.9 680.9 268.8 681.2 268.2 681.6 268.9 681.9 268.3 682.2 267.9 682.5 268.4 682.8 269.9 683.1 267.8 683.4 267.9 683.7 267.7 684.0 268.1 684.3 269.4 684.7 267.8 685.0 268.4 685.3 268.1 685.6 268.7 685.9 268.7 686.2 268.7 686.5 267.8 686.8 268.5 687.1 268.8 687.5 269.4 687.8 268.4 688.1 268.7 688.4 268.6 688.7 268.1 689.0 268.3 689.3 268.7 689.6 268.5 689.9 268.6 690.3 268.2 690.6 268.3 690.9 268.5 691.2 269.1 691.5 268.1 691.8 268.1 692.1 269.2 692.4 268.4 692.7 268.8 693.1 269.7 693.4 268.6 693.7 268.0 694.0 268.9 694.3 268.9 694.6 268.0 694.9 269.1 695.2 269.0 695.5 268.7 695.9 268.1 696.2 268.1 696.5 268.7 696.8 268.6 697.1 268.4 697.4 268.6 697.7 268.9 698.0 269.0 698.3 268.0 698.6 268.5 699.0 266.9 699.3 268.1 699.6 268.8 699.9 268.4 700.2 268.2 700.5 268.1 700.8 268.1 701.1 268.1 701.4 268.4 701.8 268.0 702.1 267.1 702.4 268.5 702.7 268.5 703.0 267.9 703.3 267.6 703.6 267.8 703.9 267.6 704.2 268.3 704.6 268.4 704.9 267.9 705.2 267.9 705.5 267.3 705.8 267.4 706.1 269.2 706.4 267.8 706.7 268.5 707.0 269.3 707.4 268.0 707.7 268.2 708.0 268.3 708.3 268.8 708.6 268.7 708.9 268.2 709.2 268.9 709.5 268.2 709.8 268.0 710.2 268.2 710.5 267.9 710.8 268.1 711.1 268.7 711.4 268.6 711.7 268.0 712.0 267.5 712.3 268.0 712.6 268.3 712.9 267.9 713.3 269.0 713.6 268.5 713.9 268.2 714.2 268.0 714.5 268.2 714.8 268.1 715.1 268.6 715.4 268.3 715.7 267.8 716.1 268.9 716.4 268.6 716.7 268.1 717.0 267.1 717.3 267.5 717.6 267.1 717.9 267.2 718.2 268.1 718.5 267.9 718.9 268.5 719.2 267.2 719.5 267.5 719.8 267.5 720.1 267.5 720.4 267.6 720.7 267.7 721.0 267.7 721.3 267.1 721.7 268.2 722.0 268.3 722.3 267.8 722.6 267.1 722.9 267.6 723.2 267.9 723.5 267.3 723.8 267.7 724.1 268.7 724.4 268.2 724.8 268.8 725.1 267.8 725.4 267.9 725.7 267.4 726.0 266.5 726.3 268.0 726.6 267.6 726.9 267.8 727.2 269.1 727.6 268.0 727.9 268.0 728.2 267.5 728.5 268.0 728.8 268.3 729.1 267.3 729.4 267.6 729.7 268.0 730.0 268.0 730.4 267.7 730.7 267.1 731.0 266.8 731.3 268.2 731.6 266.9 731.9 267.5 732.2 267.3 732.5 267.0 732.8 268.0 733.2 267.0 733.5 268.2 733.8 267.7 734.1 267.9 734.4 266.5 734.7 266.5 735.0 267.0 735.3 267.1 735.6 267.7 736.0 266.5 736.3 266.6 736.6 266.9 736.9 267.4 737.2 267.5 737.5 267.4 737.8 266.6 738.1 267.8 738.4 267.3 738.7 266.4 739.1 266.8 739.4 266.4 739.7 267.1 740.0 267.0 740.3 266.5 740.6 266.9 740.9 267.1 741.2 267.5 741.5 268.0 741.9 266.4 742.2 267.4 742.5 267.6 742.8 266.7 743.1 267.6 743.4 267.9 743.7 267.5 744.0 267.2 744.3 267.0 744.7 266.9 745.0 266.6 745.3 267.2 745.6 266.9 745.9 267.2 746.2 267.4 746.5 266.9 746.8 266.9 747.1 266.1 747.5 266.7 747.8 267.4 748.1 266.7 748.4 267.2 748.7 266.2 749.0 267.9 749.3 267.3 749.6 267.3 749.9 266.9 750.3 267.0 750.6 267.8 750.9 267.9 751.2 266.8 751.5 266.2 751.8 266.2 752.1 267.1 752.4 266.7 752.7 267.4" stroke="#111" stroke-width="0.6" fill="none" stroke-linejoin="round" clip-path="url(#c16)"/>
<rect x="662.9" y="231.5" width="89.90" height="39.90" fill="none" stroke="#707070" stroke-width="0.8"/>
<path d="M662.90 271.40v1.2M675.33 271.40v1.2M687.77 271.40v1.2M700.20 271.40v1.2M712.64 271.40v1.2M725.07 271.40v1.2M737.51 271.40v1.2M749.94 271.40v1.2" stroke="#555" stroke-width="0.45" fill="none"/>
<text x="662.90" y="277.40" font-size="4.8" style="fill:#333" text-anchor="middle" xml:space="preserve">2</text>
<text x="675.33" y="277.40" font-size="4.8" style="fill:#333" text-anchor="middle" xml:space="preserve">3</text>
<text x="687.77" y="277.40" font-size="4.8" style="fill:#333" text-anchor="middle" xml:space="preserve">4</text>
<text x="700.20" y="277.40" font-size="4.8" style="fill:#333" text-anchor="middle" xml:space="preserve">5</text>
<text x="712.64" y="277.40" font-size="4.8" style="fill:#333" text-anchor="middle" xml:space="preserve">6</text>
<text x="725.07" y="277.40" font-size="4.8" style="fill:#333" text-anchor="middle" xml:space="preserve">7</text>
<text x="737.51" y="277.40" font-size="4.8" style="fill:#333" text-anchor="middle" xml:space="preserve">8</text>
<text x="749.94" y="277.40" font-size="4.8" style="fill:#333" text-anchor="middle" xml:space="preserve">9</text>
<text x="661.30" y="237.12" font-size="4.5" textLength="9.40" lengthAdjust="spacingAndGlyphs" style="fill:#333" text-anchor="end" xml:space="preserve">0.20</text>
<text x="661.30" y="246.06" font-size="4.5" textLength="9.40" lengthAdjust="spacingAndGlyphs" style="fill:#333" text-anchor="end" xml:space="preserve">0.15</text>
<text x="661.30" y="255.01" font-size="4.5" textLength="9.40" lengthAdjust="spacingAndGlyphs" style="fill:#333" text-anchor="end" xml:space="preserve">0.10</text>
<text x="661.30" y="263.95" font-size="4.5" textLength="9.40" lengthAdjust="spacingAndGlyphs" style="fill:#333" text-anchor="end" xml:space="preserve">0.05</text>
<text x="661.30" y="272.90" font-size="4.5" textLength="9.40" lengthAdjust="spacingAndGlyphs" style="fill:#333" text-anchor="end" xml:space="preserve">0.00</text>
<path d="M662.90 271.40h-1.2M662.90 262.45h-1.2M662.90 253.51h-1.2M662.90 244.56h-1.2M662.90 235.62h-1.2" stroke="#555" stroke-width="0.45" fill="none"/>
<rect x="728.2" y="232.6" width="22" height="12.8" rx="0.8" fill="#fff" fill-opacity="0.9" stroke="#e0e0e0" stroke-width="0.4"/>
<path d="M729.8 235.90h8" stroke="#f08080" stroke-width="0.8"/>
<text x="740.80" y="237.40" font-size="4.3" textLength="8.50" lengthAdjust="spacingAndGlyphs" style="fill:#333" text-anchor="start" xml:space="preserve">SC3</text>
<path d="M729.8 241.80h8" stroke="#333" stroke-width="0.8"/>
<text x="740.80" y="243.30" font-size="4.3" textLength="8.50" lengthAdjust="spacingAndGlyphs" style="fill:#333" text-anchor="start" xml:space="preserve">SEP</text>
<clipPath id="c17"><rect x="755.80" y="106.10" width="89.80" height="39.60"/></clipPath>
<rect x="755.8" y="106.1" width="89.80" height="39.60" fill="#fff"/>
<path d="M768.22 106.10V145.70M780.64 106.10V145.70M793.06 106.10V145.70M805.48 106.10V145.70M817.90 106.10V145.70M830.32 106.10V145.70M842.74 106.10V145.70M755.80 135.80H845.60M755.80 125.90H845.60M755.80 116.00H845.60" stroke="#666" stroke-width="0.42" stroke-dasharray="0.9,0.45" fill="none"/>
<path d="M755.8 134.6 756.8 133.5 757.8 132.5 758.8 131.5 759.8 130.6 760.8 129.7 761.8 128.9 762.8 128.1 763.7 127.4 764.7 126.7 765.7 126.1 766.7 125.4 767.7 124.9 768.7 124.3 769.7 123.8 770.7 123.4 771.7 123.0 772.7 122.7 773.7 122.3 774.7 121.9 775.7 121.6 776.7 121.3 777.7 121.0 778.7 120.8 779.6 120.7 780.6 120.6 781.6 120.6 782.6 120.7 783.6 120.9 784.6 121.0 785.6 121.2 786.6 121.5 787.6 121.7 788.6 122.0 789.6 122.2 790.6 122.4 791.6 122.7 792.6 123.0 793.6 123.3 794.6 123.6 795.5 123.9 796.5 124.3 797.5 124.6 798.5 124.9 799.5 125.2 800.5 125.5 801.5 125.8 802.5 126.1 803.5 126.3 804.5 126.6 805.5 126.8 806.5 127.0 807.5 127.2 808.5 127.4 809.5 127.6 810.5 127.7 811.4 127.9 812.4 128.1 813.4 128.3 814.4 128.5 815.4 128.7 816.4 128.9 817.4 129.1 818.4 129.3 819.4 129.5 820.4 129.7 821.4 129.9 822.4 130.1 823.4 130.3 824.4 130.5 825.4 130.7 826.3 130.9 827.3 131.1 828.3 131.3 829.3 131.5 830.3 131.7 831.3 131.9 832.3 132.1 833.3 132.3 834.3 132.4 835.3 132.6 836.3 132.8 837.3 133.0 838.3 133.2 839.3 133.4 840.3 133.6 841.3 133.8 842.2 134.0 843.2 134.2 844.2 134.4 845.2 134.6" stroke="#6aaad9" stroke-width="0.8" fill="none" stroke-linejoin="round" clip-path="url(#c17)"/>
<path d="M759.8 106.0 760.1 107.1 760.5 107.5 760.9 108.1 761.3 108.8 761.6 110.0 762.0 111.9 762.4 111.5 762.7 113.5 763.1 114.0 763.5 116.0 763.9 118.2 764.2 120.1 764.6 119.7 765.0 121.7 765.4 121.9 765.7 122.0 766.1 124.3 766.5 125.1 766.8 124.3 767.2 125.9 767.6 128.1 768.0 130.0 768.3 132.5 768.7 133.3 769.1 135.5 769.5 136.3 769.8 137.6 770.2 140.2 770.6 141.2 770.9 143.0 771.3 143.4 771.7 143.0 772.1 143.7 772.4 143.8 772.8 143.8 773.2 144.8 773.6 144.6 773.9 144.2 774.3 143.0 774.7 142.4 775.0 141.2 775.4 143.0 775.8 141.2 776.2 140.7 776.5 138.3 776.9 137.5 777.3 134.8 777.7 136.7 778.0 139.6 778.4 140.3 778.8 141.7 779.1 142.2 779.5 143.1 779.9 143.8 780.3 144.2 780.6 143.9 781.0 144.3 781.4 143.5 781.8 141.6 782.1 137.7 782.5 136.5 782.9 134.3 783.2 132.2 783.6 131.4 784.0 129.2 784.4 129.7 784.7 129.7 785.1 132.4 785.5 133.7 785.9 134.7 786.2 132.9 786.6 132.2 787.0 131.4 787.3 128.4 787.7 129.1 788.1 128.0 788.5 127.2 788.8 127.2 789.2 126.1 789.6 125.4 789.9 125.4 790.3 124.3 790.7 125.3 791.1 125.5 791.4 124.6 791.8 125.2 792.2 124.2 792.6 124.4 792.9 124.6 793.3 123.7 793.7 123.7 794.0 126.1 794.4 124.3 794.8 123.9 795.2 123.7 795.5 124.4 795.9 124.8 796.3 124.0 796.7 123.6 797.0 125.5 797.4 125.1 797.8 124.5 798.1 125.8 798.5 124.5 798.9 123.5 799.3 125.0 799.6 124.3 800.0 125.1 800.4 124.4 800.8 124.4 801.1 124.1 801.5 125.1 801.9 124.5 802.2 125.1 802.6 125.9 803.0 124.9 803.4 126.7 803.7 126.7 804.1 125.5 804.5 127.1 804.9 128.7 805.2 128.4 805.6 129.6 806.0 130.2 806.3 131.9 806.7 131.6 807.1 133.6 807.5 133.2 807.8 133.6 808.2 133.6 808.6 132.9 809.0 135.9 809.3 135.9 809.7 135.3 810.1 134.5 810.4 132.9 810.8 133.2 811.2 132.8 811.6 133.1 811.9 134.7 812.3 136.4 812.7 138.0 813.1 140.9 813.4 141.9 813.8 143.4 814.2 142.4 814.5 141.7 814.9 138.5 815.3 137.7 815.7 139.7 816.0 142.4 816.4 144.2 816.8 141.3 817.1 139.0 817.5 136.1 817.9 131.5 818.3 129.3 818.6 128.0 819.0 126.1 819.4 125.0 819.8 124.9 820.1 121.9 820.5 122.3 820.9 122.0 821.2 121.1 821.6 121.7 822.0 120.9 822.4 121.8 822.7 122.0 823.1 122.1 823.5 121.6 823.9 122.6 824.2 121.7 824.6 122.1 825.0 122.6 825.3 124.1 825.7 124.4 826.1 122.7 826.5 124.1 826.8 122.8 827.2 124.6 827.6 124.1 828.0 125.7 828.3 125.5 828.7 125.5 829.1 125.3 829.4 124.9 829.8 125.7 830.2 127.7 830.6 127.0 830.9 127.5 831.3 128.1 831.7 127.6 832.1 127.3 832.4 129.0 832.8 128.3 833.2 128.4 833.5 130.6 833.9 129.1 834.3 129.6 834.7 131.0 835.0 130.4 835.4 131.9 835.8 131.7 836.2 132.5 836.5 134.0 836.9 133.7 837.3 134.4 837.6 135.1 838.0 136.0 838.4 136.2 838.8 137.0 839.1 135.8 839.5 138.4 839.9 137.3 840.3 138.1 840.6 138.9 841.0 137.8 841.4 139.2 841.7 138.2 842.1 139.4 842.5 139.4 842.9 140.0 843.2 139.8 843.6 139.9 844.0 141.2 844.4 141.2 844.7 140.3 845.1 142.3" stroke="#111" stroke-width="1.0" fill="none" stroke-linejoin="round" clip-path="url(#c17)"/>
<path d="M759.8 105.8 760.1 106.9 760.5 107.3 760.9 107.9 761.3 108.6 761.6 109.8 762.0 111.7 762.4 111.3 762.7 113.3 763.1 113.8 763.5 115.8 763.9 118.0 764.2 119.9 764.6 119.5 765.0 121.5 765.4 121.7 765.7 121.8 766.1 124.1 766.5 124.9 766.8 124.1 767.2 125.7 767.6 127.9 768.0 129.8 768.3 132.3 768.7 133.1 769.1 135.3 769.5 136.1 769.8 137.4 770.2 140.0 770.6 141.0 770.9 142.8 771.3 143.2 771.7 142.8 772.1 143.5 772.4 143.6 772.8 143.6 773.2 144.6 773.6 144.4 773.9 144.0 774.3 142.8 774.7 142.2 775.0 141.0 775.4 142.8 775.8 141.0 776.2 140.5 776.5 138.1 776.9 137.3 777.3 134.6 777.7 136.5 778.0 139.4 778.4 140.1 778.8 141.5 779.1 142.0 779.5 142.9 779.9 143.6 780.3 144.0 780.6 143.7 781.0 144.2 781.4 143.3 781.8 141.4 782.1 137.5 782.5 136.3 782.9 134.1 783.2 132.0 783.6 131.2 784.0 129.0 784.4 129.6 784.7 129.5 785.1 132.2 785.5 133.5 785.9 134.5 786.2 132.7 786.6 132.0 787.0 131.2 787.3 128.2 787.7 128.9 788.1 127.8 788.5 127.0 788.8 127.0 789.2 125.9 789.6 125.2 789.9 125.2 790.3 124.1 790.7 125.1 791.1 125.3 791.4 124.4 791.8 125.0 792.2 124.0 792.6 124.2 792.9 124.4 793.3 123.5 793.7 123.5 794.0 125.9 794.4 124.1 794.8 123.8 795.2 123.5 795.5 124.2 795.9 124.6 796.3 123.8 796.7 123.4 797.0 125.3 797.4 124.9 797.8 124.3 798.1 125.6 798.5 124.3 798.9 123.3 799.3 124.8 799.6 124.1 800.0 124.9 800.4 124.2 800.8 124.2 801.1 123.9 801.5 124.9 801.9 124.3 802.2 124.9 802.6 125.7 803.0 124.7 803.4 126.6 803.7 126.5 804.1 125.3 804.5 126.9 804.9 128.5 805.2 128.2 805.6 129.4 806.0 130.0 806.3 131.7 806.7 131.4 807.1 133.4 807.5 133.0 807.8 133.4 808.2 133.4 808.6 132.7 809.0 135.7 809.3 135.7 809.7 135.1 810.1 134.3 810.4 132.7 810.8 133.0 811.2 132.6 811.6 132.9 811.9 134.5 812.3 136.2 812.7 137.8 813.1 140.7 813.4 141.7 813.8 143.2 814.2 142.2 814.5 141.5 814.9 138.3 815.3 137.5 815.7 139.5 816.0 142.2 816.4 144.0 816.8 141.1 817.1 138.8 817.5 135.9 817.9 131.3 818.3 129.1 818.6 127.8 819.0 125.9 819.4 124.8 819.8 124.7 820.1 121.7 820.5 122.1 820.9 121.8 821.2 120.9 821.6 121.6 822.0 120.7 822.4 121.6 822.7 121.8 823.1 121.9 823.5 121.4 823.9 122.4 824.2 121.5 824.6 121.9 825.0 122.5 825.3 123.9 825.7 124.2 826.1 122.5 826.5 123.9 826.8 122.6 827.2 124.4 827.6 123.9 828.0 125.5 828.3 125.3 828.7 125.3 829.1 125.1 829.4 124.7 829.8 125.5 830.2 127.5 830.6 126.8 830.9 127.3 831.3 127.9 831.7 127.4 832.1 127.1 832.4 128.8 832.8 128.1 833.2 128.2 833.5 130.4 833.9 128.9 834.3 129.4 834.7 130.8 835.0 130.2 835.4 131.7 835.8 131.5 836.2 132.3 836.5 133.8 836.9 133.5 837.3 134.2 837.6 134.9 838.0 135.8 838.4 136.0 838.8 136.8 839.1 135.6 839.5 138.2 839.9 137.1 840.3 137.9 840.6 138.7 841.0 137.6 841.4 139.0 841.7 138.0 842.1 139.2 842.5 139.2 842.9 139.8 843.2 139.6 843.6 139.7 844.0 141.0 844.4 141.0 844.7 140.1 845.1 142.1" stroke="#c62828" stroke-width="0.4" stroke-opacity="0.55" fill="none" stroke-linejoin="round" clip-path="url(#c17)"/>
<rect x="755.8" y="106.1" width="89.80" height="39.60" fill="none" stroke="#666" stroke-width="0.8"/>
<clipPath id="c18"><rect x="755.80" y="148.40" width="89.80" height="39.10"/></clipPath>
<rect x="755.8" y="148.4" width="89.80" height="39.10" fill="#f7f7f7"/>
<rect x="755.8" y="160.84" width="89.80" height="17.77" fill="#e0e0e0"/>
<rect x="755.8" y="148.4" width="89.80" height="12.44" fill="#c4c4c4"/>
<path d="M768.22 148.40V187.50M780.64 148.40V187.50M793.06 148.40V187.50M805.48 148.40V187.50M817.90 148.40V187.50M830.32 148.40V187.50M842.74 148.40V187.50M755.80 178.61H845.60M755.80 169.73H845.60M755.80 160.84H845.60M755.80 151.95H845.60" stroke="#555" stroke-width="0.45" stroke-dasharray="0.9,0.45" fill="none"/>
<path d="M755.8 182.3 756.1 183.0 756.4 181.6 756.7 181.0 757.0 183.2 757.4 184.0 757.7 181.4 758.0 183.0 758.3 183.4 758.6 183.8 758.9 183.6 759.2 183.8 759.5 181.5 759.8 184.0 760.1 182.9 760.5 183.8 760.8 182.6 761.1 183.2 761.4 183.2 761.7 184.4 762.0 184.4 762.3 182.0 762.6 183.8 762.9 182.9 763.3 184.4 763.6 183.4 763.9 182.6 764.2 183.9 764.5 183.0 764.8 184.3 765.1 183.7 765.4 184.4 765.7 183.3 766.0 183.8 766.4 184.1 766.7 184.8 767.0 183.3 767.3 182.7 767.6 183.4 767.9 184.4 768.2 184.8 768.5 184.3 768.8 184.5 769.2 184.3 769.5 184.5 769.8 183.2 770.1 183.6 770.4 184.1 770.7 183.1 771.0 182.9 771.3 184.7 771.6 184.7 771.9 182.9 772.3 184.5 772.6 184.1 772.9 184.5 773.2 183.0 773.5 184.7 773.8 184.6 774.1 184.6 774.4 183.2 774.7 184.2 775.1 183.2 775.4 184.5 775.7 181.9 776.0 184.5 776.3 184.4 776.6 183.9 776.9 184.8 777.2 184.5 777.5 183.3 777.8 182.5 778.2 182.9 778.5 182.4 778.8 183.8 779.1 184.0 779.4 184.3 779.7 184.3 780.0 183.7 780.3 184.4 780.6 183.6 781.0 183.3 781.3 183.9 781.6 184.3 781.9 184.1 782.2 184.5 782.5 183.4 782.8 182.6 783.1 183.7 783.4 184.4 783.7 183.8 784.1 183.0 784.4 183.1 784.7 183.6 785.0 183.4 785.3 184.2 785.6 182.8 785.9 183.2 786.2 183.2 786.5 183.0 786.9 183.5 787.2 183.5 787.5 183.3 787.8 181.5 788.1 182.3 788.4 183.8 788.7 183.2 789.0 183.7 789.3 184.1 789.6 183.1 790.0 183.6 790.3 183.0 790.6 183.5 790.9 183.8 791.2 182.8 791.5 181.9 791.8 180.5 792.1 183.7 792.4 183.8 792.8 181.9 793.1 182.9 793.4 183.8 793.7 183.5 794.0 183.0 794.3 183.2 794.6 183.4 794.9 182.6 795.2 183.4 795.5 183.9 795.9 180.1 796.2 183.1 796.5 182.5 796.8 183.1 797.1 183.7 797.4 182.1 797.7 183.6 798.0 182.9 798.3 183.2 798.7 183.5 799.0 182.5 799.3 182.0 799.6 183.3 799.9 181.1 800.2 182.1 800.5 181.1 800.8 180.0 801.1 180.8 801.4 178.3 801.8 177.8 802.1 178.9 802.4 177.9 802.7 176.8 803.0 179.6 803.3 174.2 803.6 175.4 803.9 178.3 804.2 179.0 804.6 179.4 804.9 177.3 805.2 175.8 805.5 175.1 805.8 175.2 806.1 176.6 806.4 179.7 806.7 180.4 807.0 181.8 807.3 180.3 807.7 180.7 808.0 181.2 808.3 180.7 808.6 182.8 808.9 183.5 809.2 183.4 809.5 181.0 809.8 182.6 810.1 182.9 810.5 182.1 810.8 182.2 811.1 180.6 811.4 182.3 811.7 182.2 812.0 181.2 812.3 181.6 812.6 181.3 812.9 180.7 813.2 181.1 813.6 180.2 813.9 181.6 814.2 181.1 814.5 182.4 814.8 182.4 815.1 183.1 815.4 183.6 815.7 182.5 816.0 183.9 816.3 183.6 816.7 182.4 817.0 183.5 817.3 183.2 817.6 183.5 817.9 183.6 818.2 182.3 818.5 181.6 818.8 181.9 819.1 181.7 819.5 174.4 819.8 171.9 820.1 177.1 820.4 168.8 820.7 156.8 821.0 167.9 821.3 161.0 821.6 176.9 821.9 172.7 822.2 167.3 822.6 175.8 822.9 179.5 823.2 179.5 823.5 176.8 823.8 179.0 824.1 178.2 824.4 176.0 824.7 173.7 825.0 179.3 825.4 175.5 825.7 176.3 826.0 178.5 826.3 180.6 826.6 180.8 826.9 181.2 827.2 181.2 827.5 182.1 827.8 182.7 828.1 183.1 828.5 183.1 828.8 182.5 829.1 183.3 829.4 182.9 829.7 183.7 830.0 183.7 830.3 183.4 830.6 183.1 830.9 181.8 831.3 183.8 831.6 183.0 831.9 181.2 832.2 182.3 832.5 183.6 832.8 183.9 833.1 182.5 833.4 183.8 833.7 182.1 834.0 182.7 834.4 183.8 834.7 183.9 835.0 183.2 835.3 183.4 835.6 182.3 835.9 182.3 836.2 183.3 836.5 183.2 836.8 183.8 837.2 182.7 837.5 182.2 837.8 182.0 838.1 183.0 838.4 183.3 838.7 182.2 839.0 182.4 839.3 182.5 839.6 183.5 839.9 183.1 840.3 182.9 840.6 183.3 840.9 183.4 841.2 182.5 841.5 183.9 841.8 183.5 842.1 183.7 842.4 183.5 842.7 183.3 843.1 183.7 843.4 181.0 843.7 183.5 844.0 183.8 844.3 183.5 844.6 183.5 844.9 182.7 845.2 183.3 845.5 183.6" stroke="#e53935" stroke-width="0.8" fill="none" stroke-linejoin="round" clip-path="url(#c18)"/>
<path d="M755.8 183.4 756.1 182.7 756.4 183.8 756.7 183.8 757.0 183.2 757.4 182.7 757.7 183.9 758.0 184.0 758.3 184.0 758.6 184.0 758.9 183.2 759.2 183.6 759.5 184.2 759.8 183.1 760.1 183.4 760.5 183.5 760.8 183.9 761.1 183.8 761.4 183.6 761.7 184.4 762.0 183.9 762.3 184.4 762.6 183.9 762.9 184.5 763.3 184.5 763.6 184.5 763.9 184.6 764.2 184.4 764.5 183.9 764.8 184.6 765.1 184.5 765.4 184.1 765.7 184.1 766.0 184.8 766.4 183.8 766.7 184.8 767.0 183.9 767.3 184.8 767.6 184.6 767.9 184.9 768.2 184.6 768.5 184.8 768.8 184.7 769.2 184.4 769.5 184.7 769.8 184.8 770.1 184.5 770.4 182.6 770.7 184.8 771.0 183.9 771.3 184.1 771.6 184.4 771.9 184.0 772.3 184.1 772.6 184.2 772.9 184.9 773.2 184.4 773.5 184.7 773.8 184.7 774.1 184.2 774.4 184.7 774.7 184.6 775.1 183.8 775.4 183.8 775.7 184.6 776.0 183.5 776.3 184.1 776.6 184.0 776.9 184.5 777.2 184.3 777.5 184.5 777.8 183.6 778.2 184.7 778.5 184.5 778.8 184.2 779.1 183.9 779.4 182.6 779.7 184.7 780.0 184.5 780.3 184.5 780.6 183.9 781.0 184.0 781.3 183.3 781.6 184.2 781.9 184.3 782.2 182.9 782.5 184.5 782.8 183.9 783.1 184.4 783.4 184.0 783.7 183.9 784.1 184.4 784.4 184.2 784.7 184.0 785.0 183.6 785.3 184.4 785.6 184.3 785.9 184.0 786.2 184.0 786.5 184.0 786.9 183.8 787.2 183.7 787.5 183.8 787.8 183.9 788.1 184.1 788.4 183.6 788.7 183.1 789.0 183.9 789.3 183.4 789.6 184.0 790.0 183.2 790.3 183.9 790.6 182.3 790.9 182.8 791.2 182.9 791.5 183.2 791.8 183.2 792.1 183.4 792.4 183.0 792.8 183.1 793.1 183.0 793.4 183.8 793.7 183.8 794.0 183.0 794.3 183.7 794.6 183.7 794.9 183.4 795.2 183.7 795.5 183.0 795.9 183.5 796.2 183.8 796.5 182.9 796.8 183.6 797.1 183.0 797.4 183.7 797.7 183.0 798.0 183.4 798.3 183.2 798.7 182.8 799.0 183.5 799.3 182.8 799.6 183.1 799.9 182.5 800.2 182.3 800.5 181.8 800.8 182.9 801.1 179.4 801.4 181.3 801.8 181.7 802.1 180.0 802.4 178.7 802.7 179.9 803.0 176.3 803.3 178.1 803.6 180.3 803.9 177.6 804.2 180.3 804.6 178.2 804.9 176.2 805.2 177.2 805.5 180.3 805.8 179.5 806.1 179.5 806.4 179.2 806.7 182.8 807.0 182.7 807.3 181.1 807.7 182.1 808.0 181.4 808.3 182.0 808.6 182.4 808.9 183.0 809.2 183.3 809.5 182.7 809.8 183.3 810.1 183.7 810.5 183.0 810.8 183.3 811.1 182.3 811.4 183.4 811.7 181.8 812.0 181.4 812.3 180.9 812.6 179.8 812.9 180.6 813.2 180.9 813.6 181.5 813.9 181.7 814.2 181.5 814.5 183.0 814.8 182.3 815.1 183.5 815.4 183.8 815.7 183.6 816.0 183.8 816.3 183.6 816.7 183.8 817.0 183.1 817.3 183.6 817.6 182.7 817.9 183.5 818.2 182.2 818.5 181.9 818.8 181.9 819.1 177.1 819.5 179.7 819.8 173.8 820.1 175.6 820.4 174.9 820.7 175.8 821.0 175.6 821.3 159.3 821.6 161.8 821.9 168.5 822.2 166.5 822.6 173.6 822.9 176.2 823.2 177.9 823.5 175.8 823.8 175.0 824.1 175.6 824.4 179.6 824.7 178.8 825.0 181.3 825.4 177.0 825.7 179.0 826.0 180.1 826.3 181.4 826.6 181.6 826.9 182.2 827.2 181.4 827.5 182.5 827.8 182.4 828.1 183.5 828.5 182.9 828.8 183.8 829.1 182.4 829.4 183.0 829.7 183.6 830.0 183.6 830.3 183.3 830.6 183.1 830.9 183.7 831.3 183.4 831.6 183.7 831.9 183.1 832.2 183.5 832.5 183.6 832.8 183.6 833.1 183.1 833.4 183.6 833.7 182.2 834.0 183.6 834.4 183.8 834.7 183.8 835.0 181.9 835.3 183.0 835.6 183.8 835.9 183.7 836.2 183.6 836.5 183.4 836.8 183.6 837.2 183.6 837.5 183.6 837.8 182.9 838.1 183.3 838.4 183.3 838.7 183.9 839.0 182.3 839.3 183.9 839.6 183.9 839.9 183.5 840.3 182.6 840.6 183.3 840.9 182.8 841.2 183.9 841.5 183.8 841.8 183.4 842.1 183.9 842.4 182.6 842.7 183.3 843.1 183.8 843.4 182.5 843.7 183.9 844.0 183.8 844.3 183.1 844.6 183.9 844.9 183.5 845.2 183.9 845.5 183.9" stroke="#111" stroke-width="0.6" fill="none" stroke-linejoin="round" clip-path="url(#c18)"/>
<rect x="755.8" y="148.4" width="89.80" height="39.10" fill="none" stroke="#707070" stroke-width="0.8"/>
<clipPath id="c19"><rect x="755.80" y="189.60" width="89.80" height="39.30"/></clipPath>
<rect x="755.8" y="189.6" width="89.80" height="39.30" fill="#f7f7f7"/>
<rect x="755.8" y="202.10" width="89.80" height="17.86" fill="#e0e0e0"/>
<rect x="755.8" y="189.6" width="89.80" height="12.50" fill="#c4c4c4"/>
<path d="M768.22 189.60V228.90M780.64 189.60V228.90M793.06 189.60V228.90M805.48 189.60V228.90M817.90 189.60V228.90M830.32 189.60V228.90M842.74 189.60V228.90M755.80 219.97H845.60M755.80 211.04H845.60M755.80 202.10H845.60M755.80 193.17H845.60" stroke="#555" stroke-width="0.45" stroke-dasharray="0.9,0.45" fill="none"/>
<path d="M755.8 224.4 756.1 224.4 756.4 224.1 756.7 225.3 757.0 224.8 757.4 225.3 757.7 224.0 758.0 225.4 758.3 224.8 758.6 225.2 758.9 224.7 759.2 225.1 759.5 224.6 759.8 225.5 760.1 225.2 760.5 225.6 760.8 224.2 761.1 224.1 761.4 223.3 761.7 225.8 762.0 223.6 762.3 225.2 762.6 224.4 762.9 223.9 763.3 225.8 763.6 225.0 763.9 225.3 764.2 224.9 764.5 226.0 764.8 225.1 765.1 225.7 765.4 224.8 765.7 225.8 766.0 225.3 766.4 225.9 766.7 226.0 767.0 225.7 767.3 226.0 767.6 225.8 767.9 226.1 768.2 225.2 768.5 225.3 768.8 226.0 769.2 224.6 769.5 226.4 769.8 224.0 770.1 225.3 770.4 226.1 770.7 225.6 771.0 226.0 771.3 225.6 771.6 225.0 771.9 226.2 772.3 225.4 772.6 224.9 772.9 225.3 773.2 226.1 773.5 224.5 773.8 225.3 774.1 225.9 774.4 225.5 774.7 225.6 775.1 224.8 775.4 224.1 775.7 225.3 776.0 225.0 776.3 225.8 776.6 225.6 776.9 225.1 777.2 225.7 777.5 223.8 777.8 226.0 778.2 225.0 778.5 225.9 778.8 225.9 779.1 225.9 779.4 225.4 779.7 225.4 780.0 224.5 780.3 224.7 780.6 225.0 781.0 224.9 781.3 225.6 781.6 225.6 781.9 225.8 782.2 224.9 782.5 223.7 782.8 224.9 783.1 225.3 783.4 224.1 783.7 225.2 784.1 225.8 784.4 223.7 784.7 225.7 785.0 225.8 785.3 225.3 785.6 225.8 785.9 224.7 786.2 224.0 786.5 225.5 786.9 225.1 787.2 224.0 787.5 225.3 787.8 225.2 788.1 225.6 788.4 223.7 788.7 224.8 789.0 225.0 789.3 224.0 789.6 225.1 790.0 224.2 790.3 225.3 790.6 225.1 790.9 224.7 791.2 225.0 791.5 224.2 791.8 225.3 792.1 225.0 792.4 224.8 792.8 222.2 793.1 225.2 793.4 224.7 793.7 225.1 794.0 223.7 794.3 224.5 794.6 224.6 794.9 224.9 795.2 224.9 795.5 224.1 795.9 225.1 796.2 223.8 796.5 225.3 796.8 223.9 797.1 224.4 797.4 224.4 797.7 224.5 798.0 224.4 798.3 224.3 798.7 223.9 799.0 223.3 799.3 223.4 799.6 222.8 799.9 224.4 800.2 222.0 800.5 222.6 800.8 222.3 801.1 218.5 801.4 220.9 801.8 224.1 802.1 219.5 802.4 216.1 802.7 220.3 803.0 215.3 803.3 218.5 803.6 217.4 803.9 223.5 804.2 221.0 804.6 217.2 804.9 218.4 805.2 222.5 805.5 216.6 805.8 217.1 806.1 220.6 806.4 223.5 806.7 219.9 807.0 221.6 807.3 221.8 807.7 221.3 808.0 222.3 808.3 223.7 808.6 223.1 808.9 222.9 809.2 224.6 809.5 224.5 809.8 224.3 810.1 224.4 810.5 224.5 810.8 225.0 811.1 224.2 811.4 223.4 811.7 222.6 812.0 222.8 812.3 222.2 812.6 223.0 812.9 218.9 813.2 221.7 813.6 223.4 813.9 222.8 814.2 223.9 814.5 223.4 814.8 224.7 815.1 225.0 815.4 225.2 815.7 225.1 816.0 223.7 816.3 225.1 816.7 224.4 817.0 223.8 817.3 224.6 817.6 224.9 817.9 224.8 818.2 224.2 818.5 224.2 818.8 219.9 819.1 218.4 819.5 209.6 819.8 209.1 820.1 209.4 820.4 192.6 820.7 209.4 821.0 209.4 821.3 192.5 821.6 186.6 821.9 187.4 822.2 202.9 822.6 207.9 822.9 208.1 823.2 212.1 823.5 213.8 823.8 209.9 824.1 213.7 824.4 214.1 824.7 208.6 825.0 213.7 825.4 216.9 825.7 215.4 826.0 217.4 826.3 218.8 826.6 220.8 826.9 220.9 827.2 223.5 827.5 222.9 827.8 222.3 828.1 223.6 828.5 223.4 828.8 224.7 829.1 223.9 829.4 224.6 829.7 225.1 830.0 223.4 830.3 225.2 830.6 224.9 830.9 224.2 831.3 222.8 831.6 224.6 831.9 224.2 832.2 224.3 832.5 223.5 832.8 224.8 833.1 223.3 833.4 224.8 833.7 224.8 834.0 225.0 834.4 224.7 834.7 224.6 835.0 223.9 835.3 223.3 835.6 225.0 835.9 225.1 836.2 224.2 836.5 224.4 836.8 223.9 837.2 223.8 837.5 223.6 837.8 224.9 838.1 224.5 838.4 223.9 838.7 224.0 839.0 223.9 839.3 225.2 839.6 224.8 839.9 224.5 840.3 224.6 840.6 224.9 840.9 225.3 841.2 225.2 841.5 224.2 841.8 223.0 842.1 223.8 842.4 223.7 842.7 223.0 843.1 224.8 843.4 223.4 843.7 225.1 844.0 223.5 844.3 224.9 844.6 224.9 844.9 224.8 845.2 222.7 845.5 223.7" stroke="#e53935" stroke-width="0.8" fill="none" stroke-linejoin="round" clip-path="url(#c19)"/>
<path d="M755.8 225.3 756.1 224.0 756.4 225.3 756.7 225.2 757.0 225.3 757.4 224.6 757.7 225.1 758.0 225.2 758.3 224.8 758.6 224.7 758.9 224.6 759.2 225.0 759.5 225.3 759.8 225.3 760.1 225.4 760.5 224.6 760.8 225.6 761.1 225.0 761.4 225.7 761.7 224.1 762.0 225.2 762.3 225.6 762.6 225.7 762.9 225.9 763.3 225.7 763.6 225.2 763.9 226.0 764.2 224.9 764.5 225.5 764.8 224.9 765.1 225.3 765.4 225.6 765.7 225.6 766.0 225.8 766.4 225.5 766.7 226.2 767.0 225.8 767.3 225.5 767.6 225.6 767.9 226.0 768.2 226.1 768.5 225.5 768.8 226.2 769.2 225.8 769.5 225.1 769.8 226.2 770.1 225.6 770.4 226.3 770.7 225.6 771.0 226.0 771.3 226.0 771.6 225.7 771.9 225.7 772.3 226.2 772.6 225.9 772.9 225.9 773.2 225.3 773.5 225.6 773.8 225.8 774.1 226.0 774.4 225.1 774.7 225.5 775.1 226.0 775.4 224.7 775.7 225.0 776.0 224.9 776.3 225.6 776.6 225.5 776.9 224.9 777.2 225.7 777.5 225.4 777.8 225.1 778.2 226.0 778.5 225.0 778.8 224.7 779.1 224.6 779.4 225.8 779.7 225.3 780.0 225.8 780.3 225.9 780.6 225.9 781.0 225.4 781.3 225.8 781.6 225.2 781.9 225.7 782.2 225.1 782.5 225.9 782.8 225.4 783.1 224.6 783.4 224.9 783.7 225.8 784.1 224.6 784.4 224.9 784.7 224.9 785.0 225.4 785.3 224.7 785.6 225.2 785.9 225.6 786.2 225.4 786.5 225.6 786.9 225.6 787.2 224.6 787.5 225.4 787.8 225.3 788.1 225.6 788.4 225.4 788.7 225.0 789.0 225.6 789.3 224.5 789.6 224.9 790.0 224.7 790.3 225.2 790.6 224.8 790.9 224.9 791.2 225.0 791.5 224.6 791.8 225.0 792.1 224.7 792.4 225.2 792.8 225.0 793.1 225.2 793.4 224.8 793.7 224.6 794.0 223.6 794.3 223.4 794.6 225.0 794.9 225.3 795.2 225.2 795.5 225.1 795.9 224.3 796.2 225.3 796.5 225.0 796.8 225.2 797.1 225.3 797.4 225.0 797.7 223.6 798.0 224.3 798.3 224.9 798.7 224.2 799.0 224.5 799.3 223.7 799.6 224.8 799.9 223.8 800.2 222.9 800.5 222.3 800.8 222.5 801.1 223.4 801.4 222.2 801.8 218.8 802.1 223.6 802.4 219.3 802.7 216.6 803.0 217.9 803.3 219.2 803.6 220.3 803.9 216.2 804.2 216.5 804.6 217.1 804.9 215.6 805.2 218.2 805.5 216.5 805.8 218.7 806.1 218.0 806.4 221.1 806.7 217.2 807.0 220.1 807.3 220.7 807.7 223.6 808.0 223.4 808.3 224.2 808.6 224.1 808.9 223.7 809.2 224.4 809.5 224.9 809.8 224.7 810.1 224.4 810.5 224.9 810.8 225.0 811.1 225.1 811.4 223.6 811.7 222.1 812.0 221.5 812.3 222.4 812.6 222.7 812.9 220.7 813.2 221.4 813.6 222.1 813.9 222.4 814.2 223.7 814.5 223.8 814.8 224.8 815.1 224.1 815.4 224.7 815.7 224.8 816.0 224.8 816.3 224.9 816.7 224.5 817.0 225.1 817.3 224.9 817.6 224.9 817.9 224.7 818.2 223.7 818.5 223.9 818.8 217.9 819.1 212.7 819.5 211.7 819.8 210.5 820.1 202.4 820.4 211.3 820.7 194.9 821.0 202.4 821.3 194.1 821.6 198.0 821.9 181.7 822.2 210.6 822.6 206.1 822.9 211.8 823.2 205.2 823.5 208.9 823.8 219.6 824.1 217.7 824.4 212.2 824.7 216.9 825.0 213.8 825.4 216.3 825.7 219.8 826.0 219.4 826.3 218.9 826.6 221.0 826.9 221.3 827.2 222.5 827.5 223.2 827.8 223.2 828.1 223.9 828.5 224.0 828.8 224.9 829.1 224.8 829.4 224.5 829.7 225.2 830.0 224.8 830.3 224.7 830.6 223.9 830.9 225.1 831.3 225.1 831.6 224.8 831.9 225.3 832.2 224.7 832.5 224.6 832.8 224.8 833.1 224.7 833.4 224.4 833.7 224.9 834.0 224.8 834.4 224.1 834.7 224.4 835.0 225.1 835.3 225.3 835.6 224.6 835.9 223.8 836.2 224.9 836.5 225.3 836.8 224.7 837.2 225.1 837.5 224.0 837.8 225.1 838.1 223.8 838.4 224.6 838.7 224.6 839.0 225.1 839.3 225.0 839.6 224.5 839.9 225.1 840.3 224.9 840.6 224.6 840.9 225.1 841.2 225.2 841.5 223.7 841.8 225.2 842.1 224.9 842.4 224.9 842.7 225.1 843.1 224.4 843.4 225.3 843.7 224.8 844.0 224.7 844.3 223.8 844.6 225.1 844.9 224.2 845.2 225.2 845.5 224.3" stroke="#111" stroke-width="0.6" fill="none" stroke-linejoin="round" clip-path="url(#c19)"/>
<rect x="755.8" y="189.6" width="89.80" height="39.30" fill="none" stroke="#707070" stroke-width="0.8"/>
<clipPath id="c20"><rect x="755.80" y="231.50" width="89.80" height="39.90"/></clipPath>
<rect x="755.8" y="231.5" width="89.80" height="39.90" fill="#fff"/>
<path d="M768.22 231.50V271.40M780.64 231.50V271.40M793.06 231.50V271.40M805.48 231.50V271.40M817.90 231.50V271.40M830.32 231.50V271.40M842.74 231.50V271.40M755.80 262.45H845.60M755.80 253.51H845.60M755.80 244.56H845.60M755.80 235.62H845.60" stroke="#666" stroke-width="0.42" stroke-dasharray="0.9,0.45" fill="none"/>
<path d="M755.8 260.9 756.1 261.8 756.4 262.0 756.7 262.3 757.0 262.7 757.4 262.5 757.7 262.8 758.0 263.6 758.3 264.3 758.6 262.9 758.9 264.7 759.2 265.2 759.5 263.3 759.8 265.1 760.1 265.6 760.5 266.7 760.8 266.8 761.1 265.1 761.4 266.4 761.7 265.5 762.0 267.1 762.3 265.9 762.6 266.4 762.9 266.9 763.3 268.0 763.6 265.8 763.9 266.8 764.2 267.0 764.5 266.4 764.8 267.9 765.1 266.2 765.4 266.7 765.7 267.0 766.0 267.1 766.4 268.0 766.7 267.8 767.0 267.4 767.3 268.2 767.6 267.0 767.9 267.4 768.2 267.1 768.5 269.2 768.8 267.0 769.2 268.4 769.5 268.6 769.8 268.3 770.1 267.1 770.4 267.7 770.7 267.8 771.0 267.3 771.3 267.3 771.6 267.2 771.9 267.4 772.3 267.8 772.6 267.7 772.9 269.0 773.2 268.1 773.5 269.6 773.8 268.1 774.1 267.9 774.4 268.6 774.7 268.4 775.1 267.3 775.4 268.3 775.7 268.0 776.0 266.6 776.3 267.8 776.6 267.3 776.9 267.7 777.2 267.6 777.5 267.2 777.8 268.1 778.2 267.4 778.5 268.3 778.8 268.3 779.1 267.5 779.4 268.4 779.7 269.8 780.0 268.1 780.3 267.1 780.6 268.7 781.0 267.5 781.3 268.2 781.6 269.0 781.9 268.2 782.2 269.6 782.5 267.1 782.8 268.2 783.1 267.7 783.4 268.0 783.7 269.0 784.1 268.2 784.4 267.1 784.7 267.4 785.0 268.2 785.3 268.4 785.6 268.0 785.9 268.8 786.2 267.7 786.5 269.1 786.9 268.4 787.2 267.3 787.5 267.9 787.8 268.4 788.1 267.8 788.4 268.1 788.7 267.7 789.0 267.1 789.3 268.0 789.6 269.1 790.0 267.6 790.3 268.4 790.6 267.1 790.9 267.2 791.2 267.9 791.5 267.5 791.8 268.9 792.1 269.1 792.4 268.1 792.8 267.6 793.1 266.9 793.4 268.3 793.7 268.4 794.0 268.3 794.3 268.2 794.6 267.6 794.9 268.7 795.2 267.1 795.5 268.5 795.9 266.0 796.2 267.6 796.5 267.4 796.8 268.6 797.1 267.2 797.4 268.8 797.7 266.8 798.0 267.8 798.3 267.1 798.7 266.9 799.0 266.6 799.3 266.3 799.6 266.4 799.9 266.6 800.2 267.6 800.5 267.9 800.8 266.6 801.1 266.8 801.4 267.4 801.8 267.0 802.1 266.3 802.4 266.3 802.7 267.3 803.0 267.8 803.3 268.2 803.6 267.1 803.9 267.0 804.2 267.7 804.6 266.0 804.9 265.4 805.2 267.2 805.5 266.1 805.8 266.7 806.1 266.2 806.4 266.4 806.7 266.6 807.0 265.8 807.3 266.0 807.7 266.7 808.0 266.0 808.3 266.8 808.6 266.4 808.9 265.9 809.2 265.9 809.5 267.3 809.8 265.8 810.1 267.0 810.5 266.0 810.8 265.6 811.1 267.1 811.4 266.8 811.7 265.5 812.0 265.8 812.3 267.5 812.6 265.4 812.9 266.5 813.2 266.9 813.6 265.9 813.9 266.5 814.2 266.1 814.5 265.9 814.8 264.2 815.1 264.6 815.4 264.0 815.7 262.8 816.0 262.0 816.3 262.5 816.7 264.6 817.0 265.0 817.3 266.4 817.6 266.5 817.9 266.2 818.2 265.5 818.5 265.6 818.8 268.1 819.1 264.8 819.5 264.6 819.8 262.3 820.1 257.6 820.4 254.3 820.7 250.1 821.0 232.9 821.3 249.0 821.6 250.8 821.9 255.6 822.2 258.3 822.6 258.4 822.9 259.5 823.2 259.1 823.5 259.0 823.8 258.4 824.1 259.8 824.4 260.6 824.7 261.5 825.0 263.8 825.4 263.7 825.7 265.7 826.0 265.9 826.3 265.9 826.6 265.9 826.9 266.4 827.2 265.6 827.5 266.3 827.8 266.0 828.1 266.8 828.5 266.9 828.8 265.3 829.1 267.7 829.4 265.7 829.7 267.1 830.0 266.1 830.3 267.5 830.6 266.2 830.9 266.3 831.3 268.1 831.6 267.0 831.9 266.1 832.2 265.9 832.5 266.4 832.8 267.0 833.1 266.7 833.4 267.5 833.7 267.3 834.0 266.5 834.4 266.7 834.7 266.2 835.0 266.5 835.3 266.3 835.6 266.8 835.9 266.3 836.2 265.0 836.5 267.4 836.8 266.6 837.2 267.1 837.5 266.4 837.8 266.4 838.1 267.3 838.4 266.6 838.7 266.6 839.0 266.8 839.3 266.6 839.6 265.8 839.9 266.4 840.3 267.0 840.6 266.6 840.9 265.4 841.2 267.2 841.5 266.0 841.8 267.3 842.1 268.0 842.4 267.3 842.7 266.6 843.1 267.0 843.4 267.4 843.7 267.4 844.0 267.6 844.3 267.6 844.6 267.3 844.9 268.7 845.2 266.6 845.5 266.7" stroke="#e53935" stroke-width="0.75" fill="none" stroke-linejoin="round" clip-path="url(#c20)"/>
<path d="M755.8 261.6 756.1 261.4 756.4 262.2 756.7 261.2 757.0 261.7 757.4 262.9 757.7 262.9 758.0 263.3 758.3 263.6 758.6 263.5 758.9 264.8 759.2 265.3 759.5 264.3 759.8 265.0 760.1 265.7 760.5 266.1 760.8 266.8 761.1 266.2 761.4 267.1 761.7 266.2 762.0 266.2 762.3 266.8 762.6 266.0 762.9 266.2 763.3 266.6 763.6 267.2 763.9 267.2 764.2 267.5 764.5 268.1 764.8 267.2 765.1 266.9 765.4 268.2 765.7 267.2 766.0 267.7 766.4 267.6 766.7 267.3 767.0 267.3 767.3 268.3 767.6 267.6 767.9 268.3 768.2 269.5 768.5 267.1 768.8 268.1 769.2 268.3 769.5 267.4 769.8 267.9 770.1 268.4 770.4 268.0 770.7 268.0 771.0 268.2 771.3 269.4 771.6 268.0 771.9 268.6 772.3 268.7 772.6 268.1 772.9 266.9 773.2 268.7 773.5 267.9 773.8 268.9 774.1 269.0 774.4 268.3 774.7 267.6 775.1 267.9 775.4 267.9 775.7 267.4 776.0 267.8 776.3 268.4 776.6 268.6 776.9 268.2 777.2 267.9 777.5 268.2 777.8 268.2 778.2 268.3 778.5 268.5 778.8 268.7 779.1 268.5 779.4 267.1 779.7 267.4 780.0 267.3 780.3 267.9 780.6 268.1 781.0 267.6 781.3 268.2 781.6 267.4 781.9 267.9 782.2 267.5 782.5 268.4 782.8 267.0 783.1 267.8 783.4 267.6 783.7 268.4 784.1 268.3 784.4 267.6 784.7 268.8 785.0 267.3 785.3 268.2 785.6 267.4 785.9 268.3 786.2 267.9 786.5 267.9 786.9 267.4 787.2 268.4 787.5 267.6 787.8 267.7 788.1 267.5 788.4 268.3 788.7 267.9 789.0 268.3 789.3 268.1 789.6 267.3 790.0 267.2 790.3 268.4 790.6 267.9 790.9 267.9 791.2 268.4 791.5 268.1 791.8 268.4 792.1 267.5 792.4 268.3 792.8 267.1 793.1 268.9 793.4 267.5 793.7 267.4 794.0 268.1 794.3 268.6 794.6 267.6 794.9 268.3 795.2 267.0 795.5 267.5 795.9 267.6 796.2 267.5 796.5 267.1 796.8 267.5 797.1 267.1 797.4 267.2 797.7 267.7 798.0 266.8 798.3 266.5 798.7 266.7 799.0 267.2 799.3 266.9 799.6 267.8 799.9 267.6 800.2 267.6 800.5 267.4 800.8 266.6 801.1 267.5 801.4 267.4 801.8 267.8 802.1 267.3 802.4 267.8 802.7 266.4 803.0 267.0 803.3 266.4 803.6 266.1 803.9 266.5 804.2 266.6 804.6 266.7 804.9 266.9 805.2 267.8 805.5 266.5 805.8 267.0 806.1 267.1 806.4 266.9 806.7 266.5 807.0 266.1 807.3 267.0 807.7 267.1 808.0 265.8 808.3 266.1 808.6 265.9 808.9 266.5 809.2 267.0 809.5 265.5 809.8 265.6 810.1 266.5 810.5 265.9 810.8 265.5 811.1 264.8 811.4 265.4 811.7 265.7 812.0 266.2 812.3 266.3 812.6 266.1 812.9 266.4 813.2 265.7 813.6 266.0 813.9 266.2 814.2 266.6 814.5 266.0 814.8 266.1 815.1 265.2 815.4 264.8 815.7 262.8 816.0 262.6 816.3 262.1 816.7 264.8 817.0 264.4 817.3 264.4 817.6 266.1 817.9 265.1 818.2 265.6 818.5 266.8 818.8 266.3 819.1 265.1 819.5 264.6 819.8 262.2 820.1 259.1 820.4 254.1 820.7 251.0 821.0 249.5 821.3 250.2 821.6 252.7 821.9 256.5 822.2 258.3 822.6 259.4 822.9 259.6 823.2 259.2 823.5 259.3 823.8 258.8 824.1 259.9 824.4 260.3 824.7 262.5 825.0 262.8 825.4 264.0 825.7 265.6 826.0 264.1 826.3 266.3 826.6 265.5 826.9 265.7 827.2 265.7 827.5 266.6 827.8 267.8 828.1 266.1 828.5 266.5 828.8 266.1 829.1 266.5 829.4 265.8 829.7 266.2 830.0 266.7 830.3 265.2 830.6 266.8 830.9 267.7 831.3 266.4 831.6 266.3 831.9 266.2 832.2 266.8 832.5 266.5 832.8 267.0 833.1 266.8 833.4 266.2 833.7 266.8 834.0 266.2 834.4 266.7 834.7 266.5 835.0 266.8 835.3 266.0 835.6 266.6 835.9 267.0 836.2 266.6 836.5 266.0 836.8 266.5 837.2 267.2 837.5 267.1 837.8 267.2 838.1 266.0 838.4 266.6 838.7 266.2 839.0 266.3 839.3 266.9 839.6 266.1 839.9 266.8 840.3 266.6 840.6 267.8 840.9 266.8 841.2 267.0 841.5 267.2 841.8 266.7 842.1 267.5 842.4 267.0 842.7 268.2 843.1 267.0 843.4 267.2 843.7 265.9 844.0 266.8 844.3 266.6 844.6 268.5 844.9 267.1 845.2 267.5 845.5 266.2" stroke="#111" stroke-width="0.6" fill="none" stroke-linejoin="round" clip-path="url(#c20)"/>
<rect x="755.8" y="231.5" width="89.80" height="39.90" fill="none" stroke="#707070" stroke-width="0.8"/>
<path d="M755.80 271.40v1.2M768.22 271.40v1.2M780.64 271.40v1.2M793.06 271.40v1.2M805.48 271.40v1.2M817.90 271.40v1.2M830.32 271.40v1.2M842.74 271.40v1.2" stroke="#555" stroke-width="0.45" fill="none"/>
<text x="755.80" y="277.40" font-size="4.8" style="fill:#333" text-anchor="middle" xml:space="preserve">2</text>
<text x="768.22" y="277.40" font-size="4.8" style="fill:#333" text-anchor="middle" xml:space="preserve">3</text>
<text x="780.64" y="277.40" font-size="4.8" style="fill:#333" text-anchor="middle" xml:space="preserve">4</text>
<text x="793.06" y="277.40" font-size="4.8" style="fill:#333" text-anchor="middle" xml:space="preserve">5</text>
<text x="805.48" y="277.40" font-size="4.8" style="fill:#333" text-anchor="middle" xml:space="preserve">6</text>
<text x="817.90" y="277.40" font-size="4.8" style="fill:#333" text-anchor="middle" xml:space="preserve">7</text>
<text x="830.32" y="277.40" font-size="4.8" style="fill:#333" text-anchor="middle" xml:space="preserve">8</text>
<text x="842.74" y="277.40" font-size="4.8" style="fill:#333" text-anchor="middle" xml:space="preserve">9</text>
<clipPath id="c21"><rect x="848.20" y="106.10" width="89.80" height="39.60"/></clipPath>
<rect x="848.2" y="106.1" width="89.80" height="39.60" fill="#fff"/>
<path d="M860.62 106.10V145.70M873.04 106.10V145.70M885.46 106.10V145.70M897.88 106.10V145.70M910.30 106.10V145.70M922.72 106.10V145.70M935.14 106.10V145.70M848.20 135.80H938.00M848.20 125.90H938.00M848.20 116.00H938.00" stroke="#666" stroke-width="0.42" stroke-dasharray="0.9,0.45" fill="none"/>
<path d="M848.2 133.3 849.2 132.3 850.2 131.2 851.2 130.2 852.2 129.2 853.2 128.3 854.2 127.4 855.2 126.5 856.1 125.7 857.1 124.9 858.1 124.1 859.1 123.3 860.1 122.6 861.1 121.9 862.1 121.3 863.1 120.8 864.1 120.4 865.1 120.0 866.1 119.7 867.1 119.3 868.1 119.0 869.1 118.7 870.1 118.5 871.1 118.4 872.0 118.3 873.0 118.2 874.0 118.3 875.0 118.4 876.0 118.5 877.0 118.6 878.0 118.8 879.0 118.9 880.0 119.1 881.0 119.3 882.0 119.6 883.0 119.8 884.0 120.1 885.0 120.4 886.0 120.8 887.0 121.2 887.9 121.7 888.9 122.1 889.9 122.6 890.9 123.1 891.9 123.5 892.9 124.0 893.9 124.4 894.9 124.7 895.9 125.1 896.9 125.4 897.9 125.7 898.9 126.1 899.9 126.4 900.9 126.7 901.9 127.0 902.9 127.3 903.8 127.6 904.8 127.9 905.8 128.1 906.8 128.4 907.8 128.7 908.8 128.9 909.8 129.2 910.8 129.4 911.8 129.6 912.8 129.9 913.8 130.1 914.8 130.3 915.8 130.6 916.8 130.8 917.8 131.0 918.7 131.2 919.7 131.4 920.7 131.6 921.7 131.7 922.7 131.9 923.7 132.1 924.7 132.2 925.7 132.4 926.7 132.6 927.7 132.7 928.7 132.9 929.7 133.0 930.7 133.2 931.7 133.3 932.7 133.4 933.7 133.6 934.6 133.7 935.6 133.8 936.6 133.9 937.6 134.0" stroke="#6aaad9" stroke-width="0.8" fill="none" stroke-linejoin="round" clip-path="url(#c21)"/>
<path d="M853.5 106.0 853.9 105.8 854.3 107.2 854.6 107.2 855.0 109.4 855.4 107.8 855.7 108.6 856.1 108.3 856.5 108.5 856.9 109.6 857.2 111.0 857.6 110.7 858.0 111.2 858.4 111.9 858.7 113.7 859.1 114.4 859.5 114.4 859.8 115.3 860.2 116.4 860.6 115.1 861.0 115.4 861.3 115.6 861.7 117.1 862.1 117.1 862.5 118.4 862.8 119.1 863.2 118.2 863.6 120.3 863.9 119.8 864.3 118.5 864.7 119.5 865.1 120.1 865.4 120.3 865.8 121.1 866.2 121.6 866.5 120.0 866.9 121.8 867.3 122.2 867.7 122.2 868.0 124.2 868.4 124.7 868.8 127.6 869.2 129.2 869.5 131.5 869.9 133.7 870.3 137.7 870.6 141.7 871.0 138.7 871.4 135.3 871.8 132.9 872.1 128.6 872.5 128.0 872.9 127.1 873.3 126.9 873.6 126.3 874.0 126.4 874.4 125.0 874.7 125.3 875.1 126.5 875.5 126.2 875.9 127.2 876.2 127.2 876.6 127.4 877.0 128.8 877.4 128.7 877.7 128.2 878.1 127.7 878.5 125.9 878.8 126.6 879.2 127.1 879.6 126.7 880.0 128.1 880.3 127.1 880.7 130.2 881.1 131.5 881.5 131.3 881.8 133.2 882.2 134.0 882.6 134.7 882.9 135.9 883.3 136.5 883.7 138.6 884.1 138.0 884.4 138.3 884.8 138.3 885.2 140.4 885.6 139.7 885.9 140.6 886.3 139.0 886.7 138.3 887.0 139.4 887.4 139.7 887.8 139.3 888.2 137.9 888.5 139.3 888.9 137.1 889.3 138.2 889.7 137.6 890.0 136.4 890.4 135.7 890.8 135.0 891.1 134.3 891.5 135.7 891.9 134.6 892.3 133.9 892.6 133.9 893.0 133.1 893.4 133.6 893.8 133.6 894.1 134.6 894.5 134.1 894.9 132.0 895.2 133.1 895.6 131.8 896.0 131.3 896.4 131.6 896.7 130.6 897.1 131.6 897.5 130.6 897.8 131.0 898.2 131.7 898.6 131.9 899.0 130.6 899.3 129.2 899.7 129.3 900.1 129.7 900.5 129.3 900.8 129.1 901.2 129.7 901.6 128.5 901.9 129.2 902.3 129.9 902.7 127.1 903.1 129.4 903.4 130.2 903.8 129.7 904.2 131.3 904.6 131.4 904.9 129.5 905.3 130.5 905.7 131.9 906.0 132.4 906.4 131.6 906.8 132.5 907.2 131.2 907.5 133.7 907.9 131.8 908.3 133.6 908.7 134.1 909.0 133.5 909.4 134.6 909.8 134.5 910.1 134.7 910.5 136.3 910.9 135.9 911.3 135.4 911.6 137.5 912.0 137.5 912.4 137.7 912.8 136.9 913.1 137.4 913.5 137.4 913.9 139.6 914.2 138.8 914.6 139.4 915.0 140.7 915.4 139.6 915.7 140.1 916.1 140.8 916.5 141.3 916.9 141.8 917.2 140.5 917.6 140.8 918.0 141.5 918.3 141.7 918.7 142.1 919.1 141.4 919.5 142.0 919.8 143.6 920.2 142.5 920.6 142.4 921.0 143.4 921.3 143.5 921.7 143.8 922.1 143.2 922.4 144.1 922.8 144.1 923.2 144.2 923.6 143.3 923.9 145.5 924.3 143.0 924.7 145.6 925.0 145.0 925.4 145.6 925.8 145.1 926.2 144.9 926.5 143.8 926.9 144.7 927.3 146.1" stroke="#111" stroke-width="1.0" fill="none" stroke-linejoin="round" clip-path="url(#c21)"/>
<path d="M853.5 105.8 853.9 105.7 854.3 107.0 854.6 107.0 855.0 109.2 855.4 107.6 855.7 108.4 856.1 108.1 856.5 108.3 856.9 109.4 857.2 110.8 857.6 110.5 858.0 111.0 858.4 111.7 858.7 113.5 859.1 114.2 859.5 114.2 859.8 115.1 860.2 116.2 860.6 114.9 861.0 115.2 861.3 115.4 861.7 116.9 862.1 116.9 862.5 118.2 862.8 118.9 863.2 118.0 863.6 120.1 863.9 119.6 864.3 118.3 864.7 119.3 865.1 119.9 865.4 120.1 865.8 120.9 866.2 121.4 866.5 119.8 866.9 121.6 867.3 122.0 867.7 122.0 868.0 124.0 868.4 124.6 868.8 127.4 869.2 129.0 869.5 131.3 869.9 133.5 870.3 137.5 870.6 141.5 871.0 138.6 871.4 135.1 871.8 132.7 872.1 128.4 872.5 127.9 872.9 126.9 873.3 126.7 873.6 126.1 874.0 126.2 874.4 124.8 874.7 125.1 875.1 126.3 875.5 126.0 875.9 127.0 876.2 127.0 876.6 127.2 877.0 128.6 877.4 128.5 877.7 128.0 878.1 127.5 878.5 125.7 878.8 126.4 879.2 126.9 879.6 126.5 880.0 127.9 880.3 126.9 880.7 130.0 881.1 131.3 881.5 131.1 881.8 133.0 882.2 133.8 882.6 134.5 882.9 135.7 883.3 136.3 883.7 138.4 884.1 137.8 884.4 138.1 884.8 138.1 885.2 140.2 885.6 139.5 885.9 140.4 886.3 138.8 886.7 138.1 887.0 139.2 887.4 139.5 887.8 139.1 888.2 137.7 888.5 139.1 888.9 136.9 889.3 138.0 889.7 137.4 890.0 136.2 890.4 135.5 890.8 134.8 891.1 134.1 891.5 135.5 891.9 134.4 892.3 133.7 892.6 133.7 893.0 132.9 893.4 133.4 893.8 133.4 894.1 134.4 894.5 133.9 894.9 131.8 895.2 132.9 895.6 131.6 896.0 131.1 896.4 131.4 896.7 130.4 897.1 131.4 897.5 130.4 897.8 130.8 898.2 131.5 898.6 131.7 899.0 130.4 899.3 129.0 899.7 129.1 900.1 129.5 900.5 129.1 900.8 128.9 901.2 129.5 901.6 128.3 901.9 129.0 902.3 129.7 902.7 126.9 903.1 129.2 903.4 130.0 903.8 129.5 904.2 131.1 904.6 131.2 904.9 129.3 905.3 130.3 905.7 131.7 906.0 132.2 906.4 131.4 906.8 132.3 907.2 131.0 907.5 133.5 907.9 131.6 908.3 133.4 908.7 133.9 909.0 133.3 909.4 134.4 909.8 134.3 910.1 134.5 910.5 136.1 910.9 135.7 911.3 135.2 911.6 137.3 912.0 137.3 912.4 137.5 912.8 136.7 913.1 137.2 913.5 137.2 913.9 139.4 914.2 138.6 914.6 139.2 915.0 140.5 915.4 139.4 915.7 139.9 916.1 140.6 916.5 141.1 916.9 141.6 917.2 140.3 917.6 140.6 918.0 141.3 918.3 141.5 918.7 141.9 919.1 141.2 919.5 141.8 919.8 143.4 920.2 142.3 920.6 142.2 921.0 143.2 921.3 143.3 921.7 143.6 922.1 143.0 922.4 143.9 922.8 143.9 923.2 144.0 923.6 143.1 923.9 145.3 924.3 142.8 924.7 145.4 925.0 144.8 925.4 145.4 925.8 144.9 926.2 144.7 926.5 143.6 926.9 144.5 927.3 145.9" stroke="#c62828" stroke-width="0.4" stroke-opacity="0.55" fill="none" stroke-linejoin="round" clip-path="url(#c21)"/>
<rect x="848.2" y="106.1" width="89.80" height="39.60" fill="none" stroke="#666" stroke-width="0.8"/>
<text x="940.20" y="107.60" font-size="4.2" style="fill:#444" text-anchor="start" xml:space="preserve">72</text>
<text x="940.20" y="117.50" font-size="4.2" style="fill:#444" text-anchor="start" xml:space="preserve">54</text>
<text x="940.20" y="127.40" font-size="4.2" style="fill:#444" text-anchor="start" xml:space="preserve">36</text>
<text x="940.20" y="137.30" font-size="4.2" style="fill:#444" text-anchor="start" xml:space="preserve">18</text>
<text x="940.20" y="147.20" font-size="4.2" style="fill:#444" text-anchor="start" xml:space="preserve">0</text>
<path d="M938.00 145.70h1.2M938.00 135.80h1.2M938.00 125.90h1.2M938.00 116.00h1.2M938.00 106.10h1.2" stroke="#555" stroke-width="0.45" fill="none"/>
<clipPath id="c22"><rect x="848.20" y="148.40" width="89.80" height="39.10"/></clipPath>
<rect x="848.2" y="148.4" width="89.80" height="39.10" fill="#f7f7f7"/>
<rect x="848.2" y="160.84" width="89.80" height="17.77" fill="#e0e0e0"/>
<rect x="848.2" y="148.4" width="89.80" height="12.44" fill="#c4c4c4"/>
<path d="M860.62 148.40V187.50M873.04 148.40V187.50M885.46 148.40V187.50M897.88 148.40V187.50M910.30 148.40V187.50M922.72 148.40V187.50M935.14 148.40V187.50M848.20 178.61H938.00M848.20 169.73H938.00M848.20 160.84H938.00M848.20 151.95H938.00" stroke="#555" stroke-width="0.45" stroke-dasharray="0.9,0.45" fill="none"/>
<path d="M848.2 184.2 848.5 183.8 848.8 182.0 849.1 184.0 849.4 184.0 849.8 183.8 850.1 183.5 850.4 182.3 850.7 183.8 851.0 182.8 851.3 184.2 851.6 183.0 851.9 182.9 852.2 184.1 852.5 184.1 852.9 183.5 853.2 184.2 853.5 183.7 853.8 182.7 854.1 183.1 854.4 184.2 854.7 183.8 855.0 183.6 855.3 183.8 855.7 182.4 856.0 183.2 856.3 184.0 856.6 182.4 856.9 182.0 857.2 182.3 857.5 182.9 857.8 183.3 858.1 183.3 858.4 184.0 858.8 184.0 859.1 182.1 859.4 183.2 859.7 184.0 860.0 182.1 860.3 183.3 860.6 183.7 860.9 182.5 861.2 183.7 861.6 181.9 861.9 183.7 862.2 184.1 862.5 181.7 862.8 183.4 863.1 183.7 863.4 183.8 863.7 182.7 864.0 183.3 864.3 183.0 864.7 182.9 865.0 183.2 865.3 183.8 865.6 183.6 865.9 183.6 866.2 183.9 866.5 183.1 866.8 183.6 867.1 183.8 867.5 182.7 867.8 183.6 868.1 183.2 868.4 184.1 868.7 183.6 869.0 183.1 869.3 183.2 869.6 183.1 869.9 183.5 870.2 182.8 870.6 182.6 870.9 181.6 871.2 181.0 871.5 182.6 871.8 180.3 872.1 182.8 872.4 181.7 872.7 183.5 873.0 183.0 873.4 183.0 873.7 183.8 874.0 183.3 874.3 182.8 874.6 184.0 874.9 184.0 875.2 183.3 875.5 184.0 875.8 184.0 876.1 182.9 876.5 183.1 876.8 183.8 877.1 182.7 877.4 183.4 877.7 183.3 878.0 182.3 878.3 183.7 878.6 184.0 878.9 182.5 879.3 182.8 879.6 183.8 879.9 182.4 880.2 183.0 880.5 183.6 880.8 182.6 881.1 183.8 881.4 183.9 881.7 183.8 882.0 182.4 882.4 182.7 882.7 182.4 883.0 184.0 883.3 183.4 883.6 183.8 883.9 183.6 884.2 183.3 884.5 183.1 884.8 182.7 885.2 183.9 885.5 182.9 885.8 183.7 886.1 183.9 886.4 180.9 886.7 183.6 887.0 182.4 887.3 183.4 887.6 181.7 887.9 183.2 888.3 183.9 888.6 183.2 888.9 182.8 889.2 183.8 889.5 182.4 889.8 183.9 890.1 182.6 890.4 183.4 890.7 183.4 891.1 183.7 891.4 183.2 891.7 182.3 892.0 183.7 892.3 183.8 892.6 183.4 892.9 183.8 893.2 183.6 893.5 183.7 893.8 182.6 894.2 183.3 894.5 183.9 894.8 183.6 895.1 183.2 895.4 183.6 895.7 183.9 896.0 182.4 896.3 183.4 896.6 182.7 897.0 183.4 897.3 183.2 897.6 183.4 897.9 183.2 898.2 182.6 898.5 183.1 898.8 183.1 899.1 183.6 899.4 182.6 899.7 183.3 900.1 183.1 900.4 183.5 900.7 183.9 901.0 183.1 901.3 183.1 901.6 183.3 901.9 183.1 902.2 182.1 902.5 183.5 902.9 183.2 903.2 183.8 903.5 183.3 903.8 182.4 904.1 183.1 904.4 183.5 904.7 182.2 905.0 183.6 905.3 183.3 905.6 183.5 906.0 183.2 906.3 183.2 906.6 183.5 906.9 183.6 907.2 183.7 907.5 182.8 907.8 181.9 908.1 183.5 908.4 183.0 908.7 183.7 909.1 182.8 909.4 183.6 909.7 183.7 910.0 183.1 910.3 183.5 910.6 183.6 910.9 182.7 911.2 183.2 911.5 183.3 911.9 181.6 912.2 183.6 912.5 183.3 912.8 183.4 913.1 183.7 913.4 183.7 913.7 183.2 914.0 183.2 914.3 181.9 914.6 183.0 915.0 183.7 915.3 183.6 915.6 183.0 915.9 182.8 916.2 183.7 916.5 183.3 916.8 182.0 917.1 182.8 917.4 183.6 917.8 181.7 918.1 183.1 918.4 183.2 918.7 183.7 919.0 182.5 919.3 180.8 919.6 183.4 919.9 183.5 920.2 182.6 920.5 181.8 920.9 183.4 921.2 182.9 921.5 183.4 921.8 182.9 922.1 182.7 922.4 183.5 922.7 183.2 923.0 183.6 923.3 182.9 923.7 181.6 924.0 183.4 924.3 183.5 924.6 183.4 924.9 182.2 925.2 182.3 925.5 183.0 925.8 183.2 926.1 183.1 926.4 183.5 926.8 183.2 927.1 182.0 927.4 183.0 927.7 182.3 928.0 182.5 928.3 181.6 928.6 181.8 928.9 182.6 929.2 182.2 929.6 182.5 929.9 183.5 930.2 183.1 930.5 182.3 930.8 183.5 931.1 183.1 931.4 183.6 931.7 182.8 932.0 183.2 932.3 182.5 932.7 181.3 933.0 182.3 933.3 181.9 933.6 182.3 933.9 182.6 934.2 183.3 934.5 182.9 934.8 182.5 935.1 183.3 935.5 182.3 935.8 183.3 936.1 182.9 936.4 183.0 936.7 182.9 937.0 182.3 937.3 183.0 937.6 182.5 937.9 182.9" stroke="#e53935" stroke-width="0.8" fill="none" stroke-linejoin="round" clip-path="url(#c22)"/>
<path d="M848.2 183.5 848.5 183.9 848.8 183.9 849.1 184.0 849.4 183.2 849.8 184.2 850.1 183.1 850.4 184.2 850.7 183.5 851.0 184.0 851.3 184.3 851.6 183.3 851.9 183.9 852.2 184.2 852.5 184.1 852.9 183.9 853.2 183.6 853.5 183.6 853.8 184.1 854.1 183.7 854.4 184.0 854.7 183.4 855.0 183.6 855.3 183.4 855.7 183.1 856.0 183.9 856.3 183.7 856.6 183.9 856.9 183.0 857.2 183.6 857.5 183.3 857.8 184.2 858.1 184.1 858.4 183.6 858.8 182.9 859.1 183.1 859.4 183.9 859.7 183.9 860.0 182.7 860.3 184.1 860.6 183.1 860.9 183.9 861.2 183.9 861.6 183.3 861.9 183.8 862.2 183.9 862.5 184.2 862.8 183.9 863.1 184.2 863.4 184.1 863.7 183.3 864.0 183.6 864.3 184.0 864.7 183.8 865.0 184.1 865.3 184.1 865.6 183.9 865.9 184.0 866.2 182.4 866.5 184.0 866.8 183.9 867.1 182.7 867.5 183.5 867.8 184.1 868.1 183.3 868.4 184.0 868.7 184.1 869.0 183.6 869.3 184.1 869.6 183.6 869.9 183.3 870.2 183.5 870.6 182.4 870.9 179.9 871.2 179.4 871.5 179.6 871.8 182.2 872.1 183.5 872.4 183.3 872.7 183.6 873.0 184.0 873.4 183.7 873.7 183.9 874.0 184.0 874.3 183.8 874.6 184.1 874.9 183.8 875.2 183.8 875.5 183.8 875.8 183.8 876.1 183.6 876.5 183.8 876.8 183.8 877.1 184.0 877.4 183.2 877.7 183.9 878.0 184.0 878.3 183.0 878.6 183.6 878.9 183.6 879.3 183.5 879.6 183.4 879.9 183.9 880.2 182.6 880.5 182.8 880.8 182.9 881.1 183.7 881.4 183.9 881.7 183.4 882.0 183.4 882.4 183.9 882.7 183.7 883.0 184.0 883.3 183.6 883.6 183.8 883.9 183.5 884.2 183.2 884.5 183.5 884.8 183.8 885.2 183.2 885.5 183.6 885.8 183.3 886.1 183.8 886.4 183.2 886.7 183.7 887.0 183.0 887.3 183.4 887.6 183.0 887.9 183.5 888.3 182.8 888.6 183.6 888.9 183.8 889.2 183.8 889.5 183.5 889.8 184.0 890.1 183.5 890.4 183.9 890.7 183.2 891.1 183.0 891.4 183.2 891.7 183.4 892.0 183.7 892.3 183.8 892.6 183.2 892.9 183.3 893.2 183.6 893.5 183.8 893.8 183.0 894.2 183.6 894.5 183.0 894.8 183.9 895.1 183.3 895.4 183.8 895.7 183.8 896.0 183.6 896.3 182.1 896.6 183.7 897.0 183.6 897.3 183.5 897.6 182.7 897.9 183.3 898.2 183.6 898.5 183.4 898.8 181.9 899.1 183.0 899.4 183.6 899.7 183.6 900.1 183.2 900.4 183.7 900.7 183.5 901.0 182.7 901.3 183.5 901.6 183.2 901.9 183.5 902.2 183.0 902.5 183.7 902.9 183.5 903.2 183.9 903.5 183.6 903.8 183.2 904.1 183.8 904.4 182.9 904.7 183.7 905.0 183.7 905.3 183.5 905.6 183.6 906.0 183.5 906.3 183.2 906.6 183.7 906.9 182.7 907.2 182.7 907.5 183.1 907.8 183.2 908.1 182.8 908.4 182.7 908.7 183.4 909.1 182.9 909.4 183.4 909.7 183.8 910.0 183.7 910.3 183.8 910.6 182.4 910.9 183.6 911.2 183.0 911.5 183.6 911.9 183.3 912.2 183.1 912.5 183.7 912.8 183.4 913.1 182.9 913.4 183.2 913.7 183.2 914.0 183.7 914.3 182.6 914.6 183.3 915.0 183.6 915.3 181.7 915.6 183.0 915.9 182.1 916.2 183.3 916.5 181.9 916.8 182.3 917.1 183.6 917.4 183.2 917.8 182.9 918.1 183.2 918.4 183.6 918.7 182.9 919.0 183.7 919.3 182.9 919.6 183.6 919.9 182.3 920.2 183.5 920.5 183.0 920.9 183.3 921.2 183.0 921.5 183.1 921.8 183.5 922.1 183.7 922.4 183.5 922.7 183.3 923.0 183.0 923.3 183.4 923.7 183.0 924.0 183.4 924.3 183.6 924.6 183.4 924.9 183.1 925.2 183.1 925.5 183.0 925.8 183.0 926.1 183.1 926.4 183.3 926.8 183.4 927.1 183.4 927.4 183.5 927.7 182.4 928.0 183.5 928.3 182.3 928.6 182.4 928.9 183.2 929.2 183.2 929.6 183.6 929.9 183.3 930.2 182.6 930.5 182.9 930.8 183.6 931.1 183.3 931.4 183.2 931.7 183.4 932.0 183.6 932.3 183.3 932.7 182.6 933.0 182.7 933.3 183.1 933.6 182.5 933.9 183.0 934.2 182.4 934.5 183.6 934.8 183.1 935.1 183.2 935.5 182.7 935.8 183.5 936.1 183.0 936.4 182.8 936.7 183.3 937.0 182.2 937.3 183.0 937.6 183.4 937.9 183.2" stroke="#111" stroke-width="0.6" fill="none" stroke-linejoin="round" clip-path="url(#c22)"/>
<rect x="848.2" y="148.4" width="89.80" height="39.10" fill="none" stroke="#707070" stroke-width="0.8"/>
<clipPath id="c23"><rect x="848.20" y="189.60" width="89.80" height="39.30"/></clipPath>
<rect x="848.2" y="189.6" width="89.80" height="39.30" fill="#f7f7f7"/>
<rect x="848.2" y="202.10" width="89.80" height="17.86" fill="#e0e0e0"/>
<rect x="848.2" y="189.6" width="89.80" height="12.50" fill="#c4c4c4"/>
<path d="M860.62 189.60V228.90M873.04 189.60V228.90M885.46 189.60V228.90M897.88 189.60V228.90M910.30 189.60V228.90M922.72 189.60V228.90M935.14 189.60V228.90M848.20 219.97H938.00M848.20 211.04H938.00M848.20 202.10H938.00M848.20 193.17H938.00" stroke="#555" stroke-width="0.45" stroke-dasharray="0.9,0.45" fill="none"/>
<path d="M848.2 225.5 848.5 225.6 848.8 225.0 849.1 223.9 849.4 225.1 849.8 224.6 850.1 225.6 850.4 225.4 850.7 223.9 851.0 223.6 851.3 224.1 851.6 225.6 851.9 224.5 852.2 225.6 852.5 224.8 852.9 225.5 853.2 223.2 853.5 225.0 853.8 225.0 854.1 224.9 854.4 223.5 854.7 225.4 855.0 225.0 855.3 225.2 855.7 224.8 856.0 223.9 856.3 225.4 856.6 225.3 856.9 225.4 857.2 224.7 857.5 225.5 857.8 224.6 858.1 224.4 858.4 223.6 858.8 225.4 859.1 225.0 859.4 225.5 859.7 225.2 860.0 225.3 860.3 224.5 860.6 225.0 860.9 225.5 861.2 225.2 861.6 225.4 861.9 225.3 862.2 224.9 862.5 225.2 862.8 223.6 863.1 224.8 863.4 225.5 863.7 225.3 864.0 225.5 864.3 224.4 864.7 225.5 865.0 224.5 865.3 225.4 865.6 225.0 865.9 224.8 866.2 224.5 866.5 225.0 866.8 223.3 867.1 225.4 867.5 223.7 867.8 224.7 868.1 225.3 868.4 223.9 868.7 224.6 869.0 224.3 869.3 224.5 869.6 223.9 869.9 224.6 870.2 224.7 870.6 224.2 870.9 224.5 871.2 222.6 871.5 223.1 871.8 222.6 872.1 224.0 872.4 224.2 872.7 224.1 873.0 225.0 873.4 224.4 873.7 224.1 874.0 225.5 874.3 223.6 874.6 225.1 874.9 225.2 875.2 224.1 875.5 223.8 875.8 224.0 876.1 224.0 876.5 225.3 876.8 224.5 877.1 224.8 877.4 225.2 877.7 224.4 878.0 225.3 878.3 224.2 878.6 224.3 878.9 223.9 879.3 223.9 879.6 225.1 879.9 225.4 880.2 225.2 880.5 223.6 880.8 225.2 881.1 224.1 881.4 224.4 881.7 224.7 882.0 225.3 882.4 225.3 882.7 224.6 883.0 224.7 883.3 224.7 883.6 223.9 883.9 224.6 884.2 223.5 884.5 225.0 884.8 224.8 885.2 224.6 885.5 224.2 885.8 224.8 886.1 223.8 886.4 224.3 886.7 225.2 887.0 224.6 887.3 224.7 887.6 224.2 887.9 224.7 888.3 225.3 888.6 225.1 888.9 225.0 889.2 224.4 889.5 224.9 889.8 224.6 890.1 224.9 890.4 224.2 890.7 224.6 891.1 223.1 891.4 224.2 891.7 224.6 892.0 224.4 892.3 224.5 892.6 224.2 892.9 224.2 893.2 223.5 893.5 224.0 893.8 224.4 894.2 224.8 894.5 224.8 894.8 224.3 895.1 224.8 895.4 224.5 895.7 224.8 896.0 224.0 896.3 224.9 896.6 223.9 897.0 223.3 897.3 222.5 897.6 224.9 897.9 225.2 898.2 224.4 898.5 225.3 898.8 223.9 899.1 225.1 899.4 222.8 899.7 224.5 900.1 224.2 900.4 224.2 900.7 224.7 901.0 223.4 901.3 225.0 901.6 224.3 901.9 223.8 902.2 224.0 902.5 224.2 902.9 224.8 903.2 225.2 903.5 223.8 903.8 222.8 904.1 224.1 904.4 224.7 904.7 223.4 905.0 224.2 905.3 222.7 905.6 224.8 906.0 224.1 906.3 224.2 906.6 225.2 906.9 224.5 907.2 222.4 907.5 223.4 907.8 224.1 908.1 224.4 908.4 224.0 908.7 224.4 909.1 224.9 909.4 224.9 909.7 224.9 910.0 223.9 910.3 224.5 910.6 224.5 910.9 223.8 911.2 225.2 911.5 224.2 911.9 224.5 912.2 224.0 912.5 224.7 912.8 224.7 913.1 224.9 913.4 224.3 913.7 224.9 914.0 225.0 914.3 224.4 914.6 221.9 915.0 221.7 915.3 220.1 915.6 222.7 915.9 221.6 916.2 222.9 916.5 224.5 916.8 224.8 917.1 224.4 917.4 222.9 917.8 224.8 918.1 223.4 918.4 223.2 918.7 224.7 919.0 224.6 919.3 224.0 919.6 224.2 919.9 224.3 920.2 224.8 920.5 224.6 920.9 224.6 921.2 223.9 921.5 224.4 921.8 223.2 922.1 223.3 922.4 225.0 922.7 224.8 923.0 223.6 923.3 224.3 923.7 223.7 924.0 223.8 924.3 224.7 924.6 223.2 924.9 224.4 925.2 224.7 925.5 224.4 925.8 224.6 926.1 223.5 926.4 224.3 926.8 224.4 927.1 224.9 927.4 224.3 927.7 224.8 928.0 224.9 928.3 224.8 928.6 224.5 928.9 224.3 929.2 224.2 929.6 222.6 929.9 224.7 930.2 224.9 930.5 223.0 930.8 225.0 931.1 223.8 931.4 223.7 931.7 224.4 932.0 224.4 932.3 223.2 932.7 224.6 933.0 224.1 933.3 223.6 933.6 224.5 933.9 224.1 934.2 223.9 934.5 224.8 934.8 222.9 935.1 225.0 935.5 223.5 935.8 224.9 936.1 224.4 936.4 224.9 936.7 224.4 937.0 224.3 937.3 224.7 937.6 224.7 937.9 224.1" stroke="#e53935" stroke-width="0.8" fill="none" stroke-linejoin="round" clip-path="url(#c23)"/>
<path d="M848.2 224.7 848.5 224.8 848.8 224.5 849.1 225.2 849.4 224.3 849.8 225.3 850.1 224.7 850.4 225.5 850.7 225.1 851.0 225.5 851.3 225.5 851.6 224.9 851.9 225.2 852.2 225.5 852.5 224.9 852.9 225.4 853.2 224.3 853.5 224.2 853.8 224.9 854.1 224.5 854.4 225.0 854.7 225.3 855.0 225.3 855.3 225.1 855.7 224.9 856.0 224.8 856.3 224.8 856.6 225.5 856.9 225.5 857.2 225.2 857.5 225.5 857.8 224.3 858.1 225.2 858.4 223.9 858.8 225.6 859.1 224.8 859.4 225.5 859.7 225.3 860.0 225.6 860.3 225.4 860.6 225.0 860.9 225.2 861.2 224.2 861.6 225.0 861.9 225.2 862.2 225.2 862.5 225.4 862.8 225.1 863.1 225.3 863.4 224.8 863.7 224.6 864.0 223.8 864.3 225.5 864.7 224.8 865.0 224.8 865.3 224.6 865.6 224.9 865.9 224.4 866.2 224.5 866.5 225.1 866.8 224.7 867.1 225.2 867.5 225.2 867.8 224.3 868.1 225.4 868.4 224.6 868.7 224.0 869.0 225.3 869.3 225.1 869.6 224.9 869.9 225.4 870.2 224.3 870.6 223.8 870.9 223.1 871.2 220.7 871.5 224.0 871.8 224.2 872.1 224.4 872.4 225.4 872.7 225.1 873.0 224.3 873.4 225.5 873.7 225.4 874.0 224.6 874.3 224.9 874.6 225.3 874.9 224.8 875.2 224.2 875.5 224.7 875.8 224.5 876.1 224.5 876.5 224.3 876.8 224.8 877.1 224.8 877.4 224.8 877.7 223.9 878.0 224.9 878.3 225.3 878.6 224.8 878.9 223.8 879.3 224.8 879.6 224.3 879.9 225.4 880.2 225.4 880.5 225.1 880.8 224.8 881.1 224.0 881.4 224.6 881.7 224.2 882.0 224.1 882.4 224.6 882.7 223.9 883.0 224.6 883.3 225.2 883.6 224.6 883.9 224.6 884.2 224.4 884.5 225.1 884.8 224.6 885.2 223.8 885.5 224.8 885.8 224.7 886.1 225.3 886.4 224.4 886.7 224.7 887.0 225.0 887.3 225.1 887.6 224.6 887.9 224.8 888.3 225.3 888.6 224.8 888.9 224.5 889.2 225.0 889.5 225.2 889.8 224.7 890.1 224.8 890.4 224.4 890.7 225.3 891.1 224.6 891.4 224.3 891.7 225.3 892.0 225.1 892.3 225.1 892.6 224.9 892.9 224.9 893.2 225.1 893.5 225.2 893.8 224.6 894.2 224.1 894.5 225.0 894.8 223.8 895.1 224.1 895.4 224.5 895.7 224.1 896.0 224.8 896.3 224.3 896.6 225.0 897.0 224.9 897.3 224.4 897.6 224.8 897.9 224.9 898.2 224.9 898.5 225.2 898.8 224.1 899.1 224.5 899.4 225.1 899.7 224.7 900.1 224.9 900.4 224.7 900.7 224.8 901.0 224.4 901.3 225.0 901.6 224.7 901.9 224.6 902.2 224.7 902.5 225.1 902.9 225.1 903.2 223.9 903.5 225.1 903.8 224.8 904.1 224.1 904.4 224.9 904.7 225.0 905.0 224.7 905.3 224.4 905.6 224.4 906.0 224.3 906.3 224.4 906.6 224.0 906.9 225.2 907.2 224.3 907.5 224.6 907.8 225.2 908.1 225.2 908.4 224.9 908.7 224.8 909.1 223.3 909.4 224.4 909.7 224.9 910.0 225.1 910.3 224.0 910.6 223.5 910.9 224.2 911.2 225.1 911.5 224.4 911.9 225.0 912.2 224.4 912.5 225.0 912.8 225.0 913.1 224.3 913.4 224.5 913.7 224.6 914.0 224.1 914.3 224.7 914.6 223.8 915.0 222.4 915.3 222.2 915.6 223.3 915.9 224.5 916.2 224.7 916.5 224.7 916.8 224.8 917.1 224.3 917.4 224.8 917.8 224.2 918.1 224.9 918.4 224.8 918.7 224.1 919.0 224.7 919.3 225.0 919.6 225.0 919.9 223.7 920.2 224.9 920.5 225.1 920.9 224.5 921.2 225.0 921.5 224.9 921.8 224.9 922.1 224.7 922.4 224.4 922.7 224.3 923.0 224.9 923.3 224.9 923.7 225.0 924.0 224.7 924.3 224.7 924.6 224.3 924.9 225.0 925.2 224.4 925.5 224.7 925.8 224.7 926.1 224.4 926.4 224.1 926.8 224.2 927.1 225.0 927.4 223.8 927.7 224.0 928.0 224.5 928.3 225.0 928.6 224.6 928.9 224.4 929.2 224.8 929.6 223.7 929.9 224.9 930.2 224.7 930.5 224.4 930.8 224.3 931.1 224.7 931.4 224.7 931.7 223.9 932.0 224.4 932.3 223.7 932.7 223.6 933.0 224.5 933.3 224.7 933.6 224.7 933.9 224.7 934.2 224.3 934.5 224.5 934.8 224.1 935.1 224.6 935.5 224.3 935.8 224.5 936.1 224.4 936.4 224.5 936.7 224.3 937.0 224.0 937.3 224.7 937.6 224.4 937.9 225.0" stroke="#111" stroke-width="0.6" fill="none" stroke-linejoin="round" clip-path="url(#c23)"/>
<rect x="848.2" y="189.6" width="89.80" height="39.30" fill="none" stroke="#707070" stroke-width="0.8"/>
<clipPath id="c24"><rect x="848.20" y="231.50" width="89.80" height="39.90"/></clipPath>
<rect x="848.2" y="231.5" width="89.80" height="39.90" fill="#fff"/>
<path d="M860.62 231.50V271.40M873.04 231.50V271.40M885.46 231.50V271.40M897.88 231.50V271.40M910.30 231.50V271.40M922.72 231.50V271.40M935.14 231.50V271.40M848.20 262.45H938.00M848.20 253.51H938.00M848.20 244.56H938.00M848.20 235.62H938.00" stroke="#666" stroke-width="0.42" stroke-dasharray="0.9,0.45" fill="none"/>
<path d="M848.2 267.2 848.5 267.1 848.8 268.5 849.1 268.5 849.4 267.7 849.8 267.2 850.1 267.8 850.4 267.0 850.7 268.5 851.0 267.4 851.3 269.2 851.6 268.4 851.9 268.5 852.2 267.3 852.5 268.2 852.9 267.8 853.2 267.1 853.5 268.2 853.8 267.1 854.1 268.4 854.4 266.8 854.7 268.5 855.0 268.6 855.3 267.5 855.7 266.8 856.0 269.0 856.3 267.0 856.6 266.9 856.9 267.5 857.2 268.7 857.5 268.5 857.8 267.4 858.1 269.3 858.4 266.9 858.8 266.5 859.1 268.7 859.4 268.5 859.7 267.2 860.0 268.2 860.3 267.2 860.6 268.0 860.9 268.1 861.2 267.8 861.6 267.2 861.9 267.2 862.2 267.7 862.5 266.7 862.8 266.6 863.1 267.1 863.4 268.7 863.7 268.1 864.0 267.8 864.3 267.3 864.7 266.7 865.0 268.1 865.3 266.8 865.6 268.5 865.9 267.4 866.2 268.0 866.5 267.8 866.8 266.7 867.1 267.9 867.5 267.6 867.8 266.4 868.1 267.4 868.4 268.6 868.7 268.4 869.0 267.9 869.3 267.3 869.6 267.1 869.9 268.0 870.2 266.8 870.6 265.9 870.9 264.0 871.2 263.4 871.5 264.2 871.8 264.6 872.1 266.1 872.4 266.7 872.7 266.2 873.0 266.9 873.4 267.9 873.7 267.8 874.0 266.7 874.3 267.6 874.6 268.0 874.9 267.2 875.2 268.5 875.5 267.4 875.8 267.9 876.1 267.3 876.5 265.9 876.8 267.3 877.1 268.3 877.4 268.7 877.7 267.4 878.0 267.7 878.3 268.5 878.6 267.9 878.9 267.5 879.3 268.3 879.6 267.6 879.9 267.2 880.2 268.0 880.5 266.5 880.8 268.1 881.1 268.3 881.4 266.7 881.7 267.8 882.0 268.0 882.4 268.2 882.7 267.2 883.0 268.0 883.3 267.8 883.6 268.8 883.9 268.5 884.2 267.8 884.5 268.5 884.8 267.8 885.2 266.7 885.5 267.4 885.8 266.7 886.1 268.2 886.4 267.0 886.7 267.8 887.0 266.9 887.3 268.3 887.6 267.4 887.9 266.8 888.3 267.3 888.6 267.2 888.9 267.6 889.2 269.1 889.5 268.0 889.8 268.0 890.1 266.8 890.4 267.3 890.7 268.1 891.1 266.7 891.4 267.1 891.7 268.6 892.0 266.5 892.3 267.1 892.6 265.4 892.9 266.6 893.2 268.5 893.5 266.5 893.8 267.2 894.2 267.7 894.5 267.1 894.8 266.9 895.1 267.6 895.4 268.0 895.7 266.9 896.0 267.1 896.3 268.2 896.6 266.4 897.0 267.5 897.3 266.0 897.6 266.3 897.9 267.4 898.2 266.7 898.5 268.1 898.8 267.2 899.1 268.7 899.4 268.1 899.7 267.4 900.1 266.9 900.4 266.7 900.7 266.5 901.0 266.6 901.3 267.6 901.6 267.4 901.9 267.8 902.2 267.3 902.5 268.6 902.9 267.9 903.2 266.3 903.5 267.2 903.8 267.8 904.1 266.8 904.4 267.1 904.7 267.3 905.0 267.5 905.3 268.0 905.6 267.3 906.0 267.2 906.3 267.2 906.6 266.2 906.9 267.2 907.2 267.0 907.5 266.3 907.8 266.6 908.1 268.7 908.4 267.3 908.7 268.0 909.1 267.8 909.4 266.5 909.7 266.1 910.0 266.9 910.3 268.9 910.6 267.6 910.9 267.4 911.2 267.6 911.5 266.0 911.9 266.9 912.2 266.7 912.5 267.1 912.8 266.5 913.1 267.3 913.4 268.1 913.7 267.2 914.0 267.7 914.3 268.3 914.6 268.6 915.0 267.6 915.3 267.4 915.6 265.8 915.9 267.6 916.2 267.7 916.5 267.2 916.8 266.6 917.1 268.1 917.4 267.3 917.8 266.2 918.1 266.0 918.4 267.7 918.7 268.4 919.0 267.2 919.3 267.3 919.6 266.4 919.9 266.5 920.2 267.1 920.5 267.7 920.9 266.9 921.2 267.7 921.5 267.8 921.8 267.2 922.1 265.7 922.4 265.8 922.7 266.0 923.0 268.3 923.3 266.6 923.7 267.7 924.0 266.7 924.3 266.4 924.6 266.6 924.9 267.6 925.2 267.8 925.5 266.6 925.8 266.2 926.1 267.6 926.4 267.7 926.8 267.2 927.1 267.5 927.4 266.3 927.7 266.3 928.0 266.4 928.3 267.5 928.6 267.7 928.9 267.3 929.2 266.9 929.6 266.4 929.9 266.7 930.2 267.3 930.5 266.6 930.8 266.4 931.1 267.1 931.4 267.7 931.7 266.6 932.0 266.3 932.3 266.5 932.7 267.7 933.0 266.7 933.3 266.9 933.6 267.1 933.9 267.1 934.2 267.3 934.5 267.4 934.8 266.7 935.1 266.9 935.5 266.9 935.8 267.8 936.1 266.8 936.4 265.8 936.7 267.7 937.0 266.9 937.3 266.9 937.6 266.7 937.9 266.4" stroke="#e53935" stroke-width="0.75" fill="none" stroke-linejoin="round" clip-path="url(#c24)"/>
<path d="M848.2 268.0 848.5 268.4 848.8 268.4 849.1 267.7 849.4 268.9 849.8 267.1 850.1 268.0 850.4 267.8 850.7 268.0 851.0 267.0 851.3 268.5 851.6 267.4 851.9 267.6 852.2 267.2 852.5 267.3 852.9 268.4 853.2 268.7 853.5 269.0 853.8 268.0 854.1 267.5 854.4 267.7 854.7 268.0 855.0 267.5 855.3 268.6 855.7 267.1 856.0 267.0 856.3 267.1 856.6 267.4 856.9 266.8 857.2 268.5 857.5 268.3 857.8 267.7 858.1 267.8 858.4 267.9 858.8 267.5 859.1 267.9 859.4 266.9 859.7 267.7 860.0 269.0 860.3 268.0 860.6 268.1 860.9 268.5 861.2 267.2 861.6 268.3 861.9 268.7 862.2 267.9 862.5 266.7 862.8 267.7 863.1 266.7 863.4 267.3 863.7 266.7 864.0 267.3 864.3 267.4 864.7 269.3 865.0 268.5 865.3 268.5 865.6 267.9 865.9 267.2 866.2 267.3 866.5 267.4 866.8 268.7 867.1 268.2 867.5 267.8 867.8 267.4 868.1 267.6 868.4 268.2 868.7 268.5 869.0 267.1 869.3 268.1 869.6 267.5 869.9 266.9 870.2 265.9 870.6 265.7 870.9 265.1 871.2 264.2 871.5 264.9 871.8 265.1 872.1 267.0 872.4 267.1 872.7 268.0 873.0 266.3 873.4 268.6 873.7 267.9 874.0 267.8 874.3 267.9 874.6 268.3 874.9 268.1 875.2 267.7 875.5 266.8 875.8 266.9 876.1 266.6 876.5 267.8 876.8 267.4 877.1 266.8 877.4 267.2 877.7 267.4 878.0 267.5 878.3 267.0 878.6 267.8 878.9 267.3 879.3 267.9 879.6 267.1 879.9 267.2 880.2 267.5 880.5 268.2 880.8 267.6 881.1 266.6 881.4 267.8 881.7 267.3 882.0 268.4 882.4 268.1 882.7 267.5 883.0 267.0 883.3 267.0 883.6 267.8 883.9 266.4 884.2 269.0 884.5 268.3 884.8 266.9 885.2 266.8 885.5 266.5 885.8 267.9 886.1 268.2 886.4 268.3 886.7 268.0 887.0 267.2 887.3 267.7 887.6 267.7 887.9 267.1 888.3 267.6 888.6 267.3 888.9 266.6 889.2 267.8 889.5 267.4 889.8 267.9 890.1 267.0 890.4 268.1 890.7 267.9 891.1 267.1 891.4 268.5 891.7 266.4 892.0 267.1 892.3 267.5 892.6 267.6 892.9 267.1 893.2 267.2 893.5 267.9 893.8 267.3 894.2 267.9 894.5 267.7 894.8 267.4 895.1 267.3 895.4 267.5 895.7 267.4 896.0 267.6 896.3 267.5 896.6 266.5 897.0 266.6 897.3 267.8 897.6 268.5 897.9 266.9 898.2 266.3 898.5 267.5 898.8 267.1 899.1 267.3 899.4 267.1 899.7 267.6 900.1 267.3 900.4 267.4 900.7 267.5 901.0 267.2 901.3 268.1 901.6 266.7 901.9 267.2 902.2 267.2 902.5 267.7 902.9 268.4 903.2 267.3 903.5 267.5 903.8 268.6 904.1 266.6 904.4 266.4 904.7 267.4 905.0 267.0 905.3 266.4 905.6 266.9 906.0 268.8 906.3 266.6 906.6 268.3 906.9 267.5 907.2 266.4 907.5 267.7 907.8 268.1 908.1 267.3 908.4 267.4 908.7 268.4 909.1 266.4 909.4 267.3 909.7 267.3 910.0 267.2 910.3 267.2 910.6 266.5 910.9 267.3 911.2 267.6 911.5 267.0 911.9 267.1 912.2 266.8 912.5 267.7 912.8 267.0 913.1 266.9 913.4 267.8 913.7 266.9 914.0 267.2 914.3 266.4 914.6 266.3 915.0 267.0 915.3 267.8 915.6 267.2 915.9 267.7 916.2 267.6 916.5 266.5 916.8 266.9 917.1 267.3 917.4 267.7 917.8 267.1 918.1 266.4 918.4 266.8 918.7 267.0 919.0 267.0 919.3 266.4 919.6 266.7 919.9 267.0 920.2 268.3 920.5 266.7 920.9 267.0 921.2 267.1 921.5 266.5 921.8 267.5 922.1 266.9 922.4 267.0 922.7 267.9 923.0 267.2 923.3 267.0 923.7 266.5 924.0 266.8 924.3 267.1 924.6 266.7 924.9 268.2 925.2 267.3 925.5 267.5 925.8 266.8 926.1 266.1 926.4 266.7 926.8 266.5 927.1 266.6 927.4 266.2 927.7 267.6 928.0 266.8 928.3 267.5 928.6 267.3 928.9 266.6 929.2 266.6 929.6 267.1 929.9 266.4 930.2 267.0 930.5 267.1 930.8 267.0 931.1 267.0 931.4 266.4 931.7 266.4 932.0 267.2 932.3 267.1 932.7 267.2 933.0 266.7 933.3 266.8 933.6 266.7 933.9 267.6 934.2 266.8 934.5 267.3 934.8 267.5 935.1 266.9 935.5 267.1 935.8 266.7 936.1 266.7 936.4 267.0 936.7 266.7 937.0 266.8 937.3 267.0 937.6 267.4 937.9 266.4" stroke="#111" stroke-width="0.6" fill="none" stroke-linejoin="round" clip-path="url(#c24)"/>
<rect x="848.2" y="231.5" width="89.80" height="39.90" fill="none" stroke="#707070" stroke-width="0.8"/>
<path d="M848.20 271.40v1.2M860.62 271.40v1.2M873.04 271.40v1.2M885.46 271.40v1.2M897.88 271.40v1.2M910.30 271.40v1.2M922.72 271.40v1.2M935.14 271.40v1.2" stroke="#555" stroke-width="0.45" fill="none"/>
<text x="848.20" y="277.40" font-size="4.8" style="fill:#333" text-anchor="middle" xml:space="preserve">2</text>
<text x="860.62" y="277.40" font-size="4.8" style="fill:#333" text-anchor="middle" xml:space="preserve">3</text>
<text x="873.04" y="277.40" font-size="4.8" style="fill:#333" text-anchor="middle" xml:space="preserve">4</text>
<text x="885.46" y="277.40" font-size="4.8" style="fill:#333" text-anchor="middle" xml:space="preserve">5</text>
<text x="897.88" y="277.40" font-size="4.8" style="fill:#333" text-anchor="middle" xml:space="preserve">6</text>
<text x="910.30" y="277.40" font-size="4.8" style="fill:#333" text-anchor="middle" xml:space="preserve">7</text>
<text x="922.72" y="277.40" font-size="4.8" style="fill:#333" text-anchor="middle" xml:space="preserve">8</text>
<text x="935.14" y="277.40" font-size="4.8" style="fill:#333" text-anchor="middle" xml:space="preserve">9</text>
</g>
<path d="M895.80 498.25h10.50v1.50h-10.50zM907.80 498.25h4.50v1.50h-4.50zM916.80 498.25h3.00v1.50h-3.00zM921.30 498.25h1.50v1.50h-1.50zM927.30 498.25h1.50v1.50h-1.50zM934.80 498.25h10.50v1.50h-10.50zM895.80 499.75h1.50v1.50h-1.50zM904.80 499.75h1.50v1.50h-1.50zM910.80 499.75h1.50v1.50h-1.50zM915.30 499.75h3.00v1.50h-3.00zM919.80 499.75h4.50v1.50h-4.50zM930.30 499.75h1.50v1.50h-1.50zM934.80 499.75h1.50v1.50h-1.50zM943.80 499.75h1.50v1.50h-1.50zM895.80 501.25h1.50v1.50h-1.50zM898.80 501.25h4.50v1.50h-4.50zM904.80 501.25h1.50v1.50h-1.50zM907.80 501.25h4.50v1.50h-4.50zM918.30 501.25h1.50v1.50h-1.50zM921.30 501.25h4.50v1.50h-4.50zM927.30 501.25h3.00v1.50h-3.00zM931.80 501.25h1.50v1.50h-1.50zM934.80 501.25h1.50v1.50h-1.50zM937.80 501.25h4.50v1.50h-4.50zM943.80 501.25h1.50v1.50h-1.50zM895.80 502.75h1.50v1.50h-1.50zM898.80 502.75h4.50v1.50h-4.50zM904.80 502.75h1.50v1.50h-1.50zM907.80 502.75h3.00v1.50h-3.00zM912.30 502.75h4.50v1.50h-4.50zM918.30 502.75h1.50v1.50h-1.50zM924.30 502.75h1.50v1.50h-1.50zM930.30 502.75h3.00v1.50h-3.00zM934.80 502.75h1.50v1.50h-1.50zM937.80 502.75h4.50v1.50h-4.50zM943.80 502.75h1.50v1.50h-1.50zM895.80 504.25h1.50v1.50h-1.50zM898.80 504.25h4.50v1.50h-4.50zM904.80 504.25h1.50v1.50h-1.50zM907.80 504.25h3.00v1.50h-3.00zM913.80 504.25h4.50v1.50h-4.50zM919.80 504.25h3.00v1.50h-3.00zM925.80 504.25h1.50v1.50h-1.50zM928.80 504.25h1.50v1.50h-1.50zM931.80 504.25h1.50v1.50h-1.50zM934.80 504.25h1.50v1.50h-1.50zM937.80 504.25h4.50v1.50h-4.50zM943.80 504.25h1.50v1.50h-1.50zM895.80 505.75h1.50v1.50h-1.50zM904.80 505.75h1.50v1.50h-1.50zM909.30 505.75h4.50v1.50h-4.50zM922.80 505.75h1.50v1.50h-1.50zM927.30 505.75h3.00v1.50h-3.00zM931.80 505.75h1.50v1.50h-1.50zM934.80 505.75h1.50v1.50h-1.50zM943.80 505.75h1.50v1.50h-1.50zM895.80 507.25h10.50v1.50h-10.50zM907.80 507.25h1.50v1.50h-1.50zM910.80 507.25h1.50v1.50h-1.50zM913.80 507.25h1.50v1.50h-1.50zM916.80 507.25h1.50v1.50h-1.50zM919.80 507.25h1.50v1.50h-1.50zM922.80 507.25h1.50v1.50h-1.50zM925.80 507.25h1.50v1.50h-1.50zM928.80 507.25h1.50v1.50h-1.50zM931.80 507.25h1.50v1.50h-1.50zM934.80 507.25h10.50v1.50h-10.50zM907.80 508.75h1.50v1.50h-1.50zM912.30 508.75h1.50v1.50h-1.50zM919.80 508.75h4.50v1.50h-4.50zM927.30 508.75h4.50v1.50h-4.50zM897.30 510.25h12.00v1.50h-12.00zM912.30 510.25h3.00v1.50h-3.00zM919.80 510.25h6.00v1.50h-6.00zM927.30 510.25h4.50v1.50h-4.50zM933.30 510.25h1.50v1.50h-1.50zM936.30 510.25h1.50v1.50h-1.50zM939.30 510.25h1.50v1.50h-1.50zM901.80 511.75h1.50v1.50h-1.50zM907.80 511.75h3.00v1.50h-3.00zM912.30 511.75h13.50v1.50h-13.50zM927.30 511.75h1.50v1.50h-1.50zM931.80 511.75h3.00v1.50h-3.00zM943.80 511.75h1.50v1.50h-1.50zM897.30 513.25h1.50v1.50h-1.50zM901.80 513.25h1.50v1.50h-1.50zM904.80 513.25h1.50v1.50h-1.50zM907.80 513.25h1.50v1.50h-1.50zM910.80 513.25h1.50v1.50h-1.50zM921.30 513.25h1.50v1.50h-1.50zM924.30 513.25h1.50v1.50h-1.50zM927.30 513.25h1.50v1.50h-1.50zM931.80 513.25h1.50v1.50h-1.50zM937.80 513.25h1.50v1.50h-1.50zM942.30 513.25h3.00v1.50h-3.00zM895.80 514.75h1.50v1.50h-1.50zM898.80 514.75h1.50v1.50h-1.50zM903.30 514.75h1.50v1.50h-1.50zM907.80 514.75h7.50v1.50h-7.50zM916.80 514.75h3.00v1.50h-3.00zM925.80 514.75h3.00v1.50h-3.00zM933.30 514.75h1.50v1.50h-1.50zM937.80 514.75h1.50v1.50h-1.50zM942.30 514.75h3.00v1.50h-3.00zM897.30 516.25h6.00v1.50h-6.00zM904.80 516.25h3.00v1.50h-3.00zM910.80 516.25h1.50v1.50h-1.50zM913.80 516.25h1.50v1.50h-1.50zM919.80 516.25h1.50v1.50h-1.50zM922.80 516.25h4.50v1.50h-4.50zM928.80 516.25h1.50v1.50h-1.50zM933.30 516.25h4.50v1.50h-4.50zM940.80 516.25h1.50v1.50h-1.50zM943.80 516.25h1.50v1.50h-1.50zM903.30 517.75h1.50v1.50h-1.50zM906.30 517.75h1.50v1.50h-1.50zM913.80 517.75h1.50v1.50h-1.50zM916.80 517.75h3.00v1.50h-3.00zM924.30 517.75h1.50v1.50h-1.50zM927.30 517.75h1.50v1.50h-1.50zM931.80 517.75h4.50v1.50h-4.50zM937.80 517.75h1.50v1.50h-1.50zM943.80 517.75h1.50v1.50h-1.50zM897.30 519.25h1.50v1.50h-1.50zM904.80 519.25h1.50v1.50h-1.50zM907.80 519.25h10.50v1.50h-10.50zM921.30 519.25h4.50v1.50h-4.50zM927.30 519.25h7.50v1.50h-7.50zM942.30 519.25h1.50v1.50h-1.50zM897.30 520.75h1.50v1.50h-1.50zM900.30 520.75h1.50v1.50h-1.50zM912.30 520.75h1.50v1.50h-1.50zM915.30 520.75h4.50v1.50h-4.50zM921.30 520.75h7.50v1.50h-7.50zM930.30 520.75h1.50v1.50h-1.50zM934.80 520.75h3.00v1.50h-3.00zM939.30 520.75h3.00v1.50h-3.00zM897.30 522.25h1.50v1.50h-1.50zM901.80 522.25h1.50v1.50h-1.50zM904.80 522.25h3.00v1.50h-3.00zM909.30 522.25h3.00v1.50h-3.00zM919.80 522.25h6.00v1.50h-6.00zM927.30 522.25h6.00v1.50h-6.00zM934.80 522.25h6.00v1.50h-6.00zM942.30 522.25h3.00v1.50h-3.00zM895.80 523.75h1.50v1.50h-1.50zM906.30 523.75h1.50v1.50h-1.50zM909.30 523.75h1.50v1.50h-1.50zM912.30 523.75h1.50v1.50h-1.50zM922.80 523.75h3.00v1.50h-3.00zM927.30 523.75h3.00v1.50h-3.00zM933.30 523.75h6.00v1.50h-6.00zM940.80 523.75h3.00v1.50h-3.00zM895.80 525.25h3.00v1.50h-3.00zM904.80 525.25h1.50v1.50h-1.50zM915.30 525.25h1.50v1.50h-1.50zM918.30 525.25h1.50v1.50h-1.50zM925.80 525.25h1.50v1.50h-1.50zM930.30 525.25h4.50v1.50h-4.50zM936.30 525.25h1.50v1.50h-1.50zM939.30 525.25h1.50v1.50h-1.50zM942.30 525.25h1.50v1.50h-1.50zM895.80 526.75h1.50v1.50h-1.50zM903.30 526.75h1.50v1.50h-1.50zM906.30 526.75h3.00v1.50h-3.00zM918.30 526.75h3.00v1.50h-3.00zM924.30 526.75h1.50v1.50h-1.50zM928.80 526.75h3.00v1.50h-3.00zM934.80 526.75h1.50v1.50h-1.50zM937.80 526.75h1.50v1.50h-1.50zM940.80 526.75h1.50v1.50h-1.50zM943.80 526.75h1.50v1.50h-1.50zM895.80 528.25h1.50v1.50h-1.50zM898.80 528.25h4.50v1.50h-4.50zM904.80 528.25h1.50v1.50h-1.50zM907.80 528.25h4.50v1.50h-4.50zM918.30 528.25h1.50v1.50h-1.50zM921.30 528.25h10.50v1.50h-10.50zM933.30 528.25h3.00v1.50h-3.00zM940.80 528.25h1.50v1.50h-1.50zM943.80 528.25h1.50v1.50h-1.50zM895.80 529.75h1.50v1.50h-1.50zM906.30 529.75h4.50v1.50h-4.50zM912.30 529.75h1.50v1.50h-1.50zM918.30 529.75h3.00v1.50h-3.00zM928.80 529.75h1.50v1.50h-1.50zM931.80 529.75h1.50v1.50h-1.50zM937.80 529.75h3.00v1.50h-3.00zM942.30 529.75h3.00v1.50h-3.00zM895.80 531.25h4.50v1.50h-4.50zM901.80 531.25h7.50v1.50h-7.50zM910.80 531.25h9.00v1.50h-9.00zM921.30 531.25h1.50v1.50h-1.50zM924.30 531.25h4.50v1.50h-4.50zM931.80 531.25h6.00v1.50h-6.00zM939.30 531.25h3.00v1.50h-3.00zM943.80 531.25h1.50v1.50h-1.50zM895.80 532.75h1.50v1.50h-1.50zM898.80 532.75h4.50v1.50h-4.50zM906.30 532.75h4.50v1.50h-4.50zM912.30 532.75h1.50v1.50h-1.50zM918.30 532.75h1.50v1.50h-1.50zM922.80 532.75h1.50v1.50h-1.50zM927.30 532.75h1.50v1.50h-1.50zM930.30 532.75h1.50v1.50h-1.50zM934.80 532.75h1.50v1.50h-1.50zM937.80 532.75h1.50v1.50h-1.50zM942.30 532.75h3.00v1.50h-3.00zM895.80 534.25h10.50v1.50h-10.50zM909.30 534.25h1.50v1.50h-1.50zM913.80 534.25h3.00v1.50h-3.00zM918.30 534.25h1.50v1.50h-1.50zM922.80 534.25h3.00v1.50h-3.00zM928.80 534.25h1.50v1.50h-1.50zM931.80 534.25h7.50v1.50h-7.50zM940.80 534.25h1.50v1.50h-1.50zM915.30 535.75h1.50v1.50h-1.50zM918.30 535.75h1.50v1.50h-1.50zM922.80 535.75h3.00v1.50h-3.00zM927.30 535.75h1.50v1.50h-1.50zM930.30 535.75h3.00v1.50h-3.00zM937.80 535.75h4.50v1.50h-4.50zM895.80 537.25h10.50v1.50h-10.50zM910.80 537.25h3.00v1.50h-3.00zM915.30 537.25h1.50v1.50h-1.50zM918.30 537.25h1.50v1.50h-1.50zM922.80 537.25h3.00v1.50h-3.00zM928.80 537.25h1.50v1.50h-1.50zM931.80 537.25h1.50v1.50h-1.50zM934.80 537.25h1.50v1.50h-1.50zM937.80 537.25h4.50v1.50h-4.50zM943.80 537.25h1.50v1.50h-1.50zM895.80 538.75h1.50v1.50h-1.50zM904.80 538.75h1.50v1.50h-1.50zM909.30 538.75h6.00v1.50h-6.00zM918.30 538.75h6.00v1.50h-6.00zM931.80 538.75h1.50v1.50h-1.50zM937.80 538.75h3.00v1.50h-3.00zM895.80 540.25h1.50v1.50h-1.50zM898.80 540.25h4.50v1.50h-4.50zM904.80 540.25h1.50v1.50h-1.50zM907.80 540.25h1.50v1.50h-1.50zM912.30 540.25h1.50v1.50h-1.50zM915.30 540.25h1.50v1.50h-1.50zM918.30 540.25h3.00v1.50h-3.00zM922.80 540.25h6.00v1.50h-6.00zM931.80 540.25h9.00v1.50h-9.00zM895.80 541.75h1.50v1.50h-1.50zM898.80 541.75h4.50v1.50h-4.50zM904.80 541.75h1.50v1.50h-1.50zM907.80 541.75h1.50v1.50h-1.50zM910.80 541.75h1.50v1.50h-1.50zM913.80 541.75h6.00v1.50h-6.00zM921.30 541.75h1.50v1.50h-1.50zM924.30 541.75h3.00v1.50h-3.00zM928.80 541.75h1.50v1.50h-1.50zM934.80 541.75h3.00v1.50h-3.00zM939.30 541.75h4.50v1.50h-4.50zM895.80 543.25h1.50v1.50h-1.50zM898.80 543.25h4.50v1.50h-4.50zM904.80 543.25h1.50v1.50h-1.50zM909.30 543.25h7.50v1.50h-7.50zM918.30 543.25h1.50v1.50h-1.50zM921.30 543.25h1.50v1.50h-1.50zM924.30 543.25h1.50v1.50h-1.50zM928.80 543.25h1.50v1.50h-1.50zM931.80 543.25h3.00v1.50h-3.00zM937.80 543.25h3.00v1.50h-3.00zM895.80 544.75h1.50v1.50h-1.50zM904.80 544.75h1.50v1.50h-1.50zM912.30 544.75h1.50v1.50h-1.50zM915.30 544.75h7.50v1.50h-7.50zM927.30 544.75h4.50v1.50h-4.50zM934.80 544.75h1.50v1.50h-1.50zM937.80 544.75h6.00v1.50h-6.00zM895.80 546.25h10.50v1.50h-10.50zM907.80 546.25h1.50v1.50h-1.50zM910.80 546.25h1.50v1.50h-1.50zM913.80 546.25h3.00v1.50h-3.00zM919.80 546.25h1.50v1.50h-1.50zM924.30 546.25h1.50v1.50h-1.50zM927.30 546.25h1.50v1.50h-1.50zM930.30 546.25h3.00v1.50h-3.00zM943.80 546.25h1.50v1.50h-1.50z" fill="#111" shape-rendering="crispEdges"/>
</svg>
</body></html>
